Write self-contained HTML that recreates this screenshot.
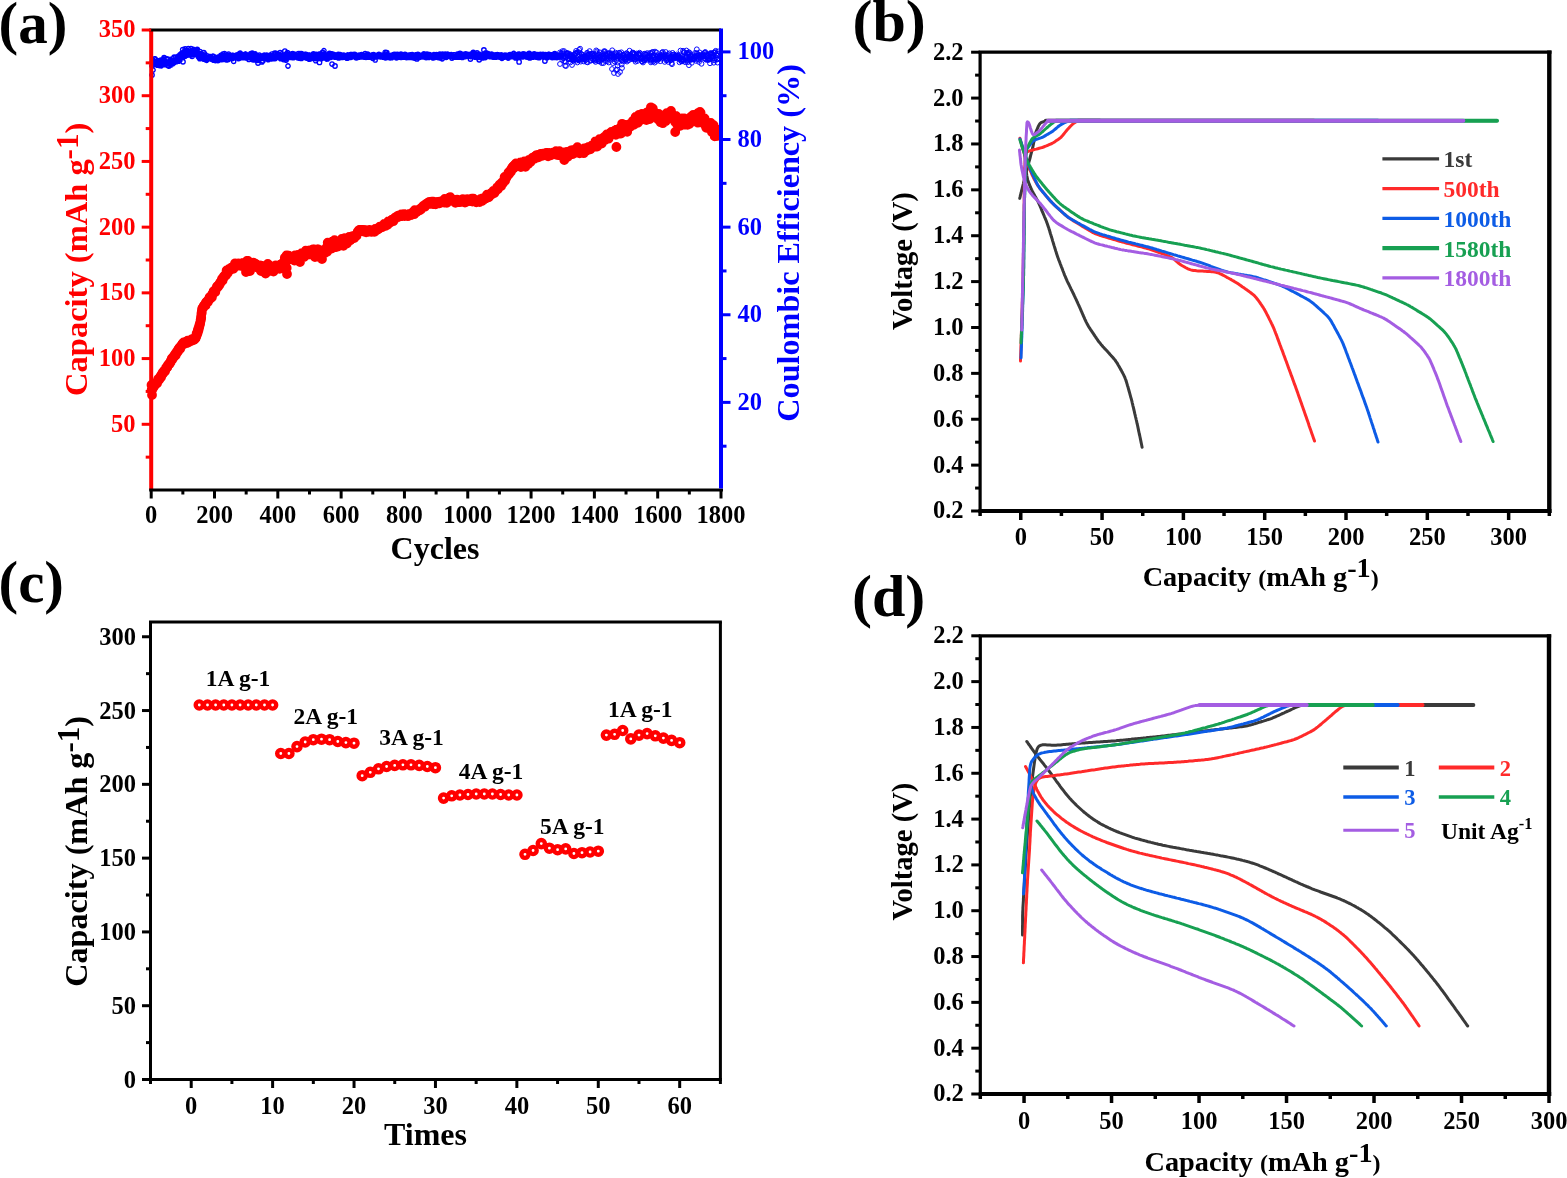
<!DOCTYPE html>
<html><head><meta charset="utf-8"><title>Figure</title>
<style>
html,body{margin:0;padding:0;background:#fff;}
svg{display:block;}
text{font-family:'Liberation Serif','Times New Roman',serif;font-weight:bold;}
</style></head>
<body>
<svg width="1567" height="1178" viewBox="0 0 1567 1178">
<rect width="1567" height="1178" fill="#fff"/>
<path d="M150.3 61.7a2.2 2.2 0 1 0 4.4 0a2.2 2.2 0 1 0 -4.4 0M150.6 63.2a2.2 2.2 0 1 0 4.4 0a2.2 2.2 0 1 0 -4.4 0M150.9 60.4a2.2 2.2 0 1 0 4.4 0a2.2 2.2 0 1 0 -4.4 0M151.2 61.8a2.2 2.2 0 1 0 4.4 0a2.2 2.2 0 1 0 -4.4 0M151.6 64.4a2.2 2.2 0 1 0 4.4 0a2.2 2.2 0 1 0 -4.4 0M151.9 62.8a2.2 2.2 0 1 0 4.4 0a2.2 2.2 0 1 0 -4.4 0M152.2 59.0a2.2 2.2 0 1 0 4.4 0a2.2 2.2 0 1 0 -4.4 0M152.5 64.1a2.2 2.2 0 1 0 4.4 0a2.2 2.2 0 1 0 -4.4 0M152.8 59.1a2.2 2.2 0 1 0 4.4 0a2.2 2.2 0 1 0 -4.4 0M153.1 59.0a2.2 2.2 0 1 0 4.4 0a2.2 2.2 0 1 0 -4.4 0M153.4 63.1a2.2 2.2 0 1 0 4.4 0a2.2 2.2 0 1 0 -4.4 0M153.8 62.5a2.2 2.2 0 1 0 4.4 0a2.2 2.2 0 1 0 -4.4 0M154.1 63.2a2.2 2.2 0 1 0 4.4 0a2.2 2.2 0 1 0 -4.4 0M154.4 63.4a2.2 2.2 0 1 0 4.4 0a2.2 2.2 0 1 0 -4.4 0M154.7 63.8a2.2 2.2 0 1 0 4.4 0a2.2 2.2 0 1 0 -4.4 0M155.0 65.1a2.2 2.2 0 1 0 4.4 0a2.2 2.2 0 1 0 -4.4 0M155.3 62.0a2.2 2.2 0 1 0 4.4 0a2.2 2.2 0 1 0 -4.4 0M155.6 62.5a2.2 2.2 0 1 0 4.4 0a2.2 2.2 0 1 0 -4.4 0M156.0 61.9a2.2 2.2 0 1 0 4.4 0a2.2 2.2 0 1 0 -4.4 0M156.3 60.9a2.2 2.2 0 1 0 4.4 0a2.2 2.2 0 1 0 -4.4 0M156.6 61.2a2.2 2.2 0 1 0 4.4 0a2.2 2.2 0 1 0 -4.4 0M156.9 63.4a2.2 2.2 0 1 0 4.4 0a2.2 2.2 0 1 0 -4.4 0M157.2 63.0a2.2 2.2 0 1 0 4.4 0a2.2 2.2 0 1 0 -4.4 0M157.5 65.6a2.2 2.2 0 1 0 4.4 0a2.2 2.2 0 1 0 -4.4 0M157.8 62.8a2.2 2.2 0 1 0 4.4 0a2.2 2.2 0 1 0 -4.4 0M158.2 61.3a2.2 2.2 0 1 0 4.4 0a2.2 2.2 0 1 0 -4.4 0M158.5 60.0a2.2 2.2 0 1 0 4.4 0a2.2 2.2 0 1 0 -4.4 0M158.8 64.6a2.2 2.2 0 1 0 4.4 0a2.2 2.2 0 1 0 -4.4 0M159.1 65.8a2.2 2.2 0 1 0 4.4 0a2.2 2.2 0 1 0 -4.4 0M159.4 63.6a2.2 2.2 0 1 0 4.4 0a2.2 2.2 0 1 0 -4.4 0M159.7 64.1a2.2 2.2 0 1 0 4.4 0a2.2 2.2 0 1 0 -4.4 0M160.0 61.6a2.2 2.2 0 1 0 4.4 0a2.2 2.2 0 1 0 -4.4 0M160.4 60.9a2.2 2.2 0 1 0 4.4 0a2.2 2.2 0 1 0 -4.4 0M160.7 61.7a2.2 2.2 0 1 0 4.4 0a2.2 2.2 0 1 0 -4.4 0M161.0 59.8a2.2 2.2 0 1 0 4.4 0a2.2 2.2 0 1 0 -4.4 0M161.3 63.2a2.2 2.2 0 1 0 4.4 0a2.2 2.2 0 1 0 -4.4 0M161.6 58.9a2.2 2.2 0 1 0 4.4 0a2.2 2.2 0 1 0 -4.4 0M161.9 57.6a2.2 2.2 0 1 0 4.4 0a2.2 2.2 0 1 0 -4.4 0M162.2 60.4a2.2 2.2 0 1 0 4.4 0a2.2 2.2 0 1 0 -4.4 0M162.6 64.6a2.2 2.2 0 1 0 4.4 0a2.2 2.2 0 1 0 -4.4 0M162.9 63.1a2.2 2.2 0 1 0 4.4 0a2.2 2.2 0 1 0 -4.4 0M163.2 63.4a2.2 2.2 0 1 0 4.4 0a2.2 2.2 0 1 0 -4.4 0M163.5 63.6a2.2 2.2 0 1 0 4.4 0a2.2 2.2 0 1 0 -4.4 0M163.8 63.6a2.2 2.2 0 1 0 4.4 0a2.2 2.2 0 1 0 -4.4 0M164.1 64.4a2.2 2.2 0 1 0 4.4 0a2.2 2.2 0 1 0 -4.4 0M164.5 63.5a2.2 2.2 0 1 0 4.4 0a2.2 2.2 0 1 0 -4.4 0M164.8 64.1a2.2 2.2 0 1 0 4.4 0a2.2 2.2 0 1 0 -4.4 0M165.1 58.8a2.2 2.2 0 1 0 4.4 0a2.2 2.2 0 1 0 -4.4 0M165.4 59.7a2.2 2.2 0 1 0 4.4 0a2.2 2.2 0 1 0 -4.4 0M165.7 65.6a2.2 2.2 0 1 0 4.4 0a2.2 2.2 0 1 0 -4.4 0M166.0 63.0a2.2 2.2 0 1 0 4.4 0a2.2 2.2 0 1 0 -4.4 0M166.3 63.6a2.2 2.2 0 1 0 4.4 0a2.2 2.2 0 1 0 -4.4 0M166.7 66.1a2.2 2.2 0 1 0 4.4 0a2.2 2.2 0 1 0 -4.4 0M167.0 61.4a2.2 2.2 0 1 0 4.4 0a2.2 2.2 0 1 0 -4.4 0M167.3 61.8a2.2 2.2 0 1 0 4.4 0a2.2 2.2 0 1 0 -4.4 0M167.6 63.1a2.2 2.2 0 1 0 4.4 0a2.2 2.2 0 1 0 -4.4 0M167.9 60.3a2.2 2.2 0 1 0 4.4 0a2.2 2.2 0 1 0 -4.4 0M168.2 59.4a2.2 2.2 0 1 0 4.4 0a2.2 2.2 0 1 0 -4.4 0M168.5 65.0a2.2 2.2 0 1 0 4.4 0a2.2 2.2 0 1 0 -4.4 0M168.9 61.2a2.2 2.2 0 1 0 4.4 0a2.2 2.2 0 1 0 -4.4 0M169.2 60.2a2.2 2.2 0 1 0 4.4 0a2.2 2.2 0 1 0 -4.4 0M169.5 63.4a2.2 2.2 0 1 0 4.4 0a2.2 2.2 0 1 0 -4.4 0M169.8 64.1a2.2 2.2 0 1 0 4.4 0a2.2 2.2 0 1 0 -4.4 0M170.1 61.6a2.2 2.2 0 1 0 4.4 0a2.2 2.2 0 1 0 -4.4 0M170.4 63.8a2.2 2.2 0 1 0 4.4 0a2.2 2.2 0 1 0 -4.4 0M170.7 63.1a2.2 2.2 0 1 0 4.4 0a2.2 2.2 0 1 0 -4.4 0M171.1 60.8a2.2 2.2 0 1 0 4.4 0a2.2 2.2 0 1 0 -4.4 0M171.4 60.7a2.2 2.2 0 1 0 4.4 0a2.2 2.2 0 1 0 -4.4 0M171.7 57.7a2.2 2.2 0 1 0 4.4 0a2.2 2.2 0 1 0 -4.4 0M172.0 57.2a2.2 2.2 0 1 0 4.4 0a2.2 2.2 0 1 0 -4.4 0M172.3 62.5a2.2 2.2 0 1 0 4.4 0a2.2 2.2 0 1 0 -4.4 0M172.6 62.1a2.2 2.2 0 1 0 4.4 0a2.2 2.2 0 1 0 -4.4 0M172.9 60.0a2.2 2.2 0 1 0 4.4 0a2.2 2.2 0 1 0 -4.4 0M173.3 61.3a2.2 2.2 0 1 0 4.4 0a2.2 2.2 0 1 0 -4.4 0M173.6 57.1a2.2 2.2 0 1 0 4.4 0a2.2 2.2 0 1 0 -4.4 0M173.9 60.4a2.2 2.2 0 1 0 4.4 0a2.2 2.2 0 1 0 -4.4 0M174.2 61.6a2.2 2.2 0 1 0 4.4 0a2.2 2.2 0 1 0 -4.4 0M174.5 59.1a2.2 2.2 0 1 0 4.4 0a2.2 2.2 0 1 0 -4.4 0M174.8 59.6a2.2 2.2 0 1 0 4.4 0a2.2 2.2 0 1 0 -4.4 0M175.1 57.6a2.2 2.2 0 1 0 4.4 0a2.2 2.2 0 1 0 -4.4 0M175.5 60.5a2.2 2.2 0 1 0 4.4 0a2.2 2.2 0 1 0 -4.4 0M175.8 57.0a2.2 2.2 0 1 0 4.4 0a2.2 2.2 0 1 0 -4.4 0M176.1 59.3a2.2 2.2 0 1 0 4.4 0a2.2 2.2 0 1 0 -4.4 0M176.4 61.2a2.2 2.2 0 1 0 4.4 0a2.2 2.2 0 1 0 -4.4 0M176.7 55.9a2.2 2.2 0 1 0 4.4 0a2.2 2.2 0 1 0 -4.4 0M177.0 56.1a2.2 2.2 0 1 0 4.4 0a2.2 2.2 0 1 0 -4.4 0M177.3 58.4a2.2 2.2 0 1 0 4.4 0a2.2 2.2 0 1 0 -4.4 0M177.7 60.1a2.2 2.2 0 1 0 4.4 0a2.2 2.2 0 1 0 -4.4 0M178.0 54.6a2.2 2.2 0 1 0 4.4 0a2.2 2.2 0 1 0 -4.4 0M178.3 57.7a2.2 2.2 0 1 0 4.4 0a2.2 2.2 0 1 0 -4.4 0M178.6 55.9a2.2 2.2 0 1 0 4.4 0a2.2 2.2 0 1 0 -4.4 0M178.9 57.1a2.2 2.2 0 1 0 4.4 0a2.2 2.2 0 1 0 -4.4 0M179.2 57.7a2.2 2.2 0 1 0 4.4 0a2.2 2.2 0 1 0 -4.4 0M179.5 53.3a2.2 2.2 0 1 0 4.4 0a2.2 2.2 0 1 0 -4.4 0M179.9 56.8a2.2 2.2 0 1 0 4.4 0a2.2 2.2 0 1 0 -4.4 0M180.2 56.1a2.2 2.2 0 1 0 4.4 0a2.2 2.2 0 1 0 -4.4 0M180.5 49.5a2.2 2.2 0 1 0 4.4 0a2.2 2.2 0 1 0 -4.4 0M180.8 61.8a2.2 2.2 0 1 0 4.4 0a2.2 2.2 0 1 0 -4.4 0M181.1 57.2a2.2 2.2 0 1 0 4.4 0a2.2 2.2 0 1 0 -4.4 0M181.4 55.9a2.2 2.2 0 1 0 4.4 0a2.2 2.2 0 1 0 -4.4 0M181.7 54.1a2.2 2.2 0 1 0 4.4 0a2.2 2.2 0 1 0 -4.4 0M182.1 51.5a2.2 2.2 0 1 0 4.4 0a2.2 2.2 0 1 0 -4.4 0M182.4 51.6a2.2 2.2 0 1 0 4.4 0a2.2 2.2 0 1 0 -4.4 0M182.7 56.2a2.2 2.2 0 1 0 4.4 0a2.2 2.2 0 1 0 -4.4 0M183.0 48.9a2.2 2.2 0 1 0 4.4 0a2.2 2.2 0 1 0 -4.4 0M183.3 55.3a2.2 2.2 0 1 0 4.4 0a2.2 2.2 0 1 0 -4.4 0M183.6 53.0a2.2 2.2 0 1 0 4.4 0a2.2 2.2 0 1 0 -4.4 0M183.9 52.8a2.2 2.2 0 1 0 4.4 0a2.2 2.2 0 1 0 -4.4 0M184.3 54.3a2.2 2.2 0 1 0 4.4 0a2.2 2.2 0 1 0 -4.4 0M184.6 55.1a2.2 2.2 0 1 0 4.4 0a2.2 2.2 0 1 0 -4.4 0M184.9 50.6a2.2 2.2 0 1 0 4.4 0a2.2 2.2 0 1 0 -4.4 0M185.2 54.2a2.2 2.2 0 1 0 4.4 0a2.2 2.2 0 1 0 -4.4 0M185.5 55.0a2.2 2.2 0 1 0 4.4 0a2.2 2.2 0 1 0 -4.4 0M185.8 51.7a2.2 2.2 0 1 0 4.4 0a2.2 2.2 0 1 0 -4.4 0M186.1 48.6a2.2 2.2 0 1 0 4.4 0a2.2 2.2 0 1 0 -4.4 0M186.5 53.9a2.2 2.2 0 1 0 4.4 0a2.2 2.2 0 1 0 -4.4 0M186.8 52.3a2.2 2.2 0 1 0 4.4 0a2.2 2.2 0 1 0 -4.4 0M187.1 54.0a2.2 2.2 0 1 0 4.4 0a2.2 2.2 0 1 0 -4.4 0M187.4 52.3a2.2 2.2 0 1 0 4.4 0a2.2 2.2 0 1 0 -4.4 0M187.7 54.5a2.2 2.2 0 1 0 4.4 0a2.2 2.2 0 1 0 -4.4 0M188.0 51.1a2.2 2.2 0 1 0 4.4 0a2.2 2.2 0 1 0 -4.4 0M188.3 54.3a2.2 2.2 0 1 0 4.4 0a2.2 2.2 0 1 0 -4.4 0M188.7 48.6a2.2 2.2 0 1 0 4.4 0a2.2 2.2 0 1 0 -4.4 0M189.0 54.7a2.2 2.2 0 1 0 4.4 0a2.2 2.2 0 1 0 -4.4 0M189.3 52.2a2.2 2.2 0 1 0 4.4 0a2.2 2.2 0 1 0 -4.4 0M189.6 52.6a2.2 2.2 0 1 0 4.4 0a2.2 2.2 0 1 0 -4.4 0M189.9 56.3a2.2 2.2 0 1 0 4.4 0a2.2 2.2 0 1 0 -4.4 0M190.2 52.8a2.2 2.2 0 1 0 4.4 0a2.2 2.2 0 1 0 -4.4 0M190.5 52.4a2.2 2.2 0 1 0 4.4 0a2.2 2.2 0 1 0 -4.4 0M190.9 50.3a2.2 2.2 0 1 0 4.4 0a2.2 2.2 0 1 0 -4.4 0M191.2 49.5a2.2 2.2 0 1 0 4.4 0a2.2 2.2 0 1 0 -4.4 0M191.5 51.7a2.2 2.2 0 1 0 4.4 0a2.2 2.2 0 1 0 -4.4 0M191.8 52.9a2.2 2.2 0 1 0 4.4 0a2.2 2.2 0 1 0 -4.4 0M192.1 54.5a2.2 2.2 0 1 0 4.4 0a2.2 2.2 0 1 0 -4.4 0M192.4 49.8a2.2 2.2 0 1 0 4.4 0a2.2 2.2 0 1 0 -4.4 0M192.8 51.7a2.2 2.2 0 1 0 4.4 0a2.2 2.2 0 1 0 -4.4 0M193.1 51.3a2.2 2.2 0 1 0 4.4 0a2.2 2.2 0 1 0 -4.4 0M193.4 51.7a2.2 2.2 0 1 0 4.4 0a2.2 2.2 0 1 0 -4.4 0M193.7 51.0a2.2 2.2 0 1 0 4.4 0a2.2 2.2 0 1 0 -4.4 0M194.0 54.2a2.2 2.2 0 1 0 4.4 0a2.2 2.2 0 1 0 -4.4 0M194.3 52.3a2.2 2.2 0 1 0 4.4 0a2.2 2.2 0 1 0 -4.4 0M194.6 49.9a2.2 2.2 0 1 0 4.4 0a2.2 2.2 0 1 0 -4.4 0M195.0 49.4a2.2 2.2 0 1 0 4.4 0a2.2 2.2 0 1 0 -4.4 0M195.3 52.2a2.2 2.2 0 1 0 4.4 0a2.2 2.2 0 1 0 -4.4 0M195.6 55.7a2.2 2.2 0 1 0 4.4 0a2.2 2.2 0 1 0 -4.4 0M195.9 55.7a2.2 2.2 0 1 0 4.4 0a2.2 2.2 0 1 0 -4.4 0M196.2 57.0a2.2 2.2 0 1 0 4.4 0a2.2 2.2 0 1 0 -4.4 0M196.5 55.8a2.2 2.2 0 1 0 4.4 0a2.2 2.2 0 1 0 -4.4 0M196.8 56.4a2.2 2.2 0 1 0 4.4 0a2.2 2.2 0 1 0 -4.4 0M197.2 57.4a2.2 2.2 0 1 0 4.4 0a2.2 2.2 0 1 0 -4.4 0M197.5 58.7a2.2 2.2 0 1 0 4.4 0a2.2 2.2 0 1 0 -4.4 0M197.8 51.5a2.2 2.2 0 1 0 4.4 0a2.2 2.2 0 1 0 -4.4 0M198.1 53.7a2.2 2.2 0 1 0 4.4 0a2.2 2.2 0 1 0 -4.4 0M198.4 56.3a2.2 2.2 0 1 0 4.4 0a2.2 2.2 0 1 0 -4.4 0M198.7 56.2a2.2 2.2 0 1 0 4.4 0a2.2 2.2 0 1 0 -4.4 0M199.0 56.8a2.2 2.2 0 1 0 4.4 0a2.2 2.2 0 1 0 -4.4 0M199.4 56.1a2.2 2.2 0 1 0 4.4 0a2.2 2.2 0 1 0 -4.4 0M199.7 57.0a2.2 2.2 0 1 0 4.4 0a2.2 2.2 0 1 0 -4.4 0M200.0 54.3a2.2 2.2 0 1 0 4.4 0a2.2 2.2 0 1 0 -4.4 0M200.3 55.5a2.2 2.2 0 1 0 4.4 0a2.2 2.2 0 1 0 -4.4 0M200.6 54.8a2.2 2.2 0 1 0 4.4 0a2.2 2.2 0 1 0 -4.4 0M200.9 55.0a2.2 2.2 0 1 0 4.4 0a2.2 2.2 0 1 0 -4.4 0M201.2 57.3a2.2 2.2 0 1 0 4.4 0a2.2 2.2 0 1 0 -4.4 0M201.6 52.6a2.2 2.2 0 1 0 4.4 0a2.2 2.2 0 1 0 -4.4 0M201.9 59.2a2.2 2.2 0 1 0 4.4 0a2.2 2.2 0 1 0 -4.4 0M202.2 57.4a2.2 2.2 0 1 0 4.4 0a2.2 2.2 0 1 0 -4.4 0M202.5 54.0a2.2 2.2 0 1 0 4.4 0a2.2 2.2 0 1 0 -4.4 0M202.8 58.6a2.2 2.2 0 1 0 4.4 0a2.2 2.2 0 1 0 -4.4 0M203.1 59.0a2.2 2.2 0 1 0 4.4 0a2.2 2.2 0 1 0 -4.4 0M203.4 59.8a2.2 2.2 0 1 0 4.4 0a2.2 2.2 0 1 0 -4.4 0M203.8 57.5a2.2 2.2 0 1 0 4.4 0a2.2 2.2 0 1 0 -4.4 0M204.1 57.4a2.2 2.2 0 1 0 4.4 0a2.2 2.2 0 1 0 -4.4 0M204.4 60.3a2.2 2.2 0 1 0 4.4 0a2.2 2.2 0 1 0 -4.4 0M204.7 58.7a2.2 2.2 0 1 0 4.4 0a2.2 2.2 0 1 0 -4.4 0M205.0 59.8a2.2 2.2 0 1 0 4.4 0a2.2 2.2 0 1 0 -4.4 0M205.3 58.7a2.2 2.2 0 1 0 4.4 0a2.2 2.2 0 1 0 -4.4 0M205.6 56.0a2.2 2.2 0 1 0 4.4 0a2.2 2.2 0 1 0 -4.4 0M206.0 57.7a2.2 2.2 0 1 0 4.4 0a2.2 2.2 0 1 0 -4.4 0M206.3 57.3a2.2 2.2 0 1 0 4.4 0a2.2 2.2 0 1 0 -4.4 0M206.6 58.2a2.2 2.2 0 1 0 4.4 0a2.2 2.2 0 1 0 -4.4 0M206.9 58.1a2.2 2.2 0 1 0 4.4 0a2.2 2.2 0 1 0 -4.4 0M207.2 58.0a2.2 2.2 0 1 0 4.4 0a2.2 2.2 0 1 0 -4.4 0M207.5 57.0a2.2 2.2 0 1 0 4.4 0a2.2 2.2 0 1 0 -4.4 0M207.8 58.7a2.2 2.2 0 1 0 4.4 0a2.2 2.2 0 1 0 -4.4 0M208.2 56.6a2.2 2.2 0 1 0 4.4 0a2.2 2.2 0 1 0 -4.4 0M208.5 57.6a2.2 2.2 0 1 0 4.4 0a2.2 2.2 0 1 0 -4.4 0M208.8 57.6a2.2 2.2 0 1 0 4.4 0a2.2 2.2 0 1 0 -4.4 0M209.1 57.9a2.2 2.2 0 1 0 4.4 0a2.2 2.2 0 1 0 -4.4 0M209.4 58.3a2.2 2.2 0 1 0 4.4 0a2.2 2.2 0 1 0 -4.4 0M209.7 59.3a2.2 2.2 0 1 0 4.4 0a2.2 2.2 0 1 0 -4.4 0M210.0 58.4a2.2 2.2 0 1 0 4.4 0a2.2 2.2 0 1 0 -4.4 0M210.4 56.3a2.2 2.2 0 1 0 4.4 0a2.2 2.2 0 1 0 -4.4 0M210.7 56.4a2.2 2.2 0 1 0 4.4 0a2.2 2.2 0 1 0 -4.4 0M211.0 58.9a2.2 2.2 0 1 0 4.4 0a2.2 2.2 0 1 0 -4.4 0M211.3 56.3a2.2 2.2 0 1 0 4.4 0a2.2 2.2 0 1 0 -4.4 0M211.6 60.2a2.2 2.2 0 1 0 4.4 0a2.2 2.2 0 1 0 -4.4 0M211.9 56.8a2.2 2.2 0 1 0 4.4 0a2.2 2.2 0 1 0 -4.4 0M212.2 58.7a2.2 2.2 0 1 0 4.4 0a2.2 2.2 0 1 0 -4.4 0M212.6 60.2a2.2 2.2 0 1 0 4.4 0a2.2 2.2 0 1 0 -4.4 0M212.9 59.1a2.2 2.2 0 1 0 4.4 0a2.2 2.2 0 1 0 -4.4 0M213.2 60.5a2.2 2.2 0 1 0 4.4 0a2.2 2.2 0 1 0 -4.4 0M213.5 59.4a2.2 2.2 0 1 0 4.4 0a2.2 2.2 0 1 0 -4.4 0M213.8 57.7a2.2 2.2 0 1 0 4.4 0a2.2 2.2 0 1 0 -4.4 0M214.1 59.0a2.2 2.2 0 1 0 4.4 0a2.2 2.2 0 1 0 -4.4 0M214.4 58.8a2.2 2.2 0 1 0 4.4 0a2.2 2.2 0 1 0 -4.4 0M214.8 59.2a2.2 2.2 0 1 0 4.4 0a2.2 2.2 0 1 0 -4.4 0M215.1 59.7a2.2 2.2 0 1 0 4.4 0a2.2 2.2 0 1 0 -4.4 0M215.4 57.5a2.2 2.2 0 1 0 4.4 0a2.2 2.2 0 1 0 -4.4 0M215.7 60.6a2.2 2.2 0 1 0 4.4 0a2.2 2.2 0 1 0 -4.4 0M216.0 59.1a2.2 2.2 0 1 0 4.4 0a2.2 2.2 0 1 0 -4.4 0M216.3 57.1a2.2 2.2 0 1 0 4.4 0a2.2 2.2 0 1 0 -4.4 0M216.6 56.8a2.2 2.2 0 1 0 4.4 0a2.2 2.2 0 1 0 -4.4 0M217.0 58.0a2.2 2.2 0 1 0 4.4 0a2.2 2.2 0 1 0 -4.4 0M217.3 56.9a2.2 2.2 0 1 0 4.4 0a2.2 2.2 0 1 0 -4.4 0M217.6 57.0a2.2 2.2 0 1 0 4.4 0a2.2 2.2 0 1 0 -4.4 0M217.9 59.6a2.2 2.2 0 1 0 4.4 0a2.2 2.2 0 1 0 -4.4 0M218.2 58.1a2.2 2.2 0 1 0 4.4 0a2.2 2.2 0 1 0 -4.4 0M218.5 56.8a2.2 2.2 0 1 0 4.4 0a2.2 2.2 0 1 0 -4.4 0M218.8 55.4a2.2 2.2 0 1 0 4.4 0a2.2 2.2 0 1 0 -4.4 0M219.2 56.0a2.2 2.2 0 1 0 4.4 0a2.2 2.2 0 1 0 -4.4 0M219.5 57.0a2.2 2.2 0 1 0 4.4 0a2.2 2.2 0 1 0 -4.4 0M219.8 59.5a2.2 2.2 0 1 0 4.4 0a2.2 2.2 0 1 0 -4.4 0M220.1 57.0a2.2 2.2 0 1 0 4.4 0a2.2 2.2 0 1 0 -4.4 0M220.4 55.6a2.2 2.2 0 1 0 4.4 0a2.2 2.2 0 1 0 -4.4 0M220.7 54.1a2.2 2.2 0 1 0 4.4 0a2.2 2.2 0 1 0 -4.4 0M221.1 57.2a2.2 2.2 0 1 0 4.4 0a2.2 2.2 0 1 0 -4.4 0M221.4 57.4a2.2 2.2 0 1 0 4.4 0a2.2 2.2 0 1 0 -4.4 0M221.7 57.0a2.2 2.2 0 1 0 4.4 0a2.2 2.2 0 1 0 -4.4 0M222.0 56.4a2.2 2.2 0 1 0 4.4 0a2.2 2.2 0 1 0 -4.4 0M222.3 53.6a2.2 2.2 0 1 0 4.4 0a2.2 2.2 0 1 0 -4.4 0M222.6 59.3a2.2 2.2 0 1 0 4.4 0a2.2 2.2 0 1 0 -4.4 0M222.9 57.7a2.2 2.2 0 1 0 4.4 0a2.2 2.2 0 1 0 -4.4 0M223.3 56.7a2.2 2.2 0 1 0 4.4 0a2.2 2.2 0 1 0 -4.4 0M223.6 57.3a2.2 2.2 0 1 0 4.4 0a2.2 2.2 0 1 0 -4.4 0M223.9 57.2a2.2 2.2 0 1 0 4.4 0a2.2 2.2 0 1 0 -4.4 0M224.2 58.3a2.2 2.2 0 1 0 4.4 0a2.2 2.2 0 1 0 -4.4 0M224.5 60.0a2.2 2.2 0 1 0 4.4 0a2.2 2.2 0 1 0 -4.4 0M224.8 55.7a2.2 2.2 0 1 0 4.4 0a2.2 2.2 0 1 0 -4.4 0M225.1 57.0a2.2 2.2 0 1 0 4.4 0a2.2 2.2 0 1 0 -4.4 0M225.5 55.3a2.2 2.2 0 1 0 4.4 0a2.2 2.2 0 1 0 -4.4 0M225.8 57.2a2.2 2.2 0 1 0 4.4 0a2.2 2.2 0 1 0 -4.4 0M226.1 59.4a2.2 2.2 0 1 0 4.4 0a2.2 2.2 0 1 0 -4.4 0M226.4 54.1a2.2 2.2 0 1 0 4.4 0a2.2 2.2 0 1 0 -4.4 0M226.7 57.6a2.2 2.2 0 1 0 4.4 0a2.2 2.2 0 1 0 -4.4 0M227.0 56.8a2.2 2.2 0 1 0 4.4 0a2.2 2.2 0 1 0 -4.4 0M227.3 57.3a2.2 2.2 0 1 0 4.4 0a2.2 2.2 0 1 0 -4.4 0M227.7 55.7a2.2 2.2 0 1 0 4.4 0a2.2 2.2 0 1 0 -4.4 0M228.0 56.0a2.2 2.2 0 1 0 4.4 0a2.2 2.2 0 1 0 -4.4 0M228.3 56.2a2.2 2.2 0 1 0 4.4 0a2.2 2.2 0 1 0 -4.4 0M228.6 56.2a2.2 2.2 0 1 0 4.4 0a2.2 2.2 0 1 0 -4.4 0M228.9 57.4a2.2 2.2 0 1 0 4.4 0a2.2 2.2 0 1 0 -4.4 0M229.2 56.6a2.2 2.2 0 1 0 4.4 0a2.2 2.2 0 1 0 -4.4 0M229.5 56.3a2.2 2.2 0 1 0 4.4 0a2.2 2.2 0 1 0 -4.4 0M229.9 55.4a2.2 2.2 0 1 0 4.4 0a2.2 2.2 0 1 0 -4.4 0M230.2 58.5a2.2 2.2 0 1 0 4.4 0a2.2 2.2 0 1 0 -4.4 0M230.5 56.5a2.2 2.2 0 1 0 4.4 0a2.2 2.2 0 1 0 -4.4 0M230.8 55.3a2.2 2.2 0 1 0 4.4 0a2.2 2.2 0 1 0 -4.4 0M231.1 56.7a2.2 2.2 0 1 0 4.4 0a2.2 2.2 0 1 0 -4.4 0M231.4 61.3a2.2 2.2 0 1 0 4.4 0a2.2 2.2 0 1 0 -4.4 0M231.7 56.3a2.2 2.2 0 1 0 4.4 0a2.2 2.2 0 1 0 -4.4 0M232.1 57.0a2.2 2.2 0 1 0 4.4 0a2.2 2.2 0 1 0 -4.4 0M232.4 56.2a2.2 2.2 0 1 0 4.4 0a2.2 2.2 0 1 0 -4.4 0M232.7 56.3a2.2 2.2 0 1 0 4.4 0a2.2 2.2 0 1 0 -4.4 0M233.0 57.8a2.2 2.2 0 1 0 4.4 0a2.2 2.2 0 1 0 -4.4 0M233.3 56.2a2.2 2.2 0 1 0 4.4 0a2.2 2.2 0 1 0 -4.4 0M233.6 57.1a2.2 2.2 0 1 0 4.4 0a2.2 2.2 0 1 0 -4.4 0M233.9 57.4a2.2 2.2 0 1 0 4.4 0a2.2 2.2 0 1 0 -4.4 0M234.3 55.2a2.2 2.2 0 1 0 4.4 0a2.2 2.2 0 1 0 -4.4 0M234.6 55.6a2.2 2.2 0 1 0 4.4 0a2.2 2.2 0 1 0 -4.4 0M234.9 54.8a2.2 2.2 0 1 0 4.4 0a2.2 2.2 0 1 0 -4.4 0M235.2 55.7a2.2 2.2 0 1 0 4.4 0a2.2 2.2 0 1 0 -4.4 0M235.5 56.7a2.2 2.2 0 1 0 4.4 0a2.2 2.2 0 1 0 -4.4 0M235.8 55.4a2.2 2.2 0 1 0 4.4 0a2.2 2.2 0 1 0 -4.4 0M236.1 57.4a2.2 2.2 0 1 0 4.4 0a2.2 2.2 0 1 0 -4.4 0M236.5 58.6a2.2 2.2 0 1 0 4.4 0a2.2 2.2 0 1 0 -4.4 0M236.8 56.3a2.2 2.2 0 1 0 4.4 0a2.2 2.2 0 1 0 -4.4 0M237.1 53.7a2.2 2.2 0 1 0 4.4 0a2.2 2.2 0 1 0 -4.4 0M237.4 58.0a2.2 2.2 0 1 0 4.4 0a2.2 2.2 0 1 0 -4.4 0M237.7 56.1a2.2 2.2 0 1 0 4.4 0a2.2 2.2 0 1 0 -4.4 0M238.0 53.1a2.2 2.2 0 1 0 4.4 0a2.2 2.2 0 1 0 -4.4 0M238.3 54.9a2.2 2.2 0 1 0 4.4 0a2.2 2.2 0 1 0 -4.4 0M238.7 54.2a2.2 2.2 0 1 0 4.4 0a2.2 2.2 0 1 0 -4.4 0M239.0 54.9a2.2 2.2 0 1 0 4.4 0a2.2 2.2 0 1 0 -4.4 0M239.3 56.6a2.2 2.2 0 1 0 4.4 0a2.2 2.2 0 1 0 -4.4 0M239.6 55.8a2.2 2.2 0 1 0 4.4 0a2.2 2.2 0 1 0 -4.4 0M239.9 56.3a2.2 2.2 0 1 0 4.4 0a2.2 2.2 0 1 0 -4.4 0M240.2 57.5a2.2 2.2 0 1 0 4.4 0a2.2 2.2 0 1 0 -4.4 0M240.5 54.8a2.2 2.2 0 1 0 4.4 0a2.2 2.2 0 1 0 -4.4 0M240.9 57.6a2.2 2.2 0 1 0 4.4 0a2.2 2.2 0 1 0 -4.4 0M241.2 55.5a2.2 2.2 0 1 0 4.4 0a2.2 2.2 0 1 0 -4.4 0M241.5 57.4a2.2 2.2 0 1 0 4.4 0a2.2 2.2 0 1 0 -4.4 0M241.8 54.9a2.2 2.2 0 1 0 4.4 0a2.2 2.2 0 1 0 -4.4 0M242.1 57.0a2.2 2.2 0 1 0 4.4 0a2.2 2.2 0 1 0 -4.4 0M242.4 57.6a2.2 2.2 0 1 0 4.4 0a2.2 2.2 0 1 0 -4.4 0M242.7 56.1a2.2 2.2 0 1 0 4.4 0a2.2 2.2 0 1 0 -4.4 0M243.1 54.1a2.2 2.2 0 1 0 4.4 0a2.2 2.2 0 1 0 -4.4 0M243.4 54.1a2.2 2.2 0 1 0 4.4 0a2.2 2.2 0 1 0 -4.4 0M243.7 56.5a2.2 2.2 0 1 0 4.4 0a2.2 2.2 0 1 0 -4.4 0M244.0 57.9a2.2 2.2 0 1 0 4.4 0a2.2 2.2 0 1 0 -4.4 0M244.3 57.1a2.2 2.2 0 1 0 4.4 0a2.2 2.2 0 1 0 -4.4 0M244.6 55.1a2.2 2.2 0 1 0 4.4 0a2.2 2.2 0 1 0 -4.4 0M244.9 56.8a2.2 2.2 0 1 0 4.4 0a2.2 2.2 0 1 0 -4.4 0M245.3 55.3a2.2 2.2 0 1 0 4.4 0a2.2 2.2 0 1 0 -4.4 0M245.6 56.1a2.2 2.2 0 1 0 4.4 0a2.2 2.2 0 1 0 -4.4 0M245.9 55.8a2.2 2.2 0 1 0 4.4 0a2.2 2.2 0 1 0 -4.4 0M246.2 57.7a2.2 2.2 0 1 0 4.4 0a2.2 2.2 0 1 0 -4.4 0M246.5 59.4a2.2 2.2 0 1 0 4.4 0a2.2 2.2 0 1 0 -4.4 0M246.8 56.8a2.2 2.2 0 1 0 4.4 0a2.2 2.2 0 1 0 -4.4 0M247.1 56.8a2.2 2.2 0 1 0 4.4 0a2.2 2.2 0 1 0 -4.4 0M247.5 57.6a2.2 2.2 0 1 0 4.4 0a2.2 2.2 0 1 0 -4.4 0M247.8 55.2a2.2 2.2 0 1 0 4.4 0a2.2 2.2 0 1 0 -4.4 0M248.1 55.9a2.2 2.2 0 1 0 4.4 0a2.2 2.2 0 1 0 -4.4 0M248.4 57.3a2.2 2.2 0 1 0 4.4 0a2.2 2.2 0 1 0 -4.4 0M248.7 53.7a2.2 2.2 0 1 0 4.4 0a2.2 2.2 0 1 0 -4.4 0M249.0 54.9a2.2 2.2 0 1 0 4.4 0a2.2 2.2 0 1 0 -4.4 0M249.4 58.0a2.2 2.2 0 1 0 4.4 0a2.2 2.2 0 1 0 -4.4 0M249.7 58.1a2.2 2.2 0 1 0 4.4 0a2.2 2.2 0 1 0 -4.4 0M250.0 53.0a2.2 2.2 0 1 0 4.4 0a2.2 2.2 0 1 0 -4.4 0M250.3 56.9a2.2 2.2 0 1 0 4.4 0a2.2 2.2 0 1 0 -4.4 0M250.6 53.9a2.2 2.2 0 1 0 4.4 0a2.2 2.2 0 1 0 -4.4 0M250.9 59.8a2.2 2.2 0 1 0 4.4 0a2.2 2.2 0 1 0 -4.4 0M251.2 58.2a2.2 2.2 0 1 0 4.4 0a2.2 2.2 0 1 0 -4.4 0M251.6 55.1a2.2 2.2 0 1 0 4.4 0a2.2 2.2 0 1 0 -4.4 0M251.9 57.0a2.2 2.2 0 1 0 4.4 0a2.2 2.2 0 1 0 -4.4 0M252.2 59.0a2.2 2.2 0 1 0 4.4 0a2.2 2.2 0 1 0 -4.4 0M252.5 60.0a2.2 2.2 0 1 0 4.4 0a2.2 2.2 0 1 0 -4.4 0M252.8 55.9a2.2 2.2 0 1 0 4.4 0a2.2 2.2 0 1 0 -4.4 0M253.1 54.0a2.2 2.2 0 1 0 4.4 0a2.2 2.2 0 1 0 -4.4 0M253.4 56.8a2.2 2.2 0 1 0 4.4 0a2.2 2.2 0 1 0 -4.4 0M253.8 56.7a2.2 2.2 0 1 0 4.4 0a2.2 2.2 0 1 0 -4.4 0M254.1 59.1a2.2 2.2 0 1 0 4.4 0a2.2 2.2 0 1 0 -4.4 0M254.4 57.4a2.2 2.2 0 1 0 4.4 0a2.2 2.2 0 1 0 -4.4 0M254.7 55.3a2.2 2.2 0 1 0 4.4 0a2.2 2.2 0 1 0 -4.4 0M255.0 56.6a2.2 2.2 0 1 0 4.4 0a2.2 2.2 0 1 0 -4.4 0M255.3 55.8a2.2 2.2 0 1 0 4.4 0a2.2 2.2 0 1 0 -4.4 0M255.6 60.3a2.2 2.2 0 1 0 4.4 0a2.2 2.2 0 1 0 -4.4 0M256.0 56.9a2.2 2.2 0 1 0 4.4 0a2.2 2.2 0 1 0 -4.4 0M256.3 56.9a2.2 2.2 0 1 0 4.4 0a2.2 2.2 0 1 0 -4.4 0M256.6 56.7a2.2 2.2 0 1 0 4.4 0a2.2 2.2 0 1 0 -4.4 0M256.9 58.2a2.2 2.2 0 1 0 4.4 0a2.2 2.2 0 1 0 -4.4 0M257.2 55.1a2.2 2.2 0 1 0 4.4 0a2.2 2.2 0 1 0 -4.4 0M257.5 56.7a2.2 2.2 0 1 0 4.4 0a2.2 2.2 0 1 0 -4.4 0M257.8 56.7a2.2 2.2 0 1 0 4.4 0a2.2 2.2 0 1 0 -4.4 0M258.2 56.6a2.2 2.2 0 1 0 4.4 0a2.2 2.2 0 1 0 -4.4 0M258.5 56.6a2.2 2.2 0 1 0 4.4 0a2.2 2.2 0 1 0 -4.4 0M258.8 56.5a2.2 2.2 0 1 0 4.4 0a2.2 2.2 0 1 0 -4.4 0M259.1 55.8a2.2 2.2 0 1 0 4.4 0a2.2 2.2 0 1 0 -4.4 0M259.4 58.2a2.2 2.2 0 1 0 4.4 0a2.2 2.2 0 1 0 -4.4 0M259.7 61.9a2.2 2.2 0 1 0 4.4 0a2.2 2.2 0 1 0 -4.4 0M260.0 58.1a2.2 2.2 0 1 0 4.4 0a2.2 2.2 0 1 0 -4.4 0M260.4 58.0a2.2 2.2 0 1 0 4.4 0a2.2 2.2 0 1 0 -4.4 0M260.7 60.7a2.2 2.2 0 1 0 4.4 0a2.2 2.2 0 1 0 -4.4 0M261.0 57.0a2.2 2.2 0 1 0 4.4 0a2.2 2.2 0 1 0 -4.4 0M261.3 58.0a2.2 2.2 0 1 0 4.4 0a2.2 2.2 0 1 0 -4.4 0M261.6 58.6a2.2 2.2 0 1 0 4.4 0a2.2 2.2 0 1 0 -4.4 0M261.9 56.4a2.2 2.2 0 1 0 4.4 0a2.2 2.2 0 1 0 -4.4 0M262.2 55.0a2.2 2.2 0 1 0 4.4 0a2.2 2.2 0 1 0 -4.4 0M262.6 58.0a2.2 2.2 0 1 0 4.4 0a2.2 2.2 0 1 0 -4.4 0M262.9 56.1a2.2 2.2 0 1 0 4.4 0a2.2 2.2 0 1 0 -4.4 0M263.2 57.5a2.2 2.2 0 1 0 4.4 0a2.2 2.2 0 1 0 -4.4 0M263.5 57.4a2.2 2.2 0 1 0 4.4 0a2.2 2.2 0 1 0 -4.4 0M263.8 57.0a2.2 2.2 0 1 0 4.4 0a2.2 2.2 0 1 0 -4.4 0M264.1 58.7a2.2 2.2 0 1 0 4.4 0a2.2 2.2 0 1 0 -4.4 0M264.4 55.2a2.2 2.2 0 1 0 4.4 0a2.2 2.2 0 1 0 -4.4 0M264.8 56.4a2.2 2.2 0 1 0 4.4 0a2.2 2.2 0 1 0 -4.4 0M265.1 57.7a2.2 2.2 0 1 0 4.4 0a2.2 2.2 0 1 0 -4.4 0M265.4 59.0a2.2 2.2 0 1 0 4.4 0a2.2 2.2 0 1 0 -4.4 0M265.7 57.2a2.2 2.2 0 1 0 4.4 0a2.2 2.2 0 1 0 -4.4 0M266.0 59.7a2.2 2.2 0 1 0 4.4 0a2.2 2.2 0 1 0 -4.4 0M266.3 57.6a2.2 2.2 0 1 0 4.4 0a2.2 2.2 0 1 0 -4.4 0M266.6 58.2a2.2 2.2 0 1 0 4.4 0a2.2 2.2 0 1 0 -4.4 0M267.0 55.5a2.2 2.2 0 1 0 4.4 0a2.2 2.2 0 1 0 -4.4 0M267.3 56.9a2.2 2.2 0 1 0 4.4 0a2.2 2.2 0 1 0 -4.4 0M267.6 55.5a2.2 2.2 0 1 0 4.4 0a2.2 2.2 0 1 0 -4.4 0M267.9 56.5a2.2 2.2 0 1 0 4.4 0a2.2 2.2 0 1 0 -4.4 0M268.2 55.8a2.2 2.2 0 1 0 4.4 0a2.2 2.2 0 1 0 -4.4 0M268.5 55.6a2.2 2.2 0 1 0 4.4 0a2.2 2.2 0 1 0 -4.4 0M268.8 58.9a2.2 2.2 0 1 0 4.4 0a2.2 2.2 0 1 0 -4.4 0M269.2 56.7a2.2 2.2 0 1 0 4.4 0a2.2 2.2 0 1 0 -4.4 0M269.5 58.8a2.2 2.2 0 1 0 4.4 0a2.2 2.2 0 1 0 -4.4 0M269.8 54.1a2.2 2.2 0 1 0 4.4 0a2.2 2.2 0 1 0 -4.4 0M270.1 57.3a2.2 2.2 0 1 0 4.4 0a2.2 2.2 0 1 0 -4.4 0M270.4 58.6a2.2 2.2 0 1 0 4.4 0a2.2 2.2 0 1 0 -4.4 0M270.7 57.5a2.2 2.2 0 1 0 4.4 0a2.2 2.2 0 1 0 -4.4 0M271.0 57.1a2.2 2.2 0 1 0 4.4 0a2.2 2.2 0 1 0 -4.4 0M271.4 56.5a2.2 2.2 0 1 0 4.4 0a2.2 2.2 0 1 0 -4.4 0M271.7 57.8a2.2 2.2 0 1 0 4.4 0a2.2 2.2 0 1 0 -4.4 0M272.0 56.1a2.2 2.2 0 1 0 4.4 0a2.2 2.2 0 1 0 -4.4 0M272.3 57.9a2.2 2.2 0 1 0 4.4 0a2.2 2.2 0 1 0 -4.4 0M272.6 53.2a2.2 2.2 0 1 0 4.4 0a2.2 2.2 0 1 0 -4.4 0M272.9 58.5a2.2 2.2 0 1 0 4.4 0a2.2 2.2 0 1 0 -4.4 0M273.2 58.1a2.2 2.2 0 1 0 4.4 0a2.2 2.2 0 1 0 -4.4 0M273.6 57.4a2.2 2.2 0 1 0 4.4 0a2.2 2.2 0 1 0 -4.4 0M273.9 53.4a2.2 2.2 0 1 0 4.4 0a2.2 2.2 0 1 0 -4.4 0M274.2 56.4a2.2 2.2 0 1 0 4.4 0a2.2 2.2 0 1 0 -4.4 0M274.5 56.6a2.2 2.2 0 1 0 4.4 0a2.2 2.2 0 1 0 -4.4 0M274.8 56.3a2.2 2.2 0 1 0 4.4 0a2.2 2.2 0 1 0 -4.4 0M275.1 55.8a2.2 2.2 0 1 0 4.4 0a2.2 2.2 0 1 0 -4.4 0M275.4 54.0a2.2 2.2 0 1 0 4.4 0a2.2 2.2 0 1 0 -4.4 0M275.8 57.2a2.2 2.2 0 1 0 4.4 0a2.2 2.2 0 1 0 -4.4 0M276.1 55.9a2.2 2.2 0 1 0 4.4 0a2.2 2.2 0 1 0 -4.4 0M276.4 57.1a2.2 2.2 0 1 0 4.4 0a2.2 2.2 0 1 0 -4.4 0M276.7 54.7a2.2 2.2 0 1 0 4.4 0a2.2 2.2 0 1 0 -4.4 0M277.0 56.7a2.2 2.2 0 1 0 4.4 0a2.2 2.2 0 1 0 -4.4 0M277.3 57.0a2.2 2.2 0 1 0 4.4 0a2.2 2.2 0 1 0 -4.4 0M277.7 56.9a2.2 2.2 0 1 0 4.4 0a2.2 2.2 0 1 0 -4.4 0M278.0 52.6a2.2 2.2 0 1 0 4.4 0a2.2 2.2 0 1 0 -4.4 0M278.3 58.6a2.2 2.2 0 1 0 4.4 0a2.2 2.2 0 1 0 -4.4 0M278.6 57.6a2.2 2.2 0 1 0 4.4 0a2.2 2.2 0 1 0 -4.4 0M278.9 57.7a2.2 2.2 0 1 0 4.4 0a2.2 2.2 0 1 0 -4.4 0M279.2 54.0a2.2 2.2 0 1 0 4.4 0a2.2 2.2 0 1 0 -4.4 0M279.5 55.8a2.2 2.2 0 1 0 4.4 0a2.2 2.2 0 1 0 -4.4 0M279.9 56.1a2.2 2.2 0 1 0 4.4 0a2.2 2.2 0 1 0 -4.4 0M280.2 57.6a2.2 2.2 0 1 0 4.4 0a2.2 2.2 0 1 0 -4.4 0M280.5 56.3a2.2 2.2 0 1 0 4.4 0a2.2 2.2 0 1 0 -4.4 0M280.8 58.0a2.2 2.2 0 1 0 4.4 0a2.2 2.2 0 1 0 -4.4 0M281.1 55.8a2.2 2.2 0 1 0 4.4 0a2.2 2.2 0 1 0 -4.4 0M281.4 59.6a2.2 2.2 0 1 0 4.4 0a2.2 2.2 0 1 0 -4.4 0M281.7 56.4a2.2 2.2 0 1 0 4.4 0a2.2 2.2 0 1 0 -4.4 0M282.1 57.5a2.2 2.2 0 1 0 4.4 0a2.2 2.2 0 1 0 -4.4 0M282.4 57.7a2.2 2.2 0 1 0 4.4 0a2.2 2.2 0 1 0 -4.4 0M282.7 51.0a2.2 2.2 0 1 0 4.4 0a2.2 2.2 0 1 0 -4.4 0M283.0 56.7a2.2 2.2 0 1 0 4.4 0a2.2 2.2 0 1 0 -4.4 0M283.3 56.1a2.2 2.2 0 1 0 4.4 0a2.2 2.2 0 1 0 -4.4 0M283.6 57.8a2.2 2.2 0 1 0 4.4 0a2.2 2.2 0 1 0 -4.4 0M283.9 60.1a2.2 2.2 0 1 0 4.4 0a2.2 2.2 0 1 0 -4.4 0M284.3 54.2a2.2 2.2 0 1 0 4.4 0a2.2 2.2 0 1 0 -4.4 0M284.6 58.5a2.2 2.2 0 1 0 4.4 0a2.2 2.2 0 1 0 -4.4 0M284.9 57.0a2.2 2.2 0 1 0 4.4 0a2.2 2.2 0 1 0 -4.4 0M285.2 52.7a2.2 2.2 0 1 0 4.4 0a2.2 2.2 0 1 0 -4.4 0M285.5 55.5a2.2 2.2 0 1 0 4.4 0a2.2 2.2 0 1 0 -4.4 0M285.8 55.6a2.2 2.2 0 1 0 4.4 0a2.2 2.2 0 1 0 -4.4 0M286.1 56.6a2.2 2.2 0 1 0 4.4 0a2.2 2.2 0 1 0 -4.4 0M286.5 57.4a2.2 2.2 0 1 0 4.4 0a2.2 2.2 0 1 0 -4.4 0M286.8 56.3a2.2 2.2 0 1 0 4.4 0a2.2 2.2 0 1 0 -4.4 0M287.1 56.5a2.2 2.2 0 1 0 4.4 0a2.2 2.2 0 1 0 -4.4 0M287.4 56.8a2.2 2.2 0 1 0 4.4 0a2.2 2.2 0 1 0 -4.4 0M287.7 57.4a2.2 2.2 0 1 0 4.4 0a2.2 2.2 0 1 0 -4.4 0M288.0 55.7a2.2 2.2 0 1 0 4.4 0a2.2 2.2 0 1 0 -4.4 0M288.3 56.1a2.2 2.2 0 1 0 4.4 0a2.2 2.2 0 1 0 -4.4 0M288.7 54.2a2.2 2.2 0 1 0 4.4 0a2.2 2.2 0 1 0 -4.4 0M289.0 55.6a2.2 2.2 0 1 0 4.4 0a2.2 2.2 0 1 0 -4.4 0M289.3 55.7a2.2 2.2 0 1 0 4.4 0a2.2 2.2 0 1 0 -4.4 0M289.6 54.8a2.2 2.2 0 1 0 4.4 0a2.2 2.2 0 1 0 -4.4 0M289.9 57.4a2.2 2.2 0 1 0 4.4 0a2.2 2.2 0 1 0 -4.4 0M290.2 55.8a2.2 2.2 0 1 0 4.4 0a2.2 2.2 0 1 0 -4.4 0M290.5 53.6a2.2 2.2 0 1 0 4.4 0a2.2 2.2 0 1 0 -4.4 0M290.9 57.7a2.2 2.2 0 1 0 4.4 0a2.2 2.2 0 1 0 -4.4 0M291.2 57.0a2.2 2.2 0 1 0 4.4 0a2.2 2.2 0 1 0 -4.4 0M291.5 53.8a2.2 2.2 0 1 0 4.4 0a2.2 2.2 0 1 0 -4.4 0M291.8 56.8a2.2 2.2 0 1 0 4.4 0a2.2 2.2 0 1 0 -4.4 0M292.1 54.8a2.2 2.2 0 1 0 4.4 0a2.2 2.2 0 1 0 -4.4 0M292.4 56.3a2.2 2.2 0 1 0 4.4 0a2.2 2.2 0 1 0 -4.4 0M292.7 56.3a2.2 2.2 0 1 0 4.4 0a2.2 2.2 0 1 0 -4.4 0M293.1 56.7a2.2 2.2 0 1 0 4.4 0a2.2 2.2 0 1 0 -4.4 0M293.4 55.8a2.2 2.2 0 1 0 4.4 0a2.2 2.2 0 1 0 -4.4 0M293.7 55.3a2.2 2.2 0 1 0 4.4 0a2.2 2.2 0 1 0 -4.4 0M294.0 56.1a2.2 2.2 0 1 0 4.4 0a2.2 2.2 0 1 0 -4.4 0M294.3 56.7a2.2 2.2 0 1 0 4.4 0a2.2 2.2 0 1 0 -4.4 0M294.6 55.8a2.2 2.2 0 1 0 4.4 0a2.2 2.2 0 1 0 -4.4 0M294.9 57.0a2.2 2.2 0 1 0 4.4 0a2.2 2.2 0 1 0 -4.4 0M295.3 55.9a2.2 2.2 0 1 0 4.4 0a2.2 2.2 0 1 0 -4.4 0M295.6 57.8a2.2 2.2 0 1 0 4.4 0a2.2 2.2 0 1 0 -4.4 0M295.9 55.8a2.2 2.2 0 1 0 4.4 0a2.2 2.2 0 1 0 -4.4 0M296.2 53.6a2.2 2.2 0 1 0 4.4 0a2.2 2.2 0 1 0 -4.4 0M296.5 58.1a2.2 2.2 0 1 0 4.4 0a2.2 2.2 0 1 0 -4.4 0M296.8 57.4a2.2 2.2 0 1 0 4.4 0a2.2 2.2 0 1 0 -4.4 0M297.1 58.2a2.2 2.2 0 1 0 4.4 0a2.2 2.2 0 1 0 -4.4 0M297.5 57.6a2.2 2.2 0 1 0 4.4 0a2.2 2.2 0 1 0 -4.4 0M297.8 53.7a2.2 2.2 0 1 0 4.4 0a2.2 2.2 0 1 0 -4.4 0M298.1 54.5a2.2 2.2 0 1 0 4.4 0a2.2 2.2 0 1 0 -4.4 0M298.4 57.1a2.2 2.2 0 1 0 4.4 0a2.2 2.2 0 1 0 -4.4 0M298.7 56.0a2.2 2.2 0 1 0 4.4 0a2.2 2.2 0 1 0 -4.4 0M299.0 58.4a2.2 2.2 0 1 0 4.4 0a2.2 2.2 0 1 0 -4.4 0M299.3 53.7a2.2 2.2 0 1 0 4.4 0a2.2 2.2 0 1 0 -4.4 0M299.7 55.0a2.2 2.2 0 1 0 4.4 0a2.2 2.2 0 1 0 -4.4 0M300.0 57.5a2.2 2.2 0 1 0 4.4 0a2.2 2.2 0 1 0 -4.4 0M300.3 57.4a2.2 2.2 0 1 0 4.4 0a2.2 2.2 0 1 0 -4.4 0M300.6 55.5a2.2 2.2 0 1 0 4.4 0a2.2 2.2 0 1 0 -4.4 0M300.9 57.5a2.2 2.2 0 1 0 4.4 0a2.2 2.2 0 1 0 -4.4 0M301.2 55.1a2.2 2.2 0 1 0 4.4 0a2.2 2.2 0 1 0 -4.4 0M301.5 54.6a2.2 2.2 0 1 0 4.4 0a2.2 2.2 0 1 0 -4.4 0M301.9 54.7a2.2 2.2 0 1 0 4.4 0a2.2 2.2 0 1 0 -4.4 0M302.2 54.8a2.2 2.2 0 1 0 4.4 0a2.2 2.2 0 1 0 -4.4 0M302.5 56.3a2.2 2.2 0 1 0 4.4 0a2.2 2.2 0 1 0 -4.4 0M302.8 54.4a2.2 2.2 0 1 0 4.4 0a2.2 2.2 0 1 0 -4.4 0M303.1 56.6a2.2 2.2 0 1 0 4.4 0a2.2 2.2 0 1 0 -4.4 0M303.4 56.5a2.2 2.2 0 1 0 4.4 0a2.2 2.2 0 1 0 -4.4 0M303.7 54.3a2.2 2.2 0 1 0 4.4 0a2.2 2.2 0 1 0 -4.4 0M304.1 56.6a2.2 2.2 0 1 0 4.4 0a2.2 2.2 0 1 0 -4.4 0M304.4 58.1a2.2 2.2 0 1 0 4.4 0a2.2 2.2 0 1 0 -4.4 0M304.7 57.2a2.2 2.2 0 1 0 4.4 0a2.2 2.2 0 1 0 -4.4 0M305.0 57.7a2.2 2.2 0 1 0 4.4 0a2.2 2.2 0 1 0 -4.4 0M305.3 56.6a2.2 2.2 0 1 0 4.4 0a2.2 2.2 0 1 0 -4.4 0M305.6 57.9a2.2 2.2 0 1 0 4.4 0a2.2 2.2 0 1 0 -4.4 0M305.9 58.2a2.2 2.2 0 1 0 4.4 0a2.2 2.2 0 1 0 -4.4 0M306.3 56.4a2.2 2.2 0 1 0 4.4 0a2.2 2.2 0 1 0 -4.4 0M306.6 55.1a2.2 2.2 0 1 0 4.4 0a2.2 2.2 0 1 0 -4.4 0M306.9 59.2a2.2 2.2 0 1 0 4.4 0a2.2 2.2 0 1 0 -4.4 0M307.2 55.1a2.2 2.2 0 1 0 4.4 0a2.2 2.2 0 1 0 -4.4 0M307.5 56.5a2.2 2.2 0 1 0 4.4 0a2.2 2.2 0 1 0 -4.4 0M307.8 55.8a2.2 2.2 0 1 0 4.4 0a2.2 2.2 0 1 0 -4.4 0M308.2 57.7a2.2 2.2 0 1 0 4.4 0a2.2 2.2 0 1 0 -4.4 0M308.5 58.7a2.2 2.2 0 1 0 4.4 0a2.2 2.2 0 1 0 -4.4 0M308.8 57.1a2.2 2.2 0 1 0 4.4 0a2.2 2.2 0 1 0 -4.4 0M309.1 57.4a2.2 2.2 0 1 0 4.4 0a2.2 2.2 0 1 0 -4.4 0M309.4 55.9a2.2 2.2 0 1 0 4.4 0a2.2 2.2 0 1 0 -4.4 0M309.7 57.8a2.2 2.2 0 1 0 4.4 0a2.2 2.2 0 1 0 -4.4 0M310.0 56.4a2.2 2.2 0 1 0 4.4 0a2.2 2.2 0 1 0 -4.4 0M310.4 56.8a2.2 2.2 0 1 0 4.4 0a2.2 2.2 0 1 0 -4.4 0M310.7 56.7a2.2 2.2 0 1 0 4.4 0a2.2 2.2 0 1 0 -4.4 0M311.0 55.4a2.2 2.2 0 1 0 4.4 0a2.2 2.2 0 1 0 -4.4 0M311.3 53.9a2.2 2.2 0 1 0 4.4 0a2.2 2.2 0 1 0 -4.4 0M311.6 55.6a2.2 2.2 0 1 0 4.4 0a2.2 2.2 0 1 0 -4.4 0M311.9 54.1a2.2 2.2 0 1 0 4.4 0a2.2 2.2 0 1 0 -4.4 0M312.2 55.3a2.2 2.2 0 1 0 4.4 0a2.2 2.2 0 1 0 -4.4 0M312.6 58.1a2.2 2.2 0 1 0 4.4 0a2.2 2.2 0 1 0 -4.4 0M312.9 55.9a2.2 2.2 0 1 0 4.4 0a2.2 2.2 0 1 0 -4.4 0M313.2 55.6a2.2 2.2 0 1 0 4.4 0a2.2 2.2 0 1 0 -4.4 0M313.5 60.6a2.2 2.2 0 1 0 4.4 0a2.2 2.2 0 1 0 -4.4 0M313.8 56.1a2.2 2.2 0 1 0 4.4 0a2.2 2.2 0 1 0 -4.4 0M314.1 54.4a2.2 2.2 0 1 0 4.4 0a2.2 2.2 0 1 0 -4.4 0M314.4 58.7a2.2 2.2 0 1 0 4.4 0a2.2 2.2 0 1 0 -4.4 0M314.8 56.8a2.2 2.2 0 1 0 4.4 0a2.2 2.2 0 1 0 -4.4 0M315.1 58.0a2.2 2.2 0 1 0 4.4 0a2.2 2.2 0 1 0 -4.4 0M315.4 55.8a2.2 2.2 0 1 0 4.4 0a2.2 2.2 0 1 0 -4.4 0M315.7 56.4a2.2 2.2 0 1 0 4.4 0a2.2 2.2 0 1 0 -4.4 0M316.0 56.0a2.2 2.2 0 1 0 4.4 0a2.2 2.2 0 1 0 -4.4 0M316.3 54.4a2.2 2.2 0 1 0 4.4 0a2.2 2.2 0 1 0 -4.4 0M316.6 56.7a2.2 2.2 0 1 0 4.4 0a2.2 2.2 0 1 0 -4.4 0M317.0 56.3a2.2 2.2 0 1 0 4.4 0a2.2 2.2 0 1 0 -4.4 0M317.3 62.4a2.2 2.2 0 1 0 4.4 0a2.2 2.2 0 1 0 -4.4 0M317.6 54.2a2.2 2.2 0 1 0 4.4 0a2.2 2.2 0 1 0 -4.4 0M317.9 55.7a2.2 2.2 0 1 0 4.4 0a2.2 2.2 0 1 0 -4.4 0M318.2 57.0a2.2 2.2 0 1 0 4.4 0a2.2 2.2 0 1 0 -4.4 0M318.5 57.1a2.2 2.2 0 1 0 4.4 0a2.2 2.2 0 1 0 -4.4 0M318.8 58.7a2.2 2.2 0 1 0 4.4 0a2.2 2.2 0 1 0 -4.4 0M319.2 56.2a2.2 2.2 0 1 0 4.4 0a2.2 2.2 0 1 0 -4.4 0M319.5 56.8a2.2 2.2 0 1 0 4.4 0a2.2 2.2 0 1 0 -4.4 0M319.8 56.3a2.2 2.2 0 1 0 4.4 0a2.2 2.2 0 1 0 -4.4 0M320.1 57.5a2.2 2.2 0 1 0 4.4 0a2.2 2.2 0 1 0 -4.4 0M320.4 52.4a2.2 2.2 0 1 0 4.4 0a2.2 2.2 0 1 0 -4.4 0M320.7 57.6a2.2 2.2 0 1 0 4.4 0a2.2 2.2 0 1 0 -4.4 0M321.0 54.7a2.2 2.2 0 1 0 4.4 0a2.2 2.2 0 1 0 -4.4 0M321.4 54.3a2.2 2.2 0 1 0 4.4 0a2.2 2.2 0 1 0 -4.4 0M321.7 50.7a2.2 2.2 0 1 0 4.4 0a2.2 2.2 0 1 0 -4.4 0M322.0 55.1a2.2 2.2 0 1 0 4.4 0a2.2 2.2 0 1 0 -4.4 0M322.3 56.6a2.2 2.2 0 1 0 4.4 0a2.2 2.2 0 1 0 -4.4 0M322.6 57.9a2.2 2.2 0 1 0 4.4 0a2.2 2.2 0 1 0 -4.4 0M322.9 56.1a2.2 2.2 0 1 0 4.4 0a2.2 2.2 0 1 0 -4.4 0M323.2 56.6a2.2 2.2 0 1 0 4.4 0a2.2 2.2 0 1 0 -4.4 0M323.6 58.0a2.2 2.2 0 1 0 4.4 0a2.2 2.2 0 1 0 -4.4 0M323.9 56.4a2.2 2.2 0 1 0 4.4 0a2.2 2.2 0 1 0 -4.4 0M324.2 55.1a2.2 2.2 0 1 0 4.4 0a2.2 2.2 0 1 0 -4.4 0M324.5 59.0a2.2 2.2 0 1 0 4.4 0a2.2 2.2 0 1 0 -4.4 0M324.8 56.9a2.2 2.2 0 1 0 4.4 0a2.2 2.2 0 1 0 -4.4 0M325.1 58.9a2.2 2.2 0 1 0 4.4 0a2.2 2.2 0 1 0 -4.4 0M325.4 56.1a2.2 2.2 0 1 0 4.4 0a2.2 2.2 0 1 0 -4.4 0M325.8 55.9a2.2 2.2 0 1 0 4.4 0a2.2 2.2 0 1 0 -4.4 0M326.1 54.4a2.2 2.2 0 1 0 4.4 0a2.2 2.2 0 1 0 -4.4 0M326.4 56.0a2.2 2.2 0 1 0 4.4 0a2.2 2.2 0 1 0 -4.4 0M326.7 56.4a2.2 2.2 0 1 0 4.4 0a2.2 2.2 0 1 0 -4.4 0M327.0 55.0a2.2 2.2 0 1 0 4.4 0a2.2 2.2 0 1 0 -4.4 0M327.3 53.3a2.2 2.2 0 1 0 4.4 0a2.2 2.2 0 1 0 -4.4 0M327.6 54.5a2.2 2.2 0 1 0 4.4 0a2.2 2.2 0 1 0 -4.4 0M328.0 55.7a2.2 2.2 0 1 0 4.4 0a2.2 2.2 0 1 0 -4.4 0M328.3 55.9a2.2 2.2 0 1 0 4.4 0a2.2 2.2 0 1 0 -4.4 0M328.6 57.3a2.2 2.2 0 1 0 4.4 0a2.2 2.2 0 1 0 -4.4 0M328.9 56.1a2.2 2.2 0 1 0 4.4 0a2.2 2.2 0 1 0 -4.4 0M329.2 55.9a2.2 2.2 0 1 0 4.4 0a2.2 2.2 0 1 0 -4.4 0M329.5 55.9a2.2 2.2 0 1 0 4.4 0a2.2 2.2 0 1 0 -4.4 0M329.8 53.8a2.2 2.2 0 1 0 4.4 0a2.2 2.2 0 1 0 -4.4 0M330.2 56.6a2.2 2.2 0 1 0 4.4 0a2.2 2.2 0 1 0 -4.4 0M330.5 55.5a2.2 2.2 0 1 0 4.4 0a2.2 2.2 0 1 0 -4.4 0M330.8 55.1a2.2 2.2 0 1 0 4.4 0a2.2 2.2 0 1 0 -4.4 0M331.1 55.0a2.2 2.2 0 1 0 4.4 0a2.2 2.2 0 1 0 -4.4 0M331.4 54.3a2.2 2.2 0 1 0 4.4 0a2.2 2.2 0 1 0 -4.4 0M331.7 56.3a2.2 2.2 0 1 0 4.4 0a2.2 2.2 0 1 0 -4.4 0M332.0 54.7a2.2 2.2 0 1 0 4.4 0a2.2 2.2 0 1 0 -4.4 0M332.4 56.6a2.2 2.2 0 1 0 4.4 0a2.2 2.2 0 1 0 -4.4 0M332.7 56.3a2.2 2.2 0 1 0 4.4 0a2.2 2.2 0 1 0 -4.4 0M333.0 57.2a2.2 2.2 0 1 0 4.4 0a2.2 2.2 0 1 0 -4.4 0M333.3 56.1a2.2 2.2 0 1 0 4.4 0a2.2 2.2 0 1 0 -4.4 0M333.6 56.2a2.2 2.2 0 1 0 4.4 0a2.2 2.2 0 1 0 -4.4 0M333.9 55.7a2.2 2.2 0 1 0 4.4 0a2.2 2.2 0 1 0 -4.4 0M334.2 56.4a2.2 2.2 0 1 0 4.4 0a2.2 2.2 0 1 0 -4.4 0M334.6 55.5a2.2 2.2 0 1 0 4.4 0a2.2 2.2 0 1 0 -4.4 0M334.9 54.8a2.2 2.2 0 1 0 4.4 0a2.2 2.2 0 1 0 -4.4 0M335.2 57.1a2.2 2.2 0 1 0 4.4 0a2.2 2.2 0 1 0 -4.4 0M335.5 56.5a2.2 2.2 0 1 0 4.4 0a2.2 2.2 0 1 0 -4.4 0M335.8 56.8a2.2 2.2 0 1 0 4.4 0a2.2 2.2 0 1 0 -4.4 0M336.1 54.3a2.2 2.2 0 1 0 4.4 0a2.2 2.2 0 1 0 -4.4 0M336.5 57.9a2.2 2.2 0 1 0 4.4 0a2.2 2.2 0 1 0 -4.4 0M336.8 54.9a2.2 2.2 0 1 0 4.4 0a2.2 2.2 0 1 0 -4.4 0M337.1 56.2a2.2 2.2 0 1 0 4.4 0a2.2 2.2 0 1 0 -4.4 0M337.4 56.2a2.2 2.2 0 1 0 4.4 0a2.2 2.2 0 1 0 -4.4 0M337.7 54.9a2.2 2.2 0 1 0 4.4 0a2.2 2.2 0 1 0 -4.4 0M338.0 54.7a2.2 2.2 0 1 0 4.4 0a2.2 2.2 0 1 0 -4.4 0M338.3 56.3a2.2 2.2 0 1 0 4.4 0a2.2 2.2 0 1 0 -4.4 0M338.7 56.2a2.2 2.2 0 1 0 4.4 0a2.2 2.2 0 1 0 -4.4 0M339.0 55.6a2.2 2.2 0 1 0 4.4 0a2.2 2.2 0 1 0 -4.4 0M339.3 56.9a2.2 2.2 0 1 0 4.4 0a2.2 2.2 0 1 0 -4.4 0M339.6 55.7a2.2 2.2 0 1 0 4.4 0a2.2 2.2 0 1 0 -4.4 0M339.9 57.4a2.2 2.2 0 1 0 4.4 0a2.2 2.2 0 1 0 -4.4 0M340.2 57.0a2.2 2.2 0 1 0 4.4 0a2.2 2.2 0 1 0 -4.4 0M340.5 55.8a2.2 2.2 0 1 0 4.4 0a2.2 2.2 0 1 0 -4.4 0M340.9 56.9a2.2 2.2 0 1 0 4.4 0a2.2 2.2 0 1 0 -4.4 0M341.2 56.2a2.2 2.2 0 1 0 4.4 0a2.2 2.2 0 1 0 -4.4 0M341.5 55.2a2.2 2.2 0 1 0 4.4 0a2.2 2.2 0 1 0 -4.4 0M341.8 57.2a2.2 2.2 0 1 0 4.4 0a2.2 2.2 0 1 0 -4.4 0M342.1 56.3a2.2 2.2 0 1 0 4.4 0a2.2 2.2 0 1 0 -4.4 0M342.4 55.7a2.2 2.2 0 1 0 4.4 0a2.2 2.2 0 1 0 -4.4 0M342.7 56.6a2.2 2.2 0 1 0 4.4 0a2.2 2.2 0 1 0 -4.4 0M343.1 56.0a2.2 2.2 0 1 0 4.4 0a2.2 2.2 0 1 0 -4.4 0M343.4 57.0a2.2 2.2 0 1 0 4.4 0a2.2 2.2 0 1 0 -4.4 0M343.7 56.0a2.2 2.2 0 1 0 4.4 0a2.2 2.2 0 1 0 -4.4 0M344.0 56.4a2.2 2.2 0 1 0 4.4 0a2.2 2.2 0 1 0 -4.4 0M344.3 57.0a2.2 2.2 0 1 0 4.4 0a2.2 2.2 0 1 0 -4.4 0M344.6 55.9a2.2 2.2 0 1 0 4.4 0a2.2 2.2 0 1 0 -4.4 0M344.9 58.2a2.2 2.2 0 1 0 4.4 0a2.2 2.2 0 1 0 -4.4 0M345.3 55.7a2.2 2.2 0 1 0 4.4 0a2.2 2.2 0 1 0 -4.4 0M345.6 55.0a2.2 2.2 0 1 0 4.4 0a2.2 2.2 0 1 0 -4.4 0M345.9 57.4a2.2 2.2 0 1 0 4.4 0a2.2 2.2 0 1 0 -4.4 0M346.2 56.8a2.2 2.2 0 1 0 4.4 0a2.2 2.2 0 1 0 -4.4 0M346.5 55.4a2.2 2.2 0 1 0 4.4 0a2.2 2.2 0 1 0 -4.4 0M346.8 55.4a2.2 2.2 0 1 0 4.4 0a2.2 2.2 0 1 0 -4.4 0M347.1 56.3a2.2 2.2 0 1 0 4.4 0a2.2 2.2 0 1 0 -4.4 0M347.5 55.8a2.2 2.2 0 1 0 4.4 0a2.2 2.2 0 1 0 -4.4 0M347.8 56.2a2.2 2.2 0 1 0 4.4 0a2.2 2.2 0 1 0 -4.4 0M348.1 56.7a2.2 2.2 0 1 0 4.4 0a2.2 2.2 0 1 0 -4.4 0M348.4 54.6a2.2 2.2 0 1 0 4.4 0a2.2 2.2 0 1 0 -4.4 0M348.7 57.3a2.2 2.2 0 1 0 4.4 0a2.2 2.2 0 1 0 -4.4 0M349.0 54.5a2.2 2.2 0 1 0 4.4 0a2.2 2.2 0 1 0 -4.4 0M349.3 55.7a2.2 2.2 0 1 0 4.4 0a2.2 2.2 0 1 0 -4.4 0M349.7 55.5a2.2 2.2 0 1 0 4.4 0a2.2 2.2 0 1 0 -4.4 0M350.0 56.7a2.2 2.2 0 1 0 4.4 0a2.2 2.2 0 1 0 -4.4 0M350.3 55.2a2.2 2.2 0 1 0 4.4 0a2.2 2.2 0 1 0 -4.4 0M350.6 54.7a2.2 2.2 0 1 0 4.4 0a2.2 2.2 0 1 0 -4.4 0M350.9 56.2a2.2 2.2 0 1 0 4.4 0a2.2 2.2 0 1 0 -4.4 0M351.2 54.8a2.2 2.2 0 1 0 4.4 0a2.2 2.2 0 1 0 -4.4 0M351.5 56.5a2.2 2.2 0 1 0 4.4 0a2.2 2.2 0 1 0 -4.4 0M351.9 55.6a2.2 2.2 0 1 0 4.4 0a2.2 2.2 0 1 0 -4.4 0M352.2 55.5a2.2 2.2 0 1 0 4.4 0a2.2 2.2 0 1 0 -4.4 0M352.5 54.3a2.2 2.2 0 1 0 4.4 0a2.2 2.2 0 1 0 -4.4 0M352.8 56.0a2.2 2.2 0 1 0 4.4 0a2.2 2.2 0 1 0 -4.4 0M353.1 56.8a2.2 2.2 0 1 0 4.4 0a2.2 2.2 0 1 0 -4.4 0M353.4 55.7a2.2 2.2 0 1 0 4.4 0a2.2 2.2 0 1 0 -4.4 0M353.7 56.5a2.2 2.2 0 1 0 4.4 0a2.2 2.2 0 1 0 -4.4 0M354.1 57.8a2.2 2.2 0 1 0 4.4 0a2.2 2.2 0 1 0 -4.4 0M354.4 57.4a2.2 2.2 0 1 0 4.4 0a2.2 2.2 0 1 0 -4.4 0M354.7 57.6a2.2 2.2 0 1 0 4.4 0a2.2 2.2 0 1 0 -4.4 0M355.0 55.8a2.2 2.2 0 1 0 4.4 0a2.2 2.2 0 1 0 -4.4 0M355.3 56.4a2.2 2.2 0 1 0 4.4 0a2.2 2.2 0 1 0 -4.4 0M355.6 57.2a2.2 2.2 0 1 0 4.4 0a2.2 2.2 0 1 0 -4.4 0M355.9 55.8a2.2 2.2 0 1 0 4.4 0a2.2 2.2 0 1 0 -4.4 0M356.3 56.2a2.2 2.2 0 1 0 4.4 0a2.2 2.2 0 1 0 -4.4 0M356.6 55.6a2.2 2.2 0 1 0 4.4 0a2.2 2.2 0 1 0 -4.4 0M356.9 55.0a2.2 2.2 0 1 0 4.4 0a2.2 2.2 0 1 0 -4.4 0M357.2 56.8a2.2 2.2 0 1 0 4.4 0a2.2 2.2 0 1 0 -4.4 0M357.5 57.0a2.2 2.2 0 1 0 4.4 0a2.2 2.2 0 1 0 -4.4 0M357.8 56.8a2.2 2.2 0 1 0 4.4 0a2.2 2.2 0 1 0 -4.4 0M358.1 55.5a2.2 2.2 0 1 0 4.4 0a2.2 2.2 0 1 0 -4.4 0M358.5 55.4a2.2 2.2 0 1 0 4.4 0a2.2 2.2 0 1 0 -4.4 0M358.8 56.3a2.2 2.2 0 1 0 4.4 0a2.2 2.2 0 1 0 -4.4 0M359.1 56.2a2.2 2.2 0 1 0 4.4 0a2.2 2.2 0 1 0 -4.4 0M359.4 54.6a2.2 2.2 0 1 0 4.4 0a2.2 2.2 0 1 0 -4.4 0M359.7 55.4a2.2 2.2 0 1 0 4.4 0a2.2 2.2 0 1 0 -4.4 0M360.0 55.2a2.2 2.2 0 1 0 4.4 0a2.2 2.2 0 1 0 -4.4 0M360.3 56.8a2.2 2.2 0 1 0 4.4 0a2.2 2.2 0 1 0 -4.4 0M360.7 56.5a2.2 2.2 0 1 0 4.4 0a2.2 2.2 0 1 0 -4.4 0M361.0 55.5a2.2 2.2 0 1 0 4.4 0a2.2 2.2 0 1 0 -4.4 0M361.3 55.5a2.2 2.2 0 1 0 4.4 0a2.2 2.2 0 1 0 -4.4 0M361.6 55.3a2.2 2.2 0 1 0 4.4 0a2.2 2.2 0 1 0 -4.4 0M361.9 55.4a2.2 2.2 0 1 0 4.4 0a2.2 2.2 0 1 0 -4.4 0M362.2 56.5a2.2 2.2 0 1 0 4.4 0a2.2 2.2 0 1 0 -4.4 0M362.6 57.2a2.2 2.2 0 1 0 4.4 0a2.2 2.2 0 1 0 -4.4 0M362.9 53.6a2.2 2.2 0 1 0 4.4 0a2.2 2.2 0 1 0 -4.4 0M363.2 56.2a2.2 2.2 0 1 0 4.4 0a2.2 2.2 0 1 0 -4.4 0M363.5 56.8a2.2 2.2 0 1 0 4.4 0a2.2 2.2 0 1 0 -4.4 0M363.8 57.3a2.2 2.2 0 1 0 4.4 0a2.2 2.2 0 1 0 -4.4 0M364.1 56.9a2.2 2.2 0 1 0 4.4 0a2.2 2.2 0 1 0 -4.4 0M364.4 56.7a2.2 2.2 0 1 0 4.4 0a2.2 2.2 0 1 0 -4.4 0M364.8 54.7a2.2 2.2 0 1 0 4.4 0a2.2 2.2 0 1 0 -4.4 0M365.1 55.9a2.2 2.2 0 1 0 4.4 0a2.2 2.2 0 1 0 -4.4 0M365.4 54.1a2.2 2.2 0 1 0 4.4 0a2.2 2.2 0 1 0 -4.4 0M365.7 57.2a2.2 2.2 0 1 0 4.4 0a2.2 2.2 0 1 0 -4.4 0M366.0 54.8a2.2 2.2 0 1 0 4.4 0a2.2 2.2 0 1 0 -4.4 0M366.3 57.0a2.2 2.2 0 1 0 4.4 0a2.2 2.2 0 1 0 -4.4 0M366.6 55.8a2.2 2.2 0 1 0 4.4 0a2.2 2.2 0 1 0 -4.4 0M367.0 56.2a2.2 2.2 0 1 0 4.4 0a2.2 2.2 0 1 0 -4.4 0M367.3 56.9a2.2 2.2 0 1 0 4.4 0a2.2 2.2 0 1 0 -4.4 0M367.6 56.1a2.2 2.2 0 1 0 4.4 0a2.2 2.2 0 1 0 -4.4 0M367.9 55.6a2.2 2.2 0 1 0 4.4 0a2.2 2.2 0 1 0 -4.4 0M368.2 56.6a2.2 2.2 0 1 0 4.4 0a2.2 2.2 0 1 0 -4.4 0M368.5 57.0a2.2 2.2 0 1 0 4.4 0a2.2 2.2 0 1 0 -4.4 0M368.8 55.6a2.2 2.2 0 1 0 4.4 0a2.2 2.2 0 1 0 -4.4 0M369.2 55.5a2.2 2.2 0 1 0 4.4 0a2.2 2.2 0 1 0 -4.4 0M369.5 56.4a2.2 2.2 0 1 0 4.4 0a2.2 2.2 0 1 0 -4.4 0M369.8 56.5a2.2 2.2 0 1 0 4.4 0a2.2 2.2 0 1 0 -4.4 0M370.1 54.8a2.2 2.2 0 1 0 4.4 0a2.2 2.2 0 1 0 -4.4 0M370.4 56.3a2.2 2.2 0 1 0 4.4 0a2.2 2.2 0 1 0 -4.4 0M370.7 58.3a2.2 2.2 0 1 0 4.4 0a2.2 2.2 0 1 0 -4.4 0M371.0 56.7a2.2 2.2 0 1 0 4.4 0a2.2 2.2 0 1 0 -4.4 0M371.4 54.5a2.2 2.2 0 1 0 4.4 0a2.2 2.2 0 1 0 -4.4 0M371.7 55.6a2.2 2.2 0 1 0 4.4 0a2.2 2.2 0 1 0 -4.4 0M372.0 55.9a2.2 2.2 0 1 0 4.4 0a2.2 2.2 0 1 0 -4.4 0M372.3 56.4a2.2 2.2 0 1 0 4.4 0a2.2 2.2 0 1 0 -4.4 0M372.6 55.4a2.2 2.2 0 1 0 4.4 0a2.2 2.2 0 1 0 -4.4 0M372.9 59.9a2.2 2.2 0 1 0 4.4 0a2.2 2.2 0 1 0 -4.4 0M373.2 56.3a2.2 2.2 0 1 0 4.4 0a2.2 2.2 0 1 0 -4.4 0M373.6 55.6a2.2 2.2 0 1 0 4.4 0a2.2 2.2 0 1 0 -4.4 0M373.9 56.9a2.2 2.2 0 1 0 4.4 0a2.2 2.2 0 1 0 -4.4 0M374.2 56.4a2.2 2.2 0 1 0 4.4 0a2.2 2.2 0 1 0 -4.4 0M374.5 55.7a2.2 2.2 0 1 0 4.4 0a2.2 2.2 0 1 0 -4.4 0M374.8 57.0a2.2 2.2 0 1 0 4.4 0a2.2 2.2 0 1 0 -4.4 0M375.1 56.6a2.2 2.2 0 1 0 4.4 0a2.2 2.2 0 1 0 -4.4 0M375.4 55.2a2.2 2.2 0 1 0 4.4 0a2.2 2.2 0 1 0 -4.4 0M375.8 55.8a2.2 2.2 0 1 0 4.4 0a2.2 2.2 0 1 0 -4.4 0M376.1 56.1a2.2 2.2 0 1 0 4.4 0a2.2 2.2 0 1 0 -4.4 0M376.4 56.3a2.2 2.2 0 1 0 4.4 0a2.2 2.2 0 1 0 -4.4 0M376.7 54.4a2.2 2.2 0 1 0 4.4 0a2.2 2.2 0 1 0 -4.4 0M377.0 55.2a2.2 2.2 0 1 0 4.4 0a2.2 2.2 0 1 0 -4.4 0M377.3 56.1a2.2 2.2 0 1 0 4.4 0a2.2 2.2 0 1 0 -4.4 0M377.6 55.4a2.2 2.2 0 1 0 4.4 0a2.2 2.2 0 1 0 -4.4 0M378.0 54.9a2.2 2.2 0 1 0 4.4 0a2.2 2.2 0 1 0 -4.4 0M378.3 55.1a2.2 2.2 0 1 0 4.4 0a2.2 2.2 0 1 0 -4.4 0M378.6 56.9a2.2 2.2 0 1 0 4.4 0a2.2 2.2 0 1 0 -4.4 0M378.9 55.3a2.2 2.2 0 1 0 4.4 0a2.2 2.2 0 1 0 -4.4 0M379.2 55.4a2.2 2.2 0 1 0 4.4 0a2.2 2.2 0 1 0 -4.4 0M379.5 56.0a2.2 2.2 0 1 0 4.4 0a2.2 2.2 0 1 0 -4.4 0M379.8 55.8a2.2 2.2 0 1 0 4.4 0a2.2 2.2 0 1 0 -4.4 0M380.2 55.6a2.2 2.2 0 1 0 4.4 0a2.2 2.2 0 1 0 -4.4 0M380.5 56.5a2.2 2.2 0 1 0 4.4 0a2.2 2.2 0 1 0 -4.4 0M380.8 55.1a2.2 2.2 0 1 0 4.4 0a2.2 2.2 0 1 0 -4.4 0M381.1 57.2a2.2 2.2 0 1 0 4.4 0a2.2 2.2 0 1 0 -4.4 0M381.4 55.2a2.2 2.2 0 1 0 4.4 0a2.2 2.2 0 1 0 -4.4 0M381.7 54.8a2.2 2.2 0 1 0 4.4 0a2.2 2.2 0 1 0 -4.4 0M382.0 55.1a2.2 2.2 0 1 0 4.4 0a2.2 2.2 0 1 0 -4.4 0M382.4 55.6a2.2 2.2 0 1 0 4.4 0a2.2 2.2 0 1 0 -4.4 0M382.7 55.0a2.2 2.2 0 1 0 4.4 0a2.2 2.2 0 1 0 -4.4 0M383.0 52.4a2.2 2.2 0 1 0 4.4 0a2.2 2.2 0 1 0 -4.4 0M383.3 57.8a2.2 2.2 0 1 0 4.4 0a2.2 2.2 0 1 0 -4.4 0M383.6 55.2a2.2 2.2 0 1 0 4.4 0a2.2 2.2 0 1 0 -4.4 0M383.9 57.0a2.2 2.2 0 1 0 4.4 0a2.2 2.2 0 1 0 -4.4 0M384.2 55.7a2.2 2.2 0 1 0 4.4 0a2.2 2.2 0 1 0 -4.4 0M384.6 52.7a2.2 2.2 0 1 0 4.4 0a2.2 2.2 0 1 0 -4.4 0M384.9 54.5a2.2 2.2 0 1 0 4.4 0a2.2 2.2 0 1 0 -4.4 0M385.2 56.2a2.2 2.2 0 1 0 4.4 0a2.2 2.2 0 1 0 -4.4 0M385.5 55.6a2.2 2.2 0 1 0 4.4 0a2.2 2.2 0 1 0 -4.4 0M385.8 56.2a2.2 2.2 0 1 0 4.4 0a2.2 2.2 0 1 0 -4.4 0M386.1 55.2a2.2 2.2 0 1 0 4.4 0a2.2 2.2 0 1 0 -4.4 0M386.4 57.3a2.2 2.2 0 1 0 4.4 0a2.2 2.2 0 1 0 -4.4 0M386.8 55.8a2.2 2.2 0 1 0 4.4 0a2.2 2.2 0 1 0 -4.4 0M387.1 56.8a2.2 2.2 0 1 0 4.4 0a2.2 2.2 0 1 0 -4.4 0M387.4 55.8a2.2 2.2 0 1 0 4.4 0a2.2 2.2 0 1 0 -4.4 0M387.7 56.8a2.2 2.2 0 1 0 4.4 0a2.2 2.2 0 1 0 -4.4 0M388.0 57.8a2.2 2.2 0 1 0 4.4 0a2.2 2.2 0 1 0 -4.4 0M388.3 55.8a2.2 2.2 0 1 0 4.4 0a2.2 2.2 0 1 0 -4.4 0M388.6 55.5a2.2 2.2 0 1 0 4.4 0a2.2 2.2 0 1 0 -4.4 0M389.0 56.0a2.2 2.2 0 1 0 4.4 0a2.2 2.2 0 1 0 -4.4 0M389.3 57.7a2.2 2.2 0 1 0 4.4 0a2.2 2.2 0 1 0 -4.4 0M389.6 57.7a2.2 2.2 0 1 0 4.4 0a2.2 2.2 0 1 0 -4.4 0M389.9 55.1a2.2 2.2 0 1 0 4.4 0a2.2 2.2 0 1 0 -4.4 0M390.2 56.7a2.2 2.2 0 1 0 4.4 0a2.2 2.2 0 1 0 -4.4 0M390.5 55.7a2.2 2.2 0 1 0 4.4 0a2.2 2.2 0 1 0 -4.4 0M390.9 56.3a2.2 2.2 0 1 0 4.4 0a2.2 2.2 0 1 0 -4.4 0M391.2 54.5a2.2 2.2 0 1 0 4.4 0a2.2 2.2 0 1 0 -4.4 0M391.5 56.2a2.2 2.2 0 1 0 4.4 0a2.2 2.2 0 1 0 -4.4 0M391.8 55.2a2.2 2.2 0 1 0 4.4 0a2.2 2.2 0 1 0 -4.4 0M392.1 55.8a2.2 2.2 0 1 0 4.4 0a2.2 2.2 0 1 0 -4.4 0M392.4 55.3a2.2 2.2 0 1 0 4.4 0a2.2 2.2 0 1 0 -4.4 0M392.7 54.3a2.2 2.2 0 1 0 4.4 0a2.2 2.2 0 1 0 -4.4 0M393.1 55.2a2.2 2.2 0 1 0 4.4 0a2.2 2.2 0 1 0 -4.4 0M393.4 55.1a2.2 2.2 0 1 0 4.4 0a2.2 2.2 0 1 0 -4.4 0M393.7 56.6a2.2 2.2 0 1 0 4.4 0a2.2 2.2 0 1 0 -4.4 0M394.0 55.3a2.2 2.2 0 1 0 4.4 0a2.2 2.2 0 1 0 -4.4 0M394.3 57.8a2.2 2.2 0 1 0 4.4 0a2.2 2.2 0 1 0 -4.4 0M394.6 56.2a2.2 2.2 0 1 0 4.4 0a2.2 2.2 0 1 0 -4.4 0M394.9 55.6a2.2 2.2 0 1 0 4.4 0a2.2 2.2 0 1 0 -4.4 0M395.3 54.3a2.2 2.2 0 1 0 4.4 0a2.2 2.2 0 1 0 -4.4 0M395.6 57.2a2.2 2.2 0 1 0 4.4 0a2.2 2.2 0 1 0 -4.4 0M395.9 56.1a2.2 2.2 0 1 0 4.4 0a2.2 2.2 0 1 0 -4.4 0M396.2 54.9a2.2 2.2 0 1 0 4.4 0a2.2 2.2 0 1 0 -4.4 0M396.5 56.0a2.2 2.2 0 1 0 4.4 0a2.2 2.2 0 1 0 -4.4 0M396.8 54.8a2.2 2.2 0 1 0 4.4 0a2.2 2.2 0 1 0 -4.4 0M397.1 56.7a2.2 2.2 0 1 0 4.4 0a2.2 2.2 0 1 0 -4.4 0M397.5 55.5a2.2 2.2 0 1 0 4.4 0a2.2 2.2 0 1 0 -4.4 0M397.8 54.9a2.2 2.2 0 1 0 4.4 0a2.2 2.2 0 1 0 -4.4 0M398.1 56.9a2.2 2.2 0 1 0 4.4 0a2.2 2.2 0 1 0 -4.4 0M398.4 57.3a2.2 2.2 0 1 0 4.4 0a2.2 2.2 0 1 0 -4.4 0M398.7 54.1a2.2 2.2 0 1 0 4.4 0a2.2 2.2 0 1 0 -4.4 0M399.0 56.3a2.2 2.2 0 1 0 4.4 0a2.2 2.2 0 1 0 -4.4 0M399.3 57.3a2.2 2.2 0 1 0 4.4 0a2.2 2.2 0 1 0 -4.4 0M399.7 56.1a2.2 2.2 0 1 0 4.4 0a2.2 2.2 0 1 0 -4.4 0M400.0 56.1a2.2 2.2 0 1 0 4.4 0a2.2 2.2 0 1 0 -4.4 0M400.3 56.4a2.2 2.2 0 1 0 4.4 0a2.2 2.2 0 1 0 -4.4 0M400.6 55.1a2.2 2.2 0 1 0 4.4 0a2.2 2.2 0 1 0 -4.4 0M400.9 55.6a2.2 2.2 0 1 0 4.4 0a2.2 2.2 0 1 0 -4.4 0M401.2 55.0a2.2 2.2 0 1 0 4.4 0a2.2 2.2 0 1 0 -4.4 0M401.5 57.1a2.2 2.2 0 1 0 4.4 0a2.2 2.2 0 1 0 -4.4 0M401.9 56.0a2.2 2.2 0 1 0 4.4 0a2.2 2.2 0 1 0 -4.4 0M402.2 55.3a2.2 2.2 0 1 0 4.4 0a2.2 2.2 0 1 0 -4.4 0M402.5 55.1a2.2 2.2 0 1 0 4.4 0a2.2 2.2 0 1 0 -4.4 0M402.8 54.3a2.2 2.2 0 1 0 4.4 0a2.2 2.2 0 1 0 -4.4 0M403.1 56.3a2.2 2.2 0 1 0 4.4 0a2.2 2.2 0 1 0 -4.4 0M403.4 56.1a2.2 2.2 0 1 0 4.4 0a2.2 2.2 0 1 0 -4.4 0M403.7 55.3a2.2 2.2 0 1 0 4.4 0a2.2 2.2 0 1 0 -4.4 0M404.1 55.4a2.2 2.2 0 1 0 4.4 0a2.2 2.2 0 1 0 -4.4 0M404.4 57.6a2.2 2.2 0 1 0 4.4 0a2.2 2.2 0 1 0 -4.4 0M404.7 55.6a2.2 2.2 0 1 0 4.4 0a2.2 2.2 0 1 0 -4.4 0M405.0 57.4a2.2 2.2 0 1 0 4.4 0a2.2 2.2 0 1 0 -4.4 0M405.3 55.5a2.2 2.2 0 1 0 4.4 0a2.2 2.2 0 1 0 -4.4 0M405.6 56.4a2.2 2.2 0 1 0 4.4 0a2.2 2.2 0 1 0 -4.4 0M405.9 55.9a2.2 2.2 0 1 0 4.4 0a2.2 2.2 0 1 0 -4.4 0M406.3 56.3a2.2 2.2 0 1 0 4.4 0a2.2 2.2 0 1 0 -4.4 0M406.6 55.0a2.2 2.2 0 1 0 4.4 0a2.2 2.2 0 1 0 -4.4 0M406.9 55.8a2.2 2.2 0 1 0 4.4 0a2.2 2.2 0 1 0 -4.4 0M407.2 57.5a2.2 2.2 0 1 0 4.4 0a2.2 2.2 0 1 0 -4.4 0M407.5 55.1a2.2 2.2 0 1 0 4.4 0a2.2 2.2 0 1 0 -4.4 0M407.8 55.1a2.2 2.2 0 1 0 4.4 0a2.2 2.2 0 1 0 -4.4 0M408.1 57.0a2.2 2.2 0 1 0 4.4 0a2.2 2.2 0 1 0 -4.4 0M408.5 54.9a2.2 2.2 0 1 0 4.4 0a2.2 2.2 0 1 0 -4.4 0M408.8 56.6a2.2 2.2 0 1 0 4.4 0a2.2 2.2 0 1 0 -4.4 0M409.1 55.0a2.2 2.2 0 1 0 4.4 0a2.2 2.2 0 1 0 -4.4 0M409.4 55.3a2.2 2.2 0 1 0 4.4 0a2.2 2.2 0 1 0 -4.4 0M409.7 56.6a2.2 2.2 0 1 0 4.4 0a2.2 2.2 0 1 0 -4.4 0M410.0 54.7a2.2 2.2 0 1 0 4.4 0a2.2 2.2 0 1 0 -4.4 0M410.3 56.4a2.2 2.2 0 1 0 4.4 0a2.2 2.2 0 1 0 -4.4 0M410.7 57.1a2.2 2.2 0 1 0 4.4 0a2.2 2.2 0 1 0 -4.4 0M411.0 57.7a2.2 2.2 0 1 0 4.4 0a2.2 2.2 0 1 0 -4.4 0M411.3 55.9a2.2 2.2 0 1 0 4.4 0a2.2 2.2 0 1 0 -4.4 0M411.6 56.5a2.2 2.2 0 1 0 4.4 0a2.2 2.2 0 1 0 -4.4 0M411.9 57.5a2.2 2.2 0 1 0 4.4 0a2.2 2.2 0 1 0 -4.4 0M412.2 58.0a2.2 2.2 0 1 0 4.4 0a2.2 2.2 0 1 0 -4.4 0M412.5 56.2a2.2 2.2 0 1 0 4.4 0a2.2 2.2 0 1 0 -4.4 0M412.9 55.0a2.2 2.2 0 1 0 4.4 0a2.2 2.2 0 1 0 -4.4 0M413.2 55.1a2.2 2.2 0 1 0 4.4 0a2.2 2.2 0 1 0 -4.4 0M413.5 56.1a2.2 2.2 0 1 0 4.4 0a2.2 2.2 0 1 0 -4.4 0M413.8 56.8a2.2 2.2 0 1 0 4.4 0a2.2 2.2 0 1 0 -4.4 0M414.1 55.9a2.2 2.2 0 1 0 4.4 0a2.2 2.2 0 1 0 -4.4 0M414.4 55.5a2.2 2.2 0 1 0 4.4 0a2.2 2.2 0 1 0 -4.4 0M414.7 58.9a2.2 2.2 0 1 0 4.4 0a2.2 2.2 0 1 0 -4.4 0M415.1 57.4a2.2 2.2 0 1 0 4.4 0a2.2 2.2 0 1 0 -4.4 0M415.4 56.9a2.2 2.2 0 1 0 4.4 0a2.2 2.2 0 1 0 -4.4 0M415.7 54.3a2.2 2.2 0 1 0 4.4 0a2.2 2.2 0 1 0 -4.4 0M416.0 55.1a2.2 2.2 0 1 0 4.4 0a2.2 2.2 0 1 0 -4.4 0M416.3 54.8a2.2 2.2 0 1 0 4.4 0a2.2 2.2 0 1 0 -4.4 0M416.6 56.2a2.2 2.2 0 1 0 4.4 0a2.2 2.2 0 1 0 -4.4 0M416.9 56.6a2.2 2.2 0 1 0 4.4 0a2.2 2.2 0 1 0 -4.4 0M417.3 57.3a2.2 2.2 0 1 0 4.4 0a2.2 2.2 0 1 0 -4.4 0M417.6 55.1a2.2 2.2 0 1 0 4.4 0a2.2 2.2 0 1 0 -4.4 0M417.9 56.6a2.2 2.2 0 1 0 4.4 0a2.2 2.2 0 1 0 -4.4 0M418.2 56.9a2.2 2.2 0 1 0 4.4 0a2.2 2.2 0 1 0 -4.4 0M418.5 56.0a2.2 2.2 0 1 0 4.4 0a2.2 2.2 0 1 0 -4.4 0M418.8 56.1a2.2 2.2 0 1 0 4.4 0a2.2 2.2 0 1 0 -4.4 0M419.2 55.5a2.2 2.2 0 1 0 4.4 0a2.2 2.2 0 1 0 -4.4 0M419.5 55.8a2.2 2.2 0 1 0 4.4 0a2.2 2.2 0 1 0 -4.4 0M419.8 56.0a2.2 2.2 0 1 0 4.4 0a2.2 2.2 0 1 0 -4.4 0M420.1 56.7a2.2 2.2 0 1 0 4.4 0a2.2 2.2 0 1 0 -4.4 0M420.4 55.2a2.2 2.2 0 1 0 4.4 0a2.2 2.2 0 1 0 -4.4 0M420.7 56.1a2.2 2.2 0 1 0 4.4 0a2.2 2.2 0 1 0 -4.4 0M421.0 55.0a2.2 2.2 0 1 0 4.4 0a2.2 2.2 0 1 0 -4.4 0M421.4 56.9a2.2 2.2 0 1 0 4.4 0a2.2 2.2 0 1 0 -4.4 0M421.7 53.9a2.2 2.2 0 1 0 4.4 0a2.2 2.2 0 1 0 -4.4 0M422.0 56.1a2.2 2.2 0 1 0 4.4 0a2.2 2.2 0 1 0 -4.4 0M422.3 56.5a2.2 2.2 0 1 0 4.4 0a2.2 2.2 0 1 0 -4.4 0M422.6 54.3a2.2 2.2 0 1 0 4.4 0a2.2 2.2 0 1 0 -4.4 0M422.9 55.3a2.2 2.2 0 1 0 4.4 0a2.2 2.2 0 1 0 -4.4 0M423.2 56.2a2.2 2.2 0 1 0 4.4 0a2.2 2.2 0 1 0 -4.4 0M423.6 55.8a2.2 2.2 0 1 0 4.4 0a2.2 2.2 0 1 0 -4.4 0M423.9 57.6a2.2 2.2 0 1 0 4.4 0a2.2 2.2 0 1 0 -4.4 0M424.2 57.5a2.2 2.2 0 1 0 4.4 0a2.2 2.2 0 1 0 -4.4 0M424.5 54.5a2.2 2.2 0 1 0 4.4 0a2.2 2.2 0 1 0 -4.4 0M424.8 54.2a2.2 2.2 0 1 0 4.4 0a2.2 2.2 0 1 0 -4.4 0M425.1 55.4a2.2 2.2 0 1 0 4.4 0a2.2 2.2 0 1 0 -4.4 0M425.4 56.1a2.2 2.2 0 1 0 4.4 0a2.2 2.2 0 1 0 -4.4 0M425.8 56.0a2.2 2.2 0 1 0 4.4 0a2.2 2.2 0 1 0 -4.4 0M426.1 56.2a2.2 2.2 0 1 0 4.4 0a2.2 2.2 0 1 0 -4.4 0M426.4 57.5a2.2 2.2 0 1 0 4.4 0a2.2 2.2 0 1 0 -4.4 0M426.7 54.8a2.2 2.2 0 1 0 4.4 0a2.2 2.2 0 1 0 -4.4 0M427.0 56.2a2.2 2.2 0 1 0 4.4 0a2.2 2.2 0 1 0 -4.4 0M427.3 54.5a2.2 2.2 0 1 0 4.4 0a2.2 2.2 0 1 0 -4.4 0M427.6 56.4a2.2 2.2 0 1 0 4.4 0a2.2 2.2 0 1 0 -4.4 0M428.0 56.1a2.2 2.2 0 1 0 4.4 0a2.2 2.2 0 1 0 -4.4 0M428.3 55.6a2.2 2.2 0 1 0 4.4 0a2.2 2.2 0 1 0 -4.4 0M428.6 55.2a2.2 2.2 0 1 0 4.4 0a2.2 2.2 0 1 0 -4.4 0M428.9 56.5a2.2 2.2 0 1 0 4.4 0a2.2 2.2 0 1 0 -4.4 0M429.2 56.4a2.2 2.2 0 1 0 4.4 0a2.2 2.2 0 1 0 -4.4 0M429.5 55.4a2.2 2.2 0 1 0 4.4 0a2.2 2.2 0 1 0 -4.4 0M429.8 56.0a2.2 2.2 0 1 0 4.4 0a2.2 2.2 0 1 0 -4.4 0M430.2 55.8a2.2 2.2 0 1 0 4.4 0a2.2 2.2 0 1 0 -4.4 0M430.5 55.8a2.2 2.2 0 1 0 4.4 0a2.2 2.2 0 1 0 -4.4 0M430.8 57.9a2.2 2.2 0 1 0 4.4 0a2.2 2.2 0 1 0 -4.4 0M431.1 56.4a2.2 2.2 0 1 0 4.4 0a2.2 2.2 0 1 0 -4.4 0M431.4 57.1a2.2 2.2 0 1 0 4.4 0a2.2 2.2 0 1 0 -4.4 0M431.7 54.5a2.2 2.2 0 1 0 4.4 0a2.2 2.2 0 1 0 -4.4 0M432.0 57.6a2.2 2.2 0 1 0 4.4 0a2.2 2.2 0 1 0 -4.4 0M432.4 57.1a2.2 2.2 0 1 0 4.4 0a2.2 2.2 0 1 0 -4.4 0M432.7 55.1a2.2 2.2 0 1 0 4.4 0a2.2 2.2 0 1 0 -4.4 0M433.0 56.1a2.2 2.2 0 1 0 4.4 0a2.2 2.2 0 1 0 -4.4 0M433.3 55.5a2.2 2.2 0 1 0 4.4 0a2.2 2.2 0 1 0 -4.4 0M433.6 55.5a2.2 2.2 0 1 0 4.4 0a2.2 2.2 0 1 0 -4.4 0M433.9 55.6a2.2 2.2 0 1 0 4.4 0a2.2 2.2 0 1 0 -4.4 0M434.2 54.7a2.2 2.2 0 1 0 4.4 0a2.2 2.2 0 1 0 -4.4 0M434.6 55.8a2.2 2.2 0 1 0 4.4 0a2.2 2.2 0 1 0 -4.4 0M434.9 56.8a2.2 2.2 0 1 0 4.4 0a2.2 2.2 0 1 0 -4.4 0M435.2 56.3a2.2 2.2 0 1 0 4.4 0a2.2 2.2 0 1 0 -4.4 0M435.5 55.2a2.2 2.2 0 1 0 4.4 0a2.2 2.2 0 1 0 -4.4 0M435.8 55.0a2.2 2.2 0 1 0 4.4 0a2.2 2.2 0 1 0 -4.4 0M436.1 57.6a2.2 2.2 0 1 0 4.4 0a2.2 2.2 0 1 0 -4.4 0M436.4 57.6a2.2 2.2 0 1 0 4.4 0a2.2 2.2 0 1 0 -4.4 0M436.8 56.5a2.2 2.2 0 1 0 4.4 0a2.2 2.2 0 1 0 -4.4 0M437.1 55.1a2.2 2.2 0 1 0 4.4 0a2.2 2.2 0 1 0 -4.4 0M437.4 55.9a2.2 2.2 0 1 0 4.4 0a2.2 2.2 0 1 0 -4.4 0M437.7 54.0a2.2 2.2 0 1 0 4.4 0a2.2 2.2 0 1 0 -4.4 0M438.0 57.9a2.2 2.2 0 1 0 4.4 0a2.2 2.2 0 1 0 -4.4 0M438.3 56.4a2.2 2.2 0 1 0 4.4 0a2.2 2.2 0 1 0 -4.4 0M438.6 56.3a2.2 2.2 0 1 0 4.4 0a2.2 2.2 0 1 0 -4.4 0M439.0 55.7a2.2 2.2 0 1 0 4.4 0a2.2 2.2 0 1 0 -4.4 0M439.3 55.1a2.2 2.2 0 1 0 4.4 0a2.2 2.2 0 1 0 -4.4 0M439.6 56.1a2.2 2.2 0 1 0 4.4 0a2.2 2.2 0 1 0 -4.4 0M439.9 58.8a2.2 2.2 0 1 0 4.4 0a2.2 2.2 0 1 0 -4.4 0M440.2 54.0a2.2 2.2 0 1 0 4.4 0a2.2 2.2 0 1 0 -4.4 0M440.5 56.6a2.2 2.2 0 1 0 4.4 0a2.2 2.2 0 1 0 -4.4 0M440.8 56.2a2.2 2.2 0 1 0 4.4 0a2.2 2.2 0 1 0 -4.4 0M441.2 56.2a2.2 2.2 0 1 0 4.4 0a2.2 2.2 0 1 0 -4.4 0M441.5 55.9a2.2 2.2 0 1 0 4.4 0a2.2 2.2 0 1 0 -4.4 0M441.8 56.1a2.2 2.2 0 1 0 4.4 0a2.2 2.2 0 1 0 -4.4 0M442.1 55.1a2.2 2.2 0 1 0 4.4 0a2.2 2.2 0 1 0 -4.4 0M442.4 55.8a2.2 2.2 0 1 0 4.4 0a2.2 2.2 0 1 0 -4.4 0M442.7 55.4a2.2 2.2 0 1 0 4.4 0a2.2 2.2 0 1 0 -4.4 0M443.0 54.2a2.2 2.2 0 1 0 4.4 0a2.2 2.2 0 1 0 -4.4 0M443.4 57.1a2.2 2.2 0 1 0 4.4 0a2.2 2.2 0 1 0 -4.4 0M443.7 56.4a2.2 2.2 0 1 0 4.4 0a2.2 2.2 0 1 0 -4.4 0M444.0 57.3a2.2 2.2 0 1 0 4.4 0a2.2 2.2 0 1 0 -4.4 0M444.3 56.3a2.2 2.2 0 1 0 4.4 0a2.2 2.2 0 1 0 -4.4 0M444.6 56.5a2.2 2.2 0 1 0 4.4 0a2.2 2.2 0 1 0 -4.4 0M444.9 55.0a2.2 2.2 0 1 0 4.4 0a2.2 2.2 0 1 0 -4.4 0M445.2 54.0a2.2 2.2 0 1 0 4.4 0a2.2 2.2 0 1 0 -4.4 0M445.6 56.0a2.2 2.2 0 1 0 4.4 0a2.2 2.2 0 1 0 -4.4 0M445.9 56.2a2.2 2.2 0 1 0 4.4 0a2.2 2.2 0 1 0 -4.4 0M446.2 55.0a2.2 2.2 0 1 0 4.4 0a2.2 2.2 0 1 0 -4.4 0M446.5 55.7a2.2 2.2 0 1 0 4.4 0a2.2 2.2 0 1 0 -4.4 0M446.8 55.7a2.2 2.2 0 1 0 4.4 0a2.2 2.2 0 1 0 -4.4 0M447.1 55.3a2.2 2.2 0 1 0 4.4 0a2.2 2.2 0 1 0 -4.4 0M447.4 55.7a2.2 2.2 0 1 0 4.4 0a2.2 2.2 0 1 0 -4.4 0M447.8 56.3a2.2 2.2 0 1 0 4.4 0a2.2 2.2 0 1 0 -4.4 0M448.1 55.2a2.2 2.2 0 1 0 4.4 0a2.2 2.2 0 1 0 -4.4 0M448.4 55.7a2.2 2.2 0 1 0 4.4 0a2.2 2.2 0 1 0 -4.4 0M448.7 55.4a2.2 2.2 0 1 0 4.4 0a2.2 2.2 0 1 0 -4.4 0M449.0 54.7a2.2 2.2 0 1 0 4.4 0a2.2 2.2 0 1 0 -4.4 0M449.3 55.8a2.2 2.2 0 1 0 4.4 0a2.2 2.2 0 1 0 -4.4 0M449.7 58.1a2.2 2.2 0 1 0 4.4 0a2.2 2.2 0 1 0 -4.4 0M450.0 56.0a2.2 2.2 0 1 0 4.4 0a2.2 2.2 0 1 0 -4.4 0M450.3 56.3a2.2 2.2 0 1 0 4.4 0a2.2 2.2 0 1 0 -4.4 0M450.6 56.1a2.2 2.2 0 1 0 4.4 0a2.2 2.2 0 1 0 -4.4 0M450.9 56.9a2.2 2.2 0 1 0 4.4 0a2.2 2.2 0 1 0 -4.4 0M451.2 56.5a2.2 2.2 0 1 0 4.4 0a2.2 2.2 0 1 0 -4.4 0M451.5 54.8a2.2 2.2 0 1 0 4.4 0a2.2 2.2 0 1 0 -4.4 0M451.9 55.0a2.2 2.2 0 1 0 4.4 0a2.2 2.2 0 1 0 -4.4 0M452.2 57.2a2.2 2.2 0 1 0 4.4 0a2.2 2.2 0 1 0 -4.4 0M452.5 56.8a2.2 2.2 0 1 0 4.4 0a2.2 2.2 0 1 0 -4.4 0M452.8 56.5a2.2 2.2 0 1 0 4.4 0a2.2 2.2 0 1 0 -4.4 0M453.1 56.4a2.2 2.2 0 1 0 4.4 0a2.2 2.2 0 1 0 -4.4 0M453.4 56.4a2.2 2.2 0 1 0 4.4 0a2.2 2.2 0 1 0 -4.4 0M453.7 56.3a2.2 2.2 0 1 0 4.4 0a2.2 2.2 0 1 0 -4.4 0M454.1 56.0a2.2 2.2 0 1 0 4.4 0a2.2 2.2 0 1 0 -4.4 0M454.4 55.3a2.2 2.2 0 1 0 4.4 0a2.2 2.2 0 1 0 -4.4 0M454.7 56.6a2.2 2.2 0 1 0 4.4 0a2.2 2.2 0 1 0 -4.4 0M455.0 57.1a2.2 2.2 0 1 0 4.4 0a2.2 2.2 0 1 0 -4.4 0M455.3 54.2a2.2 2.2 0 1 0 4.4 0a2.2 2.2 0 1 0 -4.4 0M455.6 56.5a2.2 2.2 0 1 0 4.4 0a2.2 2.2 0 1 0 -4.4 0M455.9 57.1a2.2 2.2 0 1 0 4.4 0a2.2 2.2 0 1 0 -4.4 0M456.3 55.1a2.2 2.2 0 1 0 4.4 0a2.2 2.2 0 1 0 -4.4 0M456.6 55.2a2.2 2.2 0 1 0 4.4 0a2.2 2.2 0 1 0 -4.4 0M456.9 56.5a2.2 2.2 0 1 0 4.4 0a2.2 2.2 0 1 0 -4.4 0M457.2 57.1a2.2 2.2 0 1 0 4.4 0a2.2 2.2 0 1 0 -4.4 0M457.5 54.8a2.2 2.2 0 1 0 4.4 0a2.2 2.2 0 1 0 -4.4 0M457.8 53.4a2.2 2.2 0 1 0 4.4 0a2.2 2.2 0 1 0 -4.4 0M458.1 55.4a2.2 2.2 0 1 0 4.4 0a2.2 2.2 0 1 0 -4.4 0M458.5 54.5a2.2 2.2 0 1 0 4.4 0a2.2 2.2 0 1 0 -4.4 0M458.8 56.3a2.2 2.2 0 1 0 4.4 0a2.2 2.2 0 1 0 -4.4 0M459.1 56.5a2.2 2.2 0 1 0 4.4 0a2.2 2.2 0 1 0 -4.4 0M459.4 56.1a2.2 2.2 0 1 0 4.4 0a2.2 2.2 0 1 0 -4.4 0M459.7 57.2a2.2 2.2 0 1 0 4.4 0a2.2 2.2 0 1 0 -4.4 0M460.0 57.5a2.2 2.2 0 1 0 4.4 0a2.2 2.2 0 1 0 -4.4 0M460.3 54.5a2.2 2.2 0 1 0 4.4 0a2.2 2.2 0 1 0 -4.4 0M460.7 54.4a2.2 2.2 0 1 0 4.4 0a2.2 2.2 0 1 0 -4.4 0M461.0 56.9a2.2 2.2 0 1 0 4.4 0a2.2 2.2 0 1 0 -4.4 0M461.3 55.9a2.2 2.2 0 1 0 4.4 0a2.2 2.2 0 1 0 -4.4 0M461.6 55.5a2.2 2.2 0 1 0 4.4 0a2.2 2.2 0 1 0 -4.4 0M461.9 56.7a2.2 2.2 0 1 0 4.4 0a2.2 2.2 0 1 0 -4.4 0M462.2 55.6a2.2 2.2 0 1 0 4.4 0a2.2 2.2 0 1 0 -4.4 0M462.5 56.7a2.2 2.2 0 1 0 4.4 0a2.2 2.2 0 1 0 -4.4 0M462.9 55.4a2.2 2.2 0 1 0 4.4 0a2.2 2.2 0 1 0 -4.4 0M463.2 56.4a2.2 2.2 0 1 0 4.4 0a2.2 2.2 0 1 0 -4.4 0M463.5 53.8a2.2 2.2 0 1 0 4.4 0a2.2 2.2 0 1 0 -4.4 0M463.8 54.4a2.2 2.2 0 1 0 4.4 0a2.2 2.2 0 1 0 -4.4 0M464.1 54.5a2.2 2.2 0 1 0 4.4 0a2.2 2.2 0 1 0 -4.4 0M464.4 55.8a2.2 2.2 0 1 0 4.4 0a2.2 2.2 0 1 0 -4.4 0M464.7 56.1a2.2 2.2 0 1 0 4.4 0a2.2 2.2 0 1 0 -4.4 0M465.1 56.2a2.2 2.2 0 1 0 4.4 0a2.2 2.2 0 1 0 -4.4 0M465.4 55.6a2.2 2.2 0 1 0 4.4 0a2.2 2.2 0 1 0 -4.4 0M465.7 56.0a2.2 2.2 0 1 0 4.4 0a2.2 2.2 0 1 0 -4.4 0M466.0 54.7a2.2 2.2 0 1 0 4.4 0a2.2 2.2 0 1 0 -4.4 0M466.3 54.9a2.2 2.2 0 1 0 4.4 0a2.2 2.2 0 1 0 -4.4 0M466.6 55.3a2.2 2.2 0 1 0 4.4 0a2.2 2.2 0 1 0 -4.4 0M466.9 54.6a2.2 2.2 0 1 0 4.4 0a2.2 2.2 0 1 0 -4.4 0M467.3 54.8a2.2 2.2 0 1 0 4.4 0a2.2 2.2 0 1 0 -4.4 0M467.6 55.7a2.2 2.2 0 1 0 4.4 0a2.2 2.2 0 1 0 -4.4 0M467.9 54.5a2.2 2.2 0 1 0 4.4 0a2.2 2.2 0 1 0 -4.4 0M468.2 59.1a2.2 2.2 0 1 0 4.4 0a2.2 2.2 0 1 0 -4.4 0M468.5 56.5a2.2 2.2 0 1 0 4.4 0a2.2 2.2 0 1 0 -4.4 0M468.8 55.3a2.2 2.2 0 1 0 4.4 0a2.2 2.2 0 1 0 -4.4 0M469.1 56.1a2.2 2.2 0 1 0 4.4 0a2.2 2.2 0 1 0 -4.4 0M469.5 55.0a2.2 2.2 0 1 0 4.4 0a2.2 2.2 0 1 0 -4.4 0M469.8 54.1a2.2 2.2 0 1 0 4.4 0a2.2 2.2 0 1 0 -4.4 0M470.1 55.1a2.2 2.2 0 1 0 4.4 0a2.2 2.2 0 1 0 -4.4 0M470.4 53.5a2.2 2.2 0 1 0 4.4 0a2.2 2.2 0 1 0 -4.4 0M470.7 55.3a2.2 2.2 0 1 0 4.4 0a2.2 2.2 0 1 0 -4.4 0M471.0 52.3a2.2 2.2 0 1 0 4.4 0a2.2 2.2 0 1 0 -4.4 0M471.3 55.1a2.2 2.2 0 1 0 4.4 0a2.2 2.2 0 1 0 -4.4 0M471.7 54.1a2.2 2.2 0 1 0 4.4 0a2.2 2.2 0 1 0 -4.4 0M472.0 56.4a2.2 2.2 0 1 0 4.4 0a2.2 2.2 0 1 0 -4.4 0M472.3 54.9a2.2 2.2 0 1 0 4.4 0a2.2 2.2 0 1 0 -4.4 0M472.6 55.0a2.2 2.2 0 1 0 4.4 0a2.2 2.2 0 1 0 -4.4 0M472.9 57.1a2.2 2.2 0 1 0 4.4 0a2.2 2.2 0 1 0 -4.4 0M473.2 53.6a2.2 2.2 0 1 0 4.4 0a2.2 2.2 0 1 0 -4.4 0M473.5 54.5a2.2 2.2 0 1 0 4.4 0a2.2 2.2 0 1 0 -4.4 0M473.9 54.4a2.2 2.2 0 1 0 4.4 0a2.2 2.2 0 1 0 -4.4 0M474.2 56.4a2.2 2.2 0 1 0 4.4 0a2.2 2.2 0 1 0 -4.4 0M474.5 56.2a2.2 2.2 0 1 0 4.4 0a2.2 2.2 0 1 0 -4.4 0M474.8 52.8a2.2 2.2 0 1 0 4.4 0a2.2 2.2 0 1 0 -4.4 0M475.1 57.6a2.2 2.2 0 1 0 4.4 0a2.2 2.2 0 1 0 -4.4 0M475.4 55.2a2.2 2.2 0 1 0 4.4 0a2.2 2.2 0 1 0 -4.4 0M475.8 57.0a2.2 2.2 0 1 0 4.4 0a2.2 2.2 0 1 0 -4.4 0M476.1 55.2a2.2 2.2 0 1 0 4.4 0a2.2 2.2 0 1 0 -4.4 0M476.4 54.7a2.2 2.2 0 1 0 4.4 0a2.2 2.2 0 1 0 -4.4 0M476.7 54.0a2.2 2.2 0 1 0 4.4 0a2.2 2.2 0 1 0 -4.4 0M477.0 59.8a2.2 2.2 0 1 0 4.4 0a2.2 2.2 0 1 0 -4.4 0M477.3 55.1a2.2 2.2 0 1 0 4.4 0a2.2 2.2 0 1 0 -4.4 0M477.6 56.8a2.2 2.2 0 1 0 4.4 0a2.2 2.2 0 1 0 -4.4 0M478.0 54.9a2.2 2.2 0 1 0 4.4 0a2.2 2.2 0 1 0 -4.4 0M478.3 56.1a2.2 2.2 0 1 0 4.4 0a2.2 2.2 0 1 0 -4.4 0M478.6 57.0a2.2 2.2 0 1 0 4.4 0a2.2 2.2 0 1 0 -4.4 0M478.9 55.2a2.2 2.2 0 1 0 4.4 0a2.2 2.2 0 1 0 -4.4 0M479.2 57.8a2.2 2.2 0 1 0 4.4 0a2.2 2.2 0 1 0 -4.4 0M479.5 55.1a2.2 2.2 0 1 0 4.4 0a2.2 2.2 0 1 0 -4.4 0M479.8 55.4a2.2 2.2 0 1 0 4.4 0a2.2 2.2 0 1 0 -4.4 0M480.2 57.9a2.2 2.2 0 1 0 4.4 0a2.2 2.2 0 1 0 -4.4 0M480.5 54.9a2.2 2.2 0 1 0 4.4 0a2.2 2.2 0 1 0 -4.4 0M480.8 56.9a2.2 2.2 0 1 0 4.4 0a2.2 2.2 0 1 0 -4.4 0M481.1 55.4a2.2 2.2 0 1 0 4.4 0a2.2 2.2 0 1 0 -4.4 0M481.4 54.4a2.2 2.2 0 1 0 4.4 0a2.2 2.2 0 1 0 -4.4 0M481.7 49.9a2.2 2.2 0 1 0 4.4 0a2.2 2.2 0 1 0 -4.4 0M482.0 54.4a2.2 2.2 0 1 0 4.4 0a2.2 2.2 0 1 0 -4.4 0M482.4 54.7a2.2 2.2 0 1 0 4.4 0a2.2 2.2 0 1 0 -4.4 0M482.7 56.3a2.2 2.2 0 1 0 4.4 0a2.2 2.2 0 1 0 -4.4 0M483.0 57.6a2.2 2.2 0 1 0 4.4 0a2.2 2.2 0 1 0 -4.4 0M483.3 53.6a2.2 2.2 0 1 0 4.4 0a2.2 2.2 0 1 0 -4.4 0M483.6 52.9a2.2 2.2 0 1 0 4.4 0a2.2 2.2 0 1 0 -4.4 0M483.9 53.0a2.2 2.2 0 1 0 4.4 0a2.2 2.2 0 1 0 -4.4 0M484.2 55.8a2.2 2.2 0 1 0 4.4 0a2.2 2.2 0 1 0 -4.4 0M484.6 54.9a2.2 2.2 0 1 0 4.4 0a2.2 2.2 0 1 0 -4.4 0M484.9 56.2a2.2 2.2 0 1 0 4.4 0a2.2 2.2 0 1 0 -4.4 0M485.2 54.4a2.2 2.2 0 1 0 4.4 0a2.2 2.2 0 1 0 -4.4 0M485.5 54.8a2.2 2.2 0 1 0 4.4 0a2.2 2.2 0 1 0 -4.4 0M485.8 53.7a2.2 2.2 0 1 0 4.4 0a2.2 2.2 0 1 0 -4.4 0M486.1 55.0a2.2 2.2 0 1 0 4.4 0a2.2 2.2 0 1 0 -4.4 0M486.4 55.9a2.2 2.2 0 1 0 4.4 0a2.2 2.2 0 1 0 -4.4 0M486.8 54.8a2.2 2.2 0 1 0 4.4 0a2.2 2.2 0 1 0 -4.4 0M487.1 55.5a2.2 2.2 0 1 0 4.4 0a2.2 2.2 0 1 0 -4.4 0M487.4 54.7a2.2 2.2 0 1 0 4.4 0a2.2 2.2 0 1 0 -4.4 0M487.7 54.9a2.2 2.2 0 1 0 4.4 0a2.2 2.2 0 1 0 -4.4 0M488.0 56.7a2.2 2.2 0 1 0 4.4 0a2.2 2.2 0 1 0 -4.4 0M488.3 55.9a2.2 2.2 0 1 0 4.4 0a2.2 2.2 0 1 0 -4.4 0M488.6 55.5a2.2 2.2 0 1 0 4.4 0a2.2 2.2 0 1 0 -4.4 0M489.0 55.5a2.2 2.2 0 1 0 4.4 0a2.2 2.2 0 1 0 -4.4 0M489.3 54.2a2.2 2.2 0 1 0 4.4 0a2.2 2.2 0 1 0 -4.4 0M489.6 54.7a2.2 2.2 0 1 0 4.4 0a2.2 2.2 0 1 0 -4.4 0M489.9 54.8a2.2 2.2 0 1 0 4.4 0a2.2 2.2 0 1 0 -4.4 0M490.2 55.3a2.2 2.2 0 1 0 4.4 0a2.2 2.2 0 1 0 -4.4 0M490.5 57.0a2.2 2.2 0 1 0 4.4 0a2.2 2.2 0 1 0 -4.4 0M490.8 55.6a2.2 2.2 0 1 0 4.4 0a2.2 2.2 0 1 0 -4.4 0M491.2 56.6a2.2 2.2 0 1 0 4.4 0a2.2 2.2 0 1 0 -4.4 0M491.5 57.1a2.2 2.2 0 1 0 4.4 0a2.2 2.2 0 1 0 -4.4 0M491.8 56.2a2.2 2.2 0 1 0 4.4 0a2.2 2.2 0 1 0 -4.4 0M492.1 56.8a2.2 2.2 0 1 0 4.4 0a2.2 2.2 0 1 0 -4.4 0M492.4 55.7a2.2 2.2 0 1 0 4.4 0a2.2 2.2 0 1 0 -4.4 0M492.7 55.2a2.2 2.2 0 1 0 4.4 0a2.2 2.2 0 1 0 -4.4 0M493.0 54.8a2.2 2.2 0 1 0 4.4 0a2.2 2.2 0 1 0 -4.4 0M493.4 57.2a2.2 2.2 0 1 0 4.4 0a2.2 2.2 0 1 0 -4.4 0M493.7 55.5a2.2 2.2 0 1 0 4.4 0a2.2 2.2 0 1 0 -4.4 0M494.0 56.1a2.2 2.2 0 1 0 4.4 0a2.2 2.2 0 1 0 -4.4 0M494.3 54.9a2.2 2.2 0 1 0 4.4 0a2.2 2.2 0 1 0 -4.4 0M494.6 56.6a2.2 2.2 0 1 0 4.4 0a2.2 2.2 0 1 0 -4.4 0M494.9 56.7a2.2 2.2 0 1 0 4.4 0a2.2 2.2 0 1 0 -4.4 0M495.2 54.7a2.2 2.2 0 1 0 4.4 0a2.2 2.2 0 1 0 -4.4 0M495.6 55.0a2.2 2.2 0 1 0 4.4 0a2.2 2.2 0 1 0 -4.4 0M495.9 55.0a2.2 2.2 0 1 0 4.4 0a2.2 2.2 0 1 0 -4.4 0M496.2 56.2a2.2 2.2 0 1 0 4.4 0a2.2 2.2 0 1 0 -4.4 0M496.5 54.9a2.2 2.2 0 1 0 4.4 0a2.2 2.2 0 1 0 -4.4 0M496.8 55.1a2.2 2.2 0 1 0 4.4 0a2.2 2.2 0 1 0 -4.4 0M497.1 57.0a2.2 2.2 0 1 0 4.4 0a2.2 2.2 0 1 0 -4.4 0M497.4 56.4a2.2 2.2 0 1 0 4.4 0a2.2 2.2 0 1 0 -4.4 0M497.8 55.4a2.2 2.2 0 1 0 4.4 0a2.2 2.2 0 1 0 -4.4 0M498.1 55.8a2.2 2.2 0 1 0 4.4 0a2.2 2.2 0 1 0 -4.4 0M498.4 56.6a2.2 2.2 0 1 0 4.4 0a2.2 2.2 0 1 0 -4.4 0M498.7 55.8a2.2 2.2 0 1 0 4.4 0a2.2 2.2 0 1 0 -4.4 0M499.0 54.8a2.2 2.2 0 1 0 4.4 0a2.2 2.2 0 1 0 -4.4 0M499.3 56.8a2.2 2.2 0 1 0 4.4 0a2.2 2.2 0 1 0 -4.4 0M499.6 58.3a2.2 2.2 0 1 0 4.4 0a2.2 2.2 0 1 0 -4.4 0M500.0 56.7a2.2 2.2 0 1 0 4.4 0a2.2 2.2 0 1 0 -4.4 0M500.3 56.5a2.2 2.2 0 1 0 4.4 0a2.2 2.2 0 1 0 -4.4 0M500.6 56.2a2.2 2.2 0 1 0 4.4 0a2.2 2.2 0 1 0 -4.4 0M500.9 55.9a2.2 2.2 0 1 0 4.4 0a2.2 2.2 0 1 0 -4.4 0M501.2 55.7a2.2 2.2 0 1 0 4.4 0a2.2 2.2 0 1 0 -4.4 0M501.5 56.4a2.2 2.2 0 1 0 4.4 0a2.2 2.2 0 1 0 -4.4 0M501.8 57.2a2.2 2.2 0 1 0 4.4 0a2.2 2.2 0 1 0 -4.4 0M502.2 56.0a2.2 2.2 0 1 0 4.4 0a2.2 2.2 0 1 0 -4.4 0M502.5 55.5a2.2 2.2 0 1 0 4.4 0a2.2 2.2 0 1 0 -4.4 0M502.8 55.2a2.2 2.2 0 1 0 4.4 0a2.2 2.2 0 1 0 -4.4 0M503.1 56.5a2.2 2.2 0 1 0 4.4 0a2.2 2.2 0 1 0 -4.4 0M503.4 56.5a2.2 2.2 0 1 0 4.4 0a2.2 2.2 0 1 0 -4.4 0M503.7 56.2a2.2 2.2 0 1 0 4.4 0a2.2 2.2 0 1 0 -4.4 0M504.1 56.5a2.2 2.2 0 1 0 4.4 0a2.2 2.2 0 1 0 -4.4 0M504.4 56.4a2.2 2.2 0 1 0 4.4 0a2.2 2.2 0 1 0 -4.4 0M504.7 55.5a2.2 2.2 0 1 0 4.4 0a2.2 2.2 0 1 0 -4.4 0M505.0 55.8a2.2 2.2 0 1 0 4.4 0a2.2 2.2 0 1 0 -4.4 0M505.3 56.9a2.2 2.2 0 1 0 4.4 0a2.2 2.2 0 1 0 -4.4 0M505.6 55.5a2.2 2.2 0 1 0 4.4 0a2.2 2.2 0 1 0 -4.4 0M505.9 58.0a2.2 2.2 0 1 0 4.4 0a2.2 2.2 0 1 0 -4.4 0M506.3 55.7a2.2 2.2 0 1 0 4.4 0a2.2 2.2 0 1 0 -4.4 0M506.6 57.2a2.2 2.2 0 1 0 4.4 0a2.2 2.2 0 1 0 -4.4 0M506.9 56.6a2.2 2.2 0 1 0 4.4 0a2.2 2.2 0 1 0 -4.4 0M507.2 56.6a2.2 2.2 0 1 0 4.4 0a2.2 2.2 0 1 0 -4.4 0M507.5 55.8a2.2 2.2 0 1 0 4.4 0a2.2 2.2 0 1 0 -4.4 0M507.8 54.6a2.2 2.2 0 1 0 4.4 0a2.2 2.2 0 1 0 -4.4 0M508.1 55.3a2.2 2.2 0 1 0 4.4 0a2.2 2.2 0 1 0 -4.4 0M508.5 56.7a2.2 2.2 0 1 0 4.4 0a2.2 2.2 0 1 0 -4.4 0M508.8 56.3a2.2 2.2 0 1 0 4.4 0a2.2 2.2 0 1 0 -4.4 0M509.1 54.9a2.2 2.2 0 1 0 4.4 0a2.2 2.2 0 1 0 -4.4 0M509.4 54.7a2.2 2.2 0 1 0 4.4 0a2.2 2.2 0 1 0 -4.4 0M509.7 55.3a2.2 2.2 0 1 0 4.4 0a2.2 2.2 0 1 0 -4.4 0M510.0 56.6a2.2 2.2 0 1 0 4.4 0a2.2 2.2 0 1 0 -4.4 0M510.3 56.1a2.2 2.2 0 1 0 4.4 0a2.2 2.2 0 1 0 -4.4 0M510.7 55.5a2.2 2.2 0 1 0 4.4 0a2.2 2.2 0 1 0 -4.4 0M511.0 54.8a2.2 2.2 0 1 0 4.4 0a2.2 2.2 0 1 0 -4.4 0M511.3 56.1a2.2 2.2 0 1 0 4.4 0a2.2 2.2 0 1 0 -4.4 0M511.6 53.5a2.2 2.2 0 1 0 4.4 0a2.2 2.2 0 1 0 -4.4 0M511.9 55.7a2.2 2.2 0 1 0 4.4 0a2.2 2.2 0 1 0 -4.4 0M512.2 56.0a2.2 2.2 0 1 0 4.4 0a2.2 2.2 0 1 0 -4.4 0M512.5 55.0a2.2 2.2 0 1 0 4.4 0a2.2 2.2 0 1 0 -4.4 0M512.9 56.6a2.2 2.2 0 1 0 4.4 0a2.2 2.2 0 1 0 -4.4 0M513.2 55.7a2.2 2.2 0 1 0 4.4 0a2.2 2.2 0 1 0 -4.4 0M513.5 57.9a2.2 2.2 0 1 0 4.4 0a2.2 2.2 0 1 0 -4.4 0M513.8 56.0a2.2 2.2 0 1 0 4.4 0a2.2 2.2 0 1 0 -4.4 0M514.1 56.2a2.2 2.2 0 1 0 4.4 0a2.2 2.2 0 1 0 -4.4 0M514.4 55.7a2.2 2.2 0 1 0 4.4 0a2.2 2.2 0 1 0 -4.4 0M514.7 55.4a2.2 2.2 0 1 0 4.4 0a2.2 2.2 0 1 0 -4.4 0M515.1 56.0a2.2 2.2 0 1 0 4.4 0a2.2 2.2 0 1 0 -4.4 0M515.4 56.6a2.2 2.2 0 1 0 4.4 0a2.2 2.2 0 1 0 -4.4 0M515.7 55.2a2.2 2.2 0 1 0 4.4 0a2.2 2.2 0 1 0 -4.4 0M516.0 57.2a2.2 2.2 0 1 0 4.4 0a2.2 2.2 0 1 0 -4.4 0M516.3 54.2a2.2 2.2 0 1 0 4.4 0a2.2 2.2 0 1 0 -4.4 0M516.6 55.0a2.2 2.2 0 1 0 4.4 0a2.2 2.2 0 1 0 -4.4 0M516.9 61.9a2.2 2.2 0 1 0 4.4 0a2.2 2.2 0 1 0 -4.4 0M517.3 54.8a2.2 2.2 0 1 0 4.4 0a2.2 2.2 0 1 0 -4.4 0M517.6 54.3a2.2 2.2 0 1 0 4.4 0a2.2 2.2 0 1 0 -4.4 0M517.9 54.9a2.2 2.2 0 1 0 4.4 0a2.2 2.2 0 1 0 -4.4 0M518.2 56.7a2.2 2.2 0 1 0 4.4 0a2.2 2.2 0 1 0 -4.4 0M518.5 56.0a2.2 2.2 0 1 0 4.4 0a2.2 2.2 0 1 0 -4.4 0M518.8 56.7a2.2 2.2 0 1 0 4.4 0a2.2 2.2 0 1 0 -4.4 0M519.1 55.2a2.2 2.2 0 1 0 4.4 0a2.2 2.2 0 1 0 -4.4 0M519.5 55.2a2.2 2.2 0 1 0 4.4 0a2.2 2.2 0 1 0 -4.4 0M519.8 55.2a2.2 2.2 0 1 0 4.4 0a2.2 2.2 0 1 0 -4.4 0M520.1 56.9a2.2 2.2 0 1 0 4.4 0a2.2 2.2 0 1 0 -4.4 0M520.4 55.4a2.2 2.2 0 1 0 4.4 0a2.2 2.2 0 1 0 -4.4 0M520.7 55.0a2.2 2.2 0 1 0 4.4 0a2.2 2.2 0 1 0 -4.4 0M521.0 53.8a2.2 2.2 0 1 0 4.4 0a2.2 2.2 0 1 0 -4.4 0M521.3 55.4a2.2 2.2 0 1 0 4.4 0a2.2 2.2 0 1 0 -4.4 0M521.7 55.1a2.2 2.2 0 1 0 4.4 0a2.2 2.2 0 1 0 -4.4 0M522.0 56.0a2.2 2.2 0 1 0 4.4 0a2.2 2.2 0 1 0 -4.4 0M522.3 54.5a2.2 2.2 0 1 0 4.4 0a2.2 2.2 0 1 0 -4.4 0M522.6 56.4a2.2 2.2 0 1 0 4.4 0a2.2 2.2 0 1 0 -4.4 0M522.9 54.5a2.2 2.2 0 1 0 4.4 0a2.2 2.2 0 1 0 -4.4 0M523.2 55.9a2.2 2.2 0 1 0 4.4 0a2.2 2.2 0 1 0 -4.4 0M523.5 55.0a2.2 2.2 0 1 0 4.4 0a2.2 2.2 0 1 0 -4.4 0M523.9 56.3a2.2 2.2 0 1 0 4.4 0a2.2 2.2 0 1 0 -4.4 0M524.2 56.7a2.2 2.2 0 1 0 4.4 0a2.2 2.2 0 1 0 -4.4 0M524.5 56.9a2.2 2.2 0 1 0 4.4 0a2.2 2.2 0 1 0 -4.4 0M524.8 57.1a2.2 2.2 0 1 0 4.4 0a2.2 2.2 0 1 0 -4.4 0M525.1 55.8a2.2 2.2 0 1 0 4.4 0a2.2 2.2 0 1 0 -4.4 0M525.4 55.7a2.2 2.2 0 1 0 4.4 0a2.2 2.2 0 1 0 -4.4 0M525.7 54.7a2.2 2.2 0 1 0 4.4 0a2.2 2.2 0 1 0 -4.4 0M526.1 54.5a2.2 2.2 0 1 0 4.4 0a2.2 2.2 0 1 0 -4.4 0M526.4 55.1a2.2 2.2 0 1 0 4.4 0a2.2 2.2 0 1 0 -4.4 0M526.7 55.4a2.2 2.2 0 1 0 4.4 0a2.2 2.2 0 1 0 -4.4 0M527.0 53.5a2.2 2.2 0 1 0 4.4 0a2.2 2.2 0 1 0 -4.4 0M527.3 57.0a2.2 2.2 0 1 0 4.4 0a2.2 2.2 0 1 0 -4.4 0M527.6 57.9a2.2 2.2 0 1 0 4.4 0a2.2 2.2 0 1 0 -4.4 0M527.9 55.5a2.2 2.2 0 1 0 4.4 0a2.2 2.2 0 1 0 -4.4 0M528.3 55.8a2.2 2.2 0 1 0 4.4 0a2.2 2.2 0 1 0 -4.4 0M528.6 55.7a2.2 2.2 0 1 0 4.4 0a2.2 2.2 0 1 0 -4.4 0M528.9 56.6a2.2 2.2 0 1 0 4.4 0a2.2 2.2 0 1 0 -4.4 0M529.2 55.3a2.2 2.2 0 1 0 4.4 0a2.2 2.2 0 1 0 -4.4 0M529.5 56.5a2.2 2.2 0 1 0 4.4 0a2.2 2.2 0 1 0 -4.4 0M529.8 55.7a2.2 2.2 0 1 0 4.4 0a2.2 2.2 0 1 0 -4.4 0M530.1 55.5a2.2 2.2 0 1 0 4.4 0a2.2 2.2 0 1 0 -4.4 0M530.5 57.2a2.2 2.2 0 1 0 4.4 0a2.2 2.2 0 1 0 -4.4 0M530.8 57.1a2.2 2.2 0 1 0 4.4 0a2.2 2.2 0 1 0 -4.4 0M531.1 55.7a2.2 2.2 0 1 0 4.4 0a2.2 2.2 0 1 0 -4.4 0M531.4 55.8a2.2 2.2 0 1 0 4.4 0a2.2 2.2 0 1 0 -4.4 0M531.7 55.0a2.2 2.2 0 1 0 4.4 0a2.2 2.2 0 1 0 -4.4 0M532.0 53.9a2.2 2.2 0 1 0 4.4 0a2.2 2.2 0 1 0 -4.4 0M532.3 56.0a2.2 2.2 0 1 0 4.4 0a2.2 2.2 0 1 0 -4.4 0M532.7 56.6a2.2 2.2 0 1 0 4.4 0a2.2 2.2 0 1 0 -4.4 0M533.0 56.3a2.2 2.2 0 1 0 4.4 0a2.2 2.2 0 1 0 -4.4 0M533.3 55.3a2.2 2.2 0 1 0 4.4 0a2.2 2.2 0 1 0 -4.4 0M533.6 54.3a2.2 2.2 0 1 0 4.4 0a2.2 2.2 0 1 0 -4.4 0M533.9 56.9a2.2 2.2 0 1 0 4.4 0a2.2 2.2 0 1 0 -4.4 0M534.2 56.0a2.2 2.2 0 1 0 4.4 0a2.2 2.2 0 1 0 -4.4 0M534.6 57.2a2.2 2.2 0 1 0 4.4 0a2.2 2.2 0 1 0 -4.4 0M534.9 55.5a2.2 2.2 0 1 0 4.4 0a2.2 2.2 0 1 0 -4.4 0M535.2 57.3a2.2 2.2 0 1 0 4.4 0a2.2 2.2 0 1 0 -4.4 0M535.5 56.9a2.2 2.2 0 1 0 4.4 0a2.2 2.2 0 1 0 -4.4 0M535.8 54.7a2.2 2.2 0 1 0 4.4 0a2.2 2.2 0 1 0 -4.4 0M536.1 57.0a2.2 2.2 0 1 0 4.4 0a2.2 2.2 0 1 0 -4.4 0M536.4 57.5a2.2 2.2 0 1 0 4.4 0a2.2 2.2 0 1 0 -4.4 0M536.8 57.7a2.2 2.2 0 1 0 4.4 0a2.2 2.2 0 1 0 -4.4 0M537.1 56.4a2.2 2.2 0 1 0 4.4 0a2.2 2.2 0 1 0 -4.4 0M537.4 56.1a2.2 2.2 0 1 0 4.4 0a2.2 2.2 0 1 0 -4.4 0M537.7 57.0a2.2 2.2 0 1 0 4.4 0a2.2 2.2 0 1 0 -4.4 0M538.0 55.9a2.2 2.2 0 1 0 4.4 0a2.2 2.2 0 1 0 -4.4 0M538.3 54.3a2.2 2.2 0 1 0 4.4 0a2.2 2.2 0 1 0 -4.4 0M538.6 56.7a2.2 2.2 0 1 0 4.4 0a2.2 2.2 0 1 0 -4.4 0M539.0 55.5a2.2 2.2 0 1 0 4.4 0a2.2 2.2 0 1 0 -4.4 0M539.3 55.4a2.2 2.2 0 1 0 4.4 0a2.2 2.2 0 1 0 -4.4 0M539.6 55.2a2.2 2.2 0 1 0 4.4 0a2.2 2.2 0 1 0 -4.4 0M539.9 55.0a2.2 2.2 0 1 0 4.4 0a2.2 2.2 0 1 0 -4.4 0M540.2 55.1a2.2 2.2 0 1 0 4.4 0a2.2 2.2 0 1 0 -4.4 0M540.5 56.0a2.2 2.2 0 1 0 4.4 0a2.2 2.2 0 1 0 -4.4 0M540.8 54.3a2.2 2.2 0 1 0 4.4 0a2.2 2.2 0 1 0 -4.4 0M541.2 54.6a2.2 2.2 0 1 0 4.4 0a2.2 2.2 0 1 0 -4.4 0M541.5 56.2a2.2 2.2 0 1 0 4.4 0a2.2 2.2 0 1 0 -4.4 0M541.8 56.1a2.2 2.2 0 1 0 4.4 0a2.2 2.2 0 1 0 -4.4 0M542.1 56.0a2.2 2.2 0 1 0 4.4 0a2.2 2.2 0 1 0 -4.4 0M542.4 56.0a2.2 2.2 0 1 0 4.4 0a2.2 2.2 0 1 0 -4.4 0M542.7 61.0a2.2 2.2 0 1 0 4.4 0a2.2 2.2 0 1 0 -4.4 0M543.0 54.8a2.2 2.2 0 1 0 4.4 0a2.2 2.2 0 1 0 -4.4 0M543.4 54.6a2.2 2.2 0 1 0 4.4 0a2.2 2.2 0 1 0 -4.4 0M543.7 55.6a2.2 2.2 0 1 0 4.4 0a2.2 2.2 0 1 0 -4.4 0M544.0 55.5a2.2 2.2 0 1 0 4.4 0a2.2 2.2 0 1 0 -4.4 0M544.3 55.5a2.2 2.2 0 1 0 4.4 0a2.2 2.2 0 1 0 -4.4 0M544.6 57.7a2.2 2.2 0 1 0 4.4 0a2.2 2.2 0 1 0 -4.4 0M544.9 56.9a2.2 2.2 0 1 0 4.4 0a2.2 2.2 0 1 0 -4.4 0M545.2 55.1a2.2 2.2 0 1 0 4.4 0a2.2 2.2 0 1 0 -4.4 0M545.6 54.7a2.2 2.2 0 1 0 4.4 0a2.2 2.2 0 1 0 -4.4 0M545.9 55.6a2.2 2.2 0 1 0 4.4 0a2.2 2.2 0 1 0 -4.4 0M546.2 55.4a2.2 2.2 0 1 0 4.4 0a2.2 2.2 0 1 0 -4.4 0M546.5 54.5a2.2 2.2 0 1 0 4.4 0a2.2 2.2 0 1 0 -4.4 0M546.8 54.3a2.2 2.2 0 1 0 4.4 0a2.2 2.2 0 1 0 -4.4 0M547.1 55.7a2.2 2.2 0 1 0 4.4 0a2.2 2.2 0 1 0 -4.4 0M547.4 55.4a2.2 2.2 0 1 0 4.4 0a2.2 2.2 0 1 0 -4.4 0M547.8 56.9a2.2 2.2 0 1 0 4.4 0a2.2 2.2 0 1 0 -4.4 0M548.1 55.6a2.2 2.2 0 1 0 4.4 0a2.2 2.2 0 1 0 -4.4 0M548.4 55.9a2.2 2.2 0 1 0 4.4 0a2.2 2.2 0 1 0 -4.4 0M548.7 56.7a2.2 2.2 0 1 0 4.4 0a2.2 2.2 0 1 0 -4.4 0M549.0 55.9a2.2 2.2 0 1 0 4.4 0a2.2 2.2 0 1 0 -4.4 0M549.3 55.2a2.2 2.2 0 1 0 4.4 0a2.2 2.2 0 1 0 -4.4 0M549.6 56.6a2.2 2.2 0 1 0 4.4 0a2.2 2.2 0 1 0 -4.4 0M550.0 57.5a2.2 2.2 0 1 0 4.4 0a2.2 2.2 0 1 0 -4.4 0M550.3 54.6a2.2 2.2 0 1 0 4.4 0a2.2 2.2 0 1 0 -4.4 0M550.6 56.3a2.2 2.2 0 1 0 4.4 0a2.2 2.2 0 1 0 -4.4 0M550.9 57.2a2.2 2.2 0 1 0 4.4 0a2.2 2.2 0 1 0 -4.4 0M551.2 55.2a2.2 2.2 0 1 0 4.4 0a2.2 2.2 0 1 0 -4.4 0M551.5 56.1a2.2 2.2 0 1 0 4.4 0a2.2 2.2 0 1 0 -4.4 0M551.8 55.4a2.2 2.2 0 1 0 4.4 0a2.2 2.2 0 1 0 -4.4 0M552.2 57.4a2.2 2.2 0 1 0 4.4 0a2.2 2.2 0 1 0 -4.4 0M552.5 53.7a2.2 2.2 0 1 0 4.4 0a2.2 2.2 0 1 0 -4.4 0M552.8 54.8a2.2 2.2 0 1 0 4.4 0a2.2 2.2 0 1 0 -4.4 0M553.1 55.9a2.2 2.2 0 1 0 4.4 0a2.2 2.2 0 1 0 -4.4 0M553.4 56.7a2.2 2.2 0 1 0 4.4 0a2.2 2.2 0 1 0 -4.4 0M553.7 55.8a2.2 2.2 0 1 0 4.4 0a2.2 2.2 0 1 0 -4.4 0M554.0 54.9a2.2 2.2 0 1 0 4.4 0a2.2 2.2 0 1 0 -4.4 0M554.4 57.1a2.2 2.2 0 1 0 4.4 0a2.2 2.2 0 1 0 -4.4 0M554.7 57.6a2.2 2.2 0 1 0 4.4 0a2.2 2.2 0 1 0 -4.4 0M555.0 56.4a2.2 2.2 0 1 0 4.4 0a2.2 2.2 0 1 0 -4.4 0M555.3 56.4a2.2 2.2 0 1 0 4.4 0a2.2 2.2 0 1 0 -4.4 0M555.6 56.4a2.2 2.2 0 1 0 4.4 0a2.2 2.2 0 1 0 -4.4 0M555.9 56.7a2.2 2.2 0 1 0 4.4 0a2.2 2.2 0 1 0 -4.4 0M556.2 55.9a2.2 2.2 0 1 0 4.4 0a2.2 2.2 0 1 0 -4.4 0M556.6 55.3a2.2 2.2 0 1 0 4.4 0a2.2 2.2 0 1 0 -4.4 0M556.9 56.8a2.2 2.2 0 1 0 4.4 0a2.2 2.2 0 1 0 -4.4 0M557.2 56.0a2.2 2.2 0 1 0 4.4 0a2.2 2.2 0 1 0 -4.4 0M557.5 55.8a2.2 2.2 0 1 0 4.4 0a2.2 2.2 0 1 0 -4.4 0M332.8 66.0a2.2 2.2 0 1 0 4.4 0a2.2 2.2 0 1 0 -4.4 0M329.8 64.0a2.2 2.2 0 1 0 4.4 0a2.2 2.2 0 1 0 -4.4 0M255.8 63.0a2.2 2.2 0 1 0 4.4 0a2.2 2.2 0 1 0 -4.4 0M285.8 66.0a2.2 2.2 0 1 0 4.4 0a2.2 2.2 0 1 0 -4.4 0M149.8 75.0a2.2 2.2 0 1 0 4.4 0a2.2 2.2 0 1 0 -4.4 0M150.8 70.0a2.2 2.2 0 1 0 4.4 0a2.2 2.2 0 1 0 -4.4 0M149.8 66.0a2.2 2.2 0 1 0 4.4 0a2.2 2.2 0 1 0 -4.4 0" fill="none" stroke="#0000ff" stroke-width="1.35"/>
<path d="M557.6 52.4a2.4 2.4 0 1 0 4.8 0a2.4 2.4 0 1 0 -4.8 0M557.9 55.7a2.4 2.4 0 1 0 4.8 0a2.4 2.4 0 1 0 -4.8 0M558.2 57.2a2.4 2.4 0 1 0 4.8 0a2.4 2.4 0 1 0 -4.8 0M558.6 53.5a2.4 2.4 0 1 0 4.8 0a2.4 2.4 0 1 0 -4.8 0M558.9 55.4a2.4 2.4 0 1 0 4.8 0a2.4 2.4 0 1 0 -4.8 0M559.2 55.6a2.4 2.4 0 1 0 4.8 0a2.4 2.4 0 1 0 -4.8 0M559.5 53.2a2.4 2.4 0 1 0 4.8 0a2.4 2.4 0 1 0 -4.8 0M559.8 59.7a2.4 2.4 0 1 0 4.8 0a2.4 2.4 0 1 0 -4.8 0M560.1 51.1a2.4 2.4 0 1 0 4.8 0a2.4 2.4 0 1 0 -4.8 0M560.5 58.0a2.4 2.4 0 1 0 4.8 0a2.4 2.4 0 1 0 -4.8 0M560.8 56.0a2.4 2.4 0 1 0 4.8 0a2.4 2.4 0 1 0 -4.8 0M561.1 57.8a2.4 2.4 0 1 0 4.8 0a2.4 2.4 0 1 0 -4.8 0M561.4 53.3a2.4 2.4 0 1 0 4.8 0a2.4 2.4 0 1 0 -4.8 0M561.7 51.1a2.4 2.4 0 1 0 4.8 0a2.4 2.4 0 1 0 -4.8 0M562.0 61.2a2.4 2.4 0 1 0 4.8 0a2.4 2.4 0 1 0 -4.8 0M562.3 56.0a2.4 2.4 0 1 0 4.8 0a2.4 2.4 0 1 0 -4.8 0M562.7 65.7a2.4 2.4 0 1 0 4.8 0a2.4 2.4 0 1 0 -4.8 0M563.0 57.6a2.4 2.4 0 1 0 4.8 0a2.4 2.4 0 1 0 -4.8 0M563.3 61.7a2.4 2.4 0 1 0 4.8 0a2.4 2.4 0 1 0 -4.8 0M563.6 57.3a2.4 2.4 0 1 0 4.8 0a2.4 2.4 0 1 0 -4.8 0M563.9 53.7a2.4 2.4 0 1 0 4.8 0a2.4 2.4 0 1 0 -4.8 0M564.2 53.0a2.4 2.4 0 1 0 4.8 0a2.4 2.4 0 1 0 -4.8 0M564.5 55.0a2.4 2.4 0 1 0 4.8 0a2.4 2.4 0 1 0 -4.8 0M564.9 53.1a2.4 2.4 0 1 0 4.8 0a2.4 2.4 0 1 0 -4.8 0M565.2 53.4a2.4 2.4 0 1 0 4.8 0a2.4 2.4 0 1 0 -4.8 0M565.5 55.9a2.4 2.4 0 1 0 4.8 0a2.4 2.4 0 1 0 -4.8 0M565.8 59.1a2.4 2.4 0 1 0 4.8 0a2.4 2.4 0 1 0 -4.8 0M566.1 59.3a2.4 2.4 0 1 0 4.8 0a2.4 2.4 0 1 0 -4.8 0M566.4 55.8a2.4 2.4 0 1 0 4.8 0a2.4 2.4 0 1 0 -4.8 0M566.7 53.6a2.4 2.4 0 1 0 4.8 0a2.4 2.4 0 1 0 -4.8 0M567.1 55.2a2.4 2.4 0 1 0 4.8 0a2.4 2.4 0 1 0 -4.8 0M567.4 58.7a2.4 2.4 0 1 0 4.8 0a2.4 2.4 0 1 0 -4.8 0M567.7 56.3a2.4 2.4 0 1 0 4.8 0a2.4 2.4 0 1 0 -4.8 0M568.0 62.4a2.4 2.4 0 1 0 4.8 0a2.4 2.4 0 1 0 -4.8 0M568.3 56.0a2.4 2.4 0 1 0 4.8 0a2.4 2.4 0 1 0 -4.8 0M568.6 54.6a2.4 2.4 0 1 0 4.8 0a2.4 2.4 0 1 0 -4.8 0M568.9 59.1a2.4 2.4 0 1 0 4.8 0a2.4 2.4 0 1 0 -4.8 0M569.3 56.1a2.4 2.4 0 1 0 4.8 0a2.4 2.4 0 1 0 -4.8 0M569.6 59.3a2.4 2.4 0 1 0 4.8 0a2.4 2.4 0 1 0 -4.8 0M569.9 59.9a2.4 2.4 0 1 0 4.8 0a2.4 2.4 0 1 0 -4.8 0M570.2 58.0a2.4 2.4 0 1 0 4.8 0a2.4 2.4 0 1 0 -4.8 0M570.5 57.4a2.4 2.4 0 1 0 4.8 0a2.4 2.4 0 1 0 -4.8 0M570.8 60.7a2.4 2.4 0 1 0 4.8 0a2.4 2.4 0 1 0 -4.8 0M571.1 59.4a2.4 2.4 0 1 0 4.8 0a2.4 2.4 0 1 0 -4.8 0M571.5 56.8a2.4 2.4 0 1 0 4.8 0a2.4 2.4 0 1 0 -4.8 0M571.8 54.8a2.4 2.4 0 1 0 4.8 0a2.4 2.4 0 1 0 -4.8 0M572.1 54.8a2.4 2.4 0 1 0 4.8 0a2.4 2.4 0 1 0 -4.8 0M572.4 58.8a2.4 2.4 0 1 0 4.8 0a2.4 2.4 0 1 0 -4.8 0M572.7 59.7a2.4 2.4 0 1 0 4.8 0a2.4 2.4 0 1 0 -4.8 0M573.0 53.0a2.4 2.4 0 1 0 4.8 0a2.4 2.4 0 1 0 -4.8 0M573.3 53.5a2.4 2.4 0 1 0 4.8 0a2.4 2.4 0 1 0 -4.8 0M573.7 50.9a2.4 2.4 0 1 0 4.8 0a2.4 2.4 0 1 0 -4.8 0M574.0 60.7a2.4 2.4 0 1 0 4.8 0a2.4 2.4 0 1 0 -4.8 0M574.3 53.0a2.4 2.4 0 1 0 4.8 0a2.4 2.4 0 1 0 -4.8 0M574.6 58.2a2.4 2.4 0 1 0 4.8 0a2.4 2.4 0 1 0 -4.8 0M574.9 62.5a2.4 2.4 0 1 0 4.8 0a2.4 2.4 0 1 0 -4.8 0M575.2 52.3a2.4 2.4 0 1 0 4.8 0a2.4 2.4 0 1 0 -4.8 0M575.5 59.6a2.4 2.4 0 1 0 4.8 0a2.4 2.4 0 1 0 -4.8 0M575.9 59.4a2.4 2.4 0 1 0 4.8 0a2.4 2.4 0 1 0 -4.8 0M576.2 60.2a2.4 2.4 0 1 0 4.8 0a2.4 2.4 0 1 0 -4.8 0M576.5 52.2a2.4 2.4 0 1 0 4.8 0a2.4 2.4 0 1 0 -4.8 0M576.8 49.9a2.4 2.4 0 1 0 4.8 0a2.4 2.4 0 1 0 -4.8 0M577.1 60.0a2.4 2.4 0 1 0 4.8 0a2.4 2.4 0 1 0 -4.8 0M577.4 54.7a2.4 2.4 0 1 0 4.8 0a2.4 2.4 0 1 0 -4.8 0M577.7 48.7a2.4 2.4 0 1 0 4.8 0a2.4 2.4 0 1 0 -4.8 0M578.1 58.1a2.4 2.4 0 1 0 4.8 0a2.4 2.4 0 1 0 -4.8 0M578.4 61.6a2.4 2.4 0 1 0 4.8 0a2.4 2.4 0 1 0 -4.8 0M578.7 53.8a2.4 2.4 0 1 0 4.8 0a2.4 2.4 0 1 0 -4.8 0M579.0 59.6a2.4 2.4 0 1 0 4.8 0a2.4 2.4 0 1 0 -4.8 0M579.3 54.3a2.4 2.4 0 1 0 4.8 0a2.4 2.4 0 1 0 -4.8 0M579.6 56.6a2.4 2.4 0 1 0 4.8 0a2.4 2.4 0 1 0 -4.8 0M579.9 57.2a2.4 2.4 0 1 0 4.8 0a2.4 2.4 0 1 0 -4.8 0M580.3 58.5a2.4 2.4 0 1 0 4.8 0a2.4 2.4 0 1 0 -4.8 0M580.6 55.0a2.4 2.4 0 1 0 4.8 0a2.4 2.4 0 1 0 -4.8 0M580.9 56.6a2.4 2.4 0 1 0 4.8 0a2.4 2.4 0 1 0 -4.8 0M581.2 57.6a2.4 2.4 0 1 0 4.8 0a2.4 2.4 0 1 0 -4.8 0M581.5 61.5a2.4 2.4 0 1 0 4.8 0a2.4 2.4 0 1 0 -4.8 0M581.8 59.1a2.4 2.4 0 1 0 4.8 0a2.4 2.4 0 1 0 -4.8 0M582.1 59.0a2.4 2.4 0 1 0 4.8 0a2.4 2.4 0 1 0 -4.8 0M582.5 56.7a2.4 2.4 0 1 0 4.8 0a2.4 2.4 0 1 0 -4.8 0M582.8 56.3a2.4 2.4 0 1 0 4.8 0a2.4 2.4 0 1 0 -4.8 0M583.1 57.3a2.4 2.4 0 1 0 4.8 0a2.4 2.4 0 1 0 -4.8 0M583.4 60.1a2.4 2.4 0 1 0 4.8 0a2.4 2.4 0 1 0 -4.8 0M583.7 57.2a2.4 2.4 0 1 0 4.8 0a2.4 2.4 0 1 0 -4.8 0M584.0 59.4a2.4 2.4 0 1 0 4.8 0a2.4 2.4 0 1 0 -4.8 0M584.3 62.0a2.4 2.4 0 1 0 4.8 0a2.4 2.4 0 1 0 -4.8 0M584.7 52.7a2.4 2.4 0 1 0 4.8 0a2.4 2.4 0 1 0 -4.8 0M585.0 53.3a2.4 2.4 0 1 0 4.8 0a2.4 2.4 0 1 0 -4.8 0M585.3 62.4a2.4 2.4 0 1 0 4.8 0a2.4 2.4 0 1 0 -4.8 0M585.6 54.5a2.4 2.4 0 1 0 4.8 0a2.4 2.4 0 1 0 -4.8 0M585.9 55.2a2.4 2.4 0 1 0 4.8 0a2.4 2.4 0 1 0 -4.8 0M586.2 54.6a2.4 2.4 0 1 0 4.8 0a2.4 2.4 0 1 0 -4.8 0M586.5 57.6a2.4 2.4 0 1 0 4.8 0a2.4 2.4 0 1 0 -4.8 0M586.9 55.2a2.4 2.4 0 1 0 4.8 0a2.4 2.4 0 1 0 -4.8 0M587.2 51.1a2.4 2.4 0 1 0 4.8 0a2.4 2.4 0 1 0 -4.8 0M587.5 55.7a2.4 2.4 0 1 0 4.8 0a2.4 2.4 0 1 0 -4.8 0M587.8 54.2a2.4 2.4 0 1 0 4.8 0a2.4 2.4 0 1 0 -4.8 0M588.1 60.5a2.4 2.4 0 1 0 4.8 0a2.4 2.4 0 1 0 -4.8 0M588.4 60.7a2.4 2.4 0 1 0 4.8 0a2.4 2.4 0 1 0 -4.8 0M588.8 56.3a2.4 2.4 0 1 0 4.8 0a2.4 2.4 0 1 0 -4.8 0M589.1 58.1a2.4 2.4 0 1 0 4.8 0a2.4 2.4 0 1 0 -4.8 0M589.4 53.6a2.4 2.4 0 1 0 4.8 0a2.4 2.4 0 1 0 -4.8 0M589.7 54.6a2.4 2.4 0 1 0 4.8 0a2.4 2.4 0 1 0 -4.8 0M590.0 53.7a2.4 2.4 0 1 0 4.8 0a2.4 2.4 0 1 0 -4.8 0M590.3 54.4a2.4 2.4 0 1 0 4.8 0a2.4 2.4 0 1 0 -4.8 0M590.6 59.6a2.4 2.4 0 1 0 4.8 0a2.4 2.4 0 1 0 -4.8 0M591.0 55.5a2.4 2.4 0 1 0 4.8 0a2.4 2.4 0 1 0 -4.8 0M591.3 56.4a2.4 2.4 0 1 0 4.8 0a2.4 2.4 0 1 0 -4.8 0M591.6 59.3a2.4 2.4 0 1 0 4.8 0a2.4 2.4 0 1 0 -4.8 0M591.9 60.3a2.4 2.4 0 1 0 4.8 0a2.4 2.4 0 1 0 -4.8 0M592.2 60.7a2.4 2.4 0 1 0 4.8 0a2.4 2.4 0 1 0 -4.8 0M592.5 55.3a2.4 2.4 0 1 0 4.8 0a2.4 2.4 0 1 0 -4.8 0M592.8 58.3a2.4 2.4 0 1 0 4.8 0a2.4 2.4 0 1 0 -4.8 0M593.2 61.9a2.4 2.4 0 1 0 4.8 0a2.4 2.4 0 1 0 -4.8 0M593.5 56.4a2.4 2.4 0 1 0 4.8 0a2.4 2.4 0 1 0 -4.8 0M593.8 50.4a2.4 2.4 0 1 0 4.8 0a2.4 2.4 0 1 0 -4.8 0M594.1 57.6a2.4 2.4 0 1 0 4.8 0a2.4 2.4 0 1 0 -4.8 0M594.4 53.3a2.4 2.4 0 1 0 4.8 0a2.4 2.4 0 1 0 -4.8 0M594.7 51.4a2.4 2.4 0 1 0 4.8 0a2.4 2.4 0 1 0 -4.8 0M595.0 59.1a2.4 2.4 0 1 0 4.8 0a2.4 2.4 0 1 0 -4.8 0M595.4 59.4a2.4 2.4 0 1 0 4.8 0a2.4 2.4 0 1 0 -4.8 0M595.7 55.2a2.4 2.4 0 1 0 4.8 0a2.4 2.4 0 1 0 -4.8 0M596.0 61.3a2.4 2.4 0 1 0 4.8 0a2.4 2.4 0 1 0 -4.8 0M596.3 57.7a2.4 2.4 0 1 0 4.8 0a2.4 2.4 0 1 0 -4.8 0M596.6 60.8a2.4 2.4 0 1 0 4.8 0a2.4 2.4 0 1 0 -4.8 0M596.9 54.7a2.4 2.4 0 1 0 4.8 0a2.4 2.4 0 1 0 -4.8 0M597.2 52.3a2.4 2.4 0 1 0 4.8 0a2.4 2.4 0 1 0 -4.8 0M597.6 61.6a2.4 2.4 0 1 0 4.8 0a2.4 2.4 0 1 0 -4.8 0M597.9 57.5a2.4 2.4 0 1 0 4.8 0a2.4 2.4 0 1 0 -4.8 0M598.2 56.4a2.4 2.4 0 1 0 4.8 0a2.4 2.4 0 1 0 -4.8 0M598.5 57.1a2.4 2.4 0 1 0 4.8 0a2.4 2.4 0 1 0 -4.8 0M598.8 59.8a2.4 2.4 0 1 0 4.8 0a2.4 2.4 0 1 0 -4.8 0M599.1 55.9a2.4 2.4 0 1 0 4.8 0a2.4 2.4 0 1 0 -4.8 0M599.4 63.1a2.4 2.4 0 1 0 4.8 0a2.4 2.4 0 1 0 -4.8 0M599.8 57.9a2.4 2.4 0 1 0 4.8 0a2.4 2.4 0 1 0 -4.8 0M600.1 53.7a2.4 2.4 0 1 0 4.8 0a2.4 2.4 0 1 0 -4.8 0M600.4 58.6a2.4 2.4 0 1 0 4.8 0a2.4 2.4 0 1 0 -4.8 0M600.7 56.5a2.4 2.4 0 1 0 4.8 0a2.4 2.4 0 1 0 -4.8 0M601.0 63.1a2.4 2.4 0 1 0 4.8 0a2.4 2.4 0 1 0 -4.8 0M601.3 57.2a2.4 2.4 0 1 0 4.8 0a2.4 2.4 0 1 0 -4.8 0M601.6 51.2a2.4 2.4 0 1 0 4.8 0a2.4 2.4 0 1 0 -4.8 0M602.0 52.2a2.4 2.4 0 1 0 4.8 0a2.4 2.4 0 1 0 -4.8 0M602.3 58.2a2.4 2.4 0 1 0 4.8 0a2.4 2.4 0 1 0 -4.8 0M602.6 51.3a2.4 2.4 0 1 0 4.8 0a2.4 2.4 0 1 0 -4.8 0M602.9 57.5a2.4 2.4 0 1 0 4.8 0a2.4 2.4 0 1 0 -4.8 0M603.2 53.8a2.4 2.4 0 1 0 4.8 0a2.4 2.4 0 1 0 -4.8 0M603.5 61.2a2.4 2.4 0 1 0 4.8 0a2.4 2.4 0 1 0 -4.8 0M603.8 55.2a2.4 2.4 0 1 0 4.8 0a2.4 2.4 0 1 0 -4.8 0M604.2 58.4a2.4 2.4 0 1 0 4.8 0a2.4 2.4 0 1 0 -4.8 0M604.5 56.2a2.4 2.4 0 1 0 4.8 0a2.4 2.4 0 1 0 -4.8 0M604.8 54.0a2.4 2.4 0 1 0 4.8 0a2.4 2.4 0 1 0 -4.8 0M605.1 61.0a2.4 2.4 0 1 0 4.8 0a2.4 2.4 0 1 0 -4.8 0M605.4 53.3a2.4 2.4 0 1 0 4.8 0a2.4 2.4 0 1 0 -4.8 0M605.7 59.2a2.4 2.4 0 1 0 4.8 0a2.4 2.4 0 1 0 -4.8 0M606.0 53.7a2.4 2.4 0 1 0 4.8 0a2.4 2.4 0 1 0 -4.8 0M606.4 62.5a2.4 2.4 0 1 0 4.8 0a2.4 2.4 0 1 0 -4.8 0M606.7 56.6a2.4 2.4 0 1 0 4.8 0a2.4 2.4 0 1 0 -4.8 0M607.0 56.6a2.4 2.4 0 1 0 4.8 0a2.4 2.4 0 1 0 -4.8 0M607.3 52.9a2.4 2.4 0 1 0 4.8 0a2.4 2.4 0 1 0 -4.8 0M607.6 54.9a2.4 2.4 0 1 0 4.8 0a2.4 2.4 0 1 0 -4.8 0M607.9 57.9a2.4 2.4 0 1 0 4.8 0a2.4 2.4 0 1 0 -4.8 0M608.2 56.3a2.4 2.4 0 1 0 4.8 0a2.4 2.4 0 1 0 -4.8 0M608.6 54.9a2.4 2.4 0 1 0 4.8 0a2.4 2.4 0 1 0 -4.8 0M608.9 56.3a2.4 2.4 0 1 0 4.8 0a2.4 2.4 0 1 0 -4.8 0M609.2 56.7a2.4 2.4 0 1 0 4.8 0a2.4 2.4 0 1 0 -4.8 0M609.5 53.5a2.4 2.4 0 1 0 4.8 0a2.4 2.4 0 1 0 -4.8 0M609.8 50.3a2.4 2.4 0 1 0 4.8 0a2.4 2.4 0 1 0 -4.8 0M610.1 57.2a2.4 2.4 0 1 0 4.8 0a2.4 2.4 0 1 0 -4.8 0M610.4 63.1a2.4 2.4 0 1 0 4.8 0a2.4 2.4 0 1 0 -4.8 0M610.8 55.7a2.4 2.4 0 1 0 4.8 0a2.4 2.4 0 1 0 -4.8 0M611.1 58.0a2.4 2.4 0 1 0 4.8 0a2.4 2.4 0 1 0 -4.8 0M611.4 59.1a2.4 2.4 0 1 0 4.8 0a2.4 2.4 0 1 0 -4.8 0M611.7 53.9a2.4 2.4 0 1 0 4.8 0a2.4 2.4 0 1 0 -4.8 0M612.0 56.8a2.4 2.4 0 1 0 4.8 0a2.4 2.4 0 1 0 -4.8 0M612.3 61.6a2.4 2.4 0 1 0 4.8 0a2.4 2.4 0 1 0 -4.8 0M612.6 57.3a2.4 2.4 0 1 0 4.8 0a2.4 2.4 0 1 0 -4.8 0M613.0 52.6a2.4 2.4 0 1 0 4.8 0a2.4 2.4 0 1 0 -4.8 0M613.3 55.6a2.4 2.4 0 1 0 4.8 0a2.4 2.4 0 1 0 -4.8 0M613.6 56.4a2.4 2.4 0 1 0 4.8 0a2.4 2.4 0 1 0 -4.8 0M613.9 54.0a2.4 2.4 0 1 0 4.8 0a2.4 2.4 0 1 0 -4.8 0M614.2 59.9a2.4 2.4 0 1 0 4.8 0a2.4 2.4 0 1 0 -4.8 0M614.5 56.5a2.4 2.4 0 1 0 4.8 0a2.4 2.4 0 1 0 -4.8 0M614.8 69.5a2.4 2.4 0 1 0 4.8 0a2.4 2.4 0 1 0 -4.8 0M615.2 65.4a2.4 2.4 0 1 0 4.8 0a2.4 2.4 0 1 0 -4.8 0M615.5 62.6a2.4 2.4 0 1 0 4.8 0a2.4 2.4 0 1 0 -4.8 0M615.8 56.7a2.4 2.4 0 1 0 4.8 0a2.4 2.4 0 1 0 -4.8 0M616.1 56.4a2.4 2.4 0 1 0 4.8 0a2.4 2.4 0 1 0 -4.8 0M616.4 56.5a2.4 2.4 0 1 0 4.8 0a2.4 2.4 0 1 0 -4.8 0M616.7 52.7a2.4 2.4 0 1 0 4.8 0a2.4 2.4 0 1 0 -4.8 0M617.1 55.4a2.4 2.4 0 1 0 4.8 0a2.4 2.4 0 1 0 -4.8 0M617.4 53.2a2.4 2.4 0 1 0 4.8 0a2.4 2.4 0 1 0 -4.8 0M617.7 58.1a2.4 2.4 0 1 0 4.8 0a2.4 2.4 0 1 0 -4.8 0M618.0 54.3a2.4 2.4 0 1 0 4.8 0a2.4 2.4 0 1 0 -4.8 0M618.3 57.5a2.4 2.4 0 1 0 4.8 0a2.4 2.4 0 1 0 -4.8 0M618.6 59.4a2.4 2.4 0 1 0 4.8 0a2.4 2.4 0 1 0 -4.8 0M618.9 52.3a2.4 2.4 0 1 0 4.8 0a2.4 2.4 0 1 0 -4.8 0M619.3 64.5a2.4 2.4 0 1 0 4.8 0a2.4 2.4 0 1 0 -4.8 0M619.6 60.2a2.4 2.4 0 1 0 4.8 0a2.4 2.4 0 1 0 -4.8 0M619.9 57.5a2.4 2.4 0 1 0 4.8 0a2.4 2.4 0 1 0 -4.8 0M620.2 56.0a2.4 2.4 0 1 0 4.8 0a2.4 2.4 0 1 0 -4.8 0M620.5 61.5a2.4 2.4 0 1 0 4.8 0a2.4 2.4 0 1 0 -4.8 0M620.8 54.7a2.4 2.4 0 1 0 4.8 0a2.4 2.4 0 1 0 -4.8 0M621.1 58.7a2.4 2.4 0 1 0 4.8 0a2.4 2.4 0 1 0 -4.8 0M621.5 54.8a2.4 2.4 0 1 0 4.8 0a2.4 2.4 0 1 0 -4.8 0M621.8 58.1a2.4 2.4 0 1 0 4.8 0a2.4 2.4 0 1 0 -4.8 0M622.1 57.0a2.4 2.4 0 1 0 4.8 0a2.4 2.4 0 1 0 -4.8 0M622.4 57.5a2.4 2.4 0 1 0 4.8 0a2.4 2.4 0 1 0 -4.8 0M622.7 58.8a2.4 2.4 0 1 0 4.8 0a2.4 2.4 0 1 0 -4.8 0M623.0 59.5a2.4 2.4 0 1 0 4.8 0a2.4 2.4 0 1 0 -4.8 0M623.3 60.6a2.4 2.4 0 1 0 4.8 0a2.4 2.4 0 1 0 -4.8 0M623.7 59.7a2.4 2.4 0 1 0 4.8 0a2.4 2.4 0 1 0 -4.8 0M624.0 53.6a2.4 2.4 0 1 0 4.8 0a2.4 2.4 0 1 0 -4.8 0M624.3 53.1a2.4 2.4 0 1 0 4.8 0a2.4 2.4 0 1 0 -4.8 0M624.6 61.6a2.4 2.4 0 1 0 4.8 0a2.4 2.4 0 1 0 -4.8 0M624.9 56.1a2.4 2.4 0 1 0 4.8 0a2.4 2.4 0 1 0 -4.8 0M625.2 54.2a2.4 2.4 0 1 0 4.8 0a2.4 2.4 0 1 0 -4.8 0M625.5 54.5a2.4 2.4 0 1 0 4.8 0a2.4 2.4 0 1 0 -4.8 0M625.9 56.6a2.4 2.4 0 1 0 4.8 0a2.4 2.4 0 1 0 -4.8 0M626.2 56.2a2.4 2.4 0 1 0 4.8 0a2.4 2.4 0 1 0 -4.8 0M626.5 60.2a2.4 2.4 0 1 0 4.8 0a2.4 2.4 0 1 0 -4.8 0M626.8 56.8a2.4 2.4 0 1 0 4.8 0a2.4 2.4 0 1 0 -4.8 0M627.1 50.7a2.4 2.4 0 1 0 4.8 0a2.4 2.4 0 1 0 -4.8 0M627.4 54.8a2.4 2.4 0 1 0 4.8 0a2.4 2.4 0 1 0 -4.8 0M627.7 56.7a2.4 2.4 0 1 0 4.8 0a2.4 2.4 0 1 0 -4.8 0M628.1 56.6a2.4 2.4 0 1 0 4.8 0a2.4 2.4 0 1 0 -4.8 0M628.4 57.4a2.4 2.4 0 1 0 4.8 0a2.4 2.4 0 1 0 -4.8 0M628.7 58.8a2.4 2.4 0 1 0 4.8 0a2.4 2.4 0 1 0 -4.8 0M629.0 57.7a2.4 2.4 0 1 0 4.8 0a2.4 2.4 0 1 0 -4.8 0M629.3 56.0a2.4 2.4 0 1 0 4.8 0a2.4 2.4 0 1 0 -4.8 0M629.6 59.0a2.4 2.4 0 1 0 4.8 0a2.4 2.4 0 1 0 -4.8 0M629.9 53.1a2.4 2.4 0 1 0 4.8 0a2.4 2.4 0 1 0 -4.8 0M630.3 52.5a2.4 2.4 0 1 0 4.8 0a2.4 2.4 0 1 0 -4.8 0M630.6 58.1a2.4 2.4 0 1 0 4.8 0a2.4 2.4 0 1 0 -4.8 0M630.9 53.0a2.4 2.4 0 1 0 4.8 0a2.4 2.4 0 1 0 -4.8 0M631.2 54.3a2.4 2.4 0 1 0 4.8 0a2.4 2.4 0 1 0 -4.8 0M631.5 58.0a2.4 2.4 0 1 0 4.8 0a2.4 2.4 0 1 0 -4.8 0M631.8 53.4a2.4 2.4 0 1 0 4.8 0a2.4 2.4 0 1 0 -4.8 0M632.1 59.4a2.4 2.4 0 1 0 4.8 0a2.4 2.4 0 1 0 -4.8 0M632.5 54.0a2.4 2.4 0 1 0 4.8 0a2.4 2.4 0 1 0 -4.8 0M632.8 59.6a2.4 2.4 0 1 0 4.8 0a2.4 2.4 0 1 0 -4.8 0M633.1 61.7a2.4 2.4 0 1 0 4.8 0a2.4 2.4 0 1 0 -4.8 0M633.4 56.2a2.4 2.4 0 1 0 4.8 0a2.4 2.4 0 1 0 -4.8 0M633.7 56.4a2.4 2.4 0 1 0 4.8 0a2.4 2.4 0 1 0 -4.8 0M634.0 58.0a2.4 2.4 0 1 0 4.8 0a2.4 2.4 0 1 0 -4.8 0M634.3 53.5a2.4 2.4 0 1 0 4.8 0a2.4 2.4 0 1 0 -4.8 0M634.7 56.4a2.4 2.4 0 1 0 4.8 0a2.4 2.4 0 1 0 -4.8 0M635.0 61.0a2.4 2.4 0 1 0 4.8 0a2.4 2.4 0 1 0 -4.8 0M635.3 57.6a2.4 2.4 0 1 0 4.8 0a2.4 2.4 0 1 0 -4.8 0M635.6 58.7a2.4 2.4 0 1 0 4.8 0a2.4 2.4 0 1 0 -4.8 0M635.9 54.4a2.4 2.4 0 1 0 4.8 0a2.4 2.4 0 1 0 -4.8 0M636.2 53.8a2.4 2.4 0 1 0 4.8 0a2.4 2.4 0 1 0 -4.8 0M636.5 58.3a2.4 2.4 0 1 0 4.8 0a2.4 2.4 0 1 0 -4.8 0M636.9 54.6a2.4 2.4 0 1 0 4.8 0a2.4 2.4 0 1 0 -4.8 0M637.2 52.7a2.4 2.4 0 1 0 4.8 0a2.4 2.4 0 1 0 -4.8 0M637.5 55.4a2.4 2.4 0 1 0 4.8 0a2.4 2.4 0 1 0 -4.8 0M637.8 53.6a2.4 2.4 0 1 0 4.8 0a2.4 2.4 0 1 0 -4.8 0M638.1 58.6a2.4 2.4 0 1 0 4.8 0a2.4 2.4 0 1 0 -4.8 0M638.4 58.4a2.4 2.4 0 1 0 4.8 0a2.4 2.4 0 1 0 -4.8 0M638.7 58.0a2.4 2.4 0 1 0 4.8 0a2.4 2.4 0 1 0 -4.8 0M639.1 57.8a2.4 2.4 0 1 0 4.8 0a2.4 2.4 0 1 0 -4.8 0M639.4 61.3a2.4 2.4 0 1 0 4.8 0a2.4 2.4 0 1 0 -4.8 0M639.7 58.5a2.4 2.4 0 1 0 4.8 0a2.4 2.4 0 1 0 -4.8 0M640.0 61.3a2.4 2.4 0 1 0 4.8 0a2.4 2.4 0 1 0 -4.8 0M640.3 58.6a2.4 2.4 0 1 0 4.8 0a2.4 2.4 0 1 0 -4.8 0M640.6 62.5a2.4 2.4 0 1 0 4.8 0a2.4 2.4 0 1 0 -4.8 0M640.9 56.9a2.4 2.4 0 1 0 4.8 0a2.4 2.4 0 1 0 -4.8 0M641.3 60.2a2.4 2.4 0 1 0 4.8 0a2.4 2.4 0 1 0 -4.8 0M641.6 60.1a2.4 2.4 0 1 0 4.8 0a2.4 2.4 0 1 0 -4.8 0M641.9 53.7a2.4 2.4 0 1 0 4.8 0a2.4 2.4 0 1 0 -4.8 0M642.2 60.0a2.4 2.4 0 1 0 4.8 0a2.4 2.4 0 1 0 -4.8 0M642.5 60.4a2.4 2.4 0 1 0 4.8 0a2.4 2.4 0 1 0 -4.8 0M642.8 54.0a2.4 2.4 0 1 0 4.8 0a2.4 2.4 0 1 0 -4.8 0M643.1 54.7a2.4 2.4 0 1 0 4.8 0a2.4 2.4 0 1 0 -4.8 0M643.5 59.2a2.4 2.4 0 1 0 4.8 0a2.4 2.4 0 1 0 -4.8 0M643.8 58.4a2.4 2.4 0 1 0 4.8 0a2.4 2.4 0 1 0 -4.8 0M644.1 58.5a2.4 2.4 0 1 0 4.8 0a2.4 2.4 0 1 0 -4.8 0M644.4 54.4a2.4 2.4 0 1 0 4.8 0a2.4 2.4 0 1 0 -4.8 0M644.7 53.1a2.4 2.4 0 1 0 4.8 0a2.4 2.4 0 1 0 -4.8 0M645.0 55.2a2.4 2.4 0 1 0 4.8 0a2.4 2.4 0 1 0 -4.8 0M645.4 59.8a2.4 2.4 0 1 0 4.8 0a2.4 2.4 0 1 0 -4.8 0M645.7 56.9a2.4 2.4 0 1 0 4.8 0a2.4 2.4 0 1 0 -4.8 0M646.0 56.6a2.4 2.4 0 1 0 4.8 0a2.4 2.4 0 1 0 -4.8 0M646.3 57.4a2.4 2.4 0 1 0 4.8 0a2.4 2.4 0 1 0 -4.8 0M646.6 56.3a2.4 2.4 0 1 0 4.8 0a2.4 2.4 0 1 0 -4.8 0M646.9 57.6a2.4 2.4 0 1 0 4.8 0a2.4 2.4 0 1 0 -4.8 0M647.2 59.0a2.4 2.4 0 1 0 4.8 0a2.4 2.4 0 1 0 -4.8 0M647.6 53.0a2.4 2.4 0 1 0 4.8 0a2.4 2.4 0 1 0 -4.8 0M647.9 59.7a2.4 2.4 0 1 0 4.8 0a2.4 2.4 0 1 0 -4.8 0M648.2 59.5a2.4 2.4 0 1 0 4.8 0a2.4 2.4 0 1 0 -4.8 0M648.5 62.4a2.4 2.4 0 1 0 4.8 0a2.4 2.4 0 1 0 -4.8 0M648.8 61.0a2.4 2.4 0 1 0 4.8 0a2.4 2.4 0 1 0 -4.8 0M649.1 53.2a2.4 2.4 0 1 0 4.8 0a2.4 2.4 0 1 0 -4.8 0M649.4 56.1a2.4 2.4 0 1 0 4.8 0a2.4 2.4 0 1 0 -4.8 0M649.8 52.2a2.4 2.4 0 1 0 4.8 0a2.4 2.4 0 1 0 -4.8 0M650.1 56.1a2.4 2.4 0 1 0 4.8 0a2.4 2.4 0 1 0 -4.8 0M650.4 52.1a2.4 2.4 0 1 0 4.8 0a2.4 2.4 0 1 0 -4.8 0M650.7 59.8a2.4 2.4 0 1 0 4.8 0a2.4 2.4 0 1 0 -4.8 0M651.0 61.4a2.4 2.4 0 1 0 4.8 0a2.4 2.4 0 1 0 -4.8 0M651.3 55.0a2.4 2.4 0 1 0 4.8 0a2.4 2.4 0 1 0 -4.8 0M651.6 57.4a2.4 2.4 0 1 0 4.8 0a2.4 2.4 0 1 0 -4.8 0M652.0 57.9a2.4 2.4 0 1 0 4.8 0a2.4 2.4 0 1 0 -4.8 0M652.3 62.6a2.4 2.4 0 1 0 4.8 0a2.4 2.4 0 1 0 -4.8 0M652.6 51.6a2.4 2.4 0 1 0 4.8 0a2.4 2.4 0 1 0 -4.8 0M652.9 59.8a2.4 2.4 0 1 0 4.8 0a2.4 2.4 0 1 0 -4.8 0M653.2 58.7a2.4 2.4 0 1 0 4.8 0a2.4 2.4 0 1 0 -4.8 0M653.5 59.8a2.4 2.4 0 1 0 4.8 0a2.4 2.4 0 1 0 -4.8 0M653.8 58.4a2.4 2.4 0 1 0 4.8 0a2.4 2.4 0 1 0 -4.8 0M654.2 52.5a2.4 2.4 0 1 0 4.8 0a2.4 2.4 0 1 0 -4.8 0M654.5 56.8a2.4 2.4 0 1 0 4.8 0a2.4 2.4 0 1 0 -4.8 0M654.8 60.8a2.4 2.4 0 1 0 4.8 0a2.4 2.4 0 1 0 -4.8 0M655.1 55.9a2.4 2.4 0 1 0 4.8 0a2.4 2.4 0 1 0 -4.8 0M655.4 55.1a2.4 2.4 0 1 0 4.8 0a2.4 2.4 0 1 0 -4.8 0M655.7 58.4a2.4 2.4 0 1 0 4.8 0a2.4 2.4 0 1 0 -4.8 0M656.0 59.1a2.4 2.4 0 1 0 4.8 0a2.4 2.4 0 1 0 -4.8 0M656.4 57.5a2.4 2.4 0 1 0 4.8 0a2.4 2.4 0 1 0 -4.8 0M656.7 58.6a2.4 2.4 0 1 0 4.8 0a2.4 2.4 0 1 0 -4.8 0M657.0 56.3a2.4 2.4 0 1 0 4.8 0a2.4 2.4 0 1 0 -4.8 0M657.3 57.5a2.4 2.4 0 1 0 4.8 0a2.4 2.4 0 1 0 -4.8 0M657.6 58.1a2.4 2.4 0 1 0 4.8 0a2.4 2.4 0 1 0 -4.8 0M657.9 61.2a2.4 2.4 0 1 0 4.8 0a2.4 2.4 0 1 0 -4.8 0M658.2 56.4a2.4 2.4 0 1 0 4.8 0a2.4 2.4 0 1 0 -4.8 0M658.6 57.0a2.4 2.4 0 1 0 4.8 0a2.4 2.4 0 1 0 -4.8 0M658.9 58.7a2.4 2.4 0 1 0 4.8 0a2.4 2.4 0 1 0 -4.8 0M659.2 56.0a2.4 2.4 0 1 0 4.8 0a2.4 2.4 0 1 0 -4.8 0M659.5 52.6a2.4 2.4 0 1 0 4.8 0a2.4 2.4 0 1 0 -4.8 0M659.8 54.5a2.4 2.4 0 1 0 4.8 0a2.4 2.4 0 1 0 -4.8 0M660.1 57.6a2.4 2.4 0 1 0 4.8 0a2.4 2.4 0 1 0 -4.8 0M660.4 51.9a2.4 2.4 0 1 0 4.8 0a2.4 2.4 0 1 0 -4.8 0M660.8 55.8a2.4 2.4 0 1 0 4.8 0a2.4 2.4 0 1 0 -4.8 0M661.1 54.0a2.4 2.4 0 1 0 4.8 0a2.4 2.4 0 1 0 -4.8 0M661.4 56.5a2.4 2.4 0 1 0 4.8 0a2.4 2.4 0 1 0 -4.8 0M661.7 56.2a2.4 2.4 0 1 0 4.8 0a2.4 2.4 0 1 0 -4.8 0M662.0 57.1a2.4 2.4 0 1 0 4.8 0a2.4 2.4 0 1 0 -4.8 0M662.3 61.9a2.4 2.4 0 1 0 4.8 0a2.4 2.4 0 1 0 -4.8 0M662.6 56.7a2.4 2.4 0 1 0 4.8 0a2.4 2.4 0 1 0 -4.8 0M663.0 58.1a2.4 2.4 0 1 0 4.8 0a2.4 2.4 0 1 0 -4.8 0M663.3 52.0a2.4 2.4 0 1 0 4.8 0a2.4 2.4 0 1 0 -4.8 0M663.6 55.3a2.4 2.4 0 1 0 4.8 0a2.4 2.4 0 1 0 -4.8 0M663.9 60.5a2.4 2.4 0 1 0 4.8 0a2.4 2.4 0 1 0 -4.8 0M664.2 57.8a2.4 2.4 0 1 0 4.8 0a2.4 2.4 0 1 0 -4.8 0M664.5 59.7a2.4 2.4 0 1 0 4.8 0a2.4 2.4 0 1 0 -4.8 0M664.8 59.9a2.4 2.4 0 1 0 4.8 0a2.4 2.4 0 1 0 -4.8 0M665.2 56.1a2.4 2.4 0 1 0 4.8 0a2.4 2.4 0 1 0 -4.8 0M665.5 55.5a2.4 2.4 0 1 0 4.8 0a2.4 2.4 0 1 0 -4.8 0M665.8 54.2a2.4 2.4 0 1 0 4.8 0a2.4 2.4 0 1 0 -4.8 0M666.1 62.0a2.4 2.4 0 1 0 4.8 0a2.4 2.4 0 1 0 -4.8 0M666.4 57.8a2.4 2.4 0 1 0 4.8 0a2.4 2.4 0 1 0 -4.8 0M666.7 58.1a2.4 2.4 0 1 0 4.8 0a2.4 2.4 0 1 0 -4.8 0M667.0 53.3a2.4 2.4 0 1 0 4.8 0a2.4 2.4 0 1 0 -4.8 0M667.4 57.1a2.4 2.4 0 1 0 4.8 0a2.4 2.4 0 1 0 -4.8 0M667.7 58.9a2.4 2.4 0 1 0 4.8 0a2.4 2.4 0 1 0 -4.8 0M668.0 60.2a2.4 2.4 0 1 0 4.8 0a2.4 2.4 0 1 0 -4.8 0M668.3 58.0a2.4 2.4 0 1 0 4.8 0a2.4 2.4 0 1 0 -4.8 0M668.6 59.9a2.4 2.4 0 1 0 4.8 0a2.4 2.4 0 1 0 -4.8 0M668.9 57.4a2.4 2.4 0 1 0 4.8 0a2.4 2.4 0 1 0 -4.8 0M669.2 63.1a2.4 2.4 0 1 0 4.8 0a2.4 2.4 0 1 0 -4.8 0M669.6 64.2a2.4 2.4 0 1 0 4.8 0a2.4 2.4 0 1 0 -4.8 0M669.9 57.7a2.4 2.4 0 1 0 4.8 0a2.4 2.4 0 1 0 -4.8 0M670.2 52.9a2.4 2.4 0 1 0 4.8 0a2.4 2.4 0 1 0 -4.8 0M670.5 55.0a2.4 2.4 0 1 0 4.8 0a2.4 2.4 0 1 0 -4.8 0M670.8 58.3a2.4 2.4 0 1 0 4.8 0a2.4 2.4 0 1 0 -4.8 0M671.1 58.9a2.4 2.4 0 1 0 4.8 0a2.4 2.4 0 1 0 -4.8 0M671.4 54.5a2.4 2.4 0 1 0 4.8 0a2.4 2.4 0 1 0 -4.8 0M671.8 56.7a2.4 2.4 0 1 0 4.8 0a2.4 2.4 0 1 0 -4.8 0M672.1 55.1a2.4 2.4 0 1 0 4.8 0a2.4 2.4 0 1 0 -4.8 0M672.4 56.0a2.4 2.4 0 1 0 4.8 0a2.4 2.4 0 1 0 -4.8 0M672.7 56.7a2.4 2.4 0 1 0 4.8 0a2.4 2.4 0 1 0 -4.8 0M673.0 56.0a2.4 2.4 0 1 0 4.8 0a2.4 2.4 0 1 0 -4.8 0M673.3 57.9a2.4 2.4 0 1 0 4.8 0a2.4 2.4 0 1 0 -4.8 0M673.6 56.9a2.4 2.4 0 1 0 4.8 0a2.4 2.4 0 1 0 -4.8 0M674.0 58.1a2.4 2.4 0 1 0 4.8 0a2.4 2.4 0 1 0 -4.8 0M674.3 54.5a2.4 2.4 0 1 0 4.8 0a2.4 2.4 0 1 0 -4.8 0M674.6 57.4a2.4 2.4 0 1 0 4.8 0a2.4 2.4 0 1 0 -4.8 0M674.9 56.8a2.4 2.4 0 1 0 4.8 0a2.4 2.4 0 1 0 -4.8 0M675.2 55.9a2.4 2.4 0 1 0 4.8 0a2.4 2.4 0 1 0 -4.8 0M675.5 57.7a2.4 2.4 0 1 0 4.8 0a2.4 2.4 0 1 0 -4.8 0M675.9 56.3a2.4 2.4 0 1 0 4.8 0a2.4 2.4 0 1 0 -4.8 0M676.2 55.5a2.4 2.4 0 1 0 4.8 0a2.4 2.4 0 1 0 -4.8 0M676.5 57.7a2.4 2.4 0 1 0 4.8 0a2.4 2.4 0 1 0 -4.8 0M676.8 59.0a2.4 2.4 0 1 0 4.8 0a2.4 2.4 0 1 0 -4.8 0M677.1 62.3a2.4 2.4 0 1 0 4.8 0a2.4 2.4 0 1 0 -4.8 0M677.4 56.9a2.4 2.4 0 1 0 4.8 0a2.4 2.4 0 1 0 -4.8 0M677.7 58.2a2.4 2.4 0 1 0 4.8 0a2.4 2.4 0 1 0 -4.8 0M678.1 50.6a2.4 2.4 0 1 0 4.8 0a2.4 2.4 0 1 0 -4.8 0M678.4 58.3a2.4 2.4 0 1 0 4.8 0a2.4 2.4 0 1 0 -4.8 0M678.7 61.0a2.4 2.4 0 1 0 4.8 0a2.4 2.4 0 1 0 -4.8 0M679.0 61.0a2.4 2.4 0 1 0 4.8 0a2.4 2.4 0 1 0 -4.8 0M679.3 59.6a2.4 2.4 0 1 0 4.8 0a2.4 2.4 0 1 0 -4.8 0M679.6 61.4a2.4 2.4 0 1 0 4.8 0a2.4 2.4 0 1 0 -4.8 0M679.9 56.0a2.4 2.4 0 1 0 4.8 0a2.4 2.4 0 1 0 -4.8 0M680.3 60.3a2.4 2.4 0 1 0 4.8 0a2.4 2.4 0 1 0 -4.8 0M680.6 50.8a2.4 2.4 0 1 0 4.8 0a2.4 2.4 0 1 0 -4.8 0M680.9 59.7a2.4 2.4 0 1 0 4.8 0a2.4 2.4 0 1 0 -4.8 0M681.2 52.3a2.4 2.4 0 1 0 4.8 0a2.4 2.4 0 1 0 -4.8 0M681.5 59.4a2.4 2.4 0 1 0 4.8 0a2.4 2.4 0 1 0 -4.8 0M681.8 52.3a2.4 2.4 0 1 0 4.8 0a2.4 2.4 0 1 0 -4.8 0M682.1 60.6a2.4 2.4 0 1 0 4.8 0a2.4 2.4 0 1 0 -4.8 0M682.5 56.1a2.4 2.4 0 1 0 4.8 0a2.4 2.4 0 1 0 -4.8 0M682.8 62.2a2.4 2.4 0 1 0 4.8 0a2.4 2.4 0 1 0 -4.8 0M683.1 56.0a2.4 2.4 0 1 0 4.8 0a2.4 2.4 0 1 0 -4.8 0M683.4 57.2a2.4 2.4 0 1 0 4.8 0a2.4 2.4 0 1 0 -4.8 0M683.7 59.0a2.4 2.4 0 1 0 4.8 0a2.4 2.4 0 1 0 -4.8 0M684.0 50.5a2.4 2.4 0 1 0 4.8 0a2.4 2.4 0 1 0 -4.8 0M684.3 57.3a2.4 2.4 0 1 0 4.8 0a2.4 2.4 0 1 0 -4.8 0M684.7 52.9a2.4 2.4 0 1 0 4.8 0a2.4 2.4 0 1 0 -4.8 0M685.0 60.3a2.4 2.4 0 1 0 4.8 0a2.4 2.4 0 1 0 -4.8 0M685.3 62.2a2.4 2.4 0 1 0 4.8 0a2.4 2.4 0 1 0 -4.8 0M685.6 55.0a2.4 2.4 0 1 0 4.8 0a2.4 2.4 0 1 0 -4.8 0M685.9 53.7a2.4 2.4 0 1 0 4.8 0a2.4 2.4 0 1 0 -4.8 0M686.2 52.3a2.4 2.4 0 1 0 4.8 0a2.4 2.4 0 1 0 -4.8 0M686.5 65.2a2.4 2.4 0 1 0 4.8 0a2.4 2.4 0 1 0 -4.8 0M686.9 52.4a2.4 2.4 0 1 0 4.8 0a2.4 2.4 0 1 0 -4.8 0M687.2 59.5a2.4 2.4 0 1 0 4.8 0a2.4 2.4 0 1 0 -4.8 0M687.5 54.6a2.4 2.4 0 1 0 4.8 0a2.4 2.4 0 1 0 -4.8 0M687.8 59.3a2.4 2.4 0 1 0 4.8 0a2.4 2.4 0 1 0 -4.8 0M688.1 60.0a2.4 2.4 0 1 0 4.8 0a2.4 2.4 0 1 0 -4.8 0M688.4 56.2a2.4 2.4 0 1 0 4.8 0a2.4 2.4 0 1 0 -4.8 0M688.7 57.2a2.4 2.4 0 1 0 4.8 0a2.4 2.4 0 1 0 -4.8 0M689.1 59.4a2.4 2.4 0 1 0 4.8 0a2.4 2.4 0 1 0 -4.8 0M689.4 62.8a2.4 2.4 0 1 0 4.8 0a2.4 2.4 0 1 0 -4.8 0M689.7 57.1a2.4 2.4 0 1 0 4.8 0a2.4 2.4 0 1 0 -4.8 0M690.0 59.1a2.4 2.4 0 1 0 4.8 0a2.4 2.4 0 1 0 -4.8 0M690.3 59.4a2.4 2.4 0 1 0 4.8 0a2.4 2.4 0 1 0 -4.8 0M690.6 55.2a2.4 2.4 0 1 0 4.8 0a2.4 2.4 0 1 0 -4.8 0M690.9 58.4a2.4 2.4 0 1 0 4.8 0a2.4 2.4 0 1 0 -4.8 0M691.3 59.4a2.4 2.4 0 1 0 4.8 0a2.4 2.4 0 1 0 -4.8 0M691.6 59.5a2.4 2.4 0 1 0 4.8 0a2.4 2.4 0 1 0 -4.8 0M691.9 56.4a2.4 2.4 0 1 0 4.8 0a2.4 2.4 0 1 0 -4.8 0M692.2 58.0a2.4 2.4 0 1 0 4.8 0a2.4 2.4 0 1 0 -4.8 0M692.5 53.0a2.4 2.4 0 1 0 4.8 0a2.4 2.4 0 1 0 -4.8 0M692.8 56.7a2.4 2.4 0 1 0 4.8 0a2.4 2.4 0 1 0 -4.8 0M693.1 57.3a2.4 2.4 0 1 0 4.8 0a2.4 2.4 0 1 0 -4.8 0M693.5 57.1a2.4 2.4 0 1 0 4.8 0a2.4 2.4 0 1 0 -4.8 0M693.8 60.9a2.4 2.4 0 1 0 4.8 0a2.4 2.4 0 1 0 -4.8 0M694.1 53.1a2.4 2.4 0 1 0 4.8 0a2.4 2.4 0 1 0 -4.8 0M694.4 49.3a2.4 2.4 0 1 0 4.8 0a2.4 2.4 0 1 0 -4.8 0M694.7 56.2a2.4 2.4 0 1 0 4.8 0a2.4 2.4 0 1 0 -4.8 0M695.0 55.6a2.4 2.4 0 1 0 4.8 0a2.4 2.4 0 1 0 -4.8 0M695.3 53.9a2.4 2.4 0 1 0 4.8 0a2.4 2.4 0 1 0 -4.8 0M695.7 58.8a2.4 2.4 0 1 0 4.8 0a2.4 2.4 0 1 0 -4.8 0M696.0 56.3a2.4 2.4 0 1 0 4.8 0a2.4 2.4 0 1 0 -4.8 0M696.3 59.5a2.4 2.4 0 1 0 4.8 0a2.4 2.4 0 1 0 -4.8 0M696.6 62.0a2.4 2.4 0 1 0 4.8 0a2.4 2.4 0 1 0 -4.8 0M696.9 54.9a2.4 2.4 0 1 0 4.8 0a2.4 2.4 0 1 0 -4.8 0M697.2 52.4a2.4 2.4 0 1 0 4.8 0a2.4 2.4 0 1 0 -4.8 0M697.5 57.2a2.4 2.4 0 1 0 4.8 0a2.4 2.4 0 1 0 -4.8 0M697.9 58.2a2.4 2.4 0 1 0 4.8 0a2.4 2.4 0 1 0 -4.8 0M698.2 56.0a2.4 2.4 0 1 0 4.8 0a2.4 2.4 0 1 0 -4.8 0M698.5 55.3a2.4 2.4 0 1 0 4.8 0a2.4 2.4 0 1 0 -4.8 0M698.8 56.9a2.4 2.4 0 1 0 4.8 0a2.4 2.4 0 1 0 -4.8 0M699.1 63.8a2.4 2.4 0 1 0 4.8 0a2.4 2.4 0 1 0 -4.8 0M699.4 55.9a2.4 2.4 0 1 0 4.8 0a2.4 2.4 0 1 0 -4.8 0M699.7 56.2a2.4 2.4 0 1 0 4.8 0a2.4 2.4 0 1 0 -4.8 0M700.1 56.6a2.4 2.4 0 1 0 4.8 0a2.4 2.4 0 1 0 -4.8 0M700.4 55.5a2.4 2.4 0 1 0 4.8 0a2.4 2.4 0 1 0 -4.8 0M700.7 55.1a2.4 2.4 0 1 0 4.8 0a2.4 2.4 0 1 0 -4.8 0M701.0 54.0a2.4 2.4 0 1 0 4.8 0a2.4 2.4 0 1 0 -4.8 0M701.3 56.1a2.4 2.4 0 1 0 4.8 0a2.4 2.4 0 1 0 -4.8 0M701.6 58.5a2.4 2.4 0 1 0 4.8 0a2.4 2.4 0 1 0 -4.8 0M702.0 52.8a2.4 2.4 0 1 0 4.8 0a2.4 2.4 0 1 0 -4.8 0M702.3 55.8a2.4 2.4 0 1 0 4.8 0a2.4 2.4 0 1 0 -4.8 0M702.6 52.5a2.4 2.4 0 1 0 4.8 0a2.4 2.4 0 1 0 -4.8 0M702.9 52.0a2.4 2.4 0 1 0 4.8 0a2.4 2.4 0 1 0 -4.8 0M703.2 54.4a2.4 2.4 0 1 0 4.8 0a2.4 2.4 0 1 0 -4.8 0M703.5 59.3a2.4 2.4 0 1 0 4.8 0a2.4 2.4 0 1 0 -4.8 0M703.8 59.8a2.4 2.4 0 1 0 4.8 0a2.4 2.4 0 1 0 -4.8 0M704.2 56.9a2.4 2.4 0 1 0 4.8 0a2.4 2.4 0 1 0 -4.8 0M704.5 55.2a2.4 2.4 0 1 0 4.8 0a2.4 2.4 0 1 0 -4.8 0M704.8 56.1a2.4 2.4 0 1 0 4.8 0a2.4 2.4 0 1 0 -4.8 0M705.1 59.8a2.4 2.4 0 1 0 4.8 0a2.4 2.4 0 1 0 -4.8 0M705.4 58.0a2.4 2.4 0 1 0 4.8 0a2.4 2.4 0 1 0 -4.8 0M705.7 59.4a2.4 2.4 0 1 0 4.8 0a2.4 2.4 0 1 0 -4.8 0M706.0 55.6a2.4 2.4 0 1 0 4.8 0a2.4 2.4 0 1 0 -4.8 0M706.4 59.9a2.4 2.4 0 1 0 4.8 0a2.4 2.4 0 1 0 -4.8 0M706.7 54.7a2.4 2.4 0 1 0 4.8 0a2.4 2.4 0 1 0 -4.8 0M707.0 58.8a2.4 2.4 0 1 0 4.8 0a2.4 2.4 0 1 0 -4.8 0M707.3 58.9a2.4 2.4 0 1 0 4.8 0a2.4 2.4 0 1 0 -4.8 0M707.6 63.3a2.4 2.4 0 1 0 4.8 0a2.4 2.4 0 1 0 -4.8 0M707.9 53.6a2.4 2.4 0 1 0 4.8 0a2.4 2.4 0 1 0 -4.8 0M708.2 53.0a2.4 2.4 0 1 0 4.8 0a2.4 2.4 0 1 0 -4.8 0M708.6 57.2a2.4 2.4 0 1 0 4.8 0a2.4 2.4 0 1 0 -4.8 0M708.9 53.6a2.4 2.4 0 1 0 4.8 0a2.4 2.4 0 1 0 -4.8 0M709.2 57.0a2.4 2.4 0 1 0 4.8 0a2.4 2.4 0 1 0 -4.8 0M709.5 54.6a2.4 2.4 0 1 0 4.8 0a2.4 2.4 0 1 0 -4.8 0M709.8 54.6a2.4 2.4 0 1 0 4.8 0a2.4 2.4 0 1 0 -4.8 0M710.1 56.5a2.4 2.4 0 1 0 4.8 0a2.4 2.4 0 1 0 -4.8 0M710.4 57.1a2.4 2.4 0 1 0 4.8 0a2.4 2.4 0 1 0 -4.8 0M710.8 56.1a2.4 2.4 0 1 0 4.8 0a2.4 2.4 0 1 0 -4.8 0M711.1 52.7a2.4 2.4 0 1 0 4.8 0a2.4 2.4 0 1 0 -4.8 0M711.4 62.7a2.4 2.4 0 1 0 4.8 0a2.4 2.4 0 1 0 -4.8 0M711.7 60.4a2.4 2.4 0 1 0 4.8 0a2.4 2.4 0 1 0 -4.8 0M712.0 58.6a2.4 2.4 0 1 0 4.8 0a2.4 2.4 0 1 0 -4.8 0M712.3 52.4a2.4 2.4 0 1 0 4.8 0a2.4 2.4 0 1 0 -4.8 0M712.6 59.8a2.4 2.4 0 1 0 4.8 0a2.4 2.4 0 1 0 -4.8 0M713.0 52.2a2.4 2.4 0 1 0 4.8 0a2.4 2.4 0 1 0 -4.8 0M713.3 50.8a2.4 2.4 0 1 0 4.8 0a2.4 2.4 0 1 0 -4.8 0M713.6 57.5a2.4 2.4 0 1 0 4.8 0a2.4 2.4 0 1 0 -4.8 0M713.9 54.0a2.4 2.4 0 1 0 4.8 0a2.4 2.4 0 1 0 -4.8 0M714.2 55.4a2.4 2.4 0 1 0 4.8 0a2.4 2.4 0 1 0 -4.8 0M714.5 59.5a2.4 2.4 0 1 0 4.8 0a2.4 2.4 0 1 0 -4.8 0M714.8 59.4a2.4 2.4 0 1 0 4.8 0a2.4 2.4 0 1 0 -4.8 0M715.2 62.6a2.4 2.4 0 1 0 4.8 0a2.4 2.4 0 1 0 -4.8 0M715.5 53.9a2.4 2.4 0 1 0 4.8 0a2.4 2.4 0 1 0 -4.8 0M715.8 51.4a2.4 2.4 0 1 0 4.8 0a2.4 2.4 0 1 0 -4.8 0M613.6 70.0a2.4 2.4 0 1 0 4.8 0a2.4 2.4 0 1 0 -4.8 0M615.6 74.0a2.4 2.4 0 1 0 4.8 0a2.4 2.4 0 1 0 -4.8 0M617.6 72.0a2.4 2.4 0 1 0 4.8 0a2.4 2.4 0 1 0 -4.8 0M609.6 69.0a2.4 2.4 0 1 0 4.8 0a2.4 2.4 0 1 0 -4.8 0M619.6 68.0a2.4 2.4 0 1 0 4.8 0a2.4 2.4 0 1 0 -4.8 0M611.6 73.0a2.4 2.4 0 1 0 4.8 0a2.4 2.4 0 1 0 -4.8 0M557.6 64.0a2.4 2.4 0 1 0 4.8 0a2.4 2.4 0 1 0 -4.8 0M563.6 66.0a2.4 2.4 0 1 0 4.8 0a2.4 2.4 0 1 0 -4.8 0M569.6 65.0a2.4 2.4 0 1 0 4.8 0a2.4 2.4 0 1 0 -4.8 0" fill="none" stroke="#0000ff" stroke-width="0.95"/>
<path d="M151.5 390.0C155.7 383.9 159.9 377.8 164.1 371.7C170.6 362.2 175.4 351.4 183.3 343.0C186.1 340.1 192.2 342.2 194.8 339.1C198.6 334.4 199.0 327.8 200.5 321.9C201.6 317.5 200.6 312.6 202.4 308.5C204.6 303.5 208.9 299.6 212.0 295.1C217.2 287.5 221.7 279.4 227.3 272.1C229.4 269.4 231.8 266.6 235.0 265.4C239.8 263.6 245.2 262.9 250.3 263.5C253.9 263.9 256.3 267.9 259.9 268.3C266.3 268.9 273.0 268.6 279.0 266.4C282.4 265.2 283.3 260.1 286.7 258.7C290.3 257.3 294.5 259.6 298.2 258.7C302.4 257.7 305.5 254.0 309.7 253.0C313.4 252.1 317.5 254.3 321.1 253.0C325.6 251.3 328.2 246.2 332.6 244.4C336.2 242.9 340.5 244.8 344.1 243.4C348.4 241.8 352.1 238.7 355.6 235.7C357.4 234.2 357.7 230.6 360.0 230.0C364.4 228.9 369.2 232.4 373.6 231.3C378.7 230.0 382.7 225.9 387.2 223.2C390.8 221.0 394.0 217.9 398.0 216.4C401.4 215.1 405.4 216.1 408.9 215.0C412.8 213.8 416.4 211.8 419.8 209.6C422.8 207.7 424.6 204.2 427.9 202.8C430.4 201.7 433.4 203.2 436.1 202.8C440.2 202.3 444.1 200.4 448.3 200.1C453.3 199.7 458.3 200.7 463.3 200.7C469.6 200.7 476.3 201.9 482.3 200.0C487.6 198.3 491.9 194.3 495.9 190.5C500.1 186.5 503.3 181.6 506.7 177.0C509.6 173.0 510.8 167.4 514.9 164.7C518.0 162.7 522.5 166.2 525.8 164.7C530.2 162.8 532.2 157.1 536.6 155.2C540.8 153.4 545.7 154.3 550.2 153.9C553.5 153.6 556.7 152.9 560.0 153.2C561.6 153.3 562.7 155.4 564.3 155.2C568.5 154.8 572.3 152.5 576.4 151.5C580.4 150.5 584.8 150.8 588.5 149.1C593.0 147.1 596.6 143.4 600.6 140.6C604.7 137.8 608.4 134.4 612.8 132.1C614.6 131.1 616.9 131.6 618.8 130.9C621.8 129.8 624.6 128.2 627.3 126.5C630.7 124.4 633.6 121.6 637.0 119.5C639.7 117.9 642.6 116.7 645.5 115.5C647.9 114.5 650.3 112.4 652.8 113.0C656.3 113.9 657.8 118.9 661.3 119.5C664.7 120.1 667.6 115.6 671.0 116.0C673.3 116.2 673.7 120.1 675.8 121.0C678.8 122.3 682.3 122.9 685.5 122.5C688.2 122.2 690.3 120.0 692.8 119.0C695.1 118.1 697.7 116.1 700.0 117.0C703.3 118.2 704.7 122.1 707.3 124.5C709.2 126.3 711.7 127.5 713.4 129.5C715.0 131.4 715.8 133.8 717.0 136.0" fill="none" stroke="#ff0000" stroke-width="9.5" stroke-linejoin="round" stroke-linecap="round" />
<path d="M147.1 389.9a4.9 4.9 0 1 0 9.8 0a4.9 4.9 0 1 0 -9.8 0M147.7 388.7a4.9 4.9 0 1 0 9.8 0a4.9 4.9 0 1 0 -9.8 0M148.2 386.3a4.9 4.9 0 1 0 9.8 0a4.9 4.9 0 1 0 -9.8 0M148.8 386.8a4.9 4.9 0 1 0 9.8 0a4.9 4.9 0 1 0 -9.8 0M149.4 385.5a4.9 4.9 0 1 0 9.8 0a4.9 4.9 0 1 0 -9.8 0M149.9 384.4a4.9 4.9 0 1 0 9.8 0a4.9 4.9 0 1 0 -9.8 0M150.5 383.6a4.9 4.9 0 1 0 9.8 0a4.9 4.9 0 1 0 -9.8 0M151.1 384.0a4.9 4.9 0 1 0 9.8 0a4.9 4.9 0 1 0 -9.8 0M151.6 382.5a4.9 4.9 0 1 0 9.8 0a4.9 4.9 0 1 0 -9.8 0M152.2 383.2a4.9 4.9 0 1 0 9.8 0a4.9 4.9 0 1 0 -9.8 0M152.8 381.4a4.9 4.9 0 1 0 9.8 0a4.9 4.9 0 1 0 -9.8 0M153.3 378.9a4.9 4.9 0 1 0 9.8 0a4.9 4.9 0 1 0 -9.8 0M153.9 380.0a4.9 4.9 0 1 0 9.8 0a4.9 4.9 0 1 0 -9.8 0M154.4 379.5a4.9 4.9 0 1 0 9.8 0a4.9 4.9 0 1 0 -9.8 0M155.0 377.8a4.9 4.9 0 1 0 9.8 0a4.9 4.9 0 1 0 -9.8 0M155.6 376.1a4.9 4.9 0 1 0 9.8 0a4.9 4.9 0 1 0 -9.8 0M156.1 377.3a4.9 4.9 0 1 0 9.8 0a4.9 4.9 0 1 0 -9.8 0M156.7 374.4a4.9 4.9 0 1 0 9.8 0a4.9 4.9 0 1 0 -9.8 0M157.3 374.4a4.9 4.9 0 1 0 9.8 0a4.9 4.9 0 1 0 -9.8 0M157.8 372.4a4.9 4.9 0 1 0 9.8 0a4.9 4.9 0 1 0 -9.8 0M158.4 372.0a4.9 4.9 0 1 0 9.8 0a4.9 4.9 0 1 0 -9.8 0M159.0 370.9a4.9 4.9 0 1 0 9.8 0a4.9 4.9 0 1 0 -9.8 0M159.5 371.9a4.9 4.9 0 1 0 9.8 0a4.9 4.9 0 1 0 -9.8 0M160.1 371.2a4.9 4.9 0 1 0 9.8 0a4.9 4.9 0 1 0 -9.8 0M160.7 369.2a4.9 4.9 0 1 0 9.8 0a4.9 4.9 0 1 0 -9.8 0M161.2 367.7a4.9 4.9 0 1 0 9.8 0a4.9 4.9 0 1 0 -9.8 0M161.8 367.8a4.9 4.9 0 1 0 9.8 0a4.9 4.9 0 1 0 -9.8 0M162.4 367.2a4.9 4.9 0 1 0 9.8 0a4.9 4.9 0 1 0 -9.8 0M162.9 365.1a4.9 4.9 0 1 0 9.8 0a4.9 4.9 0 1 0 -9.8 0M163.5 364.5a4.9 4.9 0 1 0 9.8 0a4.9 4.9 0 1 0 -9.8 0M164.0 364.4a4.9 4.9 0 1 0 9.8 0a4.9 4.9 0 1 0 -9.8 0M164.6 364.1a4.9 4.9 0 1 0 9.8 0a4.9 4.9 0 1 0 -9.8 0M165.2 362.8a4.9 4.9 0 1 0 9.8 0a4.9 4.9 0 1 0 -9.8 0M165.7 362.2a4.9 4.9 0 1 0 9.8 0a4.9 4.9 0 1 0 -9.8 0M166.3 360.2a4.9 4.9 0 1 0 9.8 0a4.9 4.9 0 1 0 -9.8 0M166.9 358.5a4.9 4.9 0 1 0 9.8 0a4.9 4.9 0 1 0 -9.8 0M167.4 359.6a4.9 4.9 0 1 0 9.8 0a4.9 4.9 0 1 0 -9.8 0M168.0 357.9a4.9 4.9 0 1 0 9.8 0a4.9 4.9 0 1 0 -9.8 0M168.6 357.6a4.9 4.9 0 1 0 9.8 0a4.9 4.9 0 1 0 -9.8 0M169.1 356.6a4.9 4.9 0 1 0 9.8 0a4.9 4.9 0 1 0 -9.8 0M169.7 356.3a4.9 4.9 0 1 0 9.8 0a4.9 4.9 0 1 0 -9.8 0M170.3 354.6a4.9 4.9 0 1 0 9.8 0a4.9 4.9 0 1 0 -9.8 0M170.8 355.3a4.9 4.9 0 1 0 9.8 0a4.9 4.9 0 1 0 -9.8 0M171.4 353.5a4.9 4.9 0 1 0 9.8 0a4.9 4.9 0 1 0 -9.8 0M172.0 353.0a4.9 4.9 0 1 0 9.8 0a4.9 4.9 0 1 0 -9.8 0M172.5 352.2a4.9 4.9 0 1 0 9.8 0a4.9 4.9 0 1 0 -9.8 0M173.1 351.6a4.9 4.9 0 1 0 9.8 0a4.9 4.9 0 1 0 -9.8 0M173.7 350.4a4.9 4.9 0 1 0 9.8 0a4.9 4.9 0 1 0 -9.8 0M174.2 348.1a4.9 4.9 0 1 0 9.8 0a4.9 4.9 0 1 0 -9.8 0M174.8 348.0a4.9 4.9 0 1 0 9.8 0a4.9 4.9 0 1 0 -9.8 0M175.3 348.8a4.9 4.9 0 1 0 9.8 0a4.9 4.9 0 1 0 -9.8 0M175.9 347.0a4.9 4.9 0 1 0 9.8 0a4.9 4.9 0 1 0 -9.8 0M176.5 346.3a4.9 4.9 0 1 0 9.8 0a4.9 4.9 0 1 0 -9.8 0M177.0 345.3a4.9 4.9 0 1 0 9.8 0a4.9 4.9 0 1 0 -9.8 0M177.6 343.7a4.9 4.9 0 1 0 9.8 0a4.9 4.9 0 1 0 -9.8 0M178.2 342.9a4.9 4.9 0 1 0 9.8 0a4.9 4.9 0 1 0 -9.8 0M178.7 342.4a4.9 4.9 0 1 0 9.8 0a4.9 4.9 0 1 0 -9.8 0M179.3 343.5a4.9 4.9 0 1 0 9.8 0a4.9 4.9 0 1 0 -9.8 0M179.9 342.8a4.9 4.9 0 1 0 9.8 0a4.9 4.9 0 1 0 -9.8 0M180.4 343.5a4.9 4.9 0 1 0 9.8 0a4.9 4.9 0 1 0 -9.8 0M181.0 342.5a4.9 4.9 0 1 0 9.8 0a4.9 4.9 0 1 0 -9.8 0M181.6 343.2a4.9 4.9 0 1 0 9.8 0a4.9 4.9 0 1 0 -9.8 0M182.1 342.0a4.9 4.9 0 1 0 9.8 0a4.9 4.9 0 1 0 -9.8 0M182.7 340.7a4.9 4.9 0 1 0 9.8 0a4.9 4.9 0 1 0 -9.8 0M183.3 342.5a4.9 4.9 0 1 0 9.8 0a4.9 4.9 0 1 0 -9.8 0M183.8 341.4a4.9 4.9 0 1 0 9.8 0a4.9 4.9 0 1 0 -9.8 0M184.4 341.8a4.9 4.9 0 1 0 9.8 0a4.9 4.9 0 1 0 -9.8 0M185.0 340.9a4.9 4.9 0 1 0 9.8 0a4.9 4.9 0 1 0 -9.8 0M185.5 340.4a4.9 4.9 0 1 0 9.8 0a4.9 4.9 0 1 0 -9.8 0M186.1 340.5a4.9 4.9 0 1 0 9.8 0a4.9 4.9 0 1 0 -9.8 0M186.7 339.4a4.9 4.9 0 1 0 9.8 0a4.9 4.9 0 1 0 -9.8 0M187.2 339.2a4.9 4.9 0 1 0 9.8 0a4.9 4.9 0 1 0 -9.8 0M187.8 339.2a4.9 4.9 0 1 0 9.8 0a4.9 4.9 0 1 0 -9.8 0M188.3 339.3a4.9 4.9 0 1 0 9.8 0a4.9 4.9 0 1 0 -9.8 0M188.9 338.5a4.9 4.9 0 1 0 9.8 0a4.9 4.9 0 1 0 -9.8 0M189.5 339.2a4.9 4.9 0 1 0 9.8 0a4.9 4.9 0 1 0 -9.8 0M190.0 338.9a4.9 4.9 0 1 0 9.8 0a4.9 4.9 0 1 0 -9.8 0M190.6 338.4a4.9 4.9 0 1 0 9.8 0a4.9 4.9 0 1 0 -9.8 0M191.2 336.5a4.9 4.9 0 1 0 9.8 0a4.9 4.9 0 1 0 -9.8 0M191.7 333.5a4.9 4.9 0 1 0 9.8 0a4.9 4.9 0 1 0 -9.8 0M192.3 332.5a4.9 4.9 0 1 0 9.8 0a4.9 4.9 0 1 0 -9.8 0M192.9 330.0a4.9 4.9 0 1 0 9.8 0a4.9 4.9 0 1 0 -9.8 0M193.4 328.7a4.9 4.9 0 1 0 9.8 0a4.9 4.9 0 1 0 -9.8 0M194.0 326.7a4.9 4.9 0 1 0 9.8 0a4.9 4.9 0 1 0 -9.8 0M194.6 324.7a4.9 4.9 0 1 0 9.8 0a4.9 4.9 0 1 0 -9.8 0M195.1 323.4a4.9 4.9 0 1 0 9.8 0a4.9 4.9 0 1 0 -9.8 0M195.7 320.0a4.9 4.9 0 1 0 9.8 0a4.9 4.9 0 1 0 -9.8 0M196.3 317.7a4.9 4.9 0 1 0 9.8 0a4.9 4.9 0 1 0 -9.8 0M196.8 313.0a4.9 4.9 0 1 0 9.8 0a4.9 4.9 0 1 0 -9.8 0M197.4 308.4a4.9 4.9 0 1 0 9.8 0a4.9 4.9 0 1 0 -9.8 0M197.9 307.6a4.9 4.9 0 1 0 9.8 0a4.9 4.9 0 1 0 -9.8 0M198.5 307.6a4.9 4.9 0 1 0 9.8 0a4.9 4.9 0 1 0 -9.8 0M199.1 305.7a4.9 4.9 0 1 0 9.8 0a4.9 4.9 0 1 0 -9.8 0M199.6 305.9a4.9 4.9 0 1 0 9.8 0a4.9 4.9 0 1 0 -9.8 0M200.2 305.2a4.9 4.9 0 1 0 9.8 0a4.9 4.9 0 1 0 -9.8 0M200.8 305.3a4.9 4.9 0 1 0 9.8 0a4.9 4.9 0 1 0 -9.8 0M201.3 302.2a4.9 4.9 0 1 0 9.8 0a4.9 4.9 0 1 0 -9.8 0M201.9 302.3a4.9 4.9 0 1 0 9.8 0a4.9 4.9 0 1 0 -9.8 0M202.5 302.0a4.9 4.9 0 1 0 9.8 0a4.9 4.9 0 1 0 -9.8 0M203.0 302.1a4.9 4.9 0 1 0 9.8 0a4.9 4.9 0 1 0 -9.8 0M203.6 300.2a4.9 4.9 0 1 0 9.8 0a4.9 4.9 0 1 0 -9.8 0M204.2 299.9a4.9 4.9 0 1 0 9.8 0a4.9 4.9 0 1 0 -9.8 0M204.7 297.1a4.9 4.9 0 1 0 9.8 0a4.9 4.9 0 1 0 -9.8 0M205.3 297.1a4.9 4.9 0 1 0 9.8 0a4.9 4.9 0 1 0 -9.8 0M205.9 298.3a4.9 4.9 0 1 0 9.8 0a4.9 4.9 0 1 0 -9.8 0M206.4 295.8a4.9 4.9 0 1 0 9.8 0a4.9 4.9 0 1 0 -9.8 0M207.0 297.2a4.9 4.9 0 1 0 9.8 0a4.9 4.9 0 1 0 -9.8 0M207.6 293.8a4.9 4.9 0 1 0 9.8 0a4.9 4.9 0 1 0 -9.8 0M208.1 293.3a4.9 4.9 0 1 0 9.8 0a4.9 4.9 0 1 0 -9.8 0M208.7 291.3a4.9 4.9 0 1 0 9.8 0a4.9 4.9 0 1 0 -9.8 0M209.2 292.4a4.9 4.9 0 1 0 9.8 0a4.9 4.9 0 1 0 -9.8 0M209.8 291.3a4.9 4.9 0 1 0 9.8 0a4.9 4.9 0 1 0 -9.8 0M210.4 292.0a4.9 4.9 0 1 0 9.8 0a4.9 4.9 0 1 0 -9.8 0M210.9 289.5a4.9 4.9 0 1 0 9.8 0a4.9 4.9 0 1 0 -9.8 0M211.5 288.2a4.9 4.9 0 1 0 9.8 0a4.9 4.9 0 1 0 -9.8 0M212.1 286.4a4.9 4.9 0 1 0 9.8 0a4.9 4.9 0 1 0 -9.8 0M212.6 286.7a4.9 4.9 0 1 0 9.8 0a4.9 4.9 0 1 0 -9.8 0M213.2 286.8a4.9 4.9 0 1 0 9.8 0a4.9 4.9 0 1 0 -9.8 0M213.8 285.7a4.9 4.9 0 1 0 9.8 0a4.9 4.9 0 1 0 -9.8 0M214.3 285.3a4.9 4.9 0 1 0 9.8 0a4.9 4.9 0 1 0 -9.8 0M214.9 284.1a4.9 4.9 0 1 0 9.8 0a4.9 4.9 0 1 0 -9.8 0M215.5 282.5a4.9 4.9 0 1 0 9.8 0a4.9 4.9 0 1 0 -9.8 0M216.0 282.2a4.9 4.9 0 1 0 9.8 0a4.9 4.9 0 1 0 -9.8 0M216.6 281.0a4.9 4.9 0 1 0 9.8 0a4.9 4.9 0 1 0 -9.8 0M217.2 278.8a4.9 4.9 0 1 0 9.8 0a4.9 4.9 0 1 0 -9.8 0M217.7 280.6a4.9 4.9 0 1 0 9.8 0a4.9 4.9 0 1 0 -9.8 0M218.3 278.6a4.9 4.9 0 1 0 9.8 0a4.9 4.9 0 1 0 -9.8 0M218.9 276.5a4.9 4.9 0 1 0 9.8 0a4.9 4.9 0 1 0 -9.8 0M219.4 276.9a4.9 4.9 0 1 0 9.8 0a4.9 4.9 0 1 0 -9.8 0M220.0 276.0a4.9 4.9 0 1 0 9.8 0a4.9 4.9 0 1 0 -9.8 0M220.5 275.8a4.9 4.9 0 1 0 9.8 0a4.9 4.9 0 1 0 -9.8 0M221.1 275.3a4.9 4.9 0 1 0 9.8 0a4.9 4.9 0 1 0 -9.8 0M221.7 270.5a4.9 4.9 0 1 0 9.8 0a4.9 4.9 0 1 0 -9.8 0M222.2 272.8a4.9 4.9 0 1 0 9.8 0a4.9 4.9 0 1 0 -9.8 0M222.8 273.1a4.9 4.9 0 1 0 9.8 0a4.9 4.9 0 1 0 -9.8 0M223.4 270.4a4.9 4.9 0 1 0 9.8 0a4.9 4.9 0 1 0 -9.8 0M223.9 269.1a4.9 4.9 0 1 0 9.8 0a4.9 4.9 0 1 0 -9.8 0M224.5 270.5a4.9 4.9 0 1 0 9.8 0a4.9 4.9 0 1 0 -9.8 0M225.1 270.1a4.9 4.9 0 1 0 9.8 0a4.9 4.9 0 1 0 -9.8 0M225.6 269.6a4.9 4.9 0 1 0 9.8 0a4.9 4.9 0 1 0 -9.8 0M226.2 267.8a4.9 4.9 0 1 0 9.8 0a4.9 4.9 0 1 0 -9.8 0M226.8 267.9a4.9 4.9 0 1 0 9.8 0a4.9 4.9 0 1 0 -9.8 0M227.3 268.0a4.9 4.9 0 1 0 9.8 0a4.9 4.9 0 1 0 -9.8 0M227.9 268.0a4.9 4.9 0 1 0 9.8 0a4.9 4.9 0 1 0 -9.8 0M228.5 268.8a4.9 4.9 0 1 0 9.8 0a4.9 4.9 0 1 0 -9.8 0M229.0 266.6a4.9 4.9 0 1 0 9.8 0a4.9 4.9 0 1 0 -9.8 0M229.6 265.3a4.9 4.9 0 1 0 9.8 0a4.9 4.9 0 1 0 -9.8 0M230.2 263.3a4.9 4.9 0 1 0 9.8 0a4.9 4.9 0 1 0 -9.8 0M230.7 266.3a4.9 4.9 0 1 0 9.8 0a4.9 4.9 0 1 0 -9.8 0M231.3 265.1a4.9 4.9 0 1 0 9.8 0a4.9 4.9 0 1 0 -9.8 0M231.8 265.1a4.9 4.9 0 1 0 9.8 0a4.9 4.9 0 1 0 -9.8 0M232.4 264.2a4.9 4.9 0 1 0 9.8 0a4.9 4.9 0 1 0 -9.8 0M233.0 265.7a4.9 4.9 0 1 0 9.8 0a4.9 4.9 0 1 0 -9.8 0M233.5 263.4a4.9 4.9 0 1 0 9.8 0a4.9 4.9 0 1 0 -9.8 0M234.1 265.0a4.9 4.9 0 1 0 9.8 0a4.9 4.9 0 1 0 -9.8 0M234.7 264.9a4.9 4.9 0 1 0 9.8 0a4.9 4.9 0 1 0 -9.8 0M235.2 265.0a4.9 4.9 0 1 0 9.8 0a4.9 4.9 0 1 0 -9.8 0M235.8 265.9a4.9 4.9 0 1 0 9.8 0a4.9 4.9 0 1 0 -9.8 0M236.4 264.5a4.9 4.9 0 1 0 9.8 0a4.9 4.9 0 1 0 -9.8 0M236.9 264.6a4.9 4.9 0 1 0 9.8 0a4.9 4.9 0 1 0 -9.8 0M237.5 265.2a4.9 4.9 0 1 0 9.8 0a4.9 4.9 0 1 0 -9.8 0M238.1 263.0a4.9 4.9 0 1 0 9.8 0a4.9 4.9 0 1 0 -9.8 0M238.6 264.1a4.9 4.9 0 1 0 9.8 0a4.9 4.9 0 1 0 -9.8 0M239.2 264.3a4.9 4.9 0 1 0 9.8 0a4.9 4.9 0 1 0 -9.8 0M239.8 265.1a4.9 4.9 0 1 0 9.8 0a4.9 4.9 0 1 0 -9.8 0M240.3 262.5a4.9 4.9 0 1 0 9.8 0a4.9 4.9 0 1 0 -9.8 0M240.9 265.7a4.9 4.9 0 1 0 9.8 0a4.9 4.9 0 1 0 -9.8 0M241.5 264.8a4.9 4.9 0 1 0 9.8 0a4.9 4.9 0 1 0 -9.8 0M242.0 261.0a4.9 4.9 0 1 0 9.8 0a4.9 4.9 0 1 0 -9.8 0M242.6 260.9a4.9 4.9 0 1 0 9.8 0a4.9 4.9 0 1 0 -9.8 0M243.2 260.9a4.9 4.9 0 1 0 9.8 0a4.9 4.9 0 1 0 -9.8 0M243.7 264.0a4.9 4.9 0 1 0 9.8 0a4.9 4.9 0 1 0 -9.8 0M244.3 264.0a4.9 4.9 0 1 0 9.8 0a4.9 4.9 0 1 0 -9.8 0M244.8 265.0a4.9 4.9 0 1 0 9.8 0a4.9 4.9 0 1 0 -9.8 0M245.4 265.1a4.9 4.9 0 1 0 9.8 0a4.9 4.9 0 1 0 -9.8 0M246.0 262.7a4.9 4.9 0 1 0 9.8 0a4.9 4.9 0 1 0 -9.8 0M246.5 266.2a4.9 4.9 0 1 0 9.8 0a4.9 4.9 0 1 0 -9.8 0M247.1 266.0a4.9 4.9 0 1 0 9.8 0a4.9 4.9 0 1 0 -9.8 0M247.7 265.6a4.9 4.9 0 1 0 9.8 0a4.9 4.9 0 1 0 -9.8 0M248.2 265.9a4.9 4.9 0 1 0 9.8 0a4.9 4.9 0 1 0 -9.8 0M248.8 262.6a4.9 4.9 0 1 0 9.8 0a4.9 4.9 0 1 0 -9.8 0M249.4 266.2a4.9 4.9 0 1 0 9.8 0a4.9 4.9 0 1 0 -9.8 0M249.9 263.7a4.9 4.9 0 1 0 9.8 0a4.9 4.9 0 1 0 -9.8 0M250.5 263.7a4.9 4.9 0 1 0 9.8 0a4.9 4.9 0 1 0 -9.8 0M251.1 265.6a4.9 4.9 0 1 0 9.8 0a4.9 4.9 0 1 0 -9.8 0M251.6 266.9a4.9 4.9 0 1 0 9.8 0a4.9 4.9 0 1 0 -9.8 0M252.2 266.8a4.9 4.9 0 1 0 9.8 0a4.9 4.9 0 1 0 -9.8 0M252.8 266.5a4.9 4.9 0 1 0 9.8 0a4.9 4.9 0 1 0 -9.8 0M253.3 265.5a4.9 4.9 0 1 0 9.8 0a4.9 4.9 0 1 0 -9.8 0M253.9 268.1a4.9 4.9 0 1 0 9.8 0a4.9 4.9 0 1 0 -9.8 0M254.5 266.6a4.9 4.9 0 1 0 9.8 0a4.9 4.9 0 1 0 -9.8 0M255.0 265.5a4.9 4.9 0 1 0 9.8 0a4.9 4.9 0 1 0 -9.8 0M255.6 268.4a4.9 4.9 0 1 0 9.8 0a4.9 4.9 0 1 0 -9.8 0M256.1 271.1a4.9 4.9 0 1 0 9.8 0a4.9 4.9 0 1 0 -9.8 0M256.7 267.3a4.9 4.9 0 1 0 9.8 0a4.9 4.9 0 1 0 -9.8 0M257.3 266.0a4.9 4.9 0 1 0 9.8 0a4.9 4.9 0 1 0 -9.8 0M257.8 270.8a4.9 4.9 0 1 0 9.8 0a4.9 4.9 0 1 0 -9.8 0M258.4 271.4a4.9 4.9 0 1 0 9.8 0a4.9 4.9 0 1 0 -9.8 0M259.0 267.3a4.9 4.9 0 1 0 9.8 0a4.9 4.9 0 1 0 -9.8 0M259.5 267.4a4.9 4.9 0 1 0 9.8 0a4.9 4.9 0 1 0 -9.8 0M260.1 268.2a4.9 4.9 0 1 0 9.8 0a4.9 4.9 0 1 0 -9.8 0M260.7 273.6a4.9 4.9 0 1 0 9.8 0a4.9 4.9 0 1 0 -9.8 0M261.2 267.9a4.9 4.9 0 1 0 9.8 0a4.9 4.9 0 1 0 -9.8 0M261.8 269.6a4.9 4.9 0 1 0 9.8 0a4.9 4.9 0 1 0 -9.8 0M262.4 268.5a4.9 4.9 0 1 0 9.8 0a4.9 4.9 0 1 0 -9.8 0M262.9 263.9a4.9 4.9 0 1 0 9.8 0a4.9 4.9 0 1 0 -9.8 0M263.5 265.3a4.9 4.9 0 1 0 9.8 0a4.9 4.9 0 1 0 -9.8 0M264.1 264.9a4.9 4.9 0 1 0 9.8 0a4.9 4.9 0 1 0 -9.8 0M264.6 268.2a4.9 4.9 0 1 0 9.8 0a4.9 4.9 0 1 0 -9.8 0M265.2 267.5a4.9 4.9 0 1 0 9.8 0a4.9 4.9 0 1 0 -9.8 0M265.8 270.8a4.9 4.9 0 1 0 9.8 0a4.9 4.9 0 1 0 -9.8 0M266.3 266.6a4.9 4.9 0 1 0 9.8 0a4.9 4.9 0 1 0 -9.8 0M266.9 267.7a4.9 4.9 0 1 0 9.8 0a4.9 4.9 0 1 0 -9.8 0M267.4 267.2a4.9 4.9 0 1 0 9.8 0a4.9 4.9 0 1 0 -9.8 0M268.0 267.3a4.9 4.9 0 1 0 9.8 0a4.9 4.9 0 1 0 -9.8 0M268.6 271.6a4.9 4.9 0 1 0 9.8 0a4.9 4.9 0 1 0 -9.8 0M269.1 267.5a4.9 4.9 0 1 0 9.8 0a4.9 4.9 0 1 0 -9.8 0M269.7 269.8a4.9 4.9 0 1 0 9.8 0a4.9 4.9 0 1 0 -9.8 0M270.3 269.4a4.9 4.9 0 1 0 9.8 0a4.9 4.9 0 1 0 -9.8 0M270.8 265.5a4.9 4.9 0 1 0 9.8 0a4.9 4.9 0 1 0 -9.8 0M271.4 268.0a4.9 4.9 0 1 0 9.8 0a4.9 4.9 0 1 0 -9.8 0M272.0 265.9a4.9 4.9 0 1 0 9.8 0a4.9 4.9 0 1 0 -9.8 0M272.5 266.8a4.9 4.9 0 1 0 9.8 0a4.9 4.9 0 1 0 -9.8 0M273.1 266.8a4.9 4.9 0 1 0 9.8 0a4.9 4.9 0 1 0 -9.8 0M273.7 266.5a4.9 4.9 0 1 0 9.8 0a4.9 4.9 0 1 0 -9.8 0M274.2 265.3a4.9 4.9 0 1 0 9.8 0a4.9 4.9 0 1 0 -9.8 0M274.8 268.8a4.9 4.9 0 1 0 9.8 0a4.9 4.9 0 1 0 -9.8 0M275.4 264.6a4.9 4.9 0 1 0 9.8 0a4.9 4.9 0 1 0 -9.8 0M275.9 266.0a4.9 4.9 0 1 0 9.8 0a4.9 4.9 0 1 0 -9.8 0M276.5 267.4a4.9 4.9 0 1 0 9.8 0a4.9 4.9 0 1 0 -9.8 0M277.1 264.7a4.9 4.9 0 1 0 9.8 0a4.9 4.9 0 1 0 -9.8 0M277.6 264.9a4.9 4.9 0 1 0 9.8 0a4.9 4.9 0 1 0 -9.8 0M278.2 265.1a4.9 4.9 0 1 0 9.8 0a4.9 4.9 0 1 0 -9.8 0M278.7 263.9a4.9 4.9 0 1 0 9.8 0a4.9 4.9 0 1 0 -9.8 0M279.3 264.6a4.9 4.9 0 1 0 9.8 0a4.9 4.9 0 1 0 -9.8 0M279.9 257.8a4.9 4.9 0 1 0 9.8 0a4.9 4.9 0 1 0 -9.8 0M280.4 264.0a4.9 4.9 0 1 0 9.8 0a4.9 4.9 0 1 0 -9.8 0M281.0 259.6a4.9 4.9 0 1 0 9.8 0a4.9 4.9 0 1 0 -9.8 0M281.6 255.4a4.9 4.9 0 1 0 9.8 0a4.9 4.9 0 1 0 -9.8 0M282.1 257.4a4.9 4.9 0 1 0 9.8 0a4.9 4.9 0 1 0 -9.8 0M282.7 255.9a4.9 4.9 0 1 0 9.8 0a4.9 4.9 0 1 0 -9.8 0M283.3 258.7a4.9 4.9 0 1 0 9.8 0a4.9 4.9 0 1 0 -9.8 0M283.8 255.7a4.9 4.9 0 1 0 9.8 0a4.9 4.9 0 1 0 -9.8 0M284.4 256.7a4.9 4.9 0 1 0 9.8 0a4.9 4.9 0 1 0 -9.8 0M285.0 259.3a4.9 4.9 0 1 0 9.8 0a4.9 4.9 0 1 0 -9.8 0M285.5 259.0a4.9 4.9 0 1 0 9.8 0a4.9 4.9 0 1 0 -9.8 0M286.1 257.1a4.9 4.9 0 1 0 9.8 0a4.9 4.9 0 1 0 -9.8 0M286.7 258.2a4.9 4.9 0 1 0 9.8 0a4.9 4.9 0 1 0 -9.8 0M287.2 258.5a4.9 4.9 0 1 0 9.8 0a4.9 4.9 0 1 0 -9.8 0M287.8 258.8a4.9 4.9 0 1 0 9.8 0a4.9 4.9 0 1 0 -9.8 0M288.4 258.7a4.9 4.9 0 1 0 9.8 0a4.9 4.9 0 1 0 -9.8 0M288.9 258.3a4.9 4.9 0 1 0 9.8 0a4.9 4.9 0 1 0 -9.8 0M289.5 260.5a4.9 4.9 0 1 0 9.8 0a4.9 4.9 0 1 0 -9.8 0M290.0 255.5a4.9 4.9 0 1 0 9.8 0a4.9 4.9 0 1 0 -9.8 0M290.6 257.7a4.9 4.9 0 1 0 9.8 0a4.9 4.9 0 1 0 -9.8 0M291.2 259.0a4.9 4.9 0 1 0 9.8 0a4.9 4.9 0 1 0 -9.8 0M291.7 257.9a4.9 4.9 0 1 0 9.8 0a4.9 4.9 0 1 0 -9.8 0M292.3 257.6a4.9 4.9 0 1 0 9.8 0a4.9 4.9 0 1 0 -9.8 0M292.9 257.8a4.9 4.9 0 1 0 9.8 0a4.9 4.9 0 1 0 -9.8 0M293.4 259.1a4.9 4.9 0 1 0 9.8 0a4.9 4.9 0 1 0 -9.8 0M294.0 260.8a4.9 4.9 0 1 0 9.8 0a4.9 4.9 0 1 0 -9.8 0M294.6 257.7a4.9 4.9 0 1 0 9.8 0a4.9 4.9 0 1 0 -9.8 0M295.1 257.3a4.9 4.9 0 1 0 9.8 0a4.9 4.9 0 1 0 -9.8 0M295.7 258.2a4.9 4.9 0 1 0 9.8 0a4.9 4.9 0 1 0 -9.8 0M296.3 256.7a4.9 4.9 0 1 0 9.8 0a4.9 4.9 0 1 0 -9.8 0M296.8 253.1a4.9 4.9 0 1 0 9.8 0a4.9 4.9 0 1 0 -9.8 0M297.4 257.2a4.9 4.9 0 1 0 9.8 0a4.9 4.9 0 1 0 -9.8 0M298.0 255.6a4.9 4.9 0 1 0 9.8 0a4.9 4.9 0 1 0 -9.8 0M298.5 255.0a4.9 4.9 0 1 0 9.8 0a4.9 4.9 0 1 0 -9.8 0M299.1 257.1a4.9 4.9 0 1 0 9.8 0a4.9 4.9 0 1 0 -9.8 0M299.7 255.6a4.9 4.9 0 1 0 9.8 0a4.9 4.9 0 1 0 -9.8 0M300.2 254.1a4.9 4.9 0 1 0 9.8 0a4.9 4.9 0 1 0 -9.8 0M300.8 250.6a4.9 4.9 0 1 0 9.8 0a4.9 4.9 0 1 0 -9.8 0M301.3 251.3a4.9 4.9 0 1 0 9.8 0a4.9 4.9 0 1 0 -9.8 0M301.9 254.5a4.9 4.9 0 1 0 9.8 0a4.9 4.9 0 1 0 -9.8 0M302.5 253.9a4.9 4.9 0 1 0 9.8 0a4.9 4.9 0 1 0 -9.8 0M303.0 254.7a4.9 4.9 0 1 0 9.8 0a4.9 4.9 0 1 0 -9.8 0M303.6 254.0a4.9 4.9 0 1 0 9.8 0a4.9 4.9 0 1 0 -9.8 0M304.2 252.4a4.9 4.9 0 1 0 9.8 0a4.9 4.9 0 1 0 -9.8 0M304.7 250.5a4.9 4.9 0 1 0 9.8 0a4.9 4.9 0 1 0 -9.8 0M305.3 250.8a4.9 4.9 0 1 0 9.8 0a4.9 4.9 0 1 0 -9.8 0M305.9 252.7a4.9 4.9 0 1 0 9.8 0a4.9 4.9 0 1 0 -9.8 0M306.4 250.7a4.9 4.9 0 1 0 9.8 0a4.9 4.9 0 1 0 -9.8 0M307.0 254.5a4.9 4.9 0 1 0 9.8 0a4.9 4.9 0 1 0 -9.8 0M307.6 250.3a4.9 4.9 0 1 0 9.8 0a4.9 4.9 0 1 0 -9.8 0M308.1 249.4a4.9 4.9 0 1 0 9.8 0a4.9 4.9 0 1 0 -9.8 0M308.7 252.6a4.9 4.9 0 1 0 9.8 0a4.9 4.9 0 1 0 -9.8 0M309.3 249.5a4.9 4.9 0 1 0 9.8 0a4.9 4.9 0 1 0 -9.8 0M309.8 256.3a4.9 4.9 0 1 0 9.8 0a4.9 4.9 0 1 0 -9.8 0M310.4 251.0a4.9 4.9 0 1 0 9.8 0a4.9 4.9 0 1 0 -9.8 0M311.0 252.9a4.9 4.9 0 1 0 9.8 0a4.9 4.9 0 1 0 -9.8 0M311.5 252.5a4.9 4.9 0 1 0 9.8 0a4.9 4.9 0 1 0 -9.8 0M312.1 251.4a4.9 4.9 0 1 0 9.8 0a4.9 4.9 0 1 0 -9.8 0M312.6 249.5a4.9 4.9 0 1 0 9.8 0a4.9 4.9 0 1 0 -9.8 0M313.2 249.3a4.9 4.9 0 1 0 9.8 0a4.9 4.9 0 1 0 -9.8 0M313.8 254.7a4.9 4.9 0 1 0 9.8 0a4.9 4.9 0 1 0 -9.8 0M314.3 255.0a4.9 4.9 0 1 0 9.8 0a4.9 4.9 0 1 0 -9.8 0M314.9 257.3a4.9 4.9 0 1 0 9.8 0a4.9 4.9 0 1 0 -9.8 0M315.5 250.1a4.9 4.9 0 1 0 9.8 0a4.9 4.9 0 1 0 -9.8 0M316.0 254.1a4.9 4.9 0 1 0 9.8 0a4.9 4.9 0 1 0 -9.8 0M316.6 252.7a4.9 4.9 0 1 0 9.8 0a4.9 4.9 0 1 0 -9.8 0M317.2 254.0a4.9 4.9 0 1 0 9.8 0a4.9 4.9 0 1 0 -9.8 0M317.7 250.8a4.9 4.9 0 1 0 9.8 0a4.9 4.9 0 1 0 -9.8 0M318.3 252.9a4.9 4.9 0 1 0 9.8 0a4.9 4.9 0 1 0 -9.8 0M318.9 252.8a4.9 4.9 0 1 0 9.8 0a4.9 4.9 0 1 0 -9.8 0M319.4 251.8a4.9 4.9 0 1 0 9.8 0a4.9 4.9 0 1 0 -9.8 0M320.0 253.1a4.9 4.9 0 1 0 9.8 0a4.9 4.9 0 1 0 -9.8 0M320.6 249.4a4.9 4.9 0 1 0 9.8 0a4.9 4.9 0 1 0 -9.8 0M321.1 252.4a4.9 4.9 0 1 0 9.8 0a4.9 4.9 0 1 0 -9.8 0M321.7 247.5a4.9 4.9 0 1 0 9.8 0a4.9 4.9 0 1 0 -9.8 0M322.2 251.8a4.9 4.9 0 1 0 9.8 0a4.9 4.9 0 1 0 -9.8 0M322.8 242.6a4.9 4.9 0 1 0 9.8 0a4.9 4.9 0 1 0 -9.8 0M323.4 247.7a4.9 4.9 0 1 0 9.8 0a4.9 4.9 0 1 0 -9.8 0M323.9 245.6a4.9 4.9 0 1 0 9.8 0a4.9 4.9 0 1 0 -9.8 0M324.5 246.8a4.9 4.9 0 1 0 9.8 0a4.9 4.9 0 1 0 -9.8 0M325.1 248.4a4.9 4.9 0 1 0 9.8 0a4.9 4.9 0 1 0 -9.8 0M325.6 247.4a4.9 4.9 0 1 0 9.8 0a4.9 4.9 0 1 0 -9.8 0M326.2 245.7a4.9 4.9 0 1 0 9.8 0a4.9 4.9 0 1 0 -9.8 0M326.8 248.5a4.9 4.9 0 1 0 9.8 0a4.9 4.9 0 1 0 -9.8 0M327.3 241.7a4.9 4.9 0 1 0 9.8 0a4.9 4.9 0 1 0 -9.8 0M327.9 242.8a4.9 4.9 0 1 0 9.8 0a4.9 4.9 0 1 0 -9.8 0M328.5 247.4a4.9 4.9 0 1 0 9.8 0a4.9 4.9 0 1 0 -9.8 0M329.0 244.9a4.9 4.9 0 1 0 9.8 0a4.9 4.9 0 1 0 -9.8 0M329.6 240.1a4.9 4.9 0 1 0 9.8 0a4.9 4.9 0 1 0 -9.8 0M330.2 244.9a4.9 4.9 0 1 0 9.8 0a4.9 4.9 0 1 0 -9.8 0M330.7 241.8a4.9 4.9 0 1 0 9.8 0a4.9 4.9 0 1 0 -9.8 0M331.3 247.0a4.9 4.9 0 1 0 9.8 0a4.9 4.9 0 1 0 -9.8 0M331.9 246.3a4.9 4.9 0 1 0 9.8 0a4.9 4.9 0 1 0 -9.8 0M332.4 242.9a4.9 4.9 0 1 0 9.8 0a4.9 4.9 0 1 0 -9.8 0M333.0 246.5a4.9 4.9 0 1 0 9.8 0a4.9 4.9 0 1 0 -9.8 0M333.6 242.2a4.9 4.9 0 1 0 9.8 0a4.9 4.9 0 1 0 -9.8 0M334.1 245.7a4.9 4.9 0 1 0 9.8 0a4.9 4.9 0 1 0 -9.8 0M334.7 245.0a4.9 4.9 0 1 0 9.8 0a4.9 4.9 0 1 0 -9.8 0M335.2 243.5a4.9 4.9 0 1 0 9.8 0a4.9 4.9 0 1 0 -9.8 0M335.8 240.9a4.9 4.9 0 1 0 9.8 0a4.9 4.9 0 1 0 -9.8 0M336.4 243.1a4.9 4.9 0 1 0 9.8 0a4.9 4.9 0 1 0 -9.8 0M336.9 239.0a4.9 4.9 0 1 0 9.8 0a4.9 4.9 0 1 0 -9.8 0M337.5 242.4a4.9 4.9 0 1 0 9.8 0a4.9 4.9 0 1 0 -9.8 0M338.1 239.8a4.9 4.9 0 1 0 9.8 0a4.9 4.9 0 1 0 -9.8 0M338.6 245.9a4.9 4.9 0 1 0 9.8 0a4.9 4.9 0 1 0 -9.8 0M339.2 241.5a4.9 4.9 0 1 0 9.8 0a4.9 4.9 0 1 0 -9.8 0M339.8 238.2a4.9 4.9 0 1 0 9.8 0a4.9 4.9 0 1 0 -9.8 0M340.3 243.2a4.9 4.9 0 1 0 9.8 0a4.9 4.9 0 1 0 -9.8 0M340.9 242.6a4.9 4.9 0 1 0 9.8 0a4.9 4.9 0 1 0 -9.8 0M341.5 241.4a4.9 4.9 0 1 0 9.8 0a4.9 4.9 0 1 0 -9.8 0M342.0 243.6a4.9 4.9 0 1 0 9.8 0a4.9 4.9 0 1 0 -9.8 0M342.6 241.9a4.9 4.9 0 1 0 9.8 0a4.9 4.9 0 1 0 -9.8 0M343.2 240.8a4.9 4.9 0 1 0 9.8 0a4.9 4.9 0 1 0 -9.8 0M343.7 239.7a4.9 4.9 0 1 0 9.8 0a4.9 4.9 0 1 0 -9.8 0M344.3 237.0a4.9 4.9 0 1 0 9.8 0a4.9 4.9 0 1 0 -9.8 0M344.9 240.1a4.9 4.9 0 1 0 9.8 0a4.9 4.9 0 1 0 -9.8 0M345.4 240.2a4.9 4.9 0 1 0 9.8 0a4.9 4.9 0 1 0 -9.8 0M346.0 238.3a4.9 4.9 0 1 0 9.8 0a4.9 4.9 0 1 0 -9.8 0M346.5 237.1a4.9 4.9 0 1 0 9.8 0a4.9 4.9 0 1 0 -9.8 0M347.1 238.1a4.9 4.9 0 1 0 9.8 0a4.9 4.9 0 1 0 -9.8 0M347.7 236.1a4.9 4.9 0 1 0 9.8 0a4.9 4.9 0 1 0 -9.8 0M348.2 237.4a4.9 4.9 0 1 0 9.8 0a4.9 4.9 0 1 0 -9.8 0M348.8 237.7a4.9 4.9 0 1 0 9.8 0a4.9 4.9 0 1 0 -9.8 0M349.4 238.1a4.9 4.9 0 1 0 9.8 0a4.9 4.9 0 1 0 -9.8 0M349.9 236.5a4.9 4.9 0 1 0 9.8 0a4.9 4.9 0 1 0 -9.8 0M350.5 236.0a4.9 4.9 0 1 0 9.8 0a4.9 4.9 0 1 0 -9.8 0M351.1 236.0a4.9 4.9 0 1 0 9.8 0a4.9 4.9 0 1 0 -9.8 0M351.6 235.9a4.9 4.9 0 1 0 9.8 0a4.9 4.9 0 1 0 -9.8 0M352.2 233.4a4.9 4.9 0 1 0 9.8 0a4.9 4.9 0 1 0 -9.8 0M352.8 231.8a4.9 4.9 0 1 0 9.8 0a4.9 4.9 0 1 0 -9.8 0M353.3 231.5a4.9 4.9 0 1 0 9.8 0a4.9 4.9 0 1 0 -9.8 0M353.9 230.3a4.9 4.9 0 1 0 9.8 0a4.9 4.9 0 1 0 -9.8 0M354.5 229.9a4.9 4.9 0 1 0 9.8 0a4.9 4.9 0 1 0 -9.8 0M355.0 230.0a4.9 4.9 0 1 0 9.8 0a4.9 4.9 0 1 0 -9.8 0M355.6 230.4a4.9 4.9 0 1 0 9.8 0a4.9 4.9 0 1 0 -9.8 0M356.2 230.3a4.9 4.9 0 1 0 9.8 0a4.9 4.9 0 1 0 -9.8 0M356.7 230.2a4.9 4.9 0 1 0 9.8 0a4.9 4.9 0 1 0 -9.8 0M357.3 229.9a4.9 4.9 0 1 0 9.8 0a4.9 4.9 0 1 0 -9.8 0M357.8 230.7a4.9 4.9 0 1 0 9.8 0a4.9 4.9 0 1 0 -9.8 0M358.4 231.2a4.9 4.9 0 1 0 9.8 0a4.9 4.9 0 1 0 -9.8 0M359.0 231.1a4.9 4.9 0 1 0 9.8 0a4.9 4.9 0 1 0 -9.8 0M359.5 231.9a4.9 4.9 0 1 0 9.8 0a4.9 4.9 0 1 0 -9.8 0M360.1 230.2a4.9 4.9 0 1 0 9.8 0a4.9 4.9 0 1 0 -9.8 0M360.7 230.3a4.9 4.9 0 1 0 9.8 0a4.9 4.9 0 1 0 -9.8 0M361.2 232.3a4.9 4.9 0 1 0 9.8 0a4.9 4.9 0 1 0 -9.8 0M361.8 230.8a4.9 4.9 0 1 0 9.8 0a4.9 4.9 0 1 0 -9.8 0M362.4 231.1a4.9 4.9 0 1 0 9.8 0a4.9 4.9 0 1 0 -9.8 0M362.9 230.4a4.9 4.9 0 1 0 9.8 0a4.9 4.9 0 1 0 -9.8 0M363.5 231.8a4.9 4.9 0 1 0 9.8 0a4.9 4.9 0 1 0 -9.8 0M364.1 230.5a4.9 4.9 0 1 0 9.8 0a4.9 4.9 0 1 0 -9.8 0M364.6 229.9a4.9 4.9 0 1 0 9.8 0a4.9 4.9 0 1 0 -9.8 0M365.2 230.9a4.9 4.9 0 1 0 9.8 0a4.9 4.9 0 1 0 -9.8 0M365.8 230.6a4.9 4.9 0 1 0 9.8 0a4.9 4.9 0 1 0 -9.8 0M366.3 231.9a4.9 4.9 0 1 0 9.8 0a4.9 4.9 0 1 0 -9.8 0M366.9 230.7a4.9 4.9 0 1 0 9.8 0a4.9 4.9 0 1 0 -9.8 0M367.5 231.3a4.9 4.9 0 1 0 9.8 0a4.9 4.9 0 1 0 -9.8 0M368.0 231.0a4.9 4.9 0 1 0 9.8 0a4.9 4.9 0 1 0 -9.8 0M368.6 231.6a4.9 4.9 0 1 0 9.8 0a4.9 4.9 0 1 0 -9.8 0M369.1 230.4a4.9 4.9 0 1 0 9.8 0a4.9 4.9 0 1 0 -9.8 0M369.7 231.8a4.9 4.9 0 1 0 9.8 0a4.9 4.9 0 1 0 -9.8 0M370.3 228.9a4.9 4.9 0 1 0 9.8 0a4.9 4.9 0 1 0 -9.8 0M370.8 229.6a4.9 4.9 0 1 0 9.8 0a4.9 4.9 0 1 0 -9.8 0M371.4 229.0a4.9 4.9 0 1 0 9.8 0a4.9 4.9 0 1 0 -9.8 0M372.0 230.0a4.9 4.9 0 1 0 9.8 0a4.9 4.9 0 1 0 -9.8 0M372.5 229.1a4.9 4.9 0 1 0 9.8 0a4.9 4.9 0 1 0 -9.8 0M373.1 229.2a4.9 4.9 0 1 0 9.8 0a4.9 4.9 0 1 0 -9.8 0M373.7 228.0a4.9 4.9 0 1 0 9.8 0a4.9 4.9 0 1 0 -9.8 0M374.2 227.3a4.9 4.9 0 1 0 9.8 0a4.9 4.9 0 1 0 -9.8 0M374.8 226.6a4.9 4.9 0 1 0 9.8 0a4.9 4.9 0 1 0 -9.8 0M375.4 227.0a4.9 4.9 0 1 0 9.8 0a4.9 4.9 0 1 0 -9.8 0M375.9 226.5a4.9 4.9 0 1 0 9.8 0a4.9 4.9 0 1 0 -9.8 0M376.5 226.9a4.9 4.9 0 1 0 9.8 0a4.9 4.9 0 1 0 -9.8 0M377.1 226.7a4.9 4.9 0 1 0 9.8 0a4.9 4.9 0 1 0 -9.8 0M377.6 227.0a4.9 4.9 0 1 0 9.8 0a4.9 4.9 0 1 0 -9.8 0M378.2 225.5a4.9 4.9 0 1 0 9.8 0a4.9 4.9 0 1 0 -9.8 0M378.8 224.6a4.9 4.9 0 1 0 9.8 0a4.9 4.9 0 1 0 -9.8 0M379.3 223.9a4.9 4.9 0 1 0 9.8 0a4.9 4.9 0 1 0 -9.8 0M379.9 224.7a4.9 4.9 0 1 0 9.8 0a4.9 4.9 0 1 0 -9.8 0M380.4 224.7a4.9 4.9 0 1 0 9.8 0a4.9 4.9 0 1 0 -9.8 0M381.0 225.9a4.9 4.9 0 1 0 9.8 0a4.9 4.9 0 1 0 -9.8 0M381.6 223.8a4.9 4.9 0 1 0 9.8 0a4.9 4.9 0 1 0 -9.8 0M382.1 225.1a4.9 4.9 0 1 0 9.8 0a4.9 4.9 0 1 0 -9.8 0M382.7 224.8a4.9 4.9 0 1 0 9.8 0a4.9 4.9 0 1 0 -9.8 0M383.3 221.5a4.9 4.9 0 1 0 9.8 0a4.9 4.9 0 1 0 -9.8 0M383.8 223.4a4.9 4.9 0 1 0 9.8 0a4.9 4.9 0 1 0 -9.8 0M384.4 223.0a4.9 4.9 0 1 0 9.8 0a4.9 4.9 0 1 0 -9.8 0M385.0 222.9a4.9 4.9 0 1 0 9.8 0a4.9 4.9 0 1 0 -9.8 0M385.5 221.2a4.9 4.9 0 1 0 9.8 0a4.9 4.9 0 1 0 -9.8 0M386.1 221.8a4.9 4.9 0 1 0 9.8 0a4.9 4.9 0 1 0 -9.8 0M386.7 220.0a4.9 4.9 0 1 0 9.8 0a4.9 4.9 0 1 0 -9.8 0M387.2 220.0a4.9 4.9 0 1 0 9.8 0a4.9 4.9 0 1 0 -9.8 0M387.8 219.8a4.9 4.9 0 1 0 9.8 0a4.9 4.9 0 1 0 -9.8 0M388.4 221.2a4.9 4.9 0 1 0 9.8 0a4.9 4.9 0 1 0 -9.8 0M388.9 218.8a4.9 4.9 0 1 0 9.8 0a4.9 4.9 0 1 0 -9.8 0M389.5 219.6a4.9 4.9 0 1 0 9.8 0a4.9 4.9 0 1 0 -9.8 0M390.1 218.4a4.9 4.9 0 1 0 9.8 0a4.9 4.9 0 1 0 -9.8 0M390.6 217.3a4.9 4.9 0 1 0 9.8 0a4.9 4.9 0 1 0 -9.8 0M391.2 217.9a4.9 4.9 0 1 0 9.8 0a4.9 4.9 0 1 0 -9.8 0M391.7 217.9a4.9 4.9 0 1 0 9.8 0a4.9 4.9 0 1 0 -9.8 0M392.3 216.2a4.9 4.9 0 1 0 9.8 0a4.9 4.9 0 1 0 -9.8 0M392.9 217.2a4.9 4.9 0 1 0 9.8 0a4.9 4.9 0 1 0 -9.8 0M393.4 215.6a4.9 4.9 0 1 0 9.8 0a4.9 4.9 0 1 0 -9.8 0M394.0 215.4a4.9 4.9 0 1 0 9.8 0a4.9 4.9 0 1 0 -9.8 0M394.6 216.4a4.9 4.9 0 1 0 9.8 0a4.9 4.9 0 1 0 -9.8 0M395.1 215.9a4.9 4.9 0 1 0 9.8 0a4.9 4.9 0 1 0 -9.8 0M395.7 215.1a4.9 4.9 0 1 0 9.8 0a4.9 4.9 0 1 0 -9.8 0M396.3 214.4a4.9 4.9 0 1 0 9.8 0a4.9 4.9 0 1 0 -9.8 0M396.8 215.9a4.9 4.9 0 1 0 9.8 0a4.9 4.9 0 1 0 -9.8 0M397.4 216.1a4.9 4.9 0 1 0 9.8 0a4.9 4.9 0 1 0 -9.8 0M398.0 215.3a4.9 4.9 0 1 0 9.8 0a4.9 4.9 0 1 0 -9.8 0M398.5 215.9a4.9 4.9 0 1 0 9.8 0a4.9 4.9 0 1 0 -9.8 0M399.1 214.1a4.9 4.9 0 1 0 9.8 0a4.9 4.9 0 1 0 -9.8 0M399.7 216.0a4.9 4.9 0 1 0 9.8 0a4.9 4.9 0 1 0 -9.8 0M400.2 215.9a4.9 4.9 0 1 0 9.8 0a4.9 4.9 0 1 0 -9.8 0M400.8 215.7a4.9 4.9 0 1 0 9.8 0a4.9 4.9 0 1 0 -9.8 0M401.4 214.7a4.9 4.9 0 1 0 9.8 0a4.9 4.9 0 1 0 -9.8 0M401.9 215.3a4.9 4.9 0 1 0 9.8 0a4.9 4.9 0 1 0 -9.8 0M402.5 215.3a4.9 4.9 0 1 0 9.8 0a4.9 4.9 0 1 0 -9.8 0M403.0 216.2a4.9 4.9 0 1 0 9.8 0a4.9 4.9 0 1 0 -9.8 0M403.6 215.3a4.9 4.9 0 1 0 9.8 0a4.9 4.9 0 1 0 -9.8 0M404.2 215.2a4.9 4.9 0 1 0 9.8 0a4.9 4.9 0 1 0 -9.8 0M404.7 213.9a4.9 4.9 0 1 0 9.8 0a4.9 4.9 0 1 0 -9.8 0M405.3 215.2a4.9 4.9 0 1 0 9.8 0a4.9 4.9 0 1 0 -9.8 0M405.9 215.2a4.9 4.9 0 1 0 9.8 0a4.9 4.9 0 1 0 -9.8 0M406.4 213.3a4.9 4.9 0 1 0 9.8 0a4.9 4.9 0 1 0 -9.8 0M407.0 214.2a4.9 4.9 0 1 0 9.8 0a4.9 4.9 0 1 0 -9.8 0M407.6 213.5a4.9 4.9 0 1 0 9.8 0a4.9 4.9 0 1 0 -9.8 0M408.1 212.9a4.9 4.9 0 1 0 9.8 0a4.9 4.9 0 1 0 -9.8 0M408.7 211.4a4.9 4.9 0 1 0 9.8 0a4.9 4.9 0 1 0 -9.8 0M409.3 214.2a4.9 4.9 0 1 0 9.8 0a4.9 4.9 0 1 0 -9.8 0M409.8 210.2a4.9 4.9 0 1 0 9.8 0a4.9 4.9 0 1 0 -9.8 0M410.4 212.1a4.9 4.9 0 1 0 9.8 0a4.9 4.9 0 1 0 -9.8 0M411.0 211.2a4.9 4.9 0 1 0 9.8 0a4.9 4.9 0 1 0 -9.8 0M411.5 212.4a4.9 4.9 0 1 0 9.8 0a4.9 4.9 0 1 0 -9.8 0M412.1 210.6a4.9 4.9 0 1 0 9.8 0a4.9 4.9 0 1 0 -9.8 0M412.7 210.8a4.9 4.9 0 1 0 9.8 0a4.9 4.9 0 1 0 -9.8 0M413.2 211.0a4.9 4.9 0 1 0 9.8 0a4.9 4.9 0 1 0 -9.8 0M413.8 210.6a4.9 4.9 0 1 0 9.8 0a4.9 4.9 0 1 0 -9.8 0M414.3 209.4a4.9 4.9 0 1 0 9.8 0a4.9 4.9 0 1 0 -9.8 0M414.9 210.3a4.9 4.9 0 1 0 9.8 0a4.9 4.9 0 1 0 -9.8 0M415.5 209.5a4.9 4.9 0 1 0 9.8 0a4.9 4.9 0 1 0 -9.8 0M416.0 209.6a4.9 4.9 0 1 0 9.8 0a4.9 4.9 0 1 0 -9.8 0M416.6 207.7a4.9 4.9 0 1 0 9.8 0a4.9 4.9 0 1 0 -9.8 0M417.2 207.6a4.9 4.9 0 1 0 9.8 0a4.9 4.9 0 1 0 -9.8 0M417.7 206.8a4.9 4.9 0 1 0 9.8 0a4.9 4.9 0 1 0 -9.8 0M418.3 205.9a4.9 4.9 0 1 0 9.8 0a4.9 4.9 0 1 0 -9.8 0M418.9 206.5a4.9 4.9 0 1 0 9.8 0a4.9 4.9 0 1 0 -9.8 0M419.4 206.2a4.9 4.9 0 1 0 9.8 0a4.9 4.9 0 1 0 -9.8 0M420.0 206.7a4.9 4.9 0 1 0 9.8 0a4.9 4.9 0 1 0 -9.8 0M420.6 204.5a4.9 4.9 0 1 0 9.8 0a4.9 4.9 0 1 0 -9.8 0M421.1 204.8a4.9 4.9 0 1 0 9.8 0a4.9 4.9 0 1 0 -9.8 0M421.7 205.0a4.9 4.9 0 1 0 9.8 0a4.9 4.9 0 1 0 -9.8 0M422.3 203.3a4.9 4.9 0 1 0 9.8 0a4.9 4.9 0 1 0 -9.8 0M422.8 203.0a4.9 4.9 0 1 0 9.8 0a4.9 4.9 0 1 0 -9.8 0M423.4 202.9a4.9 4.9 0 1 0 9.8 0a4.9 4.9 0 1 0 -9.8 0M424.0 202.1a4.9 4.9 0 1 0 9.8 0a4.9 4.9 0 1 0 -9.8 0M424.5 201.8a4.9 4.9 0 1 0 9.8 0a4.9 4.9 0 1 0 -9.8 0M425.1 203.9a4.9 4.9 0 1 0 9.8 0a4.9 4.9 0 1 0 -9.8 0M425.6 203.0a4.9 4.9 0 1 0 9.8 0a4.9 4.9 0 1 0 -9.8 0M426.2 202.7a4.9 4.9 0 1 0 9.8 0a4.9 4.9 0 1 0 -9.8 0M426.8 201.6a4.9 4.9 0 1 0 9.8 0a4.9 4.9 0 1 0 -9.8 0M427.3 202.9a4.9 4.9 0 1 0 9.8 0a4.9 4.9 0 1 0 -9.8 0M427.9 204.0a4.9 4.9 0 1 0 9.8 0a4.9 4.9 0 1 0 -9.8 0M428.5 201.7a4.9 4.9 0 1 0 9.8 0a4.9 4.9 0 1 0 -9.8 0M429.0 201.9a4.9 4.9 0 1 0 9.8 0a4.9 4.9 0 1 0 -9.8 0M429.6 203.9a4.9 4.9 0 1 0 9.8 0a4.9 4.9 0 1 0 -9.8 0M430.2 204.2a4.9 4.9 0 1 0 9.8 0a4.9 4.9 0 1 0 -9.8 0M430.7 204.3a4.9 4.9 0 1 0 9.8 0a4.9 4.9 0 1 0 -9.8 0M431.3 202.2a4.9 4.9 0 1 0 9.8 0a4.9 4.9 0 1 0 -9.8 0M431.9 203.3a4.9 4.9 0 1 0 9.8 0a4.9 4.9 0 1 0 -9.8 0M432.4 201.8a4.9 4.9 0 1 0 9.8 0a4.9 4.9 0 1 0 -9.8 0M433.0 202.9a4.9 4.9 0 1 0 9.8 0a4.9 4.9 0 1 0 -9.8 0M433.6 201.9a4.9 4.9 0 1 0 9.8 0a4.9 4.9 0 1 0 -9.8 0M434.1 202.3a4.9 4.9 0 1 0 9.8 0a4.9 4.9 0 1 0 -9.8 0M434.7 203.4a4.9 4.9 0 1 0 9.8 0a4.9 4.9 0 1 0 -9.8 0M435.2 202.2a4.9 4.9 0 1 0 9.8 0a4.9 4.9 0 1 0 -9.8 0M435.8 201.5a4.9 4.9 0 1 0 9.8 0a4.9 4.9 0 1 0 -9.8 0M436.4 201.7a4.9 4.9 0 1 0 9.8 0a4.9 4.9 0 1 0 -9.8 0M436.9 201.8a4.9 4.9 0 1 0 9.8 0a4.9 4.9 0 1 0 -9.8 0M437.5 200.9a4.9 4.9 0 1 0 9.8 0a4.9 4.9 0 1 0 -9.8 0M438.1 201.5a4.9 4.9 0 1 0 9.8 0a4.9 4.9 0 1 0 -9.8 0M438.6 201.8a4.9 4.9 0 1 0 9.8 0a4.9 4.9 0 1 0 -9.8 0M439.2 202.6a4.9 4.9 0 1 0 9.8 0a4.9 4.9 0 1 0 -9.8 0M439.8 198.9a4.9 4.9 0 1 0 9.8 0a4.9 4.9 0 1 0 -9.8 0M440.3 199.6a4.9 4.9 0 1 0 9.8 0a4.9 4.9 0 1 0 -9.8 0M440.9 199.4a4.9 4.9 0 1 0 9.8 0a4.9 4.9 0 1 0 -9.8 0M441.5 201.4a4.9 4.9 0 1 0 9.8 0a4.9 4.9 0 1 0 -9.8 0M442.0 202.8a4.9 4.9 0 1 0 9.8 0a4.9 4.9 0 1 0 -9.8 0M442.6 200.5a4.9 4.9 0 1 0 9.8 0a4.9 4.9 0 1 0 -9.8 0M443.2 200.3a4.9 4.9 0 1 0 9.8 0a4.9 4.9 0 1 0 -9.8 0M443.7 201.2a4.9 4.9 0 1 0 9.8 0a4.9 4.9 0 1 0 -9.8 0M444.3 197.7a4.9 4.9 0 1 0 9.8 0a4.9 4.9 0 1 0 -9.8 0M444.9 200.0a4.9 4.9 0 1 0 9.8 0a4.9 4.9 0 1 0 -9.8 0M445.4 197.1a4.9 4.9 0 1 0 9.8 0a4.9 4.9 0 1 0 -9.8 0M446.0 200.4a4.9 4.9 0 1 0 9.8 0a4.9 4.9 0 1 0 -9.8 0M446.6 199.7a4.9 4.9 0 1 0 9.8 0a4.9 4.9 0 1 0 -9.8 0M447.1 199.8a4.9 4.9 0 1 0 9.8 0a4.9 4.9 0 1 0 -9.8 0M447.7 200.6a4.9 4.9 0 1 0 9.8 0a4.9 4.9 0 1 0 -9.8 0M448.2 199.7a4.9 4.9 0 1 0 9.8 0a4.9 4.9 0 1 0 -9.8 0M448.8 201.4a4.9 4.9 0 1 0 9.8 0a4.9 4.9 0 1 0 -9.8 0M449.4 200.3a4.9 4.9 0 1 0 9.8 0a4.9 4.9 0 1 0 -9.8 0M449.9 200.7a4.9 4.9 0 1 0 9.8 0a4.9 4.9 0 1 0 -9.8 0M450.5 202.9a4.9 4.9 0 1 0 9.8 0a4.9 4.9 0 1 0 -9.8 0M451.1 200.0a4.9 4.9 0 1 0 9.8 0a4.9 4.9 0 1 0 -9.8 0M451.6 201.3a4.9 4.9 0 1 0 9.8 0a4.9 4.9 0 1 0 -9.8 0M452.2 199.6a4.9 4.9 0 1 0 9.8 0a4.9 4.9 0 1 0 -9.8 0M452.8 201.7a4.9 4.9 0 1 0 9.8 0a4.9 4.9 0 1 0 -9.8 0M453.3 201.5a4.9 4.9 0 1 0 9.8 0a4.9 4.9 0 1 0 -9.8 0M453.9 200.7a4.9 4.9 0 1 0 9.8 0a4.9 4.9 0 1 0 -9.8 0M454.5 201.5a4.9 4.9 0 1 0 9.8 0a4.9 4.9 0 1 0 -9.8 0M455.0 202.2a4.9 4.9 0 1 0 9.8 0a4.9 4.9 0 1 0 -9.8 0M455.6 202.0a4.9 4.9 0 1 0 9.8 0a4.9 4.9 0 1 0 -9.8 0M456.2 200.6a4.9 4.9 0 1 0 9.8 0a4.9 4.9 0 1 0 -9.8 0M456.7 200.6a4.9 4.9 0 1 0 9.8 0a4.9 4.9 0 1 0 -9.8 0M457.3 201.8a4.9 4.9 0 1 0 9.8 0a4.9 4.9 0 1 0 -9.8 0M457.9 199.2a4.9 4.9 0 1 0 9.8 0a4.9 4.9 0 1 0 -9.8 0M458.4 200.1a4.9 4.9 0 1 0 9.8 0a4.9 4.9 0 1 0 -9.8 0M459.0 201.2a4.9 4.9 0 1 0 9.8 0a4.9 4.9 0 1 0 -9.8 0M459.5 201.2a4.9 4.9 0 1 0 9.8 0a4.9 4.9 0 1 0 -9.8 0M460.1 202.5a4.9 4.9 0 1 0 9.8 0a4.9 4.9 0 1 0 -9.8 0M460.7 202.4a4.9 4.9 0 1 0 9.8 0a4.9 4.9 0 1 0 -9.8 0M461.2 200.9a4.9 4.9 0 1 0 9.8 0a4.9 4.9 0 1 0 -9.8 0M461.8 201.0a4.9 4.9 0 1 0 9.8 0a4.9 4.9 0 1 0 -9.8 0M462.4 199.2a4.9 4.9 0 1 0 9.8 0a4.9 4.9 0 1 0 -9.8 0M462.9 200.3a4.9 4.9 0 1 0 9.8 0a4.9 4.9 0 1 0 -9.8 0M463.5 200.8a4.9 4.9 0 1 0 9.8 0a4.9 4.9 0 1 0 -9.8 0M464.1 200.3a4.9 4.9 0 1 0 9.8 0a4.9 4.9 0 1 0 -9.8 0M464.6 200.5a4.9 4.9 0 1 0 9.8 0a4.9 4.9 0 1 0 -9.8 0M465.2 201.1a4.9 4.9 0 1 0 9.8 0a4.9 4.9 0 1 0 -9.8 0M465.8 199.5a4.9 4.9 0 1 0 9.8 0a4.9 4.9 0 1 0 -9.8 0M466.3 199.8a4.9 4.9 0 1 0 9.8 0a4.9 4.9 0 1 0 -9.8 0M466.9 198.6a4.9 4.9 0 1 0 9.8 0a4.9 4.9 0 1 0 -9.8 0M467.5 201.5a4.9 4.9 0 1 0 9.8 0a4.9 4.9 0 1 0 -9.8 0M468.0 199.3a4.9 4.9 0 1 0 9.8 0a4.9 4.9 0 1 0 -9.8 0M468.6 198.6a4.9 4.9 0 1 0 9.8 0a4.9 4.9 0 1 0 -9.8 0M469.2 201.1a4.9 4.9 0 1 0 9.8 0a4.9 4.9 0 1 0 -9.8 0M469.7 200.1a4.9 4.9 0 1 0 9.8 0a4.9 4.9 0 1 0 -9.8 0M470.3 201.2a4.9 4.9 0 1 0 9.8 0a4.9 4.9 0 1 0 -9.8 0M470.8 199.9a4.9 4.9 0 1 0 9.8 0a4.9 4.9 0 1 0 -9.8 0M471.4 202.3a4.9 4.9 0 1 0 9.8 0a4.9 4.9 0 1 0 -9.8 0M472.0 200.9a4.9 4.9 0 1 0 9.8 0a4.9 4.9 0 1 0 -9.8 0M472.5 200.3a4.9 4.9 0 1 0 9.8 0a4.9 4.9 0 1 0 -9.8 0M473.1 200.3a4.9 4.9 0 1 0 9.8 0a4.9 4.9 0 1 0 -9.8 0M473.7 199.9a4.9 4.9 0 1 0 9.8 0a4.9 4.9 0 1 0 -9.8 0M474.2 200.9a4.9 4.9 0 1 0 9.8 0a4.9 4.9 0 1 0 -9.8 0M474.8 202.1a4.9 4.9 0 1 0 9.8 0a4.9 4.9 0 1 0 -9.8 0M475.4 199.7a4.9 4.9 0 1 0 9.8 0a4.9 4.9 0 1 0 -9.8 0M475.9 199.0a4.9 4.9 0 1 0 9.8 0a4.9 4.9 0 1 0 -9.8 0M476.5 200.6a4.9 4.9 0 1 0 9.8 0a4.9 4.9 0 1 0 -9.8 0M477.1 201.1a4.9 4.9 0 1 0 9.8 0a4.9 4.9 0 1 0 -9.8 0M477.6 198.4a4.9 4.9 0 1 0 9.8 0a4.9 4.9 0 1 0 -9.8 0M478.2 198.8a4.9 4.9 0 1 0 9.8 0a4.9 4.9 0 1 0 -9.8 0M478.8 198.1a4.9 4.9 0 1 0 9.8 0a4.9 4.9 0 1 0 -9.8 0M479.3 199.2a4.9 4.9 0 1 0 9.8 0a4.9 4.9 0 1 0 -9.8 0M479.9 198.8a4.9 4.9 0 1 0 9.8 0a4.9 4.9 0 1 0 -9.8 0M480.5 197.1a4.9 4.9 0 1 0 9.8 0a4.9 4.9 0 1 0 -9.8 0M481.0 196.4a4.9 4.9 0 1 0 9.8 0a4.9 4.9 0 1 0 -9.8 0M481.6 197.8a4.9 4.9 0 1 0 9.8 0a4.9 4.9 0 1 0 -9.8 0M482.1 194.7a4.9 4.9 0 1 0 9.8 0a4.9 4.9 0 1 0 -9.8 0M482.7 196.9a4.9 4.9 0 1 0 9.8 0a4.9 4.9 0 1 0 -9.8 0M483.3 195.7a4.9 4.9 0 1 0 9.8 0a4.9 4.9 0 1 0 -9.8 0M483.8 197.4a4.9 4.9 0 1 0 9.8 0a4.9 4.9 0 1 0 -9.8 0M484.4 196.1a4.9 4.9 0 1 0 9.8 0a4.9 4.9 0 1 0 -9.8 0M485.0 194.1a4.9 4.9 0 1 0 9.8 0a4.9 4.9 0 1 0 -9.8 0M485.5 194.0a4.9 4.9 0 1 0 9.8 0a4.9 4.9 0 1 0 -9.8 0M486.1 193.6a4.9 4.9 0 1 0 9.8 0a4.9 4.9 0 1 0 -9.8 0M486.7 192.8a4.9 4.9 0 1 0 9.8 0a4.9 4.9 0 1 0 -9.8 0M487.2 193.2a4.9 4.9 0 1 0 9.8 0a4.9 4.9 0 1 0 -9.8 0M487.8 193.7a4.9 4.9 0 1 0 9.8 0a4.9 4.9 0 1 0 -9.8 0M488.4 190.9a4.9 4.9 0 1 0 9.8 0a4.9 4.9 0 1 0 -9.8 0M488.9 191.7a4.9 4.9 0 1 0 9.8 0a4.9 4.9 0 1 0 -9.8 0M489.5 193.0a4.9 4.9 0 1 0 9.8 0a4.9 4.9 0 1 0 -9.8 0M490.1 191.9a4.9 4.9 0 1 0 9.8 0a4.9 4.9 0 1 0 -9.8 0M490.6 190.0a4.9 4.9 0 1 0 9.8 0a4.9 4.9 0 1 0 -9.8 0M491.2 189.5a4.9 4.9 0 1 0 9.8 0a4.9 4.9 0 1 0 -9.8 0M491.8 188.7a4.9 4.9 0 1 0 9.8 0a4.9 4.9 0 1 0 -9.8 0M492.3 187.3a4.9 4.9 0 1 0 9.8 0a4.9 4.9 0 1 0 -9.8 0M492.9 189.3a4.9 4.9 0 1 0 9.8 0a4.9 4.9 0 1 0 -9.8 0M493.4 187.5a4.9 4.9 0 1 0 9.8 0a4.9 4.9 0 1 0 -9.8 0M494.0 186.1a4.9 4.9 0 1 0 9.8 0a4.9 4.9 0 1 0 -9.8 0M494.6 184.6a4.9 4.9 0 1 0 9.8 0a4.9 4.9 0 1 0 -9.8 0M495.1 184.8a4.9 4.9 0 1 0 9.8 0a4.9 4.9 0 1 0 -9.8 0M495.7 184.0a4.9 4.9 0 1 0 9.8 0a4.9 4.9 0 1 0 -9.8 0M496.3 186.1a4.9 4.9 0 1 0 9.8 0a4.9 4.9 0 1 0 -9.8 0M496.8 182.6a4.9 4.9 0 1 0 9.8 0a4.9 4.9 0 1 0 -9.8 0M497.4 182.6a4.9 4.9 0 1 0 9.8 0a4.9 4.9 0 1 0 -9.8 0M498.0 183.2a4.9 4.9 0 1 0 9.8 0a4.9 4.9 0 1 0 -9.8 0M498.5 181.9a4.9 4.9 0 1 0 9.8 0a4.9 4.9 0 1 0 -9.8 0M499.1 180.1a4.9 4.9 0 1 0 9.8 0a4.9 4.9 0 1 0 -9.8 0M499.7 176.9a4.9 4.9 0 1 0 9.8 0a4.9 4.9 0 1 0 -9.8 0M500.2 180.8a4.9 4.9 0 1 0 9.8 0a4.9 4.9 0 1 0 -9.8 0M500.8 179.0a4.9 4.9 0 1 0 9.8 0a4.9 4.9 0 1 0 -9.8 0M501.4 177.0a4.9 4.9 0 1 0 9.8 0a4.9 4.9 0 1 0 -9.8 0M501.9 176.7a4.9 4.9 0 1 0 9.8 0a4.9 4.9 0 1 0 -9.8 0M502.5 174.8a4.9 4.9 0 1 0 9.8 0a4.9 4.9 0 1 0 -9.8 0M503.1 174.0a4.9 4.9 0 1 0 9.8 0a4.9 4.9 0 1 0 -9.8 0M503.6 172.4a4.9 4.9 0 1 0 9.8 0a4.9 4.9 0 1 0 -9.8 0M504.2 174.1a4.9 4.9 0 1 0 9.8 0a4.9 4.9 0 1 0 -9.8 0M504.7 173.2a4.9 4.9 0 1 0 9.8 0a4.9 4.9 0 1 0 -9.8 0M505.3 172.0a4.9 4.9 0 1 0 9.8 0a4.9 4.9 0 1 0 -9.8 0M505.9 171.9a4.9 4.9 0 1 0 9.8 0a4.9 4.9 0 1 0 -9.8 0M506.4 170.7a4.9 4.9 0 1 0 9.8 0a4.9 4.9 0 1 0 -9.8 0M507.0 169.3a4.9 4.9 0 1 0 9.8 0a4.9 4.9 0 1 0 -9.8 0M507.6 167.2a4.9 4.9 0 1 0 9.8 0a4.9 4.9 0 1 0 -9.8 0M508.1 168.3a4.9 4.9 0 1 0 9.8 0a4.9 4.9 0 1 0 -9.8 0M508.7 168.2a4.9 4.9 0 1 0 9.8 0a4.9 4.9 0 1 0 -9.8 0M509.3 166.6a4.9 4.9 0 1 0 9.8 0a4.9 4.9 0 1 0 -9.8 0M509.8 166.5a4.9 4.9 0 1 0 9.8 0a4.9 4.9 0 1 0 -9.8 0M510.4 164.1a4.9 4.9 0 1 0 9.8 0a4.9 4.9 0 1 0 -9.8 0M511.0 163.4a4.9 4.9 0 1 0 9.8 0a4.9 4.9 0 1 0 -9.8 0M511.5 166.3a4.9 4.9 0 1 0 9.8 0a4.9 4.9 0 1 0 -9.8 0M512.1 164.0a4.9 4.9 0 1 0 9.8 0a4.9 4.9 0 1 0 -9.8 0M512.7 165.0a4.9 4.9 0 1 0 9.8 0a4.9 4.9 0 1 0 -9.8 0M513.2 164.5a4.9 4.9 0 1 0 9.8 0a4.9 4.9 0 1 0 -9.8 0M513.8 164.7a4.9 4.9 0 1 0 9.8 0a4.9 4.9 0 1 0 -9.8 0M514.4 164.4a4.9 4.9 0 1 0 9.8 0a4.9 4.9 0 1 0 -9.8 0M514.9 164.0a4.9 4.9 0 1 0 9.8 0a4.9 4.9 0 1 0 -9.8 0M515.5 162.4a4.9 4.9 0 1 0 9.8 0a4.9 4.9 0 1 0 -9.8 0M516.0 167.1a4.9 4.9 0 1 0 9.8 0a4.9 4.9 0 1 0 -9.8 0M516.6 165.0a4.9 4.9 0 1 0 9.8 0a4.9 4.9 0 1 0 -9.8 0M517.2 162.2a4.9 4.9 0 1 0 9.8 0a4.9 4.9 0 1 0 -9.8 0M517.7 163.5a4.9 4.9 0 1 0 9.8 0a4.9 4.9 0 1 0 -9.8 0M518.3 163.3a4.9 4.9 0 1 0 9.8 0a4.9 4.9 0 1 0 -9.8 0M518.9 163.8a4.9 4.9 0 1 0 9.8 0a4.9 4.9 0 1 0 -9.8 0M519.4 161.4a4.9 4.9 0 1 0 9.8 0a4.9 4.9 0 1 0 -9.8 0M520.0 165.4a4.9 4.9 0 1 0 9.8 0a4.9 4.9 0 1 0 -9.8 0M520.6 166.8a4.9 4.9 0 1 0 9.8 0a4.9 4.9 0 1 0 -9.8 0M521.1 164.2a4.9 4.9 0 1 0 9.8 0a4.9 4.9 0 1 0 -9.8 0M521.7 164.9a4.9 4.9 0 1 0 9.8 0a4.9 4.9 0 1 0 -9.8 0M522.3 164.3a4.9 4.9 0 1 0 9.8 0a4.9 4.9 0 1 0 -9.8 0M522.8 161.4a4.9 4.9 0 1 0 9.8 0a4.9 4.9 0 1 0 -9.8 0M523.4 164.1a4.9 4.9 0 1 0 9.8 0a4.9 4.9 0 1 0 -9.8 0M524.0 159.9a4.9 4.9 0 1 0 9.8 0a4.9 4.9 0 1 0 -9.8 0M524.5 160.8a4.9 4.9 0 1 0 9.8 0a4.9 4.9 0 1 0 -9.8 0M525.1 160.6a4.9 4.9 0 1 0 9.8 0a4.9 4.9 0 1 0 -9.8 0M525.6 162.1a4.9 4.9 0 1 0 9.8 0a4.9 4.9 0 1 0 -9.8 0M526.2 160.2a4.9 4.9 0 1 0 9.8 0a4.9 4.9 0 1 0 -9.8 0M526.8 159.4a4.9 4.9 0 1 0 9.8 0a4.9 4.9 0 1 0 -9.8 0M527.3 158.0a4.9 4.9 0 1 0 9.8 0a4.9 4.9 0 1 0 -9.8 0M527.9 158.6a4.9 4.9 0 1 0 9.8 0a4.9 4.9 0 1 0 -9.8 0M528.5 158.1a4.9 4.9 0 1 0 9.8 0a4.9 4.9 0 1 0 -9.8 0M529.0 158.5a4.9 4.9 0 1 0 9.8 0a4.9 4.9 0 1 0 -9.8 0M529.6 158.8a4.9 4.9 0 1 0 9.8 0a4.9 4.9 0 1 0 -9.8 0M530.2 157.5a4.9 4.9 0 1 0 9.8 0a4.9 4.9 0 1 0 -9.8 0M530.7 156.1a4.9 4.9 0 1 0 9.8 0a4.9 4.9 0 1 0 -9.8 0M531.3 155.4a4.9 4.9 0 1 0 9.8 0a4.9 4.9 0 1 0 -9.8 0M531.9 157.2a4.9 4.9 0 1 0 9.8 0a4.9 4.9 0 1 0 -9.8 0M532.4 155.4a4.9 4.9 0 1 0 9.8 0a4.9 4.9 0 1 0 -9.8 0M533.0 155.1a4.9 4.9 0 1 0 9.8 0a4.9 4.9 0 1 0 -9.8 0M533.6 157.3a4.9 4.9 0 1 0 9.8 0a4.9 4.9 0 1 0 -9.8 0M534.1 157.0a4.9 4.9 0 1 0 9.8 0a4.9 4.9 0 1 0 -9.8 0M534.7 155.6a4.9 4.9 0 1 0 9.8 0a4.9 4.9 0 1 0 -9.8 0M535.3 154.7a4.9 4.9 0 1 0 9.8 0a4.9 4.9 0 1 0 -9.8 0M535.8 154.0a4.9 4.9 0 1 0 9.8 0a4.9 4.9 0 1 0 -9.8 0M536.4 156.1a4.9 4.9 0 1 0 9.8 0a4.9 4.9 0 1 0 -9.8 0M537.0 154.1a4.9 4.9 0 1 0 9.8 0a4.9 4.9 0 1 0 -9.8 0M537.5 155.9a4.9 4.9 0 1 0 9.8 0a4.9 4.9 0 1 0 -9.8 0M538.1 153.6a4.9 4.9 0 1 0 9.8 0a4.9 4.9 0 1 0 -9.8 0M538.6 154.7a4.9 4.9 0 1 0 9.8 0a4.9 4.9 0 1 0 -9.8 0M539.2 155.0a4.9 4.9 0 1 0 9.8 0a4.9 4.9 0 1 0 -9.8 0M539.8 154.6a4.9 4.9 0 1 0 9.8 0a4.9 4.9 0 1 0 -9.8 0M540.3 154.7a4.9 4.9 0 1 0 9.8 0a4.9 4.9 0 1 0 -9.8 0M540.9 154.8a4.9 4.9 0 1 0 9.8 0a4.9 4.9 0 1 0 -9.8 0M541.5 152.8a4.9 4.9 0 1 0 9.8 0a4.9 4.9 0 1 0 -9.8 0M542.0 152.8a4.9 4.9 0 1 0 9.8 0a4.9 4.9 0 1 0 -9.8 0M542.6 154.0a4.9 4.9 0 1 0 9.8 0a4.9 4.9 0 1 0 -9.8 0M543.2 156.4a4.9 4.9 0 1 0 9.8 0a4.9 4.9 0 1 0 -9.8 0M543.7 153.9a4.9 4.9 0 1 0 9.8 0a4.9 4.9 0 1 0 -9.8 0M544.3 152.8a4.9 4.9 0 1 0 9.8 0a4.9 4.9 0 1 0 -9.8 0M544.9 153.1a4.9 4.9 0 1 0 9.8 0a4.9 4.9 0 1 0 -9.8 0M545.4 153.9a4.9 4.9 0 1 0 9.8 0a4.9 4.9 0 1 0 -9.8 0M546.0 155.4a4.9 4.9 0 1 0 9.8 0a4.9 4.9 0 1 0 -9.8 0M546.6 153.1a4.9 4.9 0 1 0 9.8 0a4.9 4.9 0 1 0 -9.8 0M547.1 154.5a4.9 4.9 0 1 0 9.8 0a4.9 4.9 0 1 0 -9.8 0M547.7 154.0a4.9 4.9 0 1 0 9.8 0a4.9 4.9 0 1 0 -9.8 0M548.2 153.2a4.9 4.9 0 1 0 9.8 0a4.9 4.9 0 1 0 -9.8 0M548.8 152.4a4.9 4.9 0 1 0 9.8 0a4.9 4.9 0 1 0 -9.8 0M549.4 153.4a4.9 4.9 0 1 0 9.8 0a4.9 4.9 0 1 0 -9.8 0M549.9 152.6a4.9 4.9 0 1 0 9.8 0a4.9 4.9 0 1 0 -9.8 0M550.5 154.2a4.9 4.9 0 1 0 9.8 0a4.9 4.9 0 1 0 -9.8 0M551.1 151.2a4.9 4.9 0 1 0 9.8 0a4.9 4.9 0 1 0 -9.8 0M551.6 154.9a4.9 4.9 0 1 0 9.8 0a4.9 4.9 0 1 0 -9.8 0M552.2 154.4a4.9 4.9 0 1 0 9.8 0a4.9 4.9 0 1 0 -9.8 0M552.8 154.1a4.9 4.9 0 1 0 9.8 0a4.9 4.9 0 1 0 -9.8 0M553.3 155.2a4.9 4.9 0 1 0 9.8 0a4.9 4.9 0 1 0 -9.8 0M553.9 154.1a4.9 4.9 0 1 0 9.8 0a4.9 4.9 0 1 0 -9.8 0M554.5 151.1a4.9 4.9 0 1 0 9.8 0a4.9 4.9 0 1 0 -9.8 0M555.0 153.3a4.9 4.9 0 1 0 9.8 0a4.9 4.9 0 1 0 -9.8 0M555.6 154.2a4.9 4.9 0 1 0 9.8 0a4.9 4.9 0 1 0 -9.8 0M556.2 152.6a4.9 4.9 0 1 0 9.8 0a4.9 4.9 0 1 0 -9.8 0M556.7 152.1a4.9 4.9 0 1 0 9.8 0a4.9 4.9 0 1 0 -9.8 0M557.3 154.9a4.9 4.9 0 1 0 9.8 0a4.9 4.9 0 1 0 -9.8 0M557.9 155.3a4.9 4.9 0 1 0 9.8 0a4.9 4.9 0 1 0 -9.8 0M558.4 154.0a4.9 4.9 0 1 0 9.8 0a4.9 4.9 0 1 0 -9.8 0M559.0 154.6a4.9 4.9 0 1 0 9.8 0a4.9 4.9 0 1 0 -9.8 0M559.6 154.3a4.9 4.9 0 1 0 9.8 0a4.9 4.9 0 1 0 -9.8 0M560.1 154.0a4.9 4.9 0 1 0 9.8 0a4.9 4.9 0 1 0 -9.8 0M560.7 154.7a4.9 4.9 0 1 0 9.8 0a4.9 4.9 0 1 0 -9.8 0M561.2 156.4a4.9 4.9 0 1 0 9.8 0a4.9 4.9 0 1 0 -9.8 0M561.8 151.8a4.9 4.9 0 1 0 9.8 0a4.9 4.9 0 1 0 -9.8 0M562.4 153.7a4.9 4.9 0 1 0 9.8 0a4.9 4.9 0 1 0 -9.8 0M562.9 156.8a4.9 4.9 0 1 0 9.8 0a4.9 4.9 0 1 0 -9.8 0M563.5 154.5a4.9 4.9 0 1 0 9.8 0a4.9 4.9 0 1 0 -9.8 0M564.1 154.0a4.9 4.9 0 1 0 9.8 0a4.9 4.9 0 1 0 -9.8 0M564.6 155.0a4.9 4.9 0 1 0 9.8 0a4.9 4.9 0 1 0 -9.8 0M565.2 151.8a4.9 4.9 0 1 0 9.8 0a4.9 4.9 0 1 0 -9.8 0M565.8 151.2a4.9 4.9 0 1 0 9.8 0a4.9 4.9 0 1 0 -9.8 0M566.3 150.3a4.9 4.9 0 1 0 9.8 0a4.9 4.9 0 1 0 -9.8 0M566.9 150.5a4.9 4.9 0 1 0 9.8 0a4.9 4.9 0 1 0 -9.8 0M567.5 153.1a4.9 4.9 0 1 0 9.8 0a4.9 4.9 0 1 0 -9.8 0M568.0 154.0a4.9 4.9 0 1 0 9.8 0a4.9 4.9 0 1 0 -9.8 0M568.6 151.7a4.9 4.9 0 1 0 9.8 0a4.9 4.9 0 1 0 -9.8 0M569.2 151.1a4.9 4.9 0 1 0 9.8 0a4.9 4.9 0 1 0 -9.8 0M569.7 152.7a4.9 4.9 0 1 0 9.8 0a4.9 4.9 0 1 0 -9.8 0M570.3 152.9a4.9 4.9 0 1 0 9.8 0a4.9 4.9 0 1 0 -9.8 0M570.9 152.1a4.9 4.9 0 1 0 9.8 0a4.9 4.9 0 1 0 -9.8 0M571.4 148.4a4.9 4.9 0 1 0 9.8 0a4.9 4.9 0 1 0 -9.8 0M572.0 150.5a4.9 4.9 0 1 0 9.8 0a4.9 4.9 0 1 0 -9.8 0M572.5 147.1a4.9 4.9 0 1 0 9.8 0a4.9 4.9 0 1 0 -9.8 0M573.1 151.6a4.9 4.9 0 1 0 9.8 0a4.9 4.9 0 1 0 -9.8 0M573.7 149.7a4.9 4.9 0 1 0 9.8 0a4.9 4.9 0 1 0 -9.8 0M574.2 149.9a4.9 4.9 0 1 0 9.8 0a4.9 4.9 0 1 0 -9.8 0M574.8 153.3a4.9 4.9 0 1 0 9.8 0a4.9 4.9 0 1 0 -9.8 0M575.4 152.9a4.9 4.9 0 1 0 9.8 0a4.9 4.9 0 1 0 -9.8 0M575.9 151.4a4.9 4.9 0 1 0 9.8 0a4.9 4.9 0 1 0 -9.8 0M576.5 151.0a4.9 4.9 0 1 0 9.8 0a4.9 4.9 0 1 0 -9.8 0M577.1 150.7a4.9 4.9 0 1 0 9.8 0a4.9 4.9 0 1 0 -9.8 0M577.6 149.3a4.9 4.9 0 1 0 9.8 0a4.9 4.9 0 1 0 -9.8 0M578.2 150.1a4.9 4.9 0 1 0 9.8 0a4.9 4.9 0 1 0 -9.8 0M578.8 153.2a4.9 4.9 0 1 0 9.8 0a4.9 4.9 0 1 0 -9.8 0M579.3 148.5a4.9 4.9 0 1 0 9.8 0a4.9 4.9 0 1 0 -9.8 0M579.9 148.7a4.9 4.9 0 1 0 9.8 0a4.9 4.9 0 1 0 -9.8 0M580.5 150.0a4.9 4.9 0 1 0 9.8 0a4.9 4.9 0 1 0 -9.8 0M581.0 151.1a4.9 4.9 0 1 0 9.8 0a4.9 4.9 0 1 0 -9.8 0M581.6 150.9a4.9 4.9 0 1 0 9.8 0a4.9 4.9 0 1 0 -9.8 0M582.1 147.8a4.9 4.9 0 1 0 9.8 0a4.9 4.9 0 1 0 -9.8 0M582.7 149.1a4.9 4.9 0 1 0 9.8 0a4.9 4.9 0 1 0 -9.8 0M583.3 148.7a4.9 4.9 0 1 0 9.8 0a4.9 4.9 0 1 0 -9.8 0M583.8 146.9a4.9 4.9 0 1 0 9.8 0a4.9 4.9 0 1 0 -9.8 0M584.4 148.7a4.9 4.9 0 1 0 9.8 0a4.9 4.9 0 1 0 -9.8 0M585.0 147.3a4.9 4.9 0 1 0 9.8 0a4.9 4.9 0 1 0 -9.8 0M585.5 149.3a4.9 4.9 0 1 0 9.8 0a4.9 4.9 0 1 0 -9.8 0M586.1 148.1a4.9 4.9 0 1 0 9.8 0a4.9 4.9 0 1 0 -9.8 0M586.7 145.7a4.9 4.9 0 1 0 9.8 0a4.9 4.9 0 1 0 -9.8 0M587.2 146.7a4.9 4.9 0 1 0 9.8 0a4.9 4.9 0 1 0 -9.8 0M587.8 145.6a4.9 4.9 0 1 0 9.8 0a4.9 4.9 0 1 0 -9.8 0M588.4 144.7a4.9 4.9 0 1 0 9.8 0a4.9 4.9 0 1 0 -9.8 0M588.9 144.6a4.9 4.9 0 1 0 9.8 0a4.9 4.9 0 1 0 -9.8 0M589.5 146.7a4.9 4.9 0 1 0 9.8 0a4.9 4.9 0 1 0 -9.8 0M590.1 143.9a4.9 4.9 0 1 0 9.8 0a4.9 4.9 0 1 0 -9.8 0M590.6 141.3a4.9 4.9 0 1 0 9.8 0a4.9 4.9 0 1 0 -9.8 0M591.2 142.5a4.9 4.9 0 1 0 9.8 0a4.9 4.9 0 1 0 -9.8 0M591.8 144.7a4.9 4.9 0 1 0 9.8 0a4.9 4.9 0 1 0 -9.8 0M592.3 146.5a4.9 4.9 0 1 0 9.8 0a4.9 4.9 0 1 0 -9.8 0M592.9 140.8a4.9 4.9 0 1 0 9.8 0a4.9 4.9 0 1 0 -9.8 0M593.5 141.6a4.9 4.9 0 1 0 9.8 0a4.9 4.9 0 1 0 -9.8 0M594.0 141.2a4.9 4.9 0 1 0 9.8 0a4.9 4.9 0 1 0 -9.8 0M594.6 139.1a4.9 4.9 0 1 0 9.8 0a4.9 4.9 0 1 0 -9.8 0M595.1 141.7a4.9 4.9 0 1 0 9.8 0a4.9 4.9 0 1 0 -9.8 0M595.7 140.5a4.9 4.9 0 1 0 9.8 0a4.9 4.9 0 1 0 -9.8 0M596.3 140.7a4.9 4.9 0 1 0 9.8 0a4.9 4.9 0 1 0 -9.8 0M596.8 143.5a4.9 4.9 0 1 0 9.8 0a4.9 4.9 0 1 0 -9.8 0M597.4 139.0a4.9 4.9 0 1 0 9.8 0a4.9 4.9 0 1 0 -9.8 0M598.0 140.3a4.9 4.9 0 1 0 9.8 0a4.9 4.9 0 1 0 -9.8 0M598.5 140.0a4.9 4.9 0 1 0 9.8 0a4.9 4.9 0 1 0 -9.8 0M599.1 137.2a4.9 4.9 0 1 0 9.8 0a4.9 4.9 0 1 0 -9.8 0M599.7 136.9a4.9 4.9 0 1 0 9.8 0a4.9 4.9 0 1 0 -9.8 0M600.2 140.0a4.9 4.9 0 1 0 9.8 0a4.9 4.9 0 1 0 -9.8 0M600.8 138.2a4.9 4.9 0 1 0 9.8 0a4.9 4.9 0 1 0 -9.8 0M601.4 136.9a4.9 4.9 0 1 0 9.8 0a4.9 4.9 0 1 0 -9.8 0M601.9 134.5a4.9 4.9 0 1 0 9.8 0a4.9 4.9 0 1 0 -9.8 0M602.5 137.3a4.9 4.9 0 1 0 9.8 0a4.9 4.9 0 1 0 -9.8 0M603.1 136.3a4.9 4.9 0 1 0 9.8 0a4.9 4.9 0 1 0 -9.8 0M603.6 138.7a4.9 4.9 0 1 0 9.8 0a4.9 4.9 0 1 0 -9.8 0M604.2 137.1a4.9 4.9 0 1 0 9.8 0a4.9 4.9 0 1 0 -9.8 0M604.8 135.6a4.9 4.9 0 1 0 9.8 0a4.9 4.9 0 1 0 -9.8 0M605.3 134.5a4.9 4.9 0 1 0 9.8 0a4.9 4.9 0 1 0 -9.8 0M605.9 133.6a4.9 4.9 0 1 0 9.8 0a4.9 4.9 0 1 0 -9.8 0M606.4 131.9a4.9 4.9 0 1 0 9.8 0a4.9 4.9 0 1 0 -9.8 0M607.0 133.4a4.9 4.9 0 1 0 9.8 0a4.9 4.9 0 1 0 -9.8 0M607.6 132.8a4.9 4.9 0 1 0 9.8 0a4.9 4.9 0 1 0 -9.8 0M608.1 133.4a4.9 4.9 0 1 0 9.8 0a4.9 4.9 0 1 0 -9.8 0M608.7 134.3a4.9 4.9 0 1 0 9.8 0a4.9 4.9 0 1 0 -9.8 0M609.3 132.5a4.9 4.9 0 1 0 9.8 0a4.9 4.9 0 1 0 -9.8 0M609.8 130.6a4.9 4.9 0 1 0 9.8 0a4.9 4.9 0 1 0 -9.8 0M610.4 133.3a4.9 4.9 0 1 0 9.8 0a4.9 4.9 0 1 0 -9.8 0M611.0 134.8a4.9 4.9 0 1 0 9.8 0a4.9 4.9 0 1 0 -9.8 0M611.5 129.6a4.9 4.9 0 1 0 9.8 0a4.9 4.9 0 1 0 -9.8 0M612.1 132.2a4.9 4.9 0 1 0 9.8 0a4.9 4.9 0 1 0 -9.8 0M612.7 132.3a4.9 4.9 0 1 0 9.8 0a4.9 4.9 0 1 0 -9.8 0M613.2 132.2a4.9 4.9 0 1 0 9.8 0a4.9 4.9 0 1 0 -9.8 0M613.8 132.0a4.9 4.9 0 1 0 9.8 0a4.9 4.9 0 1 0 -9.8 0M614.4 130.5a4.9 4.9 0 1 0 9.8 0a4.9 4.9 0 1 0 -9.8 0M614.9 130.2a4.9 4.9 0 1 0 9.8 0a4.9 4.9 0 1 0 -9.8 0M615.5 133.7a4.9 4.9 0 1 0 9.8 0a4.9 4.9 0 1 0 -9.8 0M616.1 133.5a4.9 4.9 0 1 0 9.8 0a4.9 4.9 0 1 0 -9.8 0M616.6 126.5a4.9 4.9 0 1 0 9.8 0a4.9 4.9 0 1 0 -9.8 0M617.2 123.8a4.9 4.9 0 1 0 9.8 0a4.9 4.9 0 1 0 -9.8 0M617.7 129.8a4.9 4.9 0 1 0 9.8 0a4.9 4.9 0 1 0 -9.8 0M618.3 127.2a4.9 4.9 0 1 0 9.8 0a4.9 4.9 0 1 0 -9.8 0M618.9 127.2a4.9 4.9 0 1 0 9.8 0a4.9 4.9 0 1 0 -9.8 0M619.4 124.6a4.9 4.9 0 1 0 9.8 0a4.9 4.9 0 1 0 -9.8 0M620.0 128.5a4.9 4.9 0 1 0 9.8 0a4.9 4.9 0 1 0 -9.8 0M620.6 127.3a4.9 4.9 0 1 0 9.8 0a4.9 4.9 0 1 0 -9.8 0M621.1 126.0a4.9 4.9 0 1 0 9.8 0a4.9 4.9 0 1 0 -9.8 0M621.7 128.8a4.9 4.9 0 1 0 9.8 0a4.9 4.9 0 1 0 -9.8 0M622.3 131.8a4.9 4.9 0 1 0 9.8 0a4.9 4.9 0 1 0 -9.8 0M622.8 129.3a4.9 4.9 0 1 0 9.8 0a4.9 4.9 0 1 0 -9.8 0M623.4 128.3a4.9 4.9 0 1 0 9.8 0a4.9 4.9 0 1 0 -9.8 0M624.0 124.5a4.9 4.9 0 1 0 9.8 0a4.9 4.9 0 1 0 -9.8 0M624.5 126.4a4.9 4.9 0 1 0 9.8 0a4.9 4.9 0 1 0 -9.8 0M625.1 124.5a4.9 4.9 0 1 0 9.8 0a4.9 4.9 0 1 0 -9.8 0M625.7 126.6a4.9 4.9 0 1 0 9.8 0a4.9 4.9 0 1 0 -9.8 0M626.2 125.0a4.9 4.9 0 1 0 9.8 0a4.9 4.9 0 1 0 -9.8 0M626.8 123.3a4.9 4.9 0 1 0 9.8 0a4.9 4.9 0 1 0 -9.8 0M627.4 124.1a4.9 4.9 0 1 0 9.8 0a4.9 4.9 0 1 0 -9.8 0M627.9 121.0a4.9 4.9 0 1 0 9.8 0a4.9 4.9 0 1 0 -9.8 0M628.5 123.8a4.9 4.9 0 1 0 9.8 0a4.9 4.9 0 1 0 -9.8 0M629.0 124.9a4.9 4.9 0 1 0 9.8 0a4.9 4.9 0 1 0 -9.8 0M629.6 120.5a4.9 4.9 0 1 0 9.8 0a4.9 4.9 0 1 0 -9.8 0M630.2 122.1a4.9 4.9 0 1 0 9.8 0a4.9 4.9 0 1 0 -9.8 0M630.7 116.9a4.9 4.9 0 1 0 9.8 0a4.9 4.9 0 1 0 -9.8 0M631.3 122.1a4.9 4.9 0 1 0 9.8 0a4.9 4.9 0 1 0 -9.8 0M631.9 121.5a4.9 4.9 0 1 0 9.8 0a4.9 4.9 0 1 0 -9.8 0M632.4 117.2a4.9 4.9 0 1 0 9.8 0a4.9 4.9 0 1 0 -9.8 0M633.0 122.8a4.9 4.9 0 1 0 9.8 0a4.9 4.9 0 1 0 -9.8 0M633.6 119.1a4.9 4.9 0 1 0 9.8 0a4.9 4.9 0 1 0 -9.8 0M634.1 114.8a4.9 4.9 0 1 0 9.8 0a4.9 4.9 0 1 0 -9.8 0M634.7 115.4a4.9 4.9 0 1 0 9.8 0a4.9 4.9 0 1 0 -9.8 0M635.3 119.9a4.9 4.9 0 1 0 9.8 0a4.9 4.9 0 1 0 -9.8 0M635.8 117.2a4.9 4.9 0 1 0 9.8 0a4.9 4.9 0 1 0 -9.8 0M636.4 119.8a4.9 4.9 0 1 0 9.8 0a4.9 4.9 0 1 0 -9.8 0M637.0 113.9a4.9 4.9 0 1 0 9.8 0a4.9 4.9 0 1 0 -9.8 0M637.5 116.7a4.9 4.9 0 1 0 9.8 0a4.9 4.9 0 1 0 -9.8 0M638.1 118.8a4.9 4.9 0 1 0 9.8 0a4.9 4.9 0 1 0 -9.8 0M638.6 115.0a4.9 4.9 0 1 0 9.8 0a4.9 4.9 0 1 0 -9.8 0M639.2 117.6a4.9 4.9 0 1 0 9.8 0a4.9 4.9 0 1 0 -9.8 0M639.8 115.1a4.9 4.9 0 1 0 9.8 0a4.9 4.9 0 1 0 -9.8 0M640.3 116.4a4.9 4.9 0 1 0 9.8 0a4.9 4.9 0 1 0 -9.8 0M640.9 116.1a4.9 4.9 0 1 0 9.8 0a4.9 4.9 0 1 0 -9.8 0M641.5 120.0a4.9 4.9 0 1 0 9.8 0a4.9 4.9 0 1 0 -9.8 0M642.0 112.4a4.9 4.9 0 1 0 9.8 0a4.9 4.9 0 1 0 -9.8 0M642.6 116.5a4.9 4.9 0 1 0 9.8 0a4.9 4.9 0 1 0 -9.8 0M643.2 117.4a4.9 4.9 0 1 0 9.8 0a4.9 4.9 0 1 0 -9.8 0M643.7 112.0a4.9 4.9 0 1 0 9.8 0a4.9 4.9 0 1 0 -9.8 0M644.3 114.4a4.9 4.9 0 1 0 9.8 0a4.9 4.9 0 1 0 -9.8 0M644.9 119.0a4.9 4.9 0 1 0 9.8 0a4.9 4.9 0 1 0 -9.8 0M645.4 116.1a4.9 4.9 0 1 0 9.8 0a4.9 4.9 0 1 0 -9.8 0M646.0 107.3a4.9 4.9 0 1 0 9.8 0a4.9 4.9 0 1 0 -9.8 0M646.6 113.0a4.9 4.9 0 1 0 9.8 0a4.9 4.9 0 1 0 -9.8 0M647.1 109.6a4.9 4.9 0 1 0 9.8 0a4.9 4.9 0 1 0 -9.8 0M647.7 113.7a4.9 4.9 0 1 0 9.8 0a4.9 4.9 0 1 0 -9.8 0M648.3 111.7a4.9 4.9 0 1 0 9.8 0a4.9 4.9 0 1 0 -9.8 0M648.8 112.5a4.9 4.9 0 1 0 9.8 0a4.9 4.9 0 1 0 -9.8 0M649.4 112.3a4.9 4.9 0 1 0 9.8 0a4.9 4.9 0 1 0 -9.8 0M650.0 115.2a4.9 4.9 0 1 0 9.8 0a4.9 4.9 0 1 0 -9.8 0M650.5 114.0a4.9 4.9 0 1 0 9.8 0a4.9 4.9 0 1 0 -9.8 0M651.1 113.5a4.9 4.9 0 1 0 9.8 0a4.9 4.9 0 1 0 -9.8 0M651.6 115.4a4.9 4.9 0 1 0 9.8 0a4.9 4.9 0 1 0 -9.8 0M652.2 117.2a4.9 4.9 0 1 0 9.8 0a4.9 4.9 0 1 0 -9.8 0M652.8 114.9a4.9 4.9 0 1 0 9.8 0a4.9 4.9 0 1 0 -9.8 0M653.3 119.5a4.9 4.9 0 1 0 9.8 0a4.9 4.9 0 1 0 -9.8 0M653.9 114.0a4.9 4.9 0 1 0 9.8 0a4.9 4.9 0 1 0 -9.8 0M654.5 118.9a4.9 4.9 0 1 0 9.8 0a4.9 4.9 0 1 0 -9.8 0M655.0 117.6a4.9 4.9 0 1 0 9.8 0a4.9 4.9 0 1 0 -9.8 0M655.6 122.3a4.9 4.9 0 1 0 9.8 0a4.9 4.9 0 1 0 -9.8 0M656.2 117.9a4.9 4.9 0 1 0 9.8 0a4.9 4.9 0 1 0 -9.8 0M656.7 118.0a4.9 4.9 0 1 0 9.8 0a4.9 4.9 0 1 0 -9.8 0M657.3 116.3a4.9 4.9 0 1 0 9.8 0a4.9 4.9 0 1 0 -9.8 0M657.9 123.2a4.9 4.9 0 1 0 9.8 0a4.9 4.9 0 1 0 -9.8 0M658.4 120.1a4.9 4.9 0 1 0 9.8 0a4.9 4.9 0 1 0 -9.8 0M659.0 116.2a4.9 4.9 0 1 0 9.8 0a4.9 4.9 0 1 0 -9.8 0M659.6 117.6a4.9 4.9 0 1 0 9.8 0a4.9 4.9 0 1 0 -9.8 0M660.1 116.1a4.9 4.9 0 1 0 9.8 0a4.9 4.9 0 1 0 -9.8 0M660.7 121.2a4.9 4.9 0 1 0 9.8 0a4.9 4.9 0 1 0 -9.8 0M661.2 118.6a4.9 4.9 0 1 0 9.8 0a4.9 4.9 0 1 0 -9.8 0M661.8 113.2a4.9 4.9 0 1 0 9.8 0a4.9 4.9 0 1 0 -9.8 0M662.4 117.8a4.9 4.9 0 1 0 9.8 0a4.9 4.9 0 1 0 -9.8 0M662.9 119.1a4.9 4.9 0 1 0 9.8 0a4.9 4.9 0 1 0 -9.8 0M663.5 116.9a4.9 4.9 0 1 0 9.8 0a4.9 4.9 0 1 0 -9.8 0M664.1 117.7a4.9 4.9 0 1 0 9.8 0a4.9 4.9 0 1 0 -9.8 0M664.6 116.3a4.9 4.9 0 1 0 9.8 0a4.9 4.9 0 1 0 -9.8 0M665.2 116.8a4.9 4.9 0 1 0 9.8 0a4.9 4.9 0 1 0 -9.8 0M665.8 116.6a4.9 4.9 0 1 0 9.8 0a4.9 4.9 0 1 0 -9.8 0M666.3 114.7a4.9 4.9 0 1 0 9.8 0a4.9 4.9 0 1 0 -9.8 0M666.9 117.6a4.9 4.9 0 1 0 9.8 0a4.9 4.9 0 1 0 -9.8 0M667.5 117.8a4.9 4.9 0 1 0 9.8 0a4.9 4.9 0 1 0 -9.8 0M668.0 117.9a4.9 4.9 0 1 0 9.8 0a4.9 4.9 0 1 0 -9.8 0M668.6 117.1a4.9 4.9 0 1 0 9.8 0a4.9 4.9 0 1 0 -9.8 0M669.2 117.0a4.9 4.9 0 1 0 9.8 0a4.9 4.9 0 1 0 -9.8 0M669.7 120.3a4.9 4.9 0 1 0 9.8 0a4.9 4.9 0 1 0 -9.8 0M670.3 122.1a4.9 4.9 0 1 0 9.8 0a4.9 4.9 0 1 0 -9.8 0M670.9 115.8a4.9 4.9 0 1 0 9.8 0a4.9 4.9 0 1 0 -9.8 0M671.4 119.9a4.9 4.9 0 1 0 9.8 0a4.9 4.9 0 1 0 -9.8 0M672.0 124.1a4.9 4.9 0 1 0 9.8 0a4.9 4.9 0 1 0 -9.8 0M672.6 123.2a4.9 4.9 0 1 0 9.8 0a4.9 4.9 0 1 0 -9.8 0M673.1 119.8a4.9 4.9 0 1 0 9.8 0a4.9 4.9 0 1 0 -9.8 0M673.7 124.3a4.9 4.9 0 1 0 9.8 0a4.9 4.9 0 1 0 -9.8 0M674.2 119.4a4.9 4.9 0 1 0 9.8 0a4.9 4.9 0 1 0 -9.8 0M674.8 119.9a4.9 4.9 0 1 0 9.8 0a4.9 4.9 0 1 0 -9.8 0M675.4 125.8a4.9 4.9 0 1 0 9.8 0a4.9 4.9 0 1 0 -9.8 0M675.9 120.8a4.9 4.9 0 1 0 9.8 0a4.9 4.9 0 1 0 -9.8 0M676.5 121.4a4.9 4.9 0 1 0 9.8 0a4.9 4.9 0 1 0 -9.8 0M677.1 118.4a4.9 4.9 0 1 0 9.8 0a4.9 4.9 0 1 0 -9.8 0M677.6 119.9a4.9 4.9 0 1 0 9.8 0a4.9 4.9 0 1 0 -9.8 0M678.2 119.6a4.9 4.9 0 1 0 9.8 0a4.9 4.9 0 1 0 -9.8 0M678.8 121.9a4.9 4.9 0 1 0 9.8 0a4.9 4.9 0 1 0 -9.8 0M679.3 118.4a4.9 4.9 0 1 0 9.8 0a4.9 4.9 0 1 0 -9.8 0M679.9 124.7a4.9 4.9 0 1 0 9.8 0a4.9 4.9 0 1 0 -9.8 0M680.5 121.7a4.9 4.9 0 1 0 9.8 0a4.9 4.9 0 1 0 -9.8 0M681.0 121.0a4.9 4.9 0 1 0 9.8 0a4.9 4.9 0 1 0 -9.8 0M681.6 120.7a4.9 4.9 0 1 0 9.8 0a4.9 4.9 0 1 0 -9.8 0M682.2 123.3a4.9 4.9 0 1 0 9.8 0a4.9 4.9 0 1 0 -9.8 0M682.7 124.8a4.9 4.9 0 1 0 9.8 0a4.9 4.9 0 1 0 -9.8 0M683.3 120.3a4.9 4.9 0 1 0 9.8 0a4.9 4.9 0 1 0 -9.8 0M683.9 124.4a4.9 4.9 0 1 0 9.8 0a4.9 4.9 0 1 0 -9.8 0M684.4 124.1a4.9 4.9 0 1 0 9.8 0a4.9 4.9 0 1 0 -9.8 0M685.0 123.3a4.9 4.9 0 1 0 9.8 0a4.9 4.9 0 1 0 -9.8 0M685.5 120.8a4.9 4.9 0 1 0 9.8 0a4.9 4.9 0 1 0 -9.8 0M686.1 116.7a4.9 4.9 0 1 0 9.8 0a4.9 4.9 0 1 0 -9.8 0M686.7 121.0a4.9 4.9 0 1 0 9.8 0a4.9 4.9 0 1 0 -9.8 0M687.2 118.4a4.9 4.9 0 1 0 9.8 0a4.9 4.9 0 1 0 -9.8 0M687.8 119.5a4.9 4.9 0 1 0 9.8 0a4.9 4.9 0 1 0 -9.8 0M688.4 114.8a4.9 4.9 0 1 0 9.8 0a4.9 4.9 0 1 0 -9.8 0M688.9 118.1a4.9 4.9 0 1 0 9.8 0a4.9 4.9 0 1 0 -9.8 0M689.5 119.1a4.9 4.9 0 1 0 9.8 0a4.9 4.9 0 1 0 -9.8 0M690.1 116.4a4.9 4.9 0 1 0 9.8 0a4.9 4.9 0 1 0 -9.8 0M690.6 118.9a4.9 4.9 0 1 0 9.8 0a4.9 4.9 0 1 0 -9.8 0M691.2 121.7a4.9 4.9 0 1 0 9.8 0a4.9 4.9 0 1 0 -9.8 0M691.8 118.4a4.9 4.9 0 1 0 9.8 0a4.9 4.9 0 1 0 -9.8 0M692.3 116.3a4.9 4.9 0 1 0 9.8 0a4.9 4.9 0 1 0 -9.8 0M692.9 122.7a4.9 4.9 0 1 0 9.8 0a4.9 4.9 0 1 0 -9.8 0M693.5 112.8a4.9 4.9 0 1 0 9.8 0a4.9 4.9 0 1 0 -9.8 0M694.0 115.3a4.9 4.9 0 1 0 9.8 0a4.9 4.9 0 1 0 -9.8 0M694.6 118.0a4.9 4.9 0 1 0 9.8 0a4.9 4.9 0 1 0 -9.8 0M695.1 115.8a4.9 4.9 0 1 0 9.8 0a4.9 4.9 0 1 0 -9.8 0M695.7 112.7a4.9 4.9 0 1 0 9.8 0a4.9 4.9 0 1 0 -9.8 0M696.3 118.8a4.9 4.9 0 1 0 9.8 0a4.9 4.9 0 1 0 -9.8 0M696.8 120.6a4.9 4.9 0 1 0 9.8 0a4.9 4.9 0 1 0 -9.8 0M697.4 117.7a4.9 4.9 0 1 0 9.8 0a4.9 4.9 0 1 0 -9.8 0M698.0 123.1a4.9 4.9 0 1 0 9.8 0a4.9 4.9 0 1 0 -9.8 0M698.5 121.6a4.9 4.9 0 1 0 9.8 0a4.9 4.9 0 1 0 -9.8 0M699.1 123.7a4.9 4.9 0 1 0 9.8 0a4.9 4.9 0 1 0 -9.8 0M699.7 118.4a4.9 4.9 0 1 0 9.8 0a4.9 4.9 0 1 0 -9.8 0M700.2 122.3a4.9 4.9 0 1 0 9.8 0a4.9 4.9 0 1 0 -9.8 0M700.8 126.3a4.9 4.9 0 1 0 9.8 0a4.9 4.9 0 1 0 -9.8 0M701.4 127.8a4.9 4.9 0 1 0 9.8 0a4.9 4.9 0 1 0 -9.8 0M701.9 126.8a4.9 4.9 0 1 0 9.8 0a4.9 4.9 0 1 0 -9.8 0M702.5 124.6a4.9 4.9 0 1 0 9.8 0a4.9 4.9 0 1 0 -9.8 0M703.1 125.4a4.9 4.9 0 1 0 9.8 0a4.9 4.9 0 1 0 -9.8 0M703.6 124.2a4.9 4.9 0 1 0 9.8 0a4.9 4.9 0 1 0 -9.8 0M704.2 128.3a4.9 4.9 0 1 0 9.8 0a4.9 4.9 0 1 0 -9.8 0M704.8 124.9a4.9 4.9 0 1 0 9.8 0a4.9 4.9 0 1 0 -9.8 0M705.3 127.2a4.9 4.9 0 1 0 9.8 0a4.9 4.9 0 1 0 -9.8 0M705.9 122.9a4.9 4.9 0 1 0 9.8 0a4.9 4.9 0 1 0 -9.8 0M706.5 124.6a4.9 4.9 0 1 0 9.8 0a4.9 4.9 0 1 0 -9.8 0M707.0 132.1a4.9 4.9 0 1 0 9.8 0a4.9 4.9 0 1 0 -9.8 0M707.6 128.9a4.9 4.9 0 1 0 9.8 0a4.9 4.9 0 1 0 -9.8 0M708.1 129.7a4.9 4.9 0 1 0 9.8 0a4.9 4.9 0 1 0 -9.8 0M708.7 125.2a4.9 4.9 0 1 0 9.8 0a4.9 4.9 0 1 0 -9.8 0M709.3 130.8a4.9 4.9 0 1 0 9.8 0a4.9 4.9 0 1 0 -9.8 0M709.8 136.4a4.9 4.9 0 1 0 9.8 0a4.9 4.9 0 1 0 -9.8 0M710.4 129.7a4.9 4.9 0 1 0 9.8 0a4.9 4.9 0 1 0 -9.8 0M711.0 128.9a4.9 4.9 0 1 0 9.8 0a4.9 4.9 0 1 0 -9.8 0M711.5 134.6a4.9 4.9 0 1 0 9.8 0a4.9 4.9 0 1 0 -9.8 0M146.6 385.0a4.9 4.9 0 1 0 9.8 0a4.9 4.9 0 1 0 -9.8 0M147.1 395.0a4.9 4.9 0 1 0 9.8 0a4.9 4.9 0 1 0 -9.8 0M281.8 268.0a4.9 4.9 0 1 0 9.8 0a4.9 4.9 0 1 0 -9.8 0M282.1 274.0a4.9 4.9 0 1 0 9.8 0a4.9 4.9 0 1 0 -9.8 0M241.1 272.0a4.9 4.9 0 1 0 9.8 0a4.9 4.9 0 1 0 -9.8 0M245.1 271.0a4.9 4.9 0 1 0 9.8 0a4.9 4.9 0 1 0 -9.8 0M293.1 255.0a4.9 4.9 0 1 0 9.8 0a4.9 4.9 0 1 0 -9.8 0M559.4 160.0a4.9 4.9 0 1 0 9.8 0a4.9 4.9 0 1 0 -9.8 0M611.5 147.0a4.9 4.9 0 1 0 9.8 0a4.9 4.9 0 1 0 -9.8 0M670.3 132.0a4.9 4.9 0 1 0 9.8 0a4.9 4.9 0 1 0 -9.8 0M632.1 122.0a4.9 4.9 0 1 0 9.8 0a4.9 4.9 0 1 0 -9.8 0M647.9 108.5a4.9 4.9 0 1 0 9.8 0a4.9 4.9 0 1 0 -9.8 0M666.1 111.0a4.9 4.9 0 1 0 9.8 0a4.9 4.9 0 1 0 -9.8 0M695.1 112.0a4.9 4.9 0 1 0 9.8 0a4.9 4.9 0 1 0 -9.8 0M607.1 134.0a4.9 4.9 0 1 0 9.8 0a4.9 4.9 0 1 0 -9.8 0M615.1 128.0a4.9 4.9 0 1 0 9.8 0a4.9 4.9 0 1 0 -9.8 0M655.1 118.0a4.9 4.9 0 1 0 9.8 0a4.9 4.9 0 1 0 -9.8 0M685.1 120.0a4.9 4.9 0 1 0 9.8 0a4.9 4.9 0 1 0 -9.8 0M310.1 257.0a4.9 4.9 0 1 0 9.8 0a4.9 4.9 0 1 0 -9.8 0M317.1 259.0a4.9 4.9 0 1 0 9.8 0a4.9 4.9 0 1 0 -9.8 0M295.1 262.0a4.9 4.9 0 1 0 9.8 0a4.9 4.9 0 1 0 -9.8 0" fill="#ff0000"/>
<line x1="151.20" y1="30.00" x2="151.20" y2="490.00" stroke="#ff0000" stroke-width="4" stroke-linecap="butt"/>
<line x1="149.20" y1="30.00" x2="721.00" y2="30.00" stroke="#000" stroke-width="3" stroke-linecap="butt"/>
<line x1="149.20" y1="490.00" x2="723.00" y2="490.00" stroke="#000" stroke-width="3" stroke-linecap="butt"/>
<line x1="721.00" y1="28.50" x2="721.00" y2="488.50" stroke="#0000ff" stroke-width="4" stroke-linecap="butt"/>
<line x1="151.20" y1="490.00" x2="151.20" y2="498.50" stroke="#000" stroke-width="3" stroke-linecap="butt"/>
<text x="151.2" y="523.3" font-size="24.5" fill="#000" text-anchor="middle" >0</text>
<line x1="182.86" y1="490.00" x2="182.86" y2="494.50" stroke="#000" stroke-width="3" stroke-linecap="butt"/>
<line x1="214.51" y1="490.00" x2="214.51" y2="498.50" stroke="#000" stroke-width="3" stroke-linecap="butt"/>
<text x="214.5" y="523.3" font-size="24.5" fill="#000" text-anchor="middle" >200</text>
<line x1="246.17" y1="490.00" x2="246.17" y2="494.50" stroke="#000" stroke-width="3" stroke-linecap="butt"/>
<line x1="277.82" y1="490.00" x2="277.82" y2="498.50" stroke="#000" stroke-width="3" stroke-linecap="butt"/>
<text x="277.8" y="523.3" font-size="24.5" fill="#000" text-anchor="middle" >400</text>
<line x1="309.48" y1="490.00" x2="309.48" y2="494.50" stroke="#000" stroke-width="3" stroke-linecap="butt"/>
<line x1="341.13" y1="490.00" x2="341.13" y2="498.50" stroke="#000" stroke-width="3" stroke-linecap="butt"/>
<text x="341.1" y="523.3" font-size="24.5" fill="#000" text-anchor="middle" >600</text>
<line x1="372.79" y1="490.00" x2="372.79" y2="494.50" stroke="#000" stroke-width="3" stroke-linecap="butt"/>
<line x1="404.44" y1="490.00" x2="404.44" y2="498.50" stroke="#000" stroke-width="3" stroke-linecap="butt"/>
<text x="404.4" y="523.3" font-size="24.5" fill="#000" text-anchor="middle" >800</text>
<line x1="436.10" y1="490.00" x2="436.10" y2="494.50" stroke="#000" stroke-width="3" stroke-linecap="butt"/>
<line x1="467.76" y1="490.00" x2="467.76" y2="498.50" stroke="#000" stroke-width="3" stroke-linecap="butt"/>
<text x="467.8" y="523.3" font-size="24.5" fill="#000" text-anchor="middle" >1000</text>
<line x1="499.41" y1="490.00" x2="499.41" y2="494.50" stroke="#000" stroke-width="3" stroke-linecap="butt"/>
<line x1="531.07" y1="490.00" x2="531.07" y2="498.50" stroke="#000" stroke-width="3" stroke-linecap="butt"/>
<text x="531.1" y="523.3" font-size="24.5" fill="#000" text-anchor="middle" >1200</text>
<line x1="562.72" y1="490.00" x2="562.72" y2="494.50" stroke="#000" stroke-width="3" stroke-linecap="butt"/>
<line x1="594.38" y1="490.00" x2="594.38" y2="498.50" stroke="#000" stroke-width="3" stroke-linecap="butt"/>
<text x="594.4" y="523.3" font-size="24.5" fill="#000" text-anchor="middle" >1400</text>
<line x1="626.03" y1="490.00" x2="626.03" y2="494.50" stroke="#000" stroke-width="3" stroke-linecap="butt"/>
<line x1="657.69" y1="490.00" x2="657.69" y2="498.50" stroke="#000" stroke-width="3" stroke-linecap="butt"/>
<text x="657.7" y="523.3" font-size="24.5" fill="#000" text-anchor="middle" >1600</text>
<line x1="689.34" y1="490.00" x2="689.34" y2="494.50" stroke="#000" stroke-width="3" stroke-linecap="butt"/>
<line x1="721.00" y1="490.00" x2="721.00" y2="498.50" stroke="#000" stroke-width="3" stroke-linecap="butt"/>
<text x="721.0" y="523.3" font-size="24.5" fill="#000" text-anchor="middle" >1800</text>
<line x1="145.70" y1="457.14" x2="151.20" y2="457.14" stroke="#ff0000" stroke-width="3" stroke-linecap="butt"/>
<line x1="141.70" y1="424.29" x2="151.20" y2="424.29" stroke="#ff0000" stroke-width="3" stroke-linecap="butt"/>
<text x="135.5" y="431.7" font-size="24.5" fill="#ff0000" text-anchor="end" >50</text>
<line x1="145.70" y1="391.43" x2="151.20" y2="391.43" stroke="#ff0000" stroke-width="3" stroke-linecap="butt"/>
<line x1="141.70" y1="358.57" x2="151.20" y2="358.57" stroke="#ff0000" stroke-width="3" stroke-linecap="butt"/>
<text x="135.5" y="366.0" font-size="24.5" fill="#ff0000" text-anchor="end" >100</text>
<line x1="145.70" y1="325.71" x2="151.20" y2="325.71" stroke="#ff0000" stroke-width="3" stroke-linecap="butt"/>
<line x1="141.70" y1="292.86" x2="151.20" y2="292.86" stroke="#ff0000" stroke-width="3" stroke-linecap="butt"/>
<text x="135.5" y="300.3" font-size="24.5" fill="#ff0000" text-anchor="end" >150</text>
<line x1="145.70" y1="260.00" x2="151.20" y2="260.00" stroke="#ff0000" stroke-width="3" stroke-linecap="butt"/>
<line x1="141.70" y1="227.14" x2="151.20" y2="227.14" stroke="#ff0000" stroke-width="3" stroke-linecap="butt"/>
<text x="135.5" y="234.5" font-size="24.5" fill="#ff0000" text-anchor="end" >200</text>
<line x1="145.70" y1="194.29" x2="151.20" y2="194.29" stroke="#ff0000" stroke-width="3" stroke-linecap="butt"/>
<line x1="141.70" y1="161.43" x2="151.20" y2="161.43" stroke="#ff0000" stroke-width="3" stroke-linecap="butt"/>
<text x="135.5" y="168.8" font-size="24.5" fill="#ff0000" text-anchor="end" >250</text>
<line x1="145.70" y1="128.57" x2="151.20" y2="128.57" stroke="#ff0000" stroke-width="3" stroke-linecap="butt"/>
<line x1="141.70" y1="95.71" x2="151.20" y2="95.71" stroke="#ff0000" stroke-width="3" stroke-linecap="butt"/>
<text x="135.5" y="103.1" font-size="24.5" fill="#ff0000" text-anchor="end" >300</text>
<line x1="145.70" y1="62.86" x2="151.20" y2="62.86" stroke="#ff0000" stroke-width="3" stroke-linecap="butt"/>
<line x1="141.70" y1="30.00" x2="151.20" y2="30.00" stroke="#ff0000" stroke-width="3" stroke-linecap="butt"/>
<text x="135.5" y="37.4" font-size="24.5" fill="#ff0000" text-anchor="end" >350</text>
<line x1="721.00" y1="446.19" x2="726.50" y2="446.19" stroke="#0000ff" stroke-width="3" stroke-linecap="butt"/>
<line x1="721.00" y1="402.38" x2="730.50" y2="402.38" stroke="#0000ff" stroke-width="3" stroke-linecap="butt"/>
<text x="737.5" y="409.8" font-size="24.5" fill="#0000ff" text-anchor="start" >20</text>
<line x1="721.00" y1="358.57" x2="726.50" y2="358.57" stroke="#0000ff" stroke-width="3" stroke-linecap="butt"/>
<line x1="721.00" y1="314.76" x2="730.50" y2="314.76" stroke="#0000ff" stroke-width="3" stroke-linecap="butt"/>
<text x="737.5" y="322.2" font-size="24.5" fill="#0000ff" text-anchor="start" >40</text>
<line x1="721.00" y1="270.95" x2="726.50" y2="270.95" stroke="#0000ff" stroke-width="3" stroke-linecap="butt"/>
<line x1="721.00" y1="227.14" x2="730.50" y2="227.14" stroke="#0000ff" stroke-width="3" stroke-linecap="butt"/>
<text x="737.5" y="234.5" font-size="24.5" fill="#0000ff" text-anchor="start" >60</text>
<line x1="721.00" y1="183.33" x2="726.50" y2="183.33" stroke="#0000ff" stroke-width="3" stroke-linecap="butt"/>
<line x1="721.00" y1="139.52" x2="730.50" y2="139.52" stroke="#0000ff" stroke-width="3" stroke-linecap="butt"/>
<text x="737.5" y="146.9" font-size="24.5" fill="#0000ff" text-anchor="start" >80</text>
<line x1="721.00" y1="95.71" x2="726.50" y2="95.71" stroke="#0000ff" stroke-width="3" stroke-linecap="butt"/>
<line x1="721.00" y1="51.90" x2="730.50" y2="51.90" stroke="#0000ff" stroke-width="3" stroke-linecap="butt"/>
<text x="737.5" y="59.3" font-size="24.5" fill="#0000ff" text-anchor="start" >100</text>
<text x="-1.5" y="42.5" font-size="59" fill="#000" text-anchor="start" >(a)</text>
<text x="435.0" y="559.3" font-size="32" fill="#000" text-anchor="middle" >Cycles</text>
<text transform="translate(87.0,259.3) rotate(-90)" x="0" y="0" font-size="32.5" fill="#ff0000" text-anchor="middle" >Capacity (mAh g<tspan font-size="31" dy="-9">-1</tspan><tspan dy="9">)</tspan></text>
<text transform="translate(799.0,242.9) rotate(-90)" x="0" y="0" font-size="32.2" fill="#0000ff" text-anchor="middle" >Coulombic Efficiency (%)</text>
<path d="M1019.7 198.4 L1020.1 196.9 L1020.4 195.4 L1020.8 194.0 L1021.2 192.5 L1021.5 191.0 L1021.9 189.5 L1022.3 188.0 L1022.6 186.6 L1023.0 185.1 L1023.4 183.6 L1023.7 182.1 L1024.1 180.6 L1024.5 179.2 L1024.8 177.7 L1025.2 176.2 L1025.6 174.7 L1025.9 173.2 L1026.3 171.8 L1026.7 170.3 L1027.1 168.8 L1027.5 167.3 L1027.9 165.9 L1028.3 164.4 L1028.7 162.9 L1029.1 161.4 L1029.5 160.0 L1029.9 158.5 L1030.3 157.0 L1030.6 155.6 L1031.0 154.1 L1031.4 152.6 L1031.8 151.1 L1032.2 149.7 L1032.6 148.2 L1032.9 146.7 L1033.2 145.2 L1033.5 143.7 L1033.8 142.2 L1034.1 140.7 L1034.4 139.2 L1034.6 137.7 L1034.9 136.2 L1035.2 134.7 L1035.6 133.2 L1036.0 131.8 L1036.6 130.4 L1037.2 129.0 L1037.8 127.6 L1038.4 126.2 L1039.1 124.8 L1039.9 123.6 L1041.0 122.7 L1042.3 122.1 L1043.7 121.6 L1045.2 121.2 L1046.6 121.0 L1048.2 120.9 L1049.7 120.9 L1051.2 120.9 L1052.7 120.8 L1054.3 120.8 L1055.8 120.8 L1057.3 120.8 L1058.8 120.8 L1060.4 120.8 L1061.9 120.8 L1063.4 120.8 L1064.9 120.8 L1066.5 120.8 L1068.0 120.8 L1069.5 120.8 L1071.0 120.8 L1072.6 120.8 L1074.1 120.8 L1075.6 120.8 L1077.1 120.8 L1078.7 120.8 L1080.2 120.8 L1081.7 120.8 L1083.2 120.8 L1084.8 120.8 L1086.3 120.8 L1087.8 120.8 L1089.3 120.8 L1090.9 120.8 L1092.4 120.8 L1093.9 120.8 L1095.4 120.8 L1097.0 120.8 L1098.5 120.8 L1100.0 120.8" fill="none" stroke="#3a3a3a" stroke-width="3" stroke-linejoin="round" stroke-linecap="round"/>
<line x1="1045.80" y1="120.85" x2="1100.00" y2="120.85" stroke="#3a3a3a" stroke-width="4" stroke-linecap="round"/>
<path d="M1024.5 150.0 L1024.6 151.5 L1024.7 153.0 L1024.8 154.5 L1024.9 156.0 L1025.0 157.5 L1025.1 159.0 L1025.2 160.5 L1025.3 162.0 L1025.4 163.5 L1025.6 165.0 L1025.7 166.5 L1025.9 168.0 L1026.0 169.5 L1026.2 171.0 L1026.4 172.5 L1026.6 174.0 L1026.8 175.5 L1027.1 177.0 L1027.4 178.5 L1027.7 179.9 L1028.2 181.3 L1028.7 182.8 L1029.2 184.2 L1029.8 185.5 L1030.4 186.9 L1031.0 188.3 L1031.6 189.7 L1032.2 191.0 L1032.9 192.4 L1033.7 193.7 L1034.4 195.0 L1035.1 196.3 L1035.9 197.6 L1036.6 198.9 L1037.3 200.3 L1038.0 201.6 L1038.7 203.0 L1039.3 204.3 L1039.9 205.7 L1040.5 207.1 L1041.1 208.5 L1041.6 209.9 L1042.2 211.3 L1042.8 212.7 L1043.4 214.1 L1044.0 215.5 L1044.5 216.8 L1045.1 218.2 L1045.7 219.6 L1046.3 221.0 L1046.8 222.4 L1047.3 223.8 L1047.8 225.3 L1048.3 226.7 L1048.8 228.1 L1049.2 229.6 L1049.7 231.0 L1050.1 232.5 L1050.5 233.9 L1051.0 235.3 L1051.4 236.8 L1051.9 238.2 L1052.3 239.7 L1052.7 241.1 L1053.2 242.6 L1053.6 244.0 L1054.0 245.4 L1054.5 246.9 L1054.9 248.3 L1055.4 249.8 L1055.8 251.2 L1056.3 252.6 L1056.7 254.1 L1057.2 255.5 L1057.7 256.9 L1058.2 258.4 L1058.7 259.8 L1059.3 261.2 L1059.8 262.6 L1060.3 264.0 L1060.9 265.4 L1061.4 266.8 L1062.0 268.2 L1062.5 269.6 L1063.0 271.0 L1063.6 272.4 L1064.1 273.9 L1064.7 275.3 L1065.3 276.6 L1065.8 278.0 L1066.5 279.4 L1067.1 280.8 L1067.7 282.1 L1068.4 283.5 L1069.1 284.9 L1069.7 286.2 L1070.4 287.6 L1071.0 288.9 L1071.7 290.3 L1072.4 291.6 L1073.0 293.0 L1073.7 294.3 L1074.3 295.7 L1075.0 297.1 L1075.6 298.4 L1076.3 299.8 L1076.9 301.2 L1077.5 302.5 L1078.1 303.9 L1078.8 305.3 L1079.4 306.7 L1080.0 308.0 L1080.6 309.4 L1081.2 310.8 L1081.8 312.2 L1082.4 313.6 L1083.0 315.0 L1083.6 316.3 L1084.2 317.7 L1084.8 319.1 L1085.5 320.5 L1086.1 321.8 L1086.8 323.2 L1087.5 324.5 L1088.2 325.8 L1089.0 327.1 L1089.8 328.3 L1090.6 329.6 L1091.5 330.9 L1092.3 332.1 L1093.2 333.4 L1094.0 334.6 L1094.8 335.9 L1095.7 337.1 L1096.5 338.4 L1097.4 339.6 L1098.2 340.8 L1099.1 342.1 L1100.1 343.2 L1101.0 344.4 L1102.0 345.5 L1103.0 346.7 L1104.0 347.8 L1105.0 348.9 L1106.1 350.0 L1107.1 351.1 L1108.1 352.2 L1109.1 353.3 L1110.1 354.5 L1111.1 355.6 L1112.2 356.7 L1113.1 357.8 L1114.1 359.0 L1115.1 360.1 L1115.9 361.4 L1116.8 362.6 L1117.6 363.9 L1118.3 365.2 L1119.1 366.5 L1119.8 367.8 L1120.5 369.1 L1121.3 370.4 L1122.0 371.8 L1122.7 373.1 L1123.4 374.4 L1124.1 375.8 L1124.7 377.1 L1125.2 378.5 L1125.8 379.9 L1126.2 381.3 L1126.7 382.8 L1127.1 384.2 L1127.5 385.7 L1128.0 387.1 L1128.4 388.6 L1128.8 390.0 L1129.2 391.5 L1129.6 392.9 L1130.0 394.4 L1130.4 395.8 L1130.8 397.3 L1131.2 398.7 L1131.6 400.2 L1132.0 401.7 L1132.3 403.1 L1132.7 404.6 L1133.0 406.1 L1133.4 407.5 L1133.7 409.0 L1134.1 410.5 L1134.4 411.9 L1134.7 413.4 L1135.1 414.9 L1135.4 416.3 L1135.8 417.8 L1136.1 419.3 L1136.5 420.7 L1136.8 422.2 L1137.1 423.7 L1137.5 425.2 L1137.8 426.6 L1138.1 428.1 L1138.4 429.6 L1138.7 431.1 L1139.0 432.5 L1139.3 434.0 L1139.7 435.5 L1140.0 437.0 L1140.3 438.4 L1140.6 439.9 L1140.9 441.4 L1141.2 442.9 L1141.5 444.3 L1141.8 445.8 L1142.1 447.3" fill="none" stroke="#3a3a3a" stroke-width="3" stroke-linejoin="round" stroke-linecap="round"/>
<path d="M1020.5 361.0 L1020.5 359.5 L1020.6 358.0 L1020.6 356.5 L1020.7 355.0 L1020.7 353.5 L1020.8 352.0 L1020.8 350.5 L1020.9 349.0 L1020.9 347.5 L1021.0 345.9 L1021.0 344.4 L1021.1 342.9 L1021.1 341.4 L1021.2 339.9 L1021.2 338.4 L1021.3 336.9 L1021.3 335.4 L1021.4 333.9 L1021.4 332.4 L1021.5 330.9 L1021.5 329.4 L1021.6 327.9 L1021.6 326.4 L1021.7 324.9 L1021.7 323.4 L1021.7 321.9 L1021.8 320.4 L1021.8 318.9 L1021.9 317.4 L1021.9 315.8 L1022.0 314.3 L1022.0 312.8 L1022.1 311.3 L1022.1 309.8 L1022.2 308.3 L1022.2 306.8 L1022.2 305.3 L1022.3 303.8 L1022.3 302.3 L1022.4 300.8 L1022.4 299.3 L1022.5 297.8 L1022.5 296.3 L1022.6 294.8 L1022.6 293.3 L1022.6 291.8 L1022.7 290.3 L1022.7 288.8 L1022.8 287.3 L1022.8 285.7 L1022.9 284.2 L1022.9 282.7 L1023.0 281.2 L1023.0 279.7 L1023.0 278.2 L1023.1 276.7 L1023.1 275.2 L1023.1 273.7 L1023.1 272.2 L1023.2 270.7 L1023.2 269.2 L1023.2 267.7 L1023.2 266.2 L1023.3 264.7 L1023.3 263.2 L1023.3 261.7 L1023.3 260.2 L1023.4 258.6 L1023.4 257.1 L1023.4 255.6 L1023.4 254.1 L1023.5 252.6 L1023.5 251.1 L1023.5 249.6 L1023.5 248.1 L1023.6 246.6 L1023.6 245.1 L1023.6 243.6 L1023.6 242.1 L1023.7 240.6 L1023.7 239.1 L1023.7 237.6 L1023.7 236.1 L1023.8 234.6 L1023.8 233.1 L1023.8 231.5 L1023.8 230.0 L1023.9 228.5 L1023.9 227.0 L1023.9 225.5 L1023.9 224.0 L1024.0 222.5 L1024.0 221.0 L1024.0 219.5 L1024.0 218.0 L1024.0 216.5 L1024.1 215.0 L1024.1 213.5 L1024.1 212.0 L1024.1 210.5 L1024.1 209.0 L1024.1 207.5 L1024.1 206.0 L1024.2 204.4 L1024.2 202.9 L1024.2 201.4 L1024.2 199.9 L1024.2 198.4 L1024.2 196.9 L1024.2 195.4 L1024.3 193.9 L1024.3 192.4 L1024.3 190.9 L1024.3 189.4 L1024.3 187.9 L1024.3 186.4 L1024.4 184.9 L1024.4 183.4 L1024.4 181.9 L1024.4 180.4 L1024.4 178.8 L1024.4 177.3 L1024.4 175.8 L1024.5 174.3 L1024.5 172.8 L1024.5 171.3 L1024.6 169.8 L1024.6 168.3 L1024.8 166.8 L1024.9 165.3 L1025.0 163.8 L1025.1 162.3 L1025.3 160.8 L1025.4 159.3 L1025.5 157.8 L1025.6 156.3 L1025.8 154.8 L1026.0 153.4 L1026.6 152.3 L1027.7 151.6 L1029.1 151.1 L1030.5 150.6 L1032.0 150.2 L1033.4 149.8 L1034.9 149.4 L1036.3 149.1 L1037.8 148.7 L1039.2 148.3 L1040.7 147.9 L1042.1 147.5 L1043.6 147.0 L1045.0 146.4 L1046.3 145.9 L1047.7 145.3 L1049.1 144.7 L1050.5 144.1 L1051.9 143.5 L1053.2 142.8 L1054.5 142.0 L1055.7 141.1 L1056.9 140.3 L1058.2 139.4 L1059.4 138.6 L1060.6 137.6 L1061.6 136.6 L1062.6 135.5 L1063.6 134.3 L1064.5 133.1 L1065.5 131.9 L1066.4 130.8 L1067.4 129.6 L1068.4 128.5 L1069.4 127.4 L1070.5 126.3 L1071.5 125.3 L1072.6 124.2 L1073.7 123.3 L1075.0 122.4 L1076.3 121.7 L1077.7 121.2 L1079.1 120.9 L1080.6 120.9 L1082.1 120.9 L1083.6 120.9 L1085.1 120.8 L1086.6 120.8 L1088.1 120.8 L1089.6 120.8 L1091.1 120.8 L1092.6 120.8 L1094.2 120.8 L1095.7 120.8 L1097.2 120.8 L1098.7 120.8 L1100.2 120.8 L1101.7 120.8 L1103.2 120.8 L1104.7 120.8 L1106.2 120.8 L1107.7 120.8 L1109.2 120.8 L1110.7 120.8 L1112.2 120.8 L1113.7 120.8 L1115.2 120.8 L1116.7 120.8 L1118.2 120.8 L1119.8 120.8 L1121.3 120.8 L1122.8 120.8 L1124.3 120.8 L1125.8 120.8 L1127.3 120.8 L1128.8 120.8 L1130.3 120.8 L1131.8 120.8 L1133.3 120.8 L1134.8 120.8 L1136.3 120.8 L1137.8 120.8 L1139.3 120.8 L1140.8 120.8 L1142.3 120.8 L1143.8 120.8 L1145.4 120.8 L1146.9 120.8 L1148.4 120.8 L1149.9 120.8 L1151.4 120.8 L1152.9 120.8 L1154.4 120.8 L1155.9 120.8 L1157.4 120.8 L1158.9 120.8 L1160.4 120.8 L1161.9 120.8 L1163.4 120.8 L1164.9 120.8 L1166.4 120.8 L1167.9 120.8 L1169.4 120.8 L1170.9 120.8 L1172.5 120.8 L1174.0 120.8 L1175.5 120.8 L1177.0 120.8 L1178.5 120.8 L1180.0 120.8 L1181.5 120.8 L1183.0 120.8 L1184.5 120.8 L1186.0 120.8 L1187.5 120.8 L1189.0 120.8 L1190.5 120.8 L1192.0 120.8 L1193.5 120.8 L1195.0 120.8 L1196.5 120.8 L1198.1 120.8 L1199.6 120.8 L1201.1 120.8 L1202.6 120.8 L1204.1 120.8 L1205.6 120.8 L1207.1 120.8 L1208.6 120.8 L1210.1 120.8 L1211.6 120.8 L1213.1 120.8 L1214.6 120.8 L1216.1 120.8 L1217.6 120.8 L1219.1 120.8 L1220.6 120.8 L1222.1 120.8 L1223.7 120.8 L1225.2 120.8 L1226.7 120.8 L1228.2 120.8 L1229.7 120.8 L1231.2 120.8 L1232.7 120.8 L1234.2 120.8 L1235.7 120.8 L1237.2 120.8 L1238.7 120.8 L1240.2 120.8 L1241.7 120.8 L1243.2 120.8 L1244.7 120.8 L1246.2 120.8 L1247.7 120.8 L1249.3 120.8 L1250.8 120.8 L1252.3 120.8 L1253.8 120.8 L1255.3 120.8 L1256.8 120.8 L1258.3 120.8 L1259.8 120.8 L1261.3 120.8 L1262.8 120.8 L1264.3 120.8 L1265.8 120.8 L1267.3 120.8 L1268.8 120.8 L1270.3 120.8 L1271.8 120.8 L1273.3 120.8 L1274.8 120.8 L1276.4 120.8 L1277.9 120.8 L1279.4 120.8 L1280.9 120.8 L1282.4 120.8 L1283.9 120.8 L1285.4 120.8 L1286.9 120.8 L1288.4 120.8 L1289.9 120.8 L1291.4 120.8 L1292.9 120.8 L1294.4 120.8 L1295.9 120.8 L1297.4 120.8 L1298.9 120.8 L1300.4 120.8 L1302.0 120.8 L1303.5 120.8 L1305.0 120.8 L1306.5 120.8 L1308.0 120.8 L1309.5 120.8 L1311.0 120.8 L1312.5 120.8 L1314.0 120.8" fill="none" stroke="#ff2a2a" stroke-width="3" stroke-linejoin="round" stroke-linecap="round"/>
<line x1="1078.00" y1="120.85" x2="1314.00" y2="120.85" stroke="#ff2a2a" stroke-width="4" stroke-linecap="round"/>
<path d="M1019.9 138.2 L1020.3 139.7 L1020.7 141.1 L1021.1 142.6 L1021.5 144.0 L1021.9 145.5 L1022.3 146.9 L1022.7 148.4 L1023.1 149.8 L1023.6 151.2 L1024.0 152.7 L1024.4 154.1 L1024.9 155.6 L1025.3 157.0 L1025.8 158.4 L1026.2 159.9 L1026.7 161.3 L1027.2 162.7 L1027.7 164.1 L1028.3 165.6 L1028.8 167.0 L1029.4 168.4 L1029.9 169.8 L1030.5 171.1 L1031.1 172.5 L1031.7 173.9 L1032.3 175.3 L1033.0 176.6 L1033.6 178.0 L1034.3 179.3 L1035.0 180.6 L1035.8 182.0 L1036.5 183.3 L1037.3 184.6 L1038.1 185.8 L1038.9 187.0 L1039.8 188.3 L1040.8 189.4 L1041.7 190.6 L1042.7 191.8 L1043.6 192.9 L1044.6 194.1 L1045.5 195.2 L1046.5 196.4 L1047.5 197.5 L1048.5 198.7 L1049.4 199.8 L1050.4 201.0 L1051.5 202.1 L1052.5 203.1 L1053.6 204.2 L1054.6 205.2 L1055.7 206.3 L1056.9 207.3 L1058.0 208.3 L1059.1 209.3 L1060.2 210.3 L1061.3 211.4 L1062.4 212.4 L1063.5 213.4 L1064.7 214.4 L1065.8 215.4 L1066.9 216.3 L1068.1 217.2 L1069.3 218.1 L1070.6 219.0 L1071.9 219.8 L1073.1 220.6 L1074.4 221.4 L1075.7 222.2 L1077.0 222.9 L1078.3 223.7 L1079.6 224.5 L1080.8 225.3 L1082.1 226.1 L1083.4 226.9 L1084.7 227.6 L1086.0 228.4 L1087.3 229.2 L1088.6 230.0 L1089.8 230.8 L1091.1 231.5 L1092.4 232.3 L1093.8 233.0 L1095.1 233.6 L1096.5 234.2 L1097.9 234.7 L1099.3 235.2 L1100.8 235.6 L1102.2 236.1 L1103.6 236.5 L1105.1 236.9 L1106.5 237.4 L1108.0 237.8 L1109.4 238.2 L1110.9 238.6 L1112.3 239.1 L1113.7 239.5 L1115.2 239.9 L1116.6 240.3 L1118.1 240.8 L1119.5 241.2 L1121.0 241.6 L1122.4 242.0 L1123.9 242.4 L1125.3 242.8 L1126.8 243.2 L1128.3 243.5 L1129.7 243.9 L1131.2 244.3 L1132.6 244.7 L1134.1 245.0 L1135.5 245.4 L1137.0 245.8 L1138.5 246.2 L1139.9 246.5 L1141.4 246.9 L1142.8 247.3 L1144.3 247.7 L1145.8 248.1 L1147.2 248.5 L1148.6 248.9 L1150.1 249.3 L1151.5 249.8 L1152.9 250.3 L1154.4 250.8 L1155.8 251.3 L1157.2 251.8 L1158.6 252.3 L1160.0 252.9 L1161.4 253.4 L1162.8 253.9 L1164.3 254.4 L1165.7 254.9 L1167.1 255.5 L1168.5 256.0 L1169.8 256.6 L1171.2 257.2 L1172.4 257.9 L1173.6 258.8 L1174.7 259.7 L1175.7 260.7 L1176.8 261.7 L1177.9 262.6 L1179.0 263.5 L1180.3 264.4 L1181.5 265.2 L1182.8 266.0 L1184.1 266.7 L1185.4 267.5 L1186.7 268.2 L1188.0 268.8 L1189.4 269.4 L1190.8 269.9 L1192.2 270.2 L1193.6 270.5 L1195.1 270.6 L1196.6 270.8 L1198.1 270.9 L1199.6 271.0 L1201.1 271.1 L1202.6 271.1 L1204.1 271.2 L1205.6 271.3 L1207.1 271.4 L1208.6 271.5 L1210.1 271.6 L1211.6 271.7 L1213.1 271.8 L1214.6 272.0 L1216.0 272.3 L1217.5 272.7 L1218.9 273.2 L1220.2 273.8 L1221.6 274.4 L1222.9 275.1 L1224.2 275.8 L1225.5 276.5 L1226.8 277.3 L1228.2 278.0 L1229.5 278.7 L1230.8 279.4 L1232.1 280.2 L1233.4 280.9 L1234.7 281.7 L1236.0 282.5 L1237.3 283.3 L1238.5 284.1 L1239.8 285.0 L1241.0 285.8 L1242.2 286.7 L1243.5 287.5 L1244.7 288.4 L1245.9 289.3 L1247.2 290.1 L1248.4 291.0 L1249.6 291.9 L1250.8 292.8 L1252.0 293.7 L1253.2 294.6 L1254.3 295.6 L1255.3 296.7 L1256.3 297.8 L1257.2 299.0 L1258.1 300.2 L1259.0 301.4 L1259.9 302.6 L1260.7 303.9 L1261.6 305.1 L1262.4 306.3 L1263.3 307.6 L1264.0 308.9 L1264.8 310.2 L1265.5 311.5 L1266.2 312.8 L1266.9 314.2 L1267.6 315.5 L1268.3 316.9 L1268.9 318.2 L1269.6 319.6 L1270.3 320.9 L1271.0 322.3 L1271.6 323.6 L1272.3 325.0 L1272.9 326.3 L1273.5 327.7 L1274.1 329.1 L1274.6 330.5 L1275.2 331.9 L1275.7 333.3 L1276.3 334.7 L1276.8 336.1 L1277.3 337.5 L1277.8 338.9 L1278.4 340.4 L1278.9 341.8 L1279.4 343.2 L1279.9 344.6 L1280.5 346.0 L1281.0 347.4 L1281.5 348.8 L1282.1 350.2 L1282.6 351.6 L1283.1 353.0 L1283.6 354.5 L1284.2 355.9 L1284.7 357.3 L1285.2 358.7 L1285.7 360.1 L1286.3 361.5 L1286.8 362.9 L1287.3 364.4 L1287.8 365.8 L1288.3 367.2 L1288.8 368.6 L1289.4 370.0 L1289.9 371.4 L1290.4 372.8 L1290.9 374.3 L1291.4 375.7 L1292.0 377.1 L1292.5 378.5 L1293.0 379.9 L1293.5 381.3 L1294.0 382.7 L1294.5 384.2 L1295.1 385.6 L1295.6 387.0 L1296.1 388.4 L1296.6 389.8 L1297.1 391.2 L1297.6 392.6 L1298.1 394.1 L1298.6 395.5 L1299.1 396.9 L1299.6 398.3 L1300.1 399.8 L1300.6 401.2 L1301.1 402.6 L1301.6 404.0 L1302.1 405.4 L1302.6 406.9 L1303.1 408.3 L1303.6 409.7 L1304.1 411.1 L1304.6 412.6 L1305.1 414.0 L1305.6 415.4 L1306.1 416.8 L1306.6 418.2 L1307.1 419.7 L1307.6 421.1 L1308.1 422.5 L1308.6 423.9 L1309.0 425.4 L1309.5 426.8 L1310.0 428.2 L1310.5 429.6 L1311.0 431.0 L1311.5 432.5 L1312.0 433.9 L1312.5 435.3 L1313.0 436.7 L1313.5 438.2 L1314.0 439.6 L1314.5 441.0" fill="none" stroke="#ff2a2a" stroke-width="3" stroke-linejoin="round" stroke-linecap="round"/>
<path d="M1021.0 358.0 L1021.1 356.5 L1021.1 355.0 L1021.2 353.5 L1021.2 352.0 L1021.3 350.5 L1021.3 349.0 L1021.4 347.5 L1021.4 346.0 L1021.5 344.5 L1021.5 343.0 L1021.6 341.5 L1021.6 340.0 L1021.7 338.5 L1021.8 337.0 L1021.8 335.4 L1021.9 333.9 L1021.9 332.4 L1022.0 330.9 L1022.0 329.4 L1022.1 327.9 L1022.1 326.4 L1022.2 324.9 L1022.2 323.4 L1022.2 321.9 L1022.3 320.4 L1022.3 318.9 L1022.4 317.4 L1022.4 315.9 L1022.5 314.4 L1022.5 312.9 L1022.6 311.4 L1022.6 309.9 L1022.6 308.4 L1022.7 306.9 L1022.7 305.4 L1022.8 303.9 L1022.8 302.4 L1022.9 300.9 L1022.9 299.4 L1023.0 297.9 L1023.0 296.4 L1023.1 294.9 L1023.1 293.3 L1023.1 291.8 L1023.2 290.3 L1023.2 288.8 L1023.3 287.3 L1023.3 285.8 L1023.4 284.3 L1023.4 282.8 L1023.5 281.3 L1023.5 279.8 L1023.5 278.3 L1023.5 276.8 L1023.6 275.3 L1023.6 273.8 L1023.6 272.3 L1023.6 270.8 L1023.6 269.3 L1023.7 267.8 L1023.7 266.3 L1023.7 264.8 L1023.7 263.3 L1023.7 261.8 L1023.7 260.3 L1023.8 258.8 L1023.8 257.3 L1023.8 255.7 L1023.8 254.2 L1023.8 252.7 L1023.9 251.2 L1023.9 249.7 L1023.9 248.2 L1023.9 246.7 L1023.9 245.2 L1024.0 243.7 L1024.0 242.2 L1024.0 240.7 L1024.0 239.2 L1024.0 237.7 L1024.0 236.2 L1024.1 234.7 L1024.1 233.2 L1024.1 231.7 L1024.1 230.2 L1024.1 228.7 L1024.2 227.2 L1024.2 225.7 L1024.2 224.2 L1024.2 222.7 L1024.2 221.2 L1024.3 219.6 L1024.3 218.1 L1024.3 216.6 L1024.3 215.1 L1024.3 213.6 L1024.3 212.1 L1024.4 210.6 L1024.4 209.1 L1024.4 207.6 L1024.4 206.1 L1024.4 204.6 L1024.5 203.1 L1024.5 201.6 L1024.5 200.1 L1024.5 198.6 L1024.6 197.1 L1024.6 195.6 L1024.7 194.1 L1024.7 192.6 L1024.8 191.1 L1024.8 189.6 L1024.9 188.1 L1024.9 186.6 L1024.9 185.1 L1025.0 183.6 L1025.0 182.0 L1025.1 180.5 L1025.1 179.0 L1025.2 177.5 L1025.2 176.0 L1025.3 174.5 L1025.3 173.0 L1025.4 171.5 L1025.4 170.0 L1025.4 168.5 L1025.5 167.0 L1025.5 165.5 L1025.6 164.0 L1025.6 162.5 L1025.7 161.0 L1025.7 159.5 L1025.8 158.0 L1025.8 156.5 L1025.9 155.0 L1025.9 153.5 L1026.0 152.0 L1026.2 150.6 L1026.8 149.2 L1027.6 148.0 L1028.5 146.8 L1029.4 145.6 L1030.3 144.4 L1031.2 143.2 L1032.1 142.0 L1033.2 141.0 L1034.4 140.3 L1035.8 139.7 L1037.2 139.2 L1038.6 138.7 L1040.1 138.2 L1041.5 137.7 L1042.8 137.1 L1044.1 136.4 L1045.4 135.6 L1046.7 134.8 L1048.0 134.1 L1049.3 133.3 L1050.6 132.6 L1051.9 131.7 L1053.1 130.9 L1054.3 129.9 L1055.4 129.0 L1056.6 128.0 L1057.7 127.0 L1058.9 126.0 L1060.1 125.2 L1061.4 124.4 L1062.7 123.7 L1064.0 122.9 L1065.3 122.3 L1066.7 121.8 L1068.2 121.4 L1069.6 121.1 L1071.1 120.9 L1072.6 120.9 L1074.1 120.9 L1075.6 120.9 L1077.1 120.8 L1078.6 120.8 L1080.1 120.8 L1081.6 120.8 L1083.2 120.8 L1084.7 120.8 L1086.2 120.8 L1087.7 120.8 L1089.2 120.8 L1090.7 120.8 L1092.2 120.8 L1093.7 120.8 L1095.2 120.8 L1096.7 120.8 L1098.2 120.8 L1099.7 120.8 L1101.2 120.8 L1102.7 120.8 L1104.2 120.8 L1105.7 120.8 L1107.2 120.8 L1108.7 120.8 L1110.2 120.8 L1111.7 120.8 L1113.2 120.8 L1114.7 120.8 L1116.2 120.8 L1117.8 120.8 L1119.3 120.8 L1120.8 120.8 L1122.3 120.8 L1123.8 120.8 L1125.3 120.8 L1126.8 120.8 L1128.3 120.8 L1129.8 120.8 L1131.3 120.8 L1132.8 120.8 L1134.3 120.8 L1135.8 120.8 L1137.3 120.8 L1138.8 120.8 L1140.3 120.8 L1141.8 120.8 L1143.3 120.8 L1144.8 120.8 L1146.3 120.8 L1147.8 120.8 L1149.3 120.8 L1150.8 120.8 L1152.4 120.8 L1153.9 120.8 L1155.4 120.8 L1156.9 120.8 L1158.4 120.8 L1159.9 120.8 L1161.4 120.8 L1162.9 120.8 L1164.4 120.8 L1165.9 120.8 L1167.4 120.8 L1168.9 120.8 L1170.4 120.8 L1171.9 120.8 L1173.4 120.8 L1174.9 120.8 L1176.4 120.8 L1177.9 120.8 L1179.4 120.8 L1180.9 120.8 L1182.4 120.8 L1183.9 120.8 L1185.4 120.8 L1187.0 120.8 L1188.5 120.8 L1190.0 120.8 L1191.5 120.8 L1193.0 120.8 L1194.5 120.8 L1196.0 120.8 L1197.5 120.8 L1199.0 120.8 L1200.5 120.8 L1202.0 120.8 L1203.5 120.8 L1205.0 120.8 L1206.5 120.8 L1208.0 120.8 L1209.5 120.8 L1211.0 120.8 L1212.5 120.8 L1214.0 120.8 L1215.5 120.8 L1217.0 120.8 L1218.5 120.8 L1220.0 120.8 L1221.6 120.8 L1223.1 120.8 L1224.6 120.8 L1226.1 120.8 L1227.6 120.8 L1229.1 120.8 L1230.6 120.8 L1232.1 120.8 L1233.6 120.8 L1235.1 120.8 L1236.6 120.8 L1238.1 120.8 L1239.6 120.8 L1241.1 120.8 L1242.6 120.8 L1244.1 120.8 L1245.6 120.8 L1247.1 120.8 L1248.6 120.8 L1250.1 120.8 L1251.6 120.8 L1253.1 120.8 L1254.6 120.8 L1256.2 120.8 L1257.7 120.8 L1259.2 120.8 L1260.7 120.8 L1262.2 120.8 L1263.7 120.8 L1265.2 120.8 L1266.7 120.8 L1268.2 120.8 L1269.7 120.8 L1271.2 120.8 L1272.7 120.8 L1274.2 120.8 L1275.7 120.8 L1277.2 120.8 L1278.7 120.8 L1280.2 120.8 L1281.7 120.8 L1283.2 120.8 L1284.7 120.8 L1286.2 120.8 L1287.7 120.8 L1289.2 120.8 L1290.7 120.8 L1292.3 120.8 L1293.8 120.8 L1295.3 120.8 L1296.8 120.8 L1298.3 120.8 L1299.8 120.8 L1301.3 120.8 L1302.8 120.8 L1304.3 120.8 L1305.8 120.8 L1307.3 120.8 L1308.8 120.8 L1310.3 120.8 L1311.8 120.8 L1313.3 120.8 L1314.8 120.8 L1316.3 120.8 L1317.8 120.8 L1319.3 120.8 L1320.8 120.8 L1322.3 120.8 L1323.8 120.8 L1325.3 120.8 L1326.9 120.8 L1328.4 120.8 L1329.9 120.8 L1331.4 120.8 L1332.9 120.8 L1334.4 120.8 L1335.9 120.8 L1337.4 120.8 L1338.9 120.8 L1340.4 120.8 L1341.9 120.8 L1343.4 120.8 L1344.9 120.8 L1346.4 120.8 L1347.9 120.8 L1349.4 120.8 L1350.9 120.8 L1352.4 120.8 L1353.9 120.8 L1355.4 120.8 L1356.9 120.8 L1358.4 120.8 L1359.9 120.8 L1361.5 120.8 L1363.0 120.8 L1364.5 120.8 L1366.0 120.8 L1367.5 120.8 L1369.0 120.8 L1370.5 120.8 L1372.0 120.8 L1373.5 120.8 L1375.0 120.8 L1376.5 120.8 L1378.0 120.8" fill="none" stroke="#0d5ce6" stroke-width="3" stroke-linejoin="round" stroke-linecap="round"/>
<line x1="1070.00" y1="120.85" x2="1378.00" y2="120.85" stroke="#0d5ce6" stroke-width="4" stroke-linecap="round"/>
<path d="M1020.0 139.0 L1020.5 140.4 L1021.0 141.9 L1021.4 143.3 L1021.9 144.7 L1022.4 146.2 L1022.8 147.6 L1023.3 149.0 L1023.7 150.5 L1024.2 151.9 L1024.6 153.4 L1025.0 154.8 L1025.5 156.2 L1025.9 157.7 L1026.4 159.1 L1026.9 160.5 L1027.4 161.9 L1027.9 163.4 L1028.5 164.7 L1029.1 166.1 L1029.7 167.5 L1030.3 168.9 L1030.9 170.3 L1031.5 171.6 L1032.1 173.0 L1032.7 174.4 L1033.3 175.8 L1034.0 177.1 L1034.6 178.5 L1035.2 179.9 L1035.8 181.3 L1036.5 182.6 L1037.2 184.0 L1037.9 185.3 L1038.7 186.5 L1039.5 187.8 L1040.4 189.0 L1041.3 190.1 L1042.3 191.3 L1043.2 192.5 L1044.2 193.6 L1045.2 194.8 L1046.1 195.9 L1047.1 197.1 L1048.1 198.3 L1049.1 199.4 L1050.0 200.5 L1051.1 201.6 L1052.1 202.7 L1053.2 203.8 L1054.2 204.9 L1055.3 205.9 L1056.4 206.9 L1057.5 207.9 L1058.7 208.9 L1059.8 210.0 L1060.9 211.0 L1062.0 212.0 L1063.1 213.0 L1064.2 214.0 L1065.4 215.0 L1066.5 215.9 L1067.7 216.9 L1068.9 217.7 L1070.2 218.5 L1071.5 219.3 L1072.8 220.1 L1074.1 220.8 L1075.4 221.5 L1076.7 222.3 L1078.0 223.0 L1079.4 223.7 L1080.7 224.5 L1082.0 225.2 L1083.3 225.9 L1084.6 226.6 L1086.0 227.4 L1087.3 228.1 L1088.6 228.8 L1089.9 229.5 L1091.3 230.2 L1092.6 230.9 L1094.0 231.6 L1095.3 232.2 L1096.7 232.7 L1098.1 233.2 L1099.6 233.7 L1101.0 234.1 L1102.4 234.6 L1103.9 235.0 L1105.3 235.4 L1106.8 235.9 L1108.2 236.3 L1109.7 236.7 L1111.1 237.2 L1112.5 237.6 L1114.0 238.0 L1115.4 238.5 L1116.9 238.9 L1118.3 239.3 L1119.8 239.7 L1121.2 240.1 L1122.7 240.5 L1124.1 240.9 L1125.6 241.3 L1127.1 241.7 L1128.5 242.1 L1130.0 242.4 L1131.4 242.8 L1132.9 243.1 L1134.4 243.5 L1135.8 243.9 L1137.3 244.2 L1138.7 244.6 L1140.2 245.0 L1141.7 245.3 L1143.1 245.7 L1144.6 246.1 L1146.1 246.5 L1147.5 246.8 L1149.0 247.2 L1150.4 247.6 L1151.9 248.0 L1153.3 248.5 L1154.8 248.9 L1156.2 249.3 L1157.6 249.8 L1159.1 250.2 L1160.5 250.6 L1162.0 251.1 L1163.4 251.5 L1164.9 251.9 L1166.3 252.4 L1167.7 252.8 L1169.2 253.3 L1170.6 253.7 L1172.1 254.1 L1173.5 254.6 L1175.0 255.0 L1176.4 255.4 L1177.8 255.9 L1179.3 256.3 L1180.7 256.7 L1182.2 257.1 L1183.6 257.5 L1185.1 258.0 L1186.5 258.4 L1188.0 258.8 L1189.4 259.2 L1190.9 259.6 L1192.3 260.1 L1193.8 260.5 L1195.2 260.9 L1196.7 261.3 L1198.1 261.8 L1199.5 262.2 L1201.0 262.7 L1202.4 263.2 L1203.8 263.7 L1205.2 264.2 L1206.6 264.7 L1208.1 265.2 L1209.5 265.7 L1210.9 266.3 L1212.3 266.8 L1213.7 267.3 L1215.1 267.8 L1216.6 268.3 L1218.0 268.8 L1219.4 269.3 L1220.8 269.9 L1222.2 270.4 L1223.7 270.8 L1225.1 271.3 L1226.5 271.7 L1228.0 272.1 L1229.5 272.4 L1230.9 272.7 L1232.4 272.9 L1233.9 273.2 L1235.4 273.5 L1236.9 273.7 L1238.4 274.0 L1239.8 274.2 L1241.3 274.5 L1242.8 274.7 L1244.3 275.0 L1245.8 275.2 L1247.3 275.5 L1248.8 275.7 L1250.2 276.0 L1251.7 276.3 L1253.2 276.6 L1254.7 276.9 L1256.1 277.3 L1257.6 277.7 L1259.0 278.2 L1260.4 278.6 L1261.9 279.1 L1263.3 279.6 L1264.7 280.0 L1266.2 280.5 L1267.6 281.0 L1269.0 281.5 L1270.4 281.9 L1271.9 282.4 L1273.3 282.9 L1274.7 283.4 L1276.2 283.8 L1277.6 284.3 L1279.0 284.8 L1280.4 285.3 L1281.8 285.9 L1283.2 286.5 L1284.6 287.1 L1285.9 287.8 L1287.3 288.5 L1288.6 289.2 L1289.9 289.9 L1291.2 290.6 L1292.6 291.3 L1293.9 292.0 L1295.2 292.7 L1296.6 293.4 L1297.9 294.1 L1299.2 294.8 L1300.5 295.6 L1301.9 296.3 L1303.2 297.0 L1304.5 297.7 L1305.8 298.4 L1307.2 299.2 L1308.4 299.9 L1309.7 300.7 L1310.9 301.6 L1312.1 302.5 L1313.3 303.4 L1314.4 304.4 L1315.6 305.4 L1316.7 306.4 L1317.8 307.4 L1318.9 308.4 L1320.1 309.4 L1321.2 310.4 L1322.3 311.4 L1323.4 312.4 L1324.5 313.5 L1325.6 314.5 L1326.7 315.5 L1327.7 316.6 L1328.7 317.7 L1329.6 318.9 L1330.5 320.1 L1331.3 321.4 L1332.0 322.7 L1332.7 324.0 L1333.5 325.3 L1334.2 326.6 L1334.9 328.0 L1335.6 329.3 L1336.3 330.6 L1337.1 332.0 L1337.8 333.3 L1338.5 334.6 L1339.2 335.9 L1339.9 337.3 L1340.6 338.6 L1341.3 339.9 L1342.0 341.3 L1342.6 342.7 L1343.2 344.0 L1343.7 345.4 L1344.3 346.8 L1344.8 348.2 L1345.4 349.6 L1345.9 351.1 L1346.4 352.5 L1347.0 353.9 L1347.5 355.3 L1348.0 356.7 L1348.5 358.1 L1349.1 359.5 L1349.6 360.9 L1350.1 362.3 L1350.7 363.8 L1351.2 365.2 L1351.7 366.6 L1352.2 368.0 L1352.8 369.4 L1353.3 370.8 L1353.8 372.2 L1354.3 373.6 L1354.9 375.1 L1355.4 376.5 L1355.9 377.9 L1356.4 379.3 L1356.9 380.7 L1357.4 382.1 L1358.0 383.6 L1358.5 385.0 L1359.0 386.4 L1359.5 387.8 L1360.0 389.2 L1360.6 390.6 L1361.1 392.0 L1361.6 393.5 L1362.1 394.9 L1362.6 396.3 L1363.1 397.7 L1363.7 399.1 L1364.2 400.5 L1364.7 402.0 L1365.2 403.4 L1365.7 404.8 L1366.2 406.2 L1366.7 407.6 L1367.2 409.1 L1367.7 410.5 L1368.2 411.9 L1368.6 413.3 L1369.1 414.8 L1369.6 416.2 L1370.0 417.6 L1370.5 419.1 L1371.0 420.5 L1371.4 421.9 L1371.9 423.4 L1372.4 424.8 L1372.9 426.2 L1373.3 427.7 L1373.8 429.1 L1374.3 430.5 L1374.7 432.0 L1375.2 433.4 L1375.7 434.8 L1376.1 436.3 L1376.6 437.7 L1377.1 439.1 L1377.5 440.6 L1378.0 442.0" fill="none" stroke="#0d5ce6" stroke-width="3" stroke-linejoin="round" stroke-linecap="round"/>
<path d="M1021.0 343.0 L1021.1 341.5 L1021.1 340.0 L1021.2 338.5 L1021.3 337.0 L1021.3 335.5 L1021.4 334.0 L1021.5 332.5 L1021.5 331.0 L1021.6 329.5 L1021.7 328.0 L1021.7 326.5 L1021.8 325.0 L1021.8 323.5 L1021.9 322.0 L1022.0 320.5 L1022.0 319.0 L1022.1 317.4 L1022.2 315.9 L1022.2 314.4 L1022.3 312.9 L1022.3 311.4 L1022.4 309.9 L1022.4 308.4 L1022.5 306.9 L1022.5 305.4 L1022.6 303.9 L1022.7 302.4 L1022.7 300.9 L1022.8 299.4 L1022.8 297.9 L1022.9 296.4 L1022.9 294.9 L1023.0 293.4 L1023.1 291.9 L1023.1 290.4 L1023.2 288.9 L1023.2 287.4 L1023.3 285.9 L1023.3 284.4 L1023.4 282.9 L1023.4 281.4 L1023.5 279.9 L1023.5 278.4 L1023.5 276.9 L1023.6 275.4 L1023.6 273.8 L1023.6 272.3 L1023.6 270.8 L1023.6 269.3 L1023.7 267.8 L1023.7 266.3 L1023.7 264.8 L1023.7 263.3 L1023.7 261.8 L1023.7 260.3 L1023.8 258.8 L1023.8 257.3 L1023.8 255.8 L1023.8 254.3 L1023.8 252.8 L1023.9 251.3 L1023.9 249.8 L1023.9 248.3 L1023.9 246.8 L1023.9 245.3 L1024.0 243.8 L1024.0 242.3 L1024.0 240.8 L1024.0 239.2 L1024.0 237.7 L1024.0 236.2 L1024.1 234.7 L1024.1 233.2 L1024.1 231.7 L1024.1 230.2 L1024.1 228.7 L1024.2 227.2 L1024.2 225.7 L1024.2 224.2 L1024.2 222.7 L1024.2 221.2 L1024.3 219.7 L1024.3 218.2 L1024.3 216.7 L1024.3 215.2 L1024.3 213.7 L1024.3 212.2 L1024.4 210.7 L1024.4 209.2 L1024.4 207.7 L1024.4 206.2 L1024.4 204.7 L1024.5 203.1 L1024.5 201.6 L1024.5 200.1 L1024.5 198.6 L1024.6 197.1 L1024.6 195.6 L1024.7 194.1 L1024.7 192.6 L1024.8 191.1 L1024.8 189.6 L1024.9 188.1 L1024.9 186.6 L1024.9 185.1 L1025.0 183.6 L1025.0 182.1 L1025.1 180.6 L1025.1 179.1 L1025.2 177.6 L1025.2 176.1 L1025.3 174.6 L1025.3 173.1 L1025.4 171.6 L1025.4 170.1 L1025.4 168.6 L1025.5 167.1 L1025.5 165.6 L1025.6 164.0 L1025.6 162.5 L1025.7 161.0 L1025.7 159.5 L1025.8 158.0 L1025.8 156.5 L1025.8 155.0 L1025.9 153.5 L1026.0 152.0 L1026.2 150.6 L1026.6 149.2 L1027.2 147.8 L1027.9 146.5 L1028.6 145.1 L1029.3 143.8 L1030.0 142.5 L1030.7 141.2 L1031.5 139.9 L1032.3 138.7 L1033.4 137.7 L1034.6 136.9 L1035.9 136.2 L1037.3 135.5 L1038.6 134.7 L1039.8 133.9 L1041.0 133.0 L1042.1 132.0 L1043.3 131.0 L1044.4 130.0 L1045.5 129.0 L1046.6 128.0 L1047.8 127.0 L1048.9 126.0 L1050.0 125.1 L1051.2 124.1 L1052.4 123.2 L1053.6 122.3 L1054.9 121.6 L1056.3 121.1 L1057.7 120.9 L1059.2 120.9 L1060.7 120.9 L1062.2 120.8 L1063.7 120.8 L1065.2 120.8 L1066.7 120.8 L1068.2 120.8 L1069.8 120.8 L1071.3 120.8 L1072.8 120.8 L1074.3 120.8 L1075.8 120.8 L1077.3 120.8 L1078.8 120.8 L1080.3 120.8 L1081.8 120.8 L1083.3 120.8 L1084.8 120.8 L1086.3 120.8 L1087.8 120.8 L1089.3 120.8 L1090.8 120.8 L1092.3 120.8 L1093.8 120.8 L1095.3 120.8 L1096.8 120.8 L1098.3 120.8 L1099.8 120.8 L1101.3 120.8 L1102.8 120.8 L1104.4 120.8 L1105.9 120.8 L1107.4 120.8 L1108.9 120.8 L1110.4 120.8 L1111.9 120.8 L1113.4 120.8 L1114.9 120.8 L1116.4 120.8 L1117.9 120.8 L1119.4 120.8 L1120.9 120.8 L1122.4 120.8 L1123.9 120.8 L1125.4 120.8 L1126.9 120.8 L1128.4 120.8 L1129.9 120.8 L1131.4 120.8 L1132.9 120.8 L1134.4 120.8 L1135.9 120.8 L1137.4 120.8 L1139.0 120.8 L1140.5 120.8 L1142.0 120.8 L1143.5 120.8 L1145.0 120.8 L1146.5 120.8 L1148.0 120.8 L1149.5 120.8 L1151.0 120.8 L1152.5 120.8 L1154.0 120.8 L1155.5 120.8 L1157.0 120.8 L1158.5 120.8 L1160.0 120.8 L1161.5 120.8 L1163.0 120.8 L1164.5 120.8 L1166.0 120.8 L1167.5 120.8 L1169.0 120.8 L1170.5 120.8 L1172.1 120.8 L1173.6 120.8 L1175.1 120.8 L1176.6 120.8 L1178.1 120.8 L1179.6 120.8 L1181.1 120.8 L1182.6 120.8 L1184.1 120.8 L1185.6 120.8 L1187.1 120.8 L1188.6 120.8 L1190.1 120.8 L1191.6 120.8 L1193.1 120.8 L1194.6 120.8 L1196.1 120.8 L1197.6 120.8 L1199.1 120.8 L1200.6 120.8 L1202.1 120.8 L1203.6 120.8 L1205.1 120.8 L1206.7 120.8 L1208.2 120.8 L1209.7 120.8 L1211.2 120.8 L1212.7 120.8 L1214.2 120.8 L1215.7 120.8 L1217.2 120.8 L1218.7 120.8 L1220.2 120.8 L1221.7 120.8 L1223.2 120.8 L1224.7 120.8 L1226.2 120.8 L1227.7 120.8 L1229.2 120.8 L1230.7 120.8 L1232.2 120.8 L1233.7 120.8 L1235.2 120.8 L1236.7 120.8 L1238.2 120.8 L1239.7 120.8 L1241.3 120.8 L1242.8 120.8 L1244.3 120.8 L1245.8 120.8 L1247.3 120.8 L1248.8 120.8 L1250.3 120.8 L1251.8 120.8 L1253.3 120.8 L1254.8 120.8 L1256.3 120.8 L1257.8 120.8 L1259.3 120.8 L1260.8 120.8 L1262.3 120.8 L1263.8 120.8 L1265.3 120.8 L1266.8 120.8 L1268.3 120.8 L1269.8 120.8 L1271.3 120.8 L1272.8 120.8 L1274.3 120.8 L1275.9 120.8 L1277.4 120.8 L1278.9 120.8 L1280.4 120.8 L1281.9 120.8 L1283.4 120.8 L1284.9 120.8 L1286.4 120.8 L1287.9 120.8 L1289.4 120.8 L1290.9 120.8 L1292.4 120.8 L1293.9 120.8 L1295.4 120.8 L1296.9 120.8 L1298.4 120.8 L1299.9 120.8 L1301.4 120.8 L1302.9 120.8 L1304.4 120.8 L1305.9 120.8 L1307.4 120.8 L1309.0 120.8 L1310.5 120.8 L1312.0 120.8 L1313.5 120.8 L1315.0 120.8 L1316.5 120.8 L1318.0 120.8 L1319.5 120.8 L1321.0 120.8 L1322.5 120.8 L1324.0 120.8 L1325.5 120.8 L1327.0 120.8 L1328.5 120.8 L1330.0 120.8 L1331.5 120.8 L1333.0 120.8 L1334.5 120.8 L1336.0 120.8 L1337.5 120.8 L1339.0 120.8 L1340.5 120.8 L1342.0 120.8 L1343.6 120.8 L1345.1 120.8 L1346.6 120.8 L1348.1 120.8 L1349.6 120.8 L1351.1 120.8 L1352.6 120.8 L1354.1 120.8 L1355.6 120.8 L1357.1 120.8 L1358.6 120.8 L1360.1 120.8 L1361.6 120.8 L1363.1 120.8 L1364.6 120.8 L1366.1 120.8 L1367.6 120.8 L1369.1 120.8 L1370.6 120.8 L1372.1 120.8 L1373.6 120.8 L1375.1 120.8 L1376.6 120.8 L1378.2 120.8 L1379.7 120.8 L1381.2 120.8 L1382.7 120.8 L1384.2 120.8 L1385.7 120.8 L1387.2 120.8 L1388.7 120.8 L1390.2 120.8 L1391.7 120.8 L1393.2 120.8 L1394.7 120.8 L1396.2 120.8 L1397.7 120.8 L1399.2 120.8 L1400.7 120.8 L1402.2 120.8 L1403.7 120.8 L1405.2 120.8 L1406.7 120.8 L1408.2 120.8 L1409.7 120.8 L1411.2 120.8 L1412.8 120.8 L1414.3 120.8 L1415.8 120.8 L1417.3 120.8 L1418.8 120.8 L1420.3 120.8 L1421.8 120.8 L1423.3 120.8 L1424.8 120.8 L1426.3 120.8 L1427.8 120.8 L1429.3 120.8 L1430.8 120.8 L1432.3 120.8 L1433.8 120.8 L1435.3 120.8 L1436.8 120.8 L1438.3 120.8 L1439.8 120.8 L1441.3 120.8 L1442.8 120.8 L1444.3 120.8 L1445.9 120.8 L1447.4 120.8 L1448.9 120.8 L1450.4 120.8 L1451.9 120.8 L1453.4 120.8 L1454.9 120.8 L1456.4 120.8 L1457.9 120.8 L1459.4 120.8 L1460.9 120.8 L1462.4 120.8 L1463.9 120.8 L1465.4 120.8 L1466.9 120.8 L1468.4 120.8 L1469.9 120.8 L1471.4 120.8 L1472.9 120.8 L1474.4 120.8 L1475.9 120.8 L1477.4 120.8 L1478.9 120.8 L1480.5 120.8 L1482.0 120.8 L1483.5 120.8 L1485.0 120.8 L1486.5 120.8 L1488.0 120.8 L1489.5 120.8 L1491.0 120.8 L1492.5 120.8 L1494.0 120.8 L1495.5 120.8 L1497.0 120.8" fill="none" stroke="#17a052" stroke-width="3" stroke-linejoin="round" stroke-linecap="round"/>
<line x1="1056.00" y1="120.85" x2="1497.00" y2="120.85" stroke="#17a052" stroke-width="4" stroke-linecap="round"/>
<path d="M1020.0 140.0 L1020.4 141.4 L1020.9 142.9 L1021.3 144.3 L1021.7 145.8 L1022.2 147.2 L1022.6 148.6 L1023.1 150.1 L1023.6 151.5 L1024.1 152.9 L1024.6 154.4 L1025.1 155.8 L1025.6 157.2 L1026.1 158.6 L1026.7 160.0 L1027.3 161.3 L1028.0 162.7 L1028.7 164.0 L1029.4 165.3 L1030.2 166.6 L1030.9 167.9 L1031.7 169.2 L1032.5 170.5 L1033.3 171.8 L1034.1 173.1 L1034.9 174.3 L1035.7 175.6 L1036.6 176.8 L1037.5 178.0 L1038.4 179.2 L1039.4 180.4 L1040.3 181.6 L1041.3 182.7 L1042.2 183.9 L1043.1 185.1 L1044.1 186.2 L1045.1 187.4 L1046.0 188.6 L1047.0 189.7 L1048.0 190.8 L1049.0 192.0 L1050.0 193.1 L1051.0 194.2 L1052.0 195.3 L1053.0 196.4 L1054.1 197.6 L1055.1 198.7 L1056.1 199.8 L1057.1 200.9 L1058.2 201.9 L1059.3 203.0 L1060.4 204.0 L1061.5 204.9 L1062.7 205.8 L1063.9 206.7 L1065.2 207.6 L1066.4 208.4 L1067.7 209.3 L1068.9 210.1 L1070.1 211.0 L1071.4 211.9 L1072.6 212.7 L1073.9 213.6 L1075.1 214.4 L1076.4 215.3 L1077.6 216.1 L1078.9 216.9 L1080.2 217.7 L1081.5 218.4 L1082.8 219.1 L1084.1 219.8 L1085.5 220.4 L1086.9 220.9 L1088.3 221.5 L1089.7 222.1 L1091.1 222.6 L1092.5 223.2 L1093.9 223.8 L1095.3 224.3 L1096.7 224.9 L1098.1 225.4 L1099.5 226.0 L1100.9 226.6 L1102.3 227.1 L1103.7 227.7 L1105.1 228.2 L1106.5 228.7 L1107.9 229.2 L1109.3 229.7 L1110.8 230.1 L1112.2 230.5 L1113.7 230.9 L1115.2 231.3 L1116.6 231.7 L1118.1 232.0 L1119.5 232.4 L1121.0 232.8 L1122.5 233.1 L1123.9 233.5 L1125.4 233.9 L1126.8 234.2 L1128.3 234.6 L1129.8 235.0 L1131.2 235.3 L1132.7 235.7 L1134.2 236.0 L1135.6 236.3 L1137.1 236.6 L1138.6 236.9 L1140.1 237.2 L1141.6 237.5 L1143.0 237.7 L1144.5 238.0 L1146.0 238.3 L1147.5 238.5 L1149.0 238.8 L1150.5 239.0 L1151.9 239.3 L1153.4 239.5 L1154.9 239.8 L1156.4 240.1 L1157.9 240.3 L1159.4 240.6 L1160.9 240.8 L1162.3 241.1 L1163.8 241.4 L1165.3 241.6 L1166.8 241.9 L1168.3 242.2 L1169.8 242.4 L1171.2 242.7 L1172.7 243.0 L1174.2 243.3 L1175.7 243.5 L1177.2 243.8 L1178.7 244.1 L1180.1 244.3 L1181.6 244.6 L1183.1 244.9 L1184.6 245.2 L1186.1 245.4 L1187.5 245.7 L1189.0 246.0 L1190.5 246.3 L1192.0 246.5 L1193.5 246.8 L1195.0 247.1 L1196.4 247.4 L1197.9 247.6 L1199.4 247.9 L1200.9 248.3 L1202.3 248.6 L1203.8 248.9 L1205.3 249.2 L1206.7 249.6 L1208.2 249.9 L1209.7 250.3 L1211.1 250.6 L1212.6 251.0 L1214.1 251.3 L1215.5 251.7 L1217.0 252.0 L1218.5 252.4 L1219.9 252.7 L1221.4 253.1 L1222.9 253.4 L1224.3 253.8 L1225.8 254.1 L1227.3 254.5 L1228.7 254.9 L1230.2 255.3 L1231.6 255.7 L1233.1 256.1 L1234.5 256.5 L1236.0 256.9 L1237.4 257.3 L1238.9 257.7 L1240.3 258.1 L1241.8 258.5 L1243.2 258.9 L1244.7 259.3 L1246.1 259.7 L1247.6 260.1 L1249.1 260.5 L1250.5 260.9 L1252.0 261.3 L1253.4 261.7 L1254.9 262.1 L1256.3 262.5 L1257.8 262.9 L1259.2 263.4 L1260.7 263.8 L1262.1 264.2 L1263.6 264.6 L1265.0 265.0 L1266.5 265.4 L1267.9 265.8 L1269.4 266.2 L1270.8 266.6 L1272.3 266.9 L1273.8 267.3 L1275.2 267.7 L1276.7 268.0 L1278.1 268.4 L1279.6 268.7 L1281.1 269.1 L1282.5 269.4 L1284.0 269.7 L1285.5 270.1 L1287.0 270.4 L1288.4 270.7 L1289.9 271.1 L1291.4 271.4 L1292.8 271.8 L1294.3 272.1 L1295.8 272.4 L1297.2 272.8 L1298.7 273.1 L1300.2 273.4 L1301.6 273.8 L1303.1 274.1 L1304.6 274.5 L1306.1 274.8 L1307.5 275.1 L1309.0 275.5 L1310.5 275.8 L1311.9 276.1 L1313.4 276.5 L1314.9 276.8 L1316.3 277.1 L1317.8 277.5 L1319.3 277.8 L1320.8 278.1 L1322.2 278.4 L1323.7 278.7 L1325.2 279.0 L1326.7 279.3 L1328.1 279.6 L1329.6 279.9 L1331.1 280.2 L1332.6 280.5 L1334.1 280.7 L1335.5 281.0 L1337.0 281.3 L1338.5 281.6 L1340.0 281.9 L1341.5 282.2 L1342.9 282.5 L1344.4 282.8 L1345.9 283.0 L1347.4 283.3 L1348.9 283.6 L1350.3 283.9 L1351.8 284.2 L1353.3 284.5 L1354.8 284.8 L1356.2 285.1 L1357.7 285.4 L1359.2 285.8 L1360.6 286.2 L1362.1 286.6 L1363.5 287.0 L1364.9 287.5 L1366.4 287.9 L1367.8 288.4 L1369.2 288.9 L1370.7 289.4 L1372.1 289.8 L1373.5 290.3 L1375.0 290.8 L1376.4 291.3 L1377.8 291.8 L1379.2 292.3 L1380.7 292.7 L1382.1 293.3 L1383.5 293.8 L1384.9 294.3 L1386.3 294.9 L1387.6 295.5 L1389.0 296.2 L1390.4 296.8 L1391.8 297.4 L1393.1 298.1 L1394.5 298.7 L1395.8 299.3 L1397.2 300.0 L1398.6 300.6 L1399.9 301.3 L1401.3 301.9 L1402.7 302.5 L1404.0 303.2 L1405.4 303.8 L1406.7 304.5 L1408.1 305.2 L1409.4 305.9 L1410.7 306.7 L1412.0 307.4 L1413.3 308.2 L1414.6 309.0 L1415.9 309.8 L1417.1 310.6 L1418.4 311.4 L1419.7 312.1 L1421.0 312.9 L1422.3 313.7 L1423.6 314.5 L1424.8 315.3 L1426.1 316.1 L1427.4 317.0 L1428.6 317.8 L1429.8 318.7 L1431.0 319.7 L1432.1 320.6 L1433.3 321.6 L1434.4 322.6 L1435.5 323.6 L1436.6 324.6 L1437.7 325.6 L1438.9 326.6 L1440.0 327.6 L1441.1 328.7 L1442.2 329.7 L1443.3 330.7 L1444.3 331.8 L1445.3 332.9 L1446.3 334.1 L1447.2 335.3 L1448.1 336.5 L1448.9 337.7 L1449.8 339.0 L1450.6 340.2 L1451.4 341.5 L1452.3 342.7 L1453.1 344.0 L1453.8 345.3 L1454.6 346.6 L1455.3 347.9 L1456.0 349.2 L1456.6 350.6 L1457.2 352.0 L1457.8 353.4 L1458.4 354.8 L1458.9 356.2 L1459.5 357.6 L1460.1 358.9 L1460.7 360.3 L1461.2 361.7 L1461.8 363.1 L1462.4 364.5 L1462.9 365.9 L1463.5 367.3 L1464.0 368.7 L1464.6 370.1 L1465.1 371.5 L1465.7 372.9 L1466.2 374.4 L1466.7 375.8 L1467.3 377.2 L1467.8 378.6 L1468.3 380.0 L1468.9 381.4 L1469.4 382.8 L1470.0 384.2 L1470.5 385.6 L1471.0 387.0 L1471.6 388.4 L1472.1 389.8 L1472.6 391.3 L1473.2 392.7 L1473.7 394.1 L1474.3 395.5 L1474.8 396.9 L1475.3 398.3 L1475.9 399.7 L1476.5 401.1 L1477.0 402.5 L1477.6 403.9 L1478.2 405.3 L1478.7 406.7 L1479.3 408.1 L1479.9 409.5 L1480.5 410.9 L1481.0 412.2 L1481.6 413.6 L1482.2 415.0 L1482.8 416.4 L1483.3 417.8 L1483.9 419.2 L1484.5 420.6 L1485.1 422.0 L1485.6 423.4 L1486.2 424.8 L1486.8 426.2 L1487.4 427.6 L1487.9 429.0 L1488.5 430.4 L1489.1 431.7 L1489.7 433.1 L1490.2 434.5 L1490.8 435.9 L1491.4 437.3 L1492.0 438.7 L1492.5 440.1 L1493.1 441.5" fill="none" stroke="#17a052" stroke-width="3" stroke-linejoin="round" stroke-linecap="round"/>
<path d="M1021.7 330.0 L1021.7 328.5 L1021.8 327.0 L1021.8 325.5 L1021.8 324.0 L1021.9 322.5 L1021.9 321.0 L1021.9 319.5 L1021.9 318.0 L1022.0 316.5 L1022.0 315.0 L1022.0 313.5 L1022.1 312.0 L1022.1 310.4 L1022.1 308.9 L1022.2 307.4 L1022.2 305.9 L1022.2 304.4 L1022.2 302.9 L1022.3 301.4 L1022.3 299.9 L1022.3 298.4 L1022.4 296.9 L1022.4 295.4 L1022.4 293.9 L1022.5 292.4 L1022.5 290.9 L1022.5 289.4 L1022.5 287.9 L1022.6 286.4 L1022.6 284.9 L1022.6 283.4 L1022.7 281.9 L1022.7 280.4 L1022.7 278.9 L1022.8 277.4 L1022.8 275.9 L1022.8 274.4 L1022.8 272.9 L1022.9 271.3 L1022.9 269.8 L1022.9 268.3 L1023.0 266.8 L1023.0 265.3 L1023.0 263.8 L1023.1 262.3 L1023.1 260.8 L1023.1 259.3 L1023.1 257.8 L1023.2 256.3 L1023.2 254.8 L1023.2 253.3 L1023.3 251.8 L1023.3 250.3 L1023.3 248.8 L1023.4 247.3 L1023.4 245.8 L1023.4 244.3 L1023.4 242.8 L1023.5 241.3 L1023.5 239.8 L1023.5 238.3 L1023.6 236.8 L1023.6 235.3 L1023.6 233.8 L1023.7 232.2 L1023.7 230.7 L1023.7 229.2 L1023.7 227.7 L1023.8 226.2 L1023.8 224.7 L1023.8 223.2 L1023.9 221.7 L1023.9 220.2 L1023.9 218.7 L1024.0 217.2 L1024.0 215.7 L1024.0 214.2 L1024.0 212.7 L1024.1 211.2 L1024.1 209.7 L1024.1 208.2 L1024.2 206.7 L1024.2 205.2 L1024.2 203.7 L1024.3 202.2 L1024.3 200.7 L1024.3 199.2 L1024.3 197.7 L1024.4 196.2 L1024.4 194.6 L1024.4 193.1 L1024.5 191.6 L1024.5 190.1 L1024.5 188.6 L1024.6 187.1 L1024.6 185.6 L1024.6 184.1 L1024.7 182.6 L1024.7 181.1 L1024.8 179.6 L1024.8 178.1 L1024.8 176.6 L1024.9 175.1 L1024.9 173.6 L1024.9 172.1 L1025.0 170.6 L1025.0 169.1 L1025.1 167.6 L1025.1 166.1 L1025.1 164.6 L1025.2 163.1 L1025.2 161.6 L1025.2 160.1 L1025.3 158.6 L1025.3 157.1 L1025.4 155.6 L1025.4 154.0 L1025.4 152.5 L1025.5 151.0 L1025.5 149.5 L1025.6 148.0 L1025.7 146.5 L1025.8 145.0 L1025.8 143.5 L1025.9 142.0 L1026.0 140.5 L1026.1 139.0 L1026.1 137.5 L1026.2 136.0 L1026.3 134.5 L1026.4 133.0 L1026.5 131.5 L1026.5 130.0 L1026.6 128.5 L1026.7 127.0 L1026.8 125.5 L1026.9 124.0 L1027.0 122.7 L1027.4 121.9 L1028.1 122.2 L1028.8 123.2 L1029.3 124.6 L1029.8 126.0 L1030.2 127.5 L1030.7 128.9 L1031.1 130.3 L1031.6 131.7 L1032.2 133.1 L1032.8 134.3 L1033.5 134.8 L1034.6 134.5 L1035.7 133.7 L1036.9 132.8 L1038.1 131.9 L1039.3 130.9 L1040.3 129.9 L1041.3 128.7 L1042.2 127.6 L1043.1 126.4 L1044.1 125.2 L1045.0 124.0 L1046.0 122.9 L1047.1 121.9 L1048.3 121.2 L1049.7 120.9 L1051.2 120.9 L1052.7 120.9 L1054.2 120.8 L1055.7 120.8 L1057.2 120.8 L1058.7 120.8 L1060.2 120.8 L1061.7 120.8 L1063.2 120.8 L1064.7 120.8 L1066.2 120.8 L1067.7 120.8 L1069.2 120.8 L1070.7 120.8 L1072.2 120.8 L1073.7 120.8 L1075.2 120.8 L1076.7 120.8 L1078.2 120.8 L1079.7 120.8 L1081.2 120.8 L1082.7 120.8 L1084.2 120.8 L1085.7 120.8 L1087.3 120.8 L1088.8 120.8 L1090.3 120.8 L1091.8 120.8 L1093.3 120.8 L1094.8 120.8 L1096.3 120.8 L1097.8 120.8 L1099.3 120.8 L1100.8 120.8 L1102.3 120.8 L1103.8 120.8 L1105.3 120.8 L1106.8 120.8 L1108.3 120.8 L1109.8 120.8 L1111.3 120.8 L1112.8 120.8 L1114.3 120.8 L1115.8 120.8 L1117.3 120.8 L1118.8 120.8 L1120.3 120.8 L1121.8 120.8 L1123.4 120.8 L1124.9 120.8 L1126.4 120.8 L1127.9 120.8 L1129.4 120.8 L1130.9 120.8 L1132.4 120.8 L1133.9 120.8 L1135.4 120.8 L1136.9 120.8 L1138.4 120.8 L1139.9 120.8 L1141.4 120.8 L1142.9 120.8 L1144.4 120.8 L1145.9 120.8 L1147.4 120.8 L1148.9 120.8 L1150.4 120.8 L1151.9 120.8 L1153.4 120.8 L1154.9 120.8 L1156.4 120.8 L1157.9 120.8 L1159.5 120.8 L1161.0 120.8 L1162.5 120.8 L1164.0 120.8 L1165.5 120.8 L1167.0 120.8 L1168.5 120.8 L1170.0 120.8 L1171.5 120.8 L1173.0 120.8 L1174.5 120.8 L1176.0 120.8 L1177.5 120.8 L1179.0 120.8 L1180.5 120.8 L1182.0 120.8 L1183.5 120.8 L1185.0 120.8 L1186.5 120.8 L1188.0 120.8 L1189.5 120.8 L1191.0 120.8 L1192.5 120.8 L1194.0 120.8 L1195.6 120.8 L1197.1 120.8 L1198.6 120.8 L1200.1 120.8 L1201.6 120.8 L1203.1 120.8 L1204.6 120.8 L1206.1 120.8 L1207.6 120.8 L1209.1 120.8 L1210.6 120.8 L1212.1 120.8 L1213.6 120.8 L1215.1 120.8 L1216.6 120.8 L1218.1 120.8 L1219.6 120.8 L1221.1 120.8 L1222.6 120.8 L1224.1 120.8 L1225.6 120.8 L1227.1 120.8 L1228.6 120.8 L1230.1 120.8 L1231.7 120.8 L1233.2 120.8 L1234.7 120.8 L1236.2 120.8 L1237.7 120.8 L1239.2 120.8 L1240.7 120.8 L1242.2 120.8 L1243.7 120.8 L1245.2 120.8 L1246.7 120.8 L1248.2 120.8 L1249.7 120.8 L1251.2 120.8 L1252.7 120.8 L1254.2 120.8 L1255.7 120.8 L1257.2 120.8 L1258.7 120.8 L1260.2 120.8 L1261.7 120.8 L1263.2 120.8 L1264.7 120.8 L1266.3 120.8 L1267.8 120.8 L1269.3 120.8 L1270.8 120.8 L1272.3 120.8 L1273.8 120.8 L1275.3 120.8 L1276.8 120.8 L1278.3 120.8 L1279.8 120.8 L1281.3 120.8 L1282.8 120.8 L1284.3 120.8 L1285.8 120.8 L1287.3 120.8 L1288.8 120.8 L1290.3 120.8 L1291.8 120.8 L1293.3 120.8 L1294.8 120.8 L1296.3 120.8 L1297.8 120.8 L1299.3 120.8 L1300.8 120.8 L1302.4 120.8 L1303.9 120.8 L1305.4 120.8 L1306.9 120.8 L1308.4 120.8 L1309.9 120.8 L1311.4 120.8 L1312.9 120.8 L1314.4 120.8 L1315.9 120.8 L1317.4 120.8 L1318.9 120.8 L1320.4 120.8 L1321.9 120.8 L1323.4 120.8 L1324.9 120.8 L1326.4 120.8 L1327.9 120.8 L1329.4 120.8 L1330.9 120.8 L1332.4 120.8 L1333.9 120.8 L1335.4 120.8 L1336.9 120.8 L1338.5 120.8 L1340.0 120.8 L1341.5 120.8 L1343.0 120.8 L1344.5 120.8 L1346.0 120.8 L1347.5 120.8 L1349.0 120.8 L1350.5 120.8 L1352.0 120.8 L1353.5 120.8 L1355.0 120.8 L1356.5 120.8 L1358.0 120.8 L1359.5 120.8 L1361.0 120.8 L1362.5 120.8 L1364.0 120.8 L1365.5 120.8 L1367.0 120.8 L1368.5 120.8 L1370.0 120.8 L1371.5 120.8 L1373.0 120.8 L1374.6 120.8 L1376.1 120.8 L1377.6 120.8 L1379.1 120.8 L1380.6 120.8 L1382.1 120.8 L1383.6 120.8 L1385.1 120.8 L1386.6 120.8 L1388.1 120.8 L1389.6 120.8 L1391.1 120.8 L1392.6 120.8 L1394.1 120.8 L1395.6 120.8 L1397.1 120.8 L1398.6 120.8 L1400.1 120.8 L1401.6 120.8 L1403.1 120.8 L1404.6 120.8 L1406.1 120.8 L1407.6 120.8 L1409.1 120.8 L1410.7 120.8 L1412.2 120.8 L1413.7 120.8 L1415.2 120.8 L1416.7 120.8 L1418.2 120.8 L1419.7 120.8 L1421.2 120.8 L1422.7 120.8 L1424.2 120.8 L1425.7 120.8 L1427.2 120.8 L1428.7 120.8 L1430.2 120.8 L1431.7 120.8 L1433.2 120.8 L1434.7 120.8 L1436.2 120.8 L1437.7 120.8 L1439.2 120.8 L1440.7 120.8 L1442.2 120.8 L1443.7 120.8 L1445.2 120.8 L1446.8 120.8 L1448.3 120.8 L1449.8 120.8 L1451.3 120.8 L1452.8 120.8 L1454.3 120.8 L1455.8 120.8 L1457.3 120.8 L1458.8 120.8 L1460.3 120.8 L1461.8 120.8 L1463.3 120.8" fill="none" stroke="#a45de2" stroke-width="3" stroke-linejoin="round" stroke-linecap="round"/>
<line x1="1048.00" y1="120.85" x2="1463.30" y2="120.85" stroke="#a45de2" stroke-width="4" stroke-linecap="round"/>
<path d="M1019.5 150.0 L1019.6 151.5 L1019.8 153.0 L1019.9 154.5 L1020.1 156.0 L1020.3 157.5 L1020.4 159.0 L1020.6 160.5 L1020.7 162.0 L1020.9 163.5 L1021.1 165.0 L1021.4 166.4 L1021.6 167.9 L1021.9 169.4 L1022.2 170.9 L1022.5 172.3 L1022.8 173.8 L1023.1 175.3 L1023.4 176.8 L1023.8 178.2 L1024.1 179.7 L1024.6 181.1 L1025.0 182.5 L1025.6 183.9 L1026.1 185.3 L1026.7 186.7 L1027.4 188.0 L1028.1 189.3 L1028.9 190.6 L1029.7 191.8 L1030.6 193.0 L1031.6 194.2 L1032.5 195.4 L1033.5 196.5 L1034.6 197.6 L1035.6 198.6 L1036.7 199.7 L1037.7 200.8 L1038.7 201.9 L1039.8 203.0 L1040.8 204.1 L1041.7 205.3 L1042.7 206.4 L1043.6 207.6 L1044.5 208.8 L1045.5 210.0 L1046.4 211.2 L1047.3 212.4 L1048.2 213.6 L1049.1 214.7 L1050.0 215.9 L1051.0 217.1 L1051.9 218.3 L1052.9 219.4 L1053.9 220.5 L1055.0 221.4 L1056.2 222.4 L1057.4 223.2 L1058.6 224.1 L1059.9 224.9 L1061.2 225.6 L1062.5 226.4 L1063.8 227.2 L1065.1 228.0 L1066.4 228.7 L1067.7 229.5 L1069.0 230.2 L1070.3 230.9 L1071.7 231.6 L1073.0 232.2 L1074.4 232.9 L1075.7 233.6 L1077.0 234.3 L1078.4 234.9 L1079.7 235.6 L1081.1 236.3 L1082.4 237.0 L1083.8 237.6 L1085.1 238.3 L1086.5 239.0 L1087.8 239.7 L1089.2 240.3 L1090.5 241.0 L1091.9 241.6 L1093.2 242.2 L1094.6 242.8 L1096.0 243.3 L1097.5 243.8 L1098.9 244.2 L1100.3 244.6 L1101.8 244.9 L1103.3 245.3 L1104.7 245.7 L1106.2 246.0 L1107.6 246.4 L1109.1 246.7 L1110.6 247.1 L1112.0 247.5 L1113.5 247.8 L1114.9 248.2 L1116.4 248.5 L1117.9 248.9 L1119.3 249.2 L1120.8 249.6 L1122.3 249.9 L1123.7 250.1 L1125.2 250.4 L1126.7 250.6 L1128.2 250.9 L1129.7 251.1 L1131.2 251.3 L1132.7 251.6 L1134.1 251.8 L1135.6 252.0 L1137.1 252.2 L1138.6 252.5 L1140.1 252.7 L1141.6 252.9 L1143.1 253.1 L1144.6 253.4 L1146.0 253.6 L1147.5 253.8 L1149.0 254.1 L1150.5 254.4 L1152.0 254.6 L1153.5 254.9 L1154.9 255.2 L1156.4 255.5 L1157.9 255.8 L1159.4 256.1 L1160.8 256.4 L1162.3 256.7 L1163.8 257.0 L1165.2 257.3 L1166.7 257.6 L1168.2 257.9 L1169.7 258.2 L1171.1 258.5 L1172.6 258.8 L1174.1 259.1 L1175.6 259.5 L1177.0 259.8 L1178.5 260.2 L1179.9 260.5 L1181.4 260.9 L1182.8 261.3 L1184.3 261.7 L1185.7 262.1 L1187.2 262.5 L1188.6 262.9 L1190.1 263.3 L1191.5 263.7 L1193.0 264.1 L1194.4 264.5 L1195.9 264.9 L1197.3 265.3 L1198.8 265.7 L1200.2 266.1 L1201.7 266.5 L1203.1 266.9 L1204.6 267.3 L1206.0 267.7 L1207.5 268.1 L1209.0 268.4 L1210.4 268.8 L1211.9 269.1 L1213.4 269.4 L1214.9 269.7 L1216.3 270.0 L1217.8 270.3 L1219.3 270.6 L1220.8 270.9 L1222.2 271.1 L1223.7 271.4 L1225.2 271.7 L1226.7 272.0 L1228.1 272.3 L1229.6 272.6 L1231.1 272.9 L1232.6 273.2 L1234.0 273.5 L1235.5 273.9 L1237.0 274.2 L1238.4 274.5 L1239.9 274.9 L1241.4 275.2 L1242.8 275.6 L1244.3 276.0 L1245.7 276.3 L1247.2 276.7 L1248.7 277.0 L1250.1 277.4 L1251.6 277.8 L1253.0 278.1 L1254.5 278.5 L1256.0 278.9 L1257.4 279.2 L1258.9 279.6 L1260.3 280.0 L1261.8 280.3 L1263.3 280.7 L1264.7 281.0 L1266.2 281.4 L1267.6 281.8 L1269.1 282.1 L1270.6 282.5 L1272.0 282.9 L1273.5 283.2 L1274.9 283.6 L1276.4 284.0 L1277.9 284.3 L1279.3 284.7 L1280.8 285.1 L1282.2 285.4 L1283.7 285.8 L1285.2 286.2 L1286.6 286.5 L1288.1 286.9 L1289.5 287.3 L1291.0 287.6 L1292.4 288.0 L1293.9 288.4 L1295.4 288.7 L1296.8 289.1 L1298.3 289.5 L1299.7 289.8 L1301.2 290.2 L1302.7 290.6 L1304.1 290.9 L1305.6 291.3 L1307.0 291.7 L1308.5 292.1 L1309.9 292.4 L1311.4 292.8 L1312.9 293.2 L1314.3 293.6 L1315.8 294.0 L1317.2 294.4 L1318.7 294.8 L1320.1 295.2 L1321.6 295.6 L1323.0 296.0 L1324.5 296.4 L1325.9 296.8 L1327.4 297.1 L1328.8 297.5 L1330.3 297.9 L1331.7 298.3 L1333.2 298.7 L1334.6 299.1 L1336.1 299.5 L1337.5 299.9 L1339.0 300.3 L1340.4 300.7 L1341.9 301.1 L1343.3 301.5 L1344.8 301.9 L1346.2 302.4 L1347.6 302.9 L1349.0 303.4 L1350.4 304.0 L1351.8 304.6 L1353.2 305.2 L1354.5 305.8 L1355.9 306.5 L1357.3 307.1 L1358.6 307.7 L1360.0 308.3 L1361.4 308.9 L1362.8 309.5 L1364.2 310.1 L1365.6 310.6 L1367.0 311.2 L1368.4 311.7 L1369.8 312.3 L1371.1 312.9 L1372.5 313.4 L1373.9 314.0 L1375.3 314.5 L1376.7 315.1 L1378.1 315.7 L1379.5 316.3 L1380.9 316.8 L1382.3 317.5 L1383.6 318.1 L1384.9 318.9 L1386.2 319.6 L1387.5 320.4 L1388.7 321.2 L1390.0 322.1 L1391.2 322.9 L1392.4 323.8 L1393.7 324.6 L1394.9 325.5 L1396.2 326.4 L1397.4 327.2 L1398.6 328.1 L1399.9 328.9 L1401.1 329.8 L1402.3 330.7 L1403.5 331.5 L1404.7 332.5 L1405.9 333.4 L1407.1 334.4 L1408.2 335.3 L1409.3 336.3 L1410.4 337.3 L1411.6 338.3 L1412.7 339.3 L1413.8 340.3 L1414.9 341.4 L1416.0 342.4 L1417.1 343.4 L1418.2 344.4 L1419.3 345.5 L1420.4 346.5 L1421.4 347.6 L1422.3 348.8 L1423.3 349.9 L1424.2 351.1 L1425.1 352.4 L1425.9 353.6 L1426.8 354.8 L1427.6 356.1 L1428.4 357.3 L1429.2 358.6 L1429.9 359.9 L1430.5 361.3 L1431.1 362.7 L1431.7 364.0 L1432.3 365.4 L1432.9 366.8 L1433.5 368.2 L1434.0 369.6 L1434.6 371.0 L1435.2 372.4 L1435.8 373.8 L1436.3 375.2 L1436.9 376.6 L1437.4 378.0 L1437.9 379.4 L1438.5 380.8 L1439.0 382.2 L1439.5 383.6 L1440.0 385.0 L1440.5 386.5 L1441.0 387.9 L1441.5 389.3 L1442.0 390.7 L1442.5 392.1 L1443.0 393.5 L1443.5 395.0 L1444.0 396.4 L1444.5 397.8 L1445.0 399.2 L1445.5 400.6 L1446.0 402.1 L1446.5 403.5 L1447.0 404.9 L1447.5 406.3 L1448.1 407.7 L1448.6 409.1 L1449.1 410.5 L1449.6 411.9 L1450.2 413.3 L1450.7 414.8 L1451.2 416.2 L1451.8 417.6 L1452.3 419.0 L1452.8 420.4 L1453.4 421.8 L1453.9 423.2 L1454.4 424.6 L1455.0 426.0 L1455.5 427.4 L1456.0 428.8 L1456.5 430.2 L1457.1 431.6 L1457.6 433.1 L1458.1 434.5 L1458.7 435.9 L1459.2 437.3 L1459.7 438.7 L1460.3 440.1 L1460.8 441.5" fill="none" stroke="#a45de2" stroke-width="3" stroke-linejoin="round" stroke-linecap="round"/>
<line x1="1382.40" y1="158.90" x2="1439.10" y2="158.90" stroke="#3a3a3a" stroke-width="3.4" stroke-linecap="butt"/>
<text x="1443.5" y="167.4" font-size="23.5" fill="#3a3a3a" text-anchor="start" >1st</text>
<line x1="1382.40" y1="188.65" x2="1439.10" y2="188.65" stroke="#ff2a2a" stroke-width="3.4" stroke-linecap="butt"/>
<text x="1443.5" y="197.2" font-size="23.5" fill="#ff2a2a" text-anchor="start" >500th</text>
<line x1="1382.40" y1="218.40" x2="1439.10" y2="218.40" stroke="#0d5ce6" stroke-width="3.4" stroke-linecap="butt"/>
<text x="1443.5" y="226.9" font-size="23.5" fill="#0d5ce6" text-anchor="start" >1000th</text>
<line x1="1382.40" y1="248.15" x2="1439.10" y2="248.15" stroke="#17a052" stroke-width="4.2" stroke-linecap="butt"/>
<text x="1443.5" y="256.6" font-size="23.5" fill="#17a052" text-anchor="start" >1580th</text>
<line x1="1382.40" y1="277.90" x2="1439.10" y2="277.90" stroke="#a45de2" stroke-width="3.4" stroke-linecap="butt"/>
<text x="1443.5" y="286.4" font-size="23.5" fill="#a45de2" text-anchor="start" >1800th</text>
<line x1="978.50" y1="52.20" x2="1551.50" y2="52.20" stroke="#000" stroke-width="3.2" stroke-linecap="butt"/>
<line x1="978.50" y1="511.00" x2="1551.50" y2="511.00" stroke="#000" stroke-width="3.8" stroke-linecap="butt"/>
<line x1="980.10" y1="52.20" x2="980.10" y2="511.00" stroke="#000" stroke-width="3.2" stroke-linecap="butt"/>
<line x1="1549.30" y1="50.60" x2="1549.30" y2="512.90" stroke="#000" stroke-width="4.4" stroke-linecap="butt"/>
<line x1="971.10" y1="511.00" x2="980.10" y2="511.00" stroke="#000" stroke-width="3" stroke-linecap="butt"/>
<text x="963.6" y="518.4" font-size="24.5" fill="#000" text-anchor="end" >0.2</text>
<line x1="975.10" y1="488.06" x2="980.10" y2="488.06" stroke="#000" stroke-width="3" stroke-linecap="butt"/>
<line x1="971.10" y1="465.12" x2="980.10" y2="465.12" stroke="#000" stroke-width="3" stroke-linecap="butt"/>
<text x="963.6" y="472.5" font-size="24.5" fill="#000" text-anchor="end" >0.4</text>
<line x1="975.10" y1="442.18" x2="980.10" y2="442.18" stroke="#000" stroke-width="3" stroke-linecap="butt"/>
<line x1="971.10" y1="419.24" x2="980.10" y2="419.24" stroke="#000" stroke-width="3" stroke-linecap="butt"/>
<text x="963.6" y="426.6" font-size="24.5" fill="#000" text-anchor="end" >0.6</text>
<line x1="975.10" y1="396.30" x2="980.10" y2="396.30" stroke="#000" stroke-width="3" stroke-linecap="butt"/>
<line x1="971.10" y1="373.36" x2="980.10" y2="373.36" stroke="#000" stroke-width="3" stroke-linecap="butt"/>
<text x="963.6" y="380.8" font-size="24.5" fill="#000" text-anchor="end" >0.8</text>
<line x1="975.10" y1="350.42" x2="980.10" y2="350.42" stroke="#000" stroke-width="3" stroke-linecap="butt"/>
<line x1="971.10" y1="327.48" x2="980.10" y2="327.48" stroke="#000" stroke-width="3" stroke-linecap="butt"/>
<text x="963.6" y="334.9" font-size="24.5" fill="#000" text-anchor="end" >1.0</text>
<line x1="975.10" y1="304.54" x2="980.10" y2="304.54" stroke="#000" stroke-width="3" stroke-linecap="butt"/>
<line x1="971.10" y1="281.60" x2="980.10" y2="281.60" stroke="#000" stroke-width="3" stroke-linecap="butt"/>
<text x="963.6" y="289.0" font-size="24.5" fill="#000" text-anchor="end" >1.2</text>
<line x1="975.10" y1="258.66" x2="980.10" y2="258.66" stroke="#000" stroke-width="3" stroke-linecap="butt"/>
<line x1="971.10" y1="235.72" x2="980.10" y2="235.72" stroke="#000" stroke-width="3" stroke-linecap="butt"/>
<text x="963.6" y="243.1" font-size="24.5" fill="#000" text-anchor="end" >1.4</text>
<line x1="975.10" y1="212.78" x2="980.10" y2="212.78" stroke="#000" stroke-width="3" stroke-linecap="butt"/>
<line x1="971.10" y1="189.84" x2="980.10" y2="189.84" stroke="#000" stroke-width="3" stroke-linecap="butt"/>
<text x="963.6" y="197.2" font-size="24.5" fill="#000" text-anchor="end" >1.6</text>
<line x1="975.10" y1="166.90" x2="980.10" y2="166.90" stroke="#000" stroke-width="3" stroke-linecap="butt"/>
<line x1="971.10" y1="143.96" x2="980.10" y2="143.96" stroke="#000" stroke-width="3" stroke-linecap="butt"/>
<text x="963.6" y="151.4" font-size="24.5" fill="#000" text-anchor="end" >1.8</text>
<line x1="975.10" y1="121.02" x2="980.10" y2="121.02" stroke="#000" stroke-width="3" stroke-linecap="butt"/>
<line x1="971.10" y1="98.08" x2="980.10" y2="98.08" stroke="#000" stroke-width="3" stroke-linecap="butt"/>
<text x="963.6" y="105.5" font-size="24.5" fill="#000" text-anchor="end" >2.0</text>
<line x1="975.10" y1="75.14" x2="980.10" y2="75.14" stroke="#000" stroke-width="3" stroke-linecap="butt"/>
<line x1="971.10" y1="52.20" x2="980.10" y2="52.20" stroke="#000" stroke-width="3" stroke-linecap="butt"/>
<text x="963.6" y="59.6" font-size="24.5" fill="#000" text-anchor="end" >2.2</text>
<line x1="980.10" y1="511.00" x2="980.10" y2="516.00" stroke="#000" stroke-width="3.5" stroke-linecap="butt"/>
<line x1="1020.76" y1="511.00" x2="1020.76" y2="520.00" stroke="#000" stroke-width="3.5" stroke-linecap="butt"/>
<text x="1020.8" y="545.3" font-size="24.5" fill="#000" text-anchor="middle" >0</text>
<line x1="1061.41" y1="511.00" x2="1061.41" y2="516.00" stroke="#000" stroke-width="3.5" stroke-linecap="butt"/>
<line x1="1102.07" y1="511.00" x2="1102.07" y2="520.00" stroke="#000" stroke-width="3.5" stroke-linecap="butt"/>
<text x="1102.1" y="545.3" font-size="24.5" fill="#000" text-anchor="middle" >50</text>
<line x1="1142.73" y1="511.00" x2="1142.73" y2="516.00" stroke="#000" stroke-width="3.5" stroke-linecap="butt"/>
<line x1="1183.39" y1="511.00" x2="1183.39" y2="520.00" stroke="#000" stroke-width="3.5" stroke-linecap="butt"/>
<text x="1183.4" y="545.3" font-size="24.5" fill="#000" text-anchor="middle" >100</text>
<line x1="1224.04" y1="511.00" x2="1224.04" y2="516.00" stroke="#000" stroke-width="3.5" stroke-linecap="butt"/>
<line x1="1264.70" y1="511.00" x2="1264.70" y2="520.00" stroke="#000" stroke-width="3.5" stroke-linecap="butt"/>
<text x="1264.7" y="545.3" font-size="24.5" fill="#000" text-anchor="middle" >150</text>
<line x1="1305.36" y1="511.00" x2="1305.36" y2="516.00" stroke="#000" stroke-width="3.5" stroke-linecap="butt"/>
<line x1="1346.01" y1="511.00" x2="1346.01" y2="520.00" stroke="#000" stroke-width="3.5" stroke-linecap="butt"/>
<text x="1346.0" y="545.3" font-size="24.5" fill="#000" text-anchor="middle" >200</text>
<line x1="1386.67" y1="511.00" x2="1386.67" y2="516.00" stroke="#000" stroke-width="3.5" stroke-linecap="butt"/>
<line x1="1427.33" y1="511.00" x2="1427.33" y2="520.00" stroke="#000" stroke-width="3.5" stroke-linecap="butt"/>
<text x="1427.3" y="545.3" font-size="24.5" fill="#000" text-anchor="middle" >250</text>
<line x1="1467.99" y1="511.00" x2="1467.99" y2="516.00" stroke="#000" stroke-width="3.5" stroke-linecap="butt"/>
<line x1="1508.64" y1="511.00" x2="1508.64" y2="520.00" stroke="#000" stroke-width="3.5" stroke-linecap="butt"/>
<text x="1508.6" y="545.3" font-size="24.5" fill="#000" text-anchor="middle" >300</text>
<line x1="1549.30" y1="511.00" x2="1549.30" y2="516.00" stroke="#000" stroke-width="3.5" stroke-linecap="butt"/>
<text x="1260.7" y="585.8" font-size="28.3" fill="#000" text-anchor="middle" >Capacity <tspan font-size="24">(</tspan>mAh g<tspan dy="-8.5">-1</tspan><tspan dy="8.5" font-size="24">)</tspan></text>
<text transform="translate(911.8,261.1) rotate(-90)" x="0" y="0" font-size="28.6" fill="#000" text-anchor="middle" >Voltage (V)</text>
<text x="852.5" y="41.3" font-size="60" fill="#000" text-anchor="start" >(b)</text>
<path d="M1022.5 935.0 L1022.5 933.5 L1022.5 932.0 L1022.5 930.5 L1022.5 929.0 L1022.5 927.5 L1022.5 926.0 L1022.6 924.5 L1022.6 923.0 L1022.6 921.5 L1022.6 920.0 L1022.6 918.5 L1022.6 917.0 L1022.6 915.5 L1022.7 913.9 L1022.7 912.4 L1022.8 910.9 L1022.9 909.4 L1022.9 907.9 L1023.0 906.4 L1023.1 904.9 L1023.2 903.4 L1023.3 901.9 L1023.4 900.4 L1023.4 898.9 L1023.5 897.4 L1023.6 895.9 L1023.7 894.4 L1023.8 892.9 L1023.9 891.4 L1023.9 889.9 L1024.0 888.4 L1024.1 886.9 L1024.2 885.4 L1024.3 883.9 L1024.4 882.4 L1024.5 880.9 L1024.5 879.4 L1024.6 877.9 L1024.7 876.4 L1024.8 874.9 L1024.9 873.4 L1025.0 871.9 L1025.1 870.4 L1025.2 868.9 L1025.3 867.4 L1025.4 865.9 L1025.5 864.4 L1025.6 862.9 L1025.7 861.4 L1025.8 859.9 L1025.8 858.4 L1025.9 856.9 L1026.0 855.4 L1026.1 853.9 L1026.2 852.4 L1026.3 850.9 L1026.4 849.4 L1026.5 847.9 L1026.6 846.4 L1026.7 844.9 L1026.8 843.4 L1026.9 841.9 L1027.0 840.4 L1027.1 838.9 L1027.2 837.4 L1027.3 835.9 L1027.4 834.4 L1027.5 832.9 L1027.6 831.4 L1027.8 829.9 L1027.9 828.4 L1028.0 826.9 L1028.1 825.4 L1028.2 823.9 L1028.3 822.4 L1028.4 820.9 L1028.5 819.4 L1028.7 817.9 L1028.8 816.4 L1028.9 814.9 L1029.0 813.4 L1029.1 811.9 L1029.2 810.4 L1029.3 808.9 L1029.4 807.4 L1029.6 805.9 L1029.7 804.4 L1029.8 802.9 L1029.9 801.4 L1030.1 799.9 L1030.2 798.4 L1030.3 796.9 L1030.5 795.4 L1030.7 793.9 L1030.8 792.4 L1031.0 790.9 L1031.2 789.4 L1031.3 787.9 L1031.5 786.5 L1031.6 785.0 L1031.8 783.5 L1032.0 782.0 L1032.1 780.5 L1032.3 779.0 L1032.5 777.5 L1032.6 776.0 L1032.8 774.5 L1033.0 773.0 L1033.2 771.5 L1033.4 770.0 L1033.6 768.5 L1033.8 767.0 L1034.0 765.6 L1034.2 764.1 L1034.4 762.6 L1034.6 761.1 L1034.9 759.6 L1035.1 758.1 L1035.3 756.6 L1035.6 755.2 L1035.9 753.7 L1036.2 752.2 L1036.6 750.8 L1037.0 749.4 L1037.5 748.2 L1038.2 747.0 L1039.1 746.1 L1040.2 745.5 L1041.4 745.1 L1042.7 744.8 L1044.1 744.8 L1045.6 744.8 L1047.1 744.9 L1048.6 745.0 L1050.1 745.1 L1051.6 745.2 L1053.1 745.2 L1054.6 745.2 L1056.1 745.2 L1057.6 745.1 L1059.1 745.0 L1060.6 744.9 L1062.1 744.7 L1063.6 744.6 L1065.1 744.5 L1066.6 744.3 L1068.0 744.2 L1069.5 744.0 L1071.0 743.9 L1072.5 743.8 L1074.0 743.7 L1075.5 743.5 L1077.0 743.4 L1078.5 743.3 L1080.0 743.2 L1081.5 743.1 L1083.0 743.0 L1084.5 742.9 L1086.0 742.8 L1087.5 742.7 L1089.0 742.6 L1090.5 742.5 L1092.0 742.4 L1093.5 742.3 L1095.0 742.2 L1096.5 742.1 L1098.0 742.0 L1099.5 741.9 L1101.0 741.8 L1102.5 741.7 L1104.0 741.6 L1105.5 741.5 L1107.0 741.4 L1108.5 741.3 L1110.0 741.2 L1111.5 741.1 L1113.0 741.0 L1114.5 740.9 L1116.0 740.8 L1117.5 740.6 L1119.0 740.5 L1120.5 740.3 L1122.0 740.2 L1123.5 740.1 L1125.0 739.9 L1126.5 739.7 L1128.0 739.6 L1129.5 739.4 L1131.0 739.3 L1132.5 739.1 L1134.0 739.0 L1135.5 738.8 L1137.0 738.7 L1138.5 738.5 L1140.0 738.4 L1141.5 738.2 L1143.0 738.1 L1144.5 737.9 L1146.0 737.8 L1147.5 737.6 L1149.0 737.5 L1150.5 737.3 L1152.0 737.2 L1153.5 737.0 L1154.9 736.9 L1156.4 736.7 L1157.9 736.5 L1159.4 736.4 L1160.9 736.2 L1162.4 736.0 L1163.9 735.9 L1165.4 735.7 L1166.9 735.5 L1168.4 735.3 L1169.9 735.2 L1171.4 735.0 L1172.9 734.8 L1174.4 734.7 L1175.9 734.5 L1177.4 734.3 L1178.9 734.1 L1180.3 733.9 L1181.8 733.8 L1183.3 733.6 L1184.8 733.4 L1186.3 733.2 L1187.8 733.0 L1189.3 732.8 L1190.8 732.7 L1192.3 732.5 L1193.8 732.3 L1195.3 732.1 L1196.8 731.9 L1198.3 731.7 L1199.7 731.5 L1201.2 731.4 L1202.7 731.2 L1204.2 731.0 L1205.7 730.8 L1207.2 730.7 L1208.7 730.5 L1210.2 730.3 L1211.7 730.1 L1213.2 730.0 L1214.7 729.8 L1216.2 729.6 L1217.7 729.4 L1219.2 729.3 L1220.7 729.1 L1222.1 728.9 L1223.6 728.8 L1225.1 728.6 L1226.6 728.4 L1228.1 728.2 L1229.6 728.1 L1231.1 727.9 L1232.6 727.7 L1234.1 727.5 L1235.6 727.4 L1237.1 727.2 L1238.6 727.0 L1240.1 726.8 L1241.6 726.7 L1243.1 726.5 L1244.5 726.3 L1246.0 726.0 L1247.5 725.7 L1248.9 725.4 L1250.4 725.0 L1251.8 724.6 L1253.3 724.2 L1254.7 723.7 L1256.2 723.3 L1257.6 722.8 L1259.0 722.4 L1260.5 722.0 L1261.9 721.5 L1263.3 721.1 L1264.8 720.6 L1266.2 720.2 L1267.6 719.7 L1269.1 719.3 L1270.5 718.8 L1271.9 718.3 L1273.3 717.7 L1274.7 717.1 L1276.1 716.5 L1277.4 715.9 L1278.8 715.3 L1280.2 714.7 L1281.5 714.0 L1282.9 713.4 L1284.3 712.8 L1285.6 712.1 L1287.0 711.5 L1288.4 710.9 L1289.7 710.3 L1291.1 709.6 L1292.4 709.0 L1293.8 708.3 L1295.2 707.7 L1296.5 707.1 L1297.9 706.5 L1299.2 706.0 L1300.6 705.6 L1302.1 705.3 L1303.5 705.2 L1305.0 705.1 L1306.5 705.0 L1308.0 705.0 L1309.5 705.0 L1311.0 705.0 L1312.5 705.0 L1314.0 705.0 L1315.5 705.0 L1317.0 705.0 L1318.5 705.0 L1320.0 705.0 L1321.5 705.0 L1323.0 705.0 L1324.5 705.0 L1326.0 705.0 L1327.5 705.0 L1329.0 705.0 L1330.5 705.0 L1332.0 705.0 L1333.5 705.0 L1335.1 705.0 L1336.6 705.0 L1338.1 705.0 L1339.6 705.0 L1341.1 705.0 L1342.6 705.0 L1344.1 705.0 L1345.6 705.0 L1347.1 705.0 L1348.6 705.0 L1350.1 705.0 L1351.6 705.0 L1353.1 705.0 L1354.6 705.0 L1356.1 705.0 L1357.6 705.0 L1359.1 705.0 L1360.6 705.0 L1362.1 705.0 L1363.6 705.0 L1365.1 705.0 L1366.6 705.0 L1368.1 705.0 L1369.6 705.0 L1371.1 705.0 L1372.6 705.0 L1374.2 705.0 L1375.7 705.0 L1377.2 705.0 L1378.7 705.0 L1380.2 705.0 L1381.7 705.0 L1383.2 705.0 L1384.7 705.0 L1386.2 705.0 L1387.7 705.0 L1389.2 705.0 L1390.7 705.0 L1392.2 705.0 L1393.7 705.0 L1395.2 705.0 L1396.7 705.0 L1398.2 705.0 L1399.7 705.0 L1401.2 705.0 L1402.7 705.0 L1404.2 705.0 L1405.7 705.0 L1407.2 705.0 L1408.7 705.0 L1410.2 705.0 L1411.7 705.0 L1413.2 705.0 L1414.8 705.0 L1416.3 705.0 L1417.8 705.0 L1419.3 705.0 L1420.8 705.0 L1422.3 705.0 L1423.8 705.0 L1425.3 705.0 L1426.8 705.0 L1428.3 705.0 L1429.8 705.0 L1431.3 705.0 L1432.8 705.0 L1434.3 705.0 L1435.8 705.0 L1437.3 705.0 L1438.8 705.0 L1440.3 705.0 L1441.8 705.0 L1443.3 705.0 L1444.8 705.0 L1446.3 705.0 L1447.8 705.0 L1449.3 705.0 L1450.8 705.0 L1452.3 705.0 L1453.9 705.0 L1455.4 705.0 L1456.9 705.0 L1458.4 705.0 L1459.9 705.0 L1461.4 705.0 L1462.9 705.0 L1464.4 705.0 L1465.9 705.0 L1467.4 705.0 L1468.9 705.0 L1470.4 705.0 L1471.9 705.0 L1473.4 705.0" fill="none" stroke="#3a3a3a" stroke-width="3" stroke-linejoin="round" stroke-linecap="round"/>
<line x1="1300.00" y1="705.00" x2="1473.40" y2="705.00" stroke="#3a3a3a" stroke-width="3.8" stroke-linecap="round"/>
<path d="M1026.8 741.5 L1027.7 742.7 L1028.5 744.0 L1029.4 745.2 L1030.3 746.4 L1031.1 747.7 L1032.0 748.9 L1032.9 750.1 L1033.8 751.3 L1034.7 752.5 L1035.6 753.7 L1036.5 754.9 L1037.4 756.1 L1038.3 757.3 L1039.2 758.5 L1040.1 759.7 L1041.1 760.9 L1042.0 762.1 L1043.0 763.2 L1043.9 764.4 L1044.8 765.6 L1045.8 766.8 L1046.7 767.9 L1047.6 769.1 L1048.5 770.3 L1049.4 771.5 L1050.3 772.7 L1051.2 773.9 L1052.1 775.2 L1053.0 776.4 L1053.9 777.6 L1054.8 778.8 L1055.6 780.0 L1056.5 781.3 L1057.4 782.5 L1058.3 783.7 L1059.2 784.9 L1060.0 786.1 L1060.9 787.3 L1061.8 788.5 L1062.8 789.7 L1063.7 790.9 L1064.6 792.1 L1065.5 793.3 L1066.5 794.5 L1067.4 795.6 L1068.4 796.7 L1069.4 797.9 L1070.4 799.0 L1071.4 800.1 L1072.5 801.2 L1073.5 802.3 L1074.5 803.3 L1075.6 804.4 L1076.7 805.5 L1077.8 806.5 L1078.9 807.5 L1080.0 808.5 L1081.1 809.5 L1082.2 810.5 L1083.3 811.5 L1084.5 812.5 L1085.7 813.4 L1086.8 814.4 L1088.0 815.3 L1089.2 816.2 L1090.4 817.1 L1091.6 818.0 L1092.8 818.9 L1094.1 819.7 L1095.3 820.5 L1096.6 821.3 L1097.8 822.1 L1099.1 822.9 L1100.4 823.7 L1101.7 824.4 L1103.1 825.1 L1104.4 825.8 L1105.7 826.5 L1107.1 827.1 L1108.4 827.8 L1109.8 828.4 L1111.1 829.1 L1112.5 829.7 L1113.9 830.3 L1115.3 830.9 L1116.7 831.5 L1118.1 832.0 L1119.5 832.6 L1120.9 833.1 L1122.3 833.7 L1123.7 834.2 L1125.1 834.7 L1126.5 835.2 L1127.9 835.7 L1129.3 836.2 L1130.7 836.7 L1132.2 837.2 L1133.6 837.6 L1135.0 838.1 L1136.5 838.5 L1137.9 838.9 L1139.4 839.3 L1140.8 839.7 L1142.3 840.1 L1143.7 840.5 L1145.2 840.9 L1146.6 841.3 L1148.1 841.7 L1149.6 842.0 L1151.0 842.4 L1152.5 842.7 L1153.9 843.1 L1155.4 843.5 L1156.9 843.8 L1158.3 844.2 L1159.8 844.5 L1161.3 844.8 L1162.7 845.2 L1164.2 845.5 L1165.7 845.8 L1167.2 846.1 L1168.6 846.4 L1170.1 846.7 L1171.6 847.0 L1173.1 847.3 L1174.6 847.5 L1176.0 847.8 L1177.5 848.1 L1179.0 848.3 L1180.5 848.6 L1182.0 848.9 L1183.4 849.1 L1184.9 849.4 L1186.4 849.7 L1187.9 849.9 L1189.4 850.2 L1190.9 850.4 L1192.3 850.7 L1193.8 851.0 L1195.3 851.2 L1196.8 851.5 L1198.3 851.7 L1199.8 852.0 L1201.2 852.3 L1202.7 852.5 L1204.2 852.8 L1205.7 853.0 L1207.2 853.3 L1208.7 853.6 L1210.1 853.8 L1211.6 854.1 L1213.1 854.3 L1214.6 854.6 L1216.1 854.9 L1217.6 855.1 L1219.0 855.4 L1220.5 855.7 L1222.0 855.9 L1223.5 856.2 L1225.0 856.5 L1226.4 856.8 L1227.9 857.1 L1229.4 857.4 L1230.9 857.7 L1232.3 858.0 L1233.8 858.3 L1235.3 858.6 L1236.7 859.0 L1238.2 859.3 L1239.7 859.6 L1241.1 860.0 L1242.6 860.4 L1244.1 860.7 L1245.5 861.1 L1247.0 861.5 L1248.4 861.9 L1249.8 862.3 L1251.3 862.8 L1252.7 863.2 L1254.1 863.7 L1255.5 864.2 L1257.0 864.7 L1258.4 865.2 L1259.8 865.8 L1261.2 866.3 L1262.6 866.9 L1263.9 867.5 L1265.3 868.0 L1266.7 868.6 L1268.1 869.2 L1269.5 869.8 L1270.9 870.4 L1272.2 871.0 L1273.6 871.6 L1275.0 872.2 L1276.4 872.8 L1277.7 873.5 L1279.1 874.1 L1280.5 874.7 L1281.9 875.3 L1283.2 876.0 L1284.6 876.6 L1286.0 877.2 L1287.3 877.8 L1288.7 878.5 L1290.1 879.1 L1291.4 879.7 L1292.8 880.4 L1294.2 881.0 L1295.5 881.6 L1296.9 882.2 L1298.3 882.9 L1299.7 883.5 L1301.0 884.1 L1302.4 884.7 L1303.8 885.3 L1305.2 885.9 L1306.6 886.5 L1308.0 887.0 L1309.4 887.6 L1310.7 888.2 L1312.1 888.8 L1313.5 889.3 L1314.9 889.9 L1316.3 890.4 L1317.8 890.9 L1319.2 891.4 L1320.6 892.0 L1322.0 892.5 L1323.4 893.0 L1324.8 893.5 L1326.3 894.0 L1327.7 894.5 L1329.1 895.0 L1330.5 895.5 L1331.9 896.0 L1333.3 896.5 L1334.8 897.0 L1336.2 897.5 L1337.6 898.1 L1339.0 898.6 L1340.3 899.2 L1341.7 899.8 L1343.1 900.4 L1344.5 901.0 L1345.8 901.6 L1347.2 902.3 L1348.5 903.0 L1349.9 903.6 L1351.2 904.3 L1352.5 905.0 L1353.9 905.7 L1355.2 906.4 L1356.5 907.2 L1357.8 907.9 L1359.1 908.7 L1360.4 909.4 L1361.7 910.2 L1363.0 911.0 L1364.2 911.8 L1365.5 912.6 L1366.7 913.5 L1368.0 914.3 L1369.2 915.2 L1370.4 916.1 L1371.6 916.9 L1372.8 917.9 L1374.0 918.8 L1375.2 919.7 L1376.4 920.6 L1377.5 921.6 L1378.7 922.5 L1379.9 923.4 L1381.0 924.4 L1382.2 925.3 L1383.4 926.3 L1384.5 927.3 L1385.7 928.3 L1386.8 929.2 L1387.9 930.2 L1389.1 931.2 L1390.2 932.2 L1391.3 933.2 L1392.4 934.3 L1393.5 935.3 L1394.6 936.3 L1395.7 937.4 L1396.8 938.4 L1397.8 939.5 L1398.9 940.5 L1400.0 941.6 L1401.0 942.6 L1402.1 943.7 L1403.2 944.8 L1404.2 945.8 L1405.3 946.9 L1406.4 948.0 L1407.4 949.0 L1408.5 950.1 L1409.5 951.2 L1410.5 952.3 L1411.6 953.4 L1412.6 954.5 L1413.6 955.6 L1414.6 956.7 L1415.6 957.8 L1416.6 959.0 L1417.6 960.1 L1418.6 961.2 L1419.6 962.4 L1420.5 963.5 L1421.5 964.7 L1422.5 965.8 L1423.5 967.0 L1424.4 968.1 L1425.4 969.3 L1426.4 970.5 L1427.3 971.6 L1428.3 972.8 L1429.2 973.9 L1430.2 975.1 L1431.1 976.3 L1432.1 977.4 L1433.0 978.6 L1434.0 979.8 L1434.9 981.0 L1435.9 982.1 L1436.8 983.3 L1437.7 984.5 L1438.6 985.7 L1439.5 986.9 L1440.4 988.1 L1441.3 989.3 L1442.2 990.5 L1443.1 991.7 L1444.0 993.0 L1444.9 994.2 L1445.8 995.4 L1446.7 996.6 L1447.5 997.8 L1448.4 999.1 L1449.3 1000.3 L1450.2 1001.5 L1451.0 1002.7 L1451.9 1004.0 L1452.8 1005.2 L1453.7 1006.4 L1454.6 1007.6 L1455.4 1008.9 L1456.3 1010.1 L1457.2 1011.3 L1458.1 1012.5 L1458.9 1013.7 L1459.8 1015.0 L1460.7 1016.2 L1461.6 1017.4 L1462.4 1018.6 L1463.3 1019.9 L1464.2 1021.1 L1465.1 1022.3 L1465.9 1023.5 L1466.8 1024.8 L1467.7 1026.0" fill="none" stroke="#3a3a3a" stroke-width="3" stroke-linejoin="round" stroke-linecap="round"/>
<path d="M1023.4 962.8 L1023.5 961.3 L1023.5 959.8 L1023.6 958.3 L1023.7 956.8 L1023.8 955.3 L1023.8 953.8 L1023.9 952.3 L1024.0 950.8 L1024.1 949.3 L1024.1 947.8 L1024.2 946.2 L1024.3 944.7 L1024.4 943.2 L1024.4 941.7 L1024.5 940.2 L1024.6 938.7 L1024.7 937.2 L1024.7 935.7 L1024.8 934.2 L1024.9 932.7 L1025.0 931.2 L1025.0 929.7 L1025.1 928.2 L1025.2 926.7 L1025.2 925.2 L1025.3 923.7 L1025.4 922.2 L1025.5 920.7 L1025.5 919.2 L1025.6 917.7 L1025.7 916.1 L1025.8 914.6 L1025.8 913.1 L1025.9 911.6 L1026.0 910.1 L1026.1 908.6 L1026.1 907.1 L1026.2 905.6 L1026.3 904.1 L1026.4 902.6 L1026.4 901.1 L1026.5 899.6 L1026.6 898.1 L1026.7 896.6 L1026.7 895.1 L1026.8 893.6 L1026.9 892.1 L1027.0 890.6 L1027.0 889.1 L1027.1 887.6 L1027.2 886.1 L1027.3 884.5 L1027.4 883.0 L1027.4 881.5 L1027.5 880.0 L1027.6 878.5 L1027.7 877.0 L1027.8 875.5 L1027.9 874.0 L1028.0 872.5 L1028.1 871.0 L1028.2 869.5 L1028.3 868.0 L1028.4 866.5 L1028.5 865.0 L1028.6 863.5 L1028.7 862.0 L1028.8 860.5 L1028.9 859.0 L1029.0 857.5 L1029.1 856.0 L1029.2 854.5 L1029.3 853.0 L1029.4 851.5 L1029.5 850.0 L1029.6 848.5 L1029.6 847.0 L1029.7 845.5 L1029.8 843.9 L1029.9 842.4 L1030.0 840.9 L1030.0 839.4 L1030.1 837.9 L1030.2 836.4 L1030.3 834.9 L1030.3 833.4 L1030.4 831.9 L1030.5 830.4 L1030.6 828.9 L1030.7 827.4 L1030.8 825.9 L1030.9 824.4 L1031.0 822.9 L1031.1 821.4 L1031.2 819.9 L1031.3 818.4 L1031.4 816.9 L1031.5 815.4 L1031.6 813.9 L1031.7 812.4 L1031.8 810.9 L1031.9 809.4 L1032.0 807.9 L1032.1 806.3 L1032.2 804.8 L1032.3 803.3 L1032.4 801.8 L1032.6 800.3 L1032.7 798.8 L1032.9 797.4 L1033.1 795.9 L1033.3 794.4 L1033.5 792.9 L1033.7 791.4 L1034.0 789.9 L1034.3 788.4 L1034.6 787.0 L1035.0 785.5 L1035.4 784.1 L1035.9 782.7 L1036.5 781.4 L1037.2 780.2 L1038.0 779.2 L1039.0 778.4 L1040.2 777.8 L1041.4 777.3 L1042.8 777.0 L1044.3 776.8 L1045.7 776.6 L1047.2 776.4 L1048.7 776.2 L1050.2 776.0 L1051.7 775.9 L1053.2 775.7 L1054.7 775.5 L1056.2 775.3 L1057.7 775.1 L1059.2 775.0 L1060.7 774.8 L1062.2 774.6 L1063.7 774.3 L1065.2 774.1 L1066.7 773.9 L1068.2 773.7 L1069.6 773.5 L1071.1 773.2 L1072.6 773.0 L1074.1 772.8 L1075.6 772.6 L1077.1 772.3 L1078.6 772.1 L1080.1 771.9 L1081.6 771.7 L1083.0 771.4 L1084.5 771.2 L1086.0 771.0 L1087.5 770.8 L1089.0 770.5 L1090.5 770.3 L1092.0 770.1 L1093.5 769.9 L1095.0 769.7 L1096.5 769.4 L1098.0 769.2 L1099.4 769.0 L1100.9 768.8 L1102.4 768.6 L1103.9 768.3 L1105.4 768.1 L1106.9 767.9 L1108.4 767.7 L1109.9 767.5 L1111.4 767.3 L1112.9 767.1 L1114.4 766.9 L1115.9 766.7 L1117.3 766.5 L1118.8 766.3 L1120.3 766.2 L1121.8 766.0 L1123.3 765.9 L1124.8 765.7 L1126.3 765.6 L1127.8 765.4 L1129.3 765.3 L1130.8 765.1 L1132.3 765.0 L1133.8 764.8 L1135.3 764.7 L1136.8 764.5 L1138.3 764.4 L1139.8 764.3 L1141.3 764.1 L1142.8 764.0 L1144.3 763.9 L1145.8 763.8 L1147.3 763.7 L1148.9 763.6 L1150.4 763.6 L1151.9 763.5 L1153.4 763.4 L1154.9 763.3 L1156.4 763.2 L1157.9 763.2 L1159.4 763.1 L1160.9 763.0 L1162.4 762.9 L1163.9 762.9 L1165.4 762.8 L1166.9 762.7 L1168.4 762.6 L1169.9 762.5 L1171.4 762.5 L1172.9 762.4 L1174.4 762.3 L1175.9 762.2 L1177.4 762.1 L1178.9 762.0 L1180.4 761.9 L1181.9 761.8 L1183.4 761.7 L1185.0 761.5 L1186.5 761.4 L1188.0 761.3 L1189.5 761.1 L1191.0 761.0 L1192.5 760.9 L1194.0 760.7 L1195.5 760.6 L1197.0 760.5 L1198.5 760.3 L1200.0 760.2 L1201.5 760.1 L1203.0 759.9 L1204.5 759.8 L1206.0 759.6 L1207.5 759.5 L1208.9 759.3 L1210.4 759.1 L1211.9 758.8 L1213.4 758.6 L1214.9 758.3 L1216.4 758.0 L1217.8 757.7 L1219.3 757.4 L1220.8 757.1 L1222.3 756.8 L1223.7 756.4 L1225.2 756.1 L1226.7 755.8 L1228.2 755.5 L1229.6 755.2 L1231.1 754.9 L1232.6 754.6 L1234.0 754.2 L1235.5 753.9 L1237.0 753.6 L1238.5 753.2 L1239.9 752.9 L1241.4 752.6 L1242.9 752.3 L1244.3 751.9 L1245.8 751.6 L1247.3 751.3 L1248.8 751.0 L1250.2 750.6 L1251.7 750.3 L1253.2 750.0 L1254.6 749.7 L1256.1 749.3 L1257.6 749.0 L1259.0 748.7 L1260.5 748.3 L1262.0 748.0 L1263.5 747.7 L1264.9 747.3 L1266.4 747.0 L1267.9 746.6 L1269.3 746.3 L1270.8 745.9 L1272.2 745.5 L1273.7 745.1 L1275.1 744.7 L1276.6 744.4 L1278.1 744.0 L1279.5 743.6 L1281.0 743.2 L1282.4 742.8 L1283.9 742.4 L1285.3 742.0 L1286.8 741.7 L1288.2 741.3 L1289.7 740.9 L1291.1 740.5 L1292.6 740.0 L1294.0 739.6 L1295.4 739.0 L1296.8 738.5 L1298.2 737.9 L1299.5 737.2 L1300.9 736.6 L1302.3 735.9 L1303.6 735.2 L1304.9 734.6 L1306.3 733.9 L1307.6 733.2 L1309.0 732.5 L1310.3 731.9 L1311.6 731.1 L1312.9 730.4 L1314.2 729.6 L1315.4 728.7 L1316.6 727.8 L1317.8 726.9 L1319.0 725.9 L1320.1 725.0 L1321.3 724.0 L1322.4 723.0 L1323.5 722.0 L1324.7 721.1 L1325.8 720.1 L1327.0 719.1 L1328.1 718.1 L1329.3 717.1 L1330.4 716.1 L1331.6 715.2 L1332.7 714.2 L1333.8 713.2 L1335.0 712.2 L1336.1 711.2 L1337.3 710.3 L1338.4 709.3 L1339.6 708.4 L1340.7 707.5 L1341.9 706.7 L1343.2 706.1 L1344.5 705.6 L1345.9 705.3 L1347.3 705.1 L1348.8 705.1 L1350.3 705.0 L1351.8 705.0 L1353.3 705.0 L1354.8 705.0 L1356.3 705.0 L1357.8 705.0 L1359.3 705.0 L1360.8 705.0 L1362.3 705.0 L1363.8 705.0 L1365.3 705.0 L1366.9 705.0 L1368.4 705.0 L1369.9 705.0 L1371.4 705.0 L1372.9 705.0 L1374.4 705.0 L1375.9 705.0 L1377.4 705.0 L1378.9 705.0 L1380.4 705.0 L1381.9 705.0 L1383.4 705.0 L1384.9 705.0 L1386.4 705.0 L1387.9 705.0 L1389.5 705.0 L1391.0 705.0 L1392.5 705.0 L1394.0 705.0 L1395.5 705.0 L1397.0 705.0 L1398.5 705.0 L1400.0 705.0 L1401.5 705.0 L1403.0 705.0 L1404.5 705.0 L1406.0 705.0 L1407.5 705.0 L1409.0 705.0 L1410.5 705.0 L1412.1 705.0 L1413.6 705.0 L1415.1 705.0 L1416.6 705.0 L1418.1 705.0 L1419.6 705.0 L1421.1 705.0 L1422.6 705.0" fill="none" stroke="#ff2a2a" stroke-width="3" stroke-linejoin="round" stroke-linecap="round"/>
<line x1="1343.00" y1="705.00" x2="1422.60" y2="705.00" stroke="#ff2a2a" stroke-width="3.8" stroke-linecap="round"/>
<path d="M1025.5 766.5 L1026.2 767.8 L1026.9 769.1 L1027.7 770.5 L1028.4 771.8 L1029.1 773.1 L1029.8 774.5 L1030.4 775.8 L1031.1 777.1 L1031.8 778.5 L1032.4 779.8 L1033.1 781.2 L1033.7 782.6 L1034.3 783.9 L1035.0 785.3 L1035.6 786.6 L1036.2 788.0 L1036.8 789.3 L1037.5 790.7 L1038.2 792.0 L1038.9 793.3 L1039.6 794.6 L1040.4 795.9 L1041.1 797.1 L1042.0 798.3 L1042.8 799.6 L1043.7 800.8 L1044.6 801.9 L1045.5 803.1 L1046.5 804.2 L1047.5 805.4 L1048.5 806.5 L1049.5 807.6 L1050.6 808.6 L1051.6 809.7 L1052.7 810.7 L1053.8 811.8 L1054.9 812.8 L1056.0 813.8 L1057.2 814.8 L1058.3 815.7 L1059.5 816.7 L1060.6 817.6 L1061.8 818.6 L1063.0 819.5 L1064.2 820.4 L1065.4 821.3 L1066.6 822.2 L1067.9 823.0 L1069.1 823.9 L1070.4 824.7 L1071.6 825.5 L1072.9 826.3 L1074.2 827.1 L1075.5 827.9 L1076.8 828.6 L1078.1 829.4 L1079.4 830.1 L1080.7 830.8 L1082.1 831.5 L1083.4 832.2 L1084.7 832.9 L1086.1 833.5 L1087.4 834.2 L1088.8 834.8 L1090.2 835.5 L1091.5 836.1 L1092.9 836.8 L1094.3 837.4 L1095.6 838.0 L1097.0 838.6 L1098.4 839.2 L1099.8 839.7 L1101.2 840.3 L1102.6 840.9 L1104.0 841.4 L1105.4 841.9 L1106.8 842.5 L1108.2 843.0 L1109.6 843.5 L1111.1 844.0 L1112.5 844.5 L1113.9 845.0 L1115.3 845.5 L1116.7 846.0 L1118.2 846.5 L1119.6 847.0 L1121.0 847.5 L1122.5 848.0 L1123.9 848.5 L1125.3 848.9 L1126.7 849.4 L1128.2 849.8 L1129.6 850.3 L1131.1 850.7 L1132.5 851.1 L1134.0 851.5 L1135.4 851.9 L1136.9 852.3 L1138.3 852.7 L1139.8 853.1 L1141.3 853.4 L1142.7 853.8 L1144.2 854.1 L1145.7 854.5 L1147.1 854.8 L1148.6 855.1 L1150.1 855.5 L1151.5 855.8 L1153.0 856.1 L1154.5 856.4 L1156.0 856.8 L1157.4 857.1 L1158.9 857.4 L1160.4 857.7 L1161.8 858.1 L1163.3 858.4 L1164.8 858.7 L1166.3 859.0 L1167.7 859.3 L1169.2 859.6 L1170.7 859.9 L1172.2 860.2 L1173.7 860.5 L1175.1 860.8 L1176.6 861.1 L1178.1 861.4 L1179.6 861.7 L1181.0 862.0 L1182.5 862.3 L1184.0 862.6 L1185.5 862.9 L1186.9 863.2 L1188.4 863.6 L1189.9 863.9 L1191.4 864.2 L1192.8 864.5 L1194.3 864.8 L1195.8 865.1 L1197.3 865.5 L1198.7 865.8 L1200.2 866.1 L1201.7 866.5 L1203.1 866.8 L1204.6 867.2 L1206.1 867.5 L1207.5 867.9 L1209.0 868.3 L1210.5 868.6 L1211.9 869.0 L1213.4 869.4 L1214.8 869.7 L1216.3 870.1 L1217.7 870.5 L1219.2 870.9 L1220.6 871.3 L1222.1 871.8 L1223.5 872.2 L1224.9 872.7 L1226.3 873.2 L1227.8 873.7 L1229.1 874.2 L1230.5 874.8 L1231.9 875.3 L1233.3 875.9 L1234.7 876.6 L1236.0 877.2 L1237.4 877.9 L1238.7 878.5 L1240.1 879.2 L1241.4 879.9 L1242.7 880.6 L1244.1 881.3 L1245.4 882.0 L1246.7 882.7 L1248.0 883.4 L1249.4 884.2 L1250.7 884.9 L1252.0 885.6 L1253.3 886.4 L1254.6 887.1 L1255.9 887.8 L1257.2 888.6 L1258.6 889.3 L1259.9 890.1 L1261.2 890.8 L1262.5 891.6 L1263.8 892.3 L1265.1 893.1 L1266.4 893.8 L1267.7 894.5 L1269.1 895.2 L1270.4 895.9 L1271.7 896.6 L1273.1 897.3 L1274.4 898.0 L1275.8 898.7 L1277.1 899.3 L1278.5 900.0 L1279.8 900.6 L1281.2 901.3 L1282.6 901.9 L1283.9 902.6 L1285.3 903.2 L1286.7 903.8 L1288.0 904.4 L1289.4 905.1 L1290.8 905.7 L1292.2 906.3 L1293.6 906.9 L1294.9 907.5 L1296.3 908.1 L1297.7 908.7 L1299.1 909.2 L1300.5 909.8 L1301.9 910.4 L1303.3 911.0 L1304.7 911.6 L1306.1 912.1 L1307.4 912.7 L1308.8 913.3 L1310.2 913.9 L1311.6 914.5 L1312.9 915.2 L1314.3 915.8 L1315.6 916.5 L1317.0 917.2 L1318.3 917.9 L1319.6 918.6 L1320.9 919.3 L1322.2 920.1 L1323.5 920.8 L1324.8 921.6 L1326.1 922.4 L1327.3 923.2 L1328.6 924.0 L1329.9 924.9 L1331.1 925.7 L1332.4 926.5 L1333.6 927.4 L1334.8 928.3 L1336.0 929.1 L1337.2 930.0 L1338.4 930.9 L1339.6 931.9 L1340.8 932.8 L1342.0 933.8 L1343.1 934.7 L1344.2 935.7 L1345.4 936.7 L1346.5 937.7 L1347.6 938.7 L1348.7 939.8 L1349.7 940.8 L1350.8 941.9 L1351.9 942.9 L1353.0 944.0 L1354.0 945.0 L1355.1 946.1 L1356.2 947.2 L1357.2 948.2 L1358.3 949.3 L1359.3 950.4 L1360.4 951.5 L1361.4 952.6 L1362.5 953.7 L1363.5 954.8 L1364.5 955.9 L1365.5 957.0 L1366.5 958.1 L1367.5 959.2 L1368.5 960.4 L1369.5 961.5 L1370.5 962.6 L1371.5 963.8 L1372.5 964.9 L1373.4 966.1 L1374.4 967.2 L1375.4 968.4 L1376.4 969.5 L1377.3 970.7 L1378.3 971.9 L1379.3 973.0 L1380.2 974.2 L1381.2 975.3 L1382.1 976.5 L1383.1 977.7 L1384.1 978.8 L1385.0 980.0 L1386.0 981.2 L1386.9 982.3 L1387.9 983.5 L1388.8 984.7 L1389.8 985.8 L1390.7 987.0 L1391.6 988.2 L1392.6 989.4 L1393.5 990.6 L1394.4 991.8 L1395.4 992.9 L1396.3 994.1 L1397.2 995.3 L1398.1 996.5 L1399.0 997.7 L1400.0 998.9 L1400.9 1000.1 L1401.8 1001.3 L1402.7 1002.5 L1403.6 1003.7 L1404.5 1005.0 L1405.4 1006.2 L1406.2 1007.4 L1407.1 1008.6 L1408.0 1009.9 L1408.9 1011.1 L1409.7 1012.3 L1410.6 1013.6 L1411.4 1014.8 L1412.3 1016.0 L1413.2 1017.3 L1414.0 1018.5 L1414.9 1019.8 L1415.7 1021.0 L1416.6 1022.3 L1417.4 1023.5 L1418.3 1024.8 L1419.1 1026.0" fill="none" stroke="#ff2a2a" stroke-width="3" stroke-linejoin="round" stroke-linecap="round"/>
<path d="M1023.5 894.0 L1023.6 892.5 L1023.8 891.0 L1023.9 889.5 L1024.0 888.0 L1024.1 886.5 L1024.2 885.0 L1024.2 883.5 L1024.3 882.0 L1024.3 880.5 L1024.4 879.0 L1024.5 877.5 L1024.5 875.9 L1024.6 874.4 L1024.7 872.9 L1024.7 871.4 L1024.8 869.9 L1024.8 868.4 L1024.9 866.9 L1025.0 865.4 L1025.0 863.9 L1025.1 862.4 L1025.1 860.9 L1025.2 859.4 L1025.3 857.9 L1025.3 856.4 L1025.4 854.9 L1025.5 853.4 L1025.5 851.9 L1025.6 850.3 L1025.6 848.8 L1025.7 847.3 L1025.8 845.8 L1025.8 844.3 L1025.9 842.8 L1026.0 841.3 L1026.0 839.8 L1026.1 838.3 L1026.2 836.8 L1026.2 835.3 L1026.3 833.8 L1026.4 832.3 L1026.5 830.8 L1026.5 829.3 L1026.6 827.8 L1026.7 826.3 L1026.8 824.8 L1026.8 823.2 L1026.9 821.7 L1027.0 820.2 L1027.1 818.7 L1027.1 817.2 L1027.2 815.7 L1027.3 814.2 L1027.4 812.7 L1027.4 811.2 L1027.5 809.7 L1027.6 808.2 L1027.7 806.7 L1027.7 805.2 L1027.8 803.7 L1027.9 802.2 L1028.0 800.7 L1028.0 799.2 L1028.1 797.7 L1028.2 796.1 L1028.3 794.6 L1028.3 793.1 L1028.4 791.6 L1028.5 790.1 L1028.6 788.6 L1028.7 787.1 L1028.8 785.6 L1028.9 784.1 L1029.0 782.6 L1029.1 781.1 L1029.1 779.6 L1029.2 778.1 L1029.3 776.6 L1029.4 775.1 L1029.5 773.6 L1029.6 772.1 L1029.7 770.6 L1029.8 769.1 L1030.0 767.6 L1030.2 766.1 L1030.5 764.7 L1030.9 763.3 L1031.4 762.0 L1032.1 760.8 L1033.0 759.6 L1033.9 758.4 L1034.9 757.3 L1035.9 756.3 L1037.0 755.3 L1038.2 754.5 L1039.5 753.9 L1040.8 753.3 L1042.2 752.9 L1043.7 752.6 L1045.1 752.2 L1046.6 752.0 L1048.1 751.7 L1049.6 751.5 L1051.1 751.4 L1052.6 751.2 L1054.1 751.0 L1055.6 750.9 L1057.1 750.7 L1058.6 750.6 L1060.1 750.5 L1061.6 750.3 L1063.1 750.2 L1064.6 750.0 L1066.1 749.9 L1067.6 749.7 L1069.1 749.6 L1070.6 749.4 L1072.1 749.3 L1073.6 749.1 L1075.1 749.0 L1076.6 748.8 L1078.1 748.7 L1079.6 748.5 L1081.1 748.4 L1082.6 748.2 L1084.1 748.1 L1085.6 747.9 L1087.1 747.8 L1088.6 747.6 L1090.1 747.5 L1091.6 747.3 L1093.1 747.2 L1094.6 747.0 L1096.1 746.9 L1097.6 746.7 L1099.1 746.6 L1100.6 746.4 L1102.1 746.2 L1103.6 746.1 L1105.1 745.9 L1106.6 745.8 L1108.1 745.6 L1109.6 745.5 L1111.1 745.3 L1112.6 745.1 L1114.0 745.0 L1115.5 744.8 L1117.0 744.6 L1118.5 744.4 L1120.0 744.2 L1121.5 744.0 L1123.0 743.7 L1124.5 743.5 L1126.0 743.3 L1127.5 743.1 L1129.0 742.9 L1130.5 742.6 L1132.0 742.4 L1133.4 742.2 L1134.9 742.0 L1136.4 741.8 L1137.9 741.5 L1139.4 741.3 L1140.9 741.1 L1142.4 740.9 L1143.9 740.7 L1145.4 740.4 L1146.9 740.2 L1148.4 740.0 L1149.8 739.8 L1151.3 739.6 L1152.8 739.4 L1154.3 739.1 L1155.8 738.9 L1157.3 738.7 L1158.8 738.5 L1160.3 738.3 L1161.8 738.1 L1163.3 737.8 L1164.8 737.6 L1166.3 737.4 L1167.7 737.2 L1169.2 737.0 L1170.7 736.7 L1172.2 736.5 L1173.7 736.3 L1175.2 736.1 L1176.7 735.9 L1178.2 735.7 L1179.7 735.5 L1181.2 735.2 L1182.7 735.0 L1184.2 734.8 L1185.7 734.6 L1187.1 734.4 L1188.6 734.2 L1190.1 734.0 L1191.6 733.7 L1193.1 733.5 L1194.6 733.3 L1196.1 733.0 L1197.6 732.8 L1199.1 732.6 L1200.5 732.3 L1202.0 732.1 L1203.5 731.8 L1205.0 731.6 L1206.5 731.4 L1208.0 731.1 L1209.5 730.9 L1211.0 730.7 L1212.5 730.4 L1213.9 730.2 L1215.4 729.9 L1216.9 729.7 L1218.4 729.5 L1219.9 729.2 L1221.4 729.0 L1222.9 728.8 L1224.4 728.5 L1225.8 728.2 L1227.3 728.0 L1228.8 727.6 L1230.3 727.3 L1231.7 727.0 L1233.2 726.6 L1234.6 726.2 L1236.1 725.8 L1237.6 725.4 L1239.0 725.0 L1240.5 724.6 L1241.9 724.2 L1243.4 723.9 L1244.8 723.5 L1246.3 723.1 L1247.7 722.7 L1249.2 722.3 L1250.7 721.9 L1252.1 721.5 L1253.5 721.1 L1255.0 720.6 L1256.4 720.1 L1257.8 719.6 L1259.2 719.0 L1260.5 718.4 L1261.9 717.7 L1263.3 717.1 L1264.6 716.4 L1266.0 715.7 L1267.3 715.0 L1268.7 714.4 L1270.0 713.7 L1271.3 713.0 L1272.7 712.4 L1274.1 711.7 L1275.4 711.1 L1276.8 710.5 L1278.2 709.9 L1279.6 709.3 L1281.0 708.7 L1282.3 708.1 L1283.7 707.5 L1285.1 707.0 L1286.5 706.4 L1287.9 706.0 L1289.3 705.6 L1290.8 705.3 L1292.2 705.2 L1293.7 705.1 L1295.2 705.0 L1296.7 705.0 L1298.2 705.0 L1299.7 705.0 L1301.2 705.0 L1302.7 705.0 L1304.2 705.0 L1305.8 705.0 L1307.3 705.0 L1308.8 705.0 L1310.3 705.0 L1311.8 705.0 L1313.3 705.0 L1314.8 705.0 L1316.3 705.0 L1317.8 705.0 L1319.3 705.0 L1320.8 705.0 L1322.3 705.0 L1323.8 705.0 L1325.4 705.0 L1326.9 705.0 L1328.4 705.0 L1329.9 705.0 L1331.4 705.0 L1332.9 705.0 L1334.4 705.0 L1335.9 705.0 L1337.4 705.0 L1338.9 705.0 L1340.4 705.0 L1341.9 705.0 L1343.4 705.0 L1344.9 705.0 L1346.5 705.0 L1348.0 705.0 L1349.5 705.0 L1351.0 705.0 L1352.5 705.0 L1354.0 705.0 L1355.5 705.0 L1357.0 705.0 L1358.5 705.0 L1360.0 705.0 L1361.5 705.0 L1363.0 705.0 L1364.5 705.0 L1366.0 705.0 L1367.6 705.0 L1369.1 705.0 L1370.6 705.0 L1372.1 705.0 L1373.6 705.0 L1375.1 705.0 L1376.6 705.0 L1378.1 705.0 L1379.6 705.0 L1381.1 705.0 L1382.6 705.0 L1384.1 705.0 L1385.6 705.0 L1387.1 705.0 L1388.7 705.0 L1390.2 705.0 L1391.7 705.0 L1393.2 705.0 L1394.7 705.0 L1396.2 705.0 L1397.7 705.0" fill="none" stroke="#0d5ce6" stroke-width="3" stroke-linejoin="round" stroke-linecap="round"/>
<line x1="1289.00" y1="705.00" x2="1397.70" y2="705.00" stroke="#0d5ce6" stroke-width="3.8" stroke-linecap="round"/>
<path d="M1029.5 783.0 L1030.0 784.4 L1030.5 785.8 L1031.0 787.2 L1031.5 788.6 L1032.1 790.0 L1032.6 791.4 L1033.2 792.8 L1033.8 794.1 L1034.5 795.4 L1035.2 796.7 L1035.9 798.0 L1036.6 799.3 L1037.4 800.6 L1038.2 801.9 L1039.0 803.1 L1039.8 804.3 L1040.7 805.6 L1041.6 806.8 L1042.5 808.0 L1043.3 809.2 L1044.2 810.4 L1045.1 811.6 L1046.0 812.8 L1046.9 814.0 L1047.8 815.3 L1048.7 816.5 L1049.6 817.7 L1050.5 818.9 L1051.4 820.1 L1052.3 821.3 L1053.1 822.5 L1054.0 823.8 L1054.9 825.0 L1055.8 826.2 L1056.7 827.4 L1057.6 828.6 L1058.5 829.8 L1059.5 831.0 L1060.4 832.1 L1061.3 833.3 L1062.3 834.5 L1063.3 835.6 L1064.2 836.8 L1065.2 837.9 L1066.2 839.1 L1067.2 840.2 L1068.2 841.3 L1069.2 842.4 L1070.3 843.5 L1071.3 844.6 L1072.3 845.7 L1073.4 846.7 L1074.5 847.8 L1075.5 848.9 L1076.6 849.9 L1077.7 850.9 L1078.8 852.0 L1079.9 853.0 L1081.0 854.0 L1082.1 855.0 L1083.3 856.0 L1084.4 856.9 L1085.6 857.9 L1086.8 858.8 L1087.9 859.7 L1089.1 860.7 L1090.3 861.6 L1091.6 862.4 L1092.8 863.3 L1094.0 864.2 L1095.2 865.0 L1096.5 865.9 L1097.7 866.7 L1099.0 867.5 L1100.3 868.3 L1101.5 869.2 L1102.8 870.0 L1104.1 870.7 L1105.4 871.5 L1106.7 872.3 L1107.9 873.1 L1109.2 873.9 L1110.5 874.7 L1111.8 875.4 L1113.1 876.2 L1114.4 876.9 L1115.7 877.7 L1117.0 878.4 L1118.4 879.1 L1119.7 879.8 L1121.0 880.5 L1122.4 881.2 L1123.7 881.8 L1125.1 882.4 L1126.4 883.0 L1127.8 883.6 L1129.2 884.2 L1130.6 884.8 L1132.0 885.3 L1133.4 885.8 L1134.8 886.3 L1136.2 886.8 L1137.7 887.3 L1139.1 887.8 L1140.5 888.3 L1141.9 888.7 L1143.4 889.2 L1144.8 889.6 L1146.3 890.1 L1147.7 890.5 L1149.1 890.9 L1150.6 891.3 L1152.0 891.7 L1153.5 892.1 L1154.9 892.5 L1156.4 892.9 L1157.9 893.3 L1159.3 893.7 L1160.8 894.0 L1162.2 894.4 L1163.7 894.8 L1165.1 895.2 L1166.6 895.5 L1168.1 895.9 L1169.5 896.2 L1171.0 896.6 L1172.5 897.0 L1173.9 897.3 L1175.4 897.7 L1176.8 898.1 L1178.3 898.4 L1179.8 898.8 L1181.2 899.2 L1182.7 899.5 L1184.1 899.9 L1185.6 900.3 L1187.1 900.6 L1188.5 901.0 L1190.0 901.4 L1191.5 901.7 L1192.9 902.1 L1194.4 902.5 L1195.8 902.8 L1197.3 903.2 L1198.8 903.6 L1200.2 903.9 L1201.7 904.3 L1203.1 904.7 L1204.6 905.1 L1206.0 905.5 L1207.5 905.9 L1208.9 906.3 L1210.4 906.7 L1211.8 907.1 L1213.3 907.6 L1214.7 908.0 L1216.1 908.4 L1217.6 908.9 L1219.0 909.4 L1220.4 909.8 L1221.9 910.3 L1223.3 910.8 L1224.7 911.3 L1226.1 911.8 L1227.6 912.3 L1229.0 912.8 L1230.4 913.3 L1231.8 913.8 L1233.2 914.3 L1234.6 914.8 L1236.0 915.3 L1237.4 915.9 L1238.8 916.4 L1240.2 917.0 L1241.6 917.6 L1243.0 918.2 L1244.3 918.8 L1245.7 919.5 L1247.1 920.1 L1248.4 920.8 L1249.7 921.5 L1251.0 922.2 L1252.4 922.9 L1253.7 923.6 L1255.0 924.4 L1256.3 925.1 L1257.6 925.9 L1258.9 926.6 L1260.2 927.4 L1261.5 928.2 L1262.8 928.9 L1264.1 929.7 L1265.4 930.5 L1266.6 931.3 L1267.9 932.0 L1269.2 932.8 L1270.5 933.6 L1271.8 934.4 L1273.1 935.1 L1274.4 935.9 L1275.7 936.7 L1277.0 937.5 L1278.3 938.2 L1279.6 939.0 L1280.9 939.8 L1282.1 940.6 L1283.4 941.3 L1284.7 942.1 L1286.0 942.9 L1287.3 943.7 L1288.6 944.5 L1289.9 945.2 L1291.2 946.0 L1292.5 946.8 L1293.7 947.6 L1295.0 948.4 L1296.3 949.2 L1297.6 949.9 L1298.9 950.7 L1300.2 951.5 L1301.4 952.3 L1302.7 953.1 L1304.0 953.9 L1305.3 954.7 L1306.5 955.5 L1307.8 956.3 L1309.1 957.1 L1310.4 957.9 L1311.6 958.7 L1312.9 959.6 L1314.2 960.4 L1315.4 961.2 L1316.7 962.0 L1317.9 962.9 L1319.2 963.7 L1320.4 964.6 L1321.6 965.4 L1322.9 966.3 L1324.1 967.2 L1325.3 968.1 L1326.5 969.0 L1327.7 969.9 L1328.9 970.8 L1330.1 971.7 L1331.2 972.7 L1332.4 973.6 L1333.5 974.6 L1334.7 975.6 L1335.8 976.5 L1337.0 977.5 L1338.1 978.5 L1339.3 979.5 L1340.4 980.5 L1341.5 981.5 L1342.7 982.4 L1343.8 983.4 L1344.9 984.4 L1346.1 985.4 L1347.2 986.4 L1348.3 987.4 L1349.4 988.4 L1350.6 989.4 L1351.7 990.4 L1352.8 991.4 L1353.9 992.5 L1355.0 993.5 L1356.1 994.5 L1357.3 995.5 L1358.4 996.5 L1359.5 997.6 L1360.6 998.6 L1361.7 999.6 L1362.8 1000.6 L1363.9 1001.7 L1364.9 1002.7 L1366.0 1003.8 L1367.1 1004.8 L1368.2 1005.9 L1369.2 1007.0 L1370.3 1008.0 L1371.3 1009.1 L1372.3 1010.2 L1373.4 1011.3 L1374.4 1012.4 L1375.4 1013.5 L1376.4 1014.7 L1377.4 1015.8 L1378.4 1016.9 L1379.4 1018.0 L1380.4 1019.2 L1381.4 1020.3 L1382.4 1021.4 L1383.3 1022.6 L1384.3 1023.7 L1385.3 1024.9 L1386.3 1026.0" fill="none" stroke="#0d5ce6" stroke-width="3" stroke-linejoin="round" stroke-linecap="round"/>
<path d="M1022.5 872.8 L1022.6 871.3 L1022.8 869.8 L1022.9 868.3 L1023.0 866.8 L1023.2 865.3 L1023.3 863.8 L1023.4 862.3 L1023.6 860.8 L1023.7 859.3 L1023.8 857.8 L1023.9 856.3 L1024.1 854.8 L1024.2 853.3 L1024.3 851.8 L1024.5 850.3 L1024.6 848.8 L1024.7 847.3 L1024.9 845.8 L1025.0 844.3 L1025.2 842.8 L1025.3 841.3 L1025.4 839.8 L1025.6 838.3 L1025.7 836.8 L1025.9 835.3 L1026.0 833.8 L1026.1 832.3 L1026.3 830.8 L1026.4 829.3 L1026.5 827.8 L1026.7 826.3 L1026.8 824.8 L1027.0 823.3 L1027.1 821.8 L1027.2 820.3 L1027.4 818.8 L1027.5 817.3 L1027.7 815.8 L1027.8 814.3 L1027.9 812.8 L1028.1 811.3 L1028.2 809.8 L1028.4 808.3 L1028.5 806.8 L1028.7 805.3 L1028.8 803.8 L1028.9 802.3 L1029.1 800.8 L1029.2 799.3 L1029.4 797.8 L1029.5 796.3 L1029.6 794.8 L1029.8 793.3 L1029.9 791.8 L1030.1 790.4 L1030.2 788.9 L1030.4 787.4 L1030.6 785.9 L1030.9 784.5 L1031.4 783.2 L1032.0 782.0 L1032.8 780.9 L1033.8 779.8 L1034.9 778.9 L1036.0 778.0 L1037.2 777.1 L1038.4 776.2 L1039.6 775.3 L1040.8 774.4 L1042.0 773.5 L1043.2 772.5 L1044.4 771.6 L1045.6 770.7 L1046.8 769.7 L1047.9 768.8 L1049.1 767.9 L1050.3 766.9 L1051.5 766.0 L1052.7 765.1 L1053.8 764.1 L1055.0 763.2 L1056.2 762.2 L1057.4 761.3 L1058.5 760.3 L1059.7 759.4 L1060.9 758.5 L1062.0 757.5 L1063.2 756.6 L1064.4 755.7 L1065.6 754.8 L1066.9 754.1 L1068.2 753.3 L1069.5 752.7 L1070.9 752.2 L1072.3 751.7 L1073.8 751.2 L1075.2 750.8 L1076.6 750.4 L1078.1 750.0 L1079.5 749.6 L1081.0 749.3 L1082.5 749.0 L1084.0 748.7 L1085.4 748.5 L1086.9 748.3 L1088.4 748.1 L1089.9 747.9 L1091.4 747.8 L1092.9 747.6 L1094.4 747.4 L1095.9 747.2 L1097.4 747.0 L1098.9 746.9 L1100.4 746.7 L1101.9 746.5 L1103.4 746.3 L1104.9 746.1 L1106.4 746.0 L1107.9 745.8 L1109.4 745.6 L1110.8 745.4 L1112.3 745.2 L1113.8 745.0 L1115.3 744.8 L1116.8 744.6 L1118.3 744.4 L1119.8 744.1 L1121.3 743.9 L1122.8 743.6 L1124.2 743.4 L1125.7 743.1 L1127.2 742.9 L1128.7 742.6 L1130.2 742.4 L1131.7 742.1 L1133.1 741.9 L1134.6 741.6 L1136.1 741.4 L1137.6 741.1 L1139.1 740.9 L1140.6 740.6 L1142.1 740.4 L1143.5 740.1 L1145.0 739.9 L1146.5 739.7 L1148.0 739.4 L1149.5 739.2 L1151.0 738.9 L1152.5 738.7 L1153.9 738.4 L1155.4 738.2 L1156.9 737.9 L1158.4 737.7 L1159.9 737.4 L1161.4 737.2 L1162.8 736.9 L1164.3 736.7 L1165.8 736.4 L1167.3 736.2 L1168.8 736.0 L1170.3 735.7 L1171.8 735.5 L1173.2 735.2 L1174.7 735.0 L1176.2 734.7 L1177.7 734.4 L1179.2 734.2 L1180.6 733.9 L1182.1 733.5 L1183.6 733.2 L1185.0 732.9 L1186.5 732.5 L1188.0 732.2 L1189.4 731.8 L1190.9 731.4 L1192.4 731.1 L1193.8 730.7 L1195.3 730.3 L1196.7 729.9 L1198.2 729.5 L1199.6 729.1 L1201.1 728.7 L1202.5 728.3 L1204.0 727.9 L1205.4 727.6 L1206.9 727.2 L1208.3 726.8 L1209.8 726.4 L1211.3 726.0 L1212.7 725.6 L1214.2 725.2 L1215.6 724.8 L1217.1 724.4 L1218.5 724.0 L1219.9 723.5 L1221.4 723.1 L1222.8 722.6 L1224.2 722.2 L1225.7 721.7 L1227.1 721.2 L1228.5 720.7 L1230.0 720.3 L1231.4 719.8 L1232.8 719.3 L1234.2 718.9 L1235.7 718.4 L1237.1 717.9 L1238.5 717.4 L1240.0 717.0 L1241.4 716.5 L1242.8 716.0 L1244.2 715.5 L1245.7 715.0 L1247.1 714.5 L1248.5 713.9 L1249.9 713.4 L1251.2 712.8 L1252.6 712.2 L1254.0 711.6 L1255.4 710.9 L1256.7 710.3 L1258.1 709.7 L1259.5 709.1 L1260.9 708.5 L1262.2 707.8 L1263.6 707.2 L1264.9 706.6 L1266.3 706.1 L1267.6 705.7 L1269.0 705.4 L1270.5 705.2 L1272.0 705.1 L1273.5 705.0 L1275.0 705.0 L1276.5 705.0 L1278.0 705.0 L1279.5 705.0 L1281.0 705.0 L1282.5 705.0 L1284.0 705.0 L1285.5 705.0 L1287.0 705.0 L1288.5 705.0 L1290.0 705.0 L1291.5 705.0 L1293.0 705.0 L1294.5 705.0 L1296.0 705.0 L1297.5 705.0 L1299.0 705.0 L1300.5 705.0 L1302.0 705.0 L1303.6 705.0 L1305.1 705.0 L1306.6 705.0 L1308.1 705.0 L1309.6 705.0 L1311.1 705.0 L1312.6 705.0 L1314.1 705.0 L1315.6 705.0 L1317.1 705.0 L1318.6 705.0 L1320.1 705.0 L1321.6 705.0 L1323.1 705.0 L1324.6 705.0 L1326.1 705.0 L1327.6 705.0 L1329.1 705.0 L1330.6 705.0 L1332.2 705.0 L1333.7 705.0 L1335.2 705.0 L1336.7 705.0 L1338.2 705.0 L1339.7 705.0 L1341.2 705.0 L1342.7 705.0 L1344.2 705.0 L1345.7 705.0 L1347.2 705.0 L1348.7 705.0 L1350.2 705.0 L1351.7 705.0 L1353.2 705.0 L1354.7 705.0 L1356.2 705.0 L1357.7 705.0 L1359.3 705.0 L1360.8 705.0 L1362.3 705.0 L1363.8 705.0 L1365.3 705.0 L1366.8 705.0 L1368.3 705.0 L1369.8 705.0 L1371.3 705.0 L1372.8 705.0" fill="none" stroke="#17a052" stroke-width="3" stroke-linejoin="round" stroke-linecap="round"/>
<line x1="1267.00" y1="705.00" x2="1372.80" y2="705.00" stroke="#17a052" stroke-width="3.8" stroke-linecap="round"/>
<path d="M1037.0 821.0 L1038.0 822.2 L1038.9 823.3 L1039.9 824.5 L1040.8 825.7 L1041.8 826.8 L1042.7 828.0 L1043.7 829.2 L1044.6 830.4 L1045.6 831.6 L1046.5 832.7 L1047.4 833.9 L1048.3 835.1 L1049.2 836.3 L1050.1 837.5 L1051.1 838.8 L1052.0 840.0 L1052.8 841.2 L1053.7 842.4 L1054.6 843.6 L1055.5 844.8 L1056.5 846.0 L1057.4 847.2 L1058.3 848.4 L1059.2 849.6 L1060.1 850.8 L1061.1 852.0 L1062.0 853.1 L1063.0 854.3 L1064.0 855.5 L1065.0 856.6 L1066.0 857.7 L1067.0 858.9 L1068.0 860.0 L1069.0 861.1 L1070.0 862.2 L1071.1 863.2 L1072.2 864.3 L1073.2 865.4 L1074.3 866.4 L1075.4 867.4 L1076.5 868.4 L1077.6 869.4 L1078.8 870.4 L1079.9 871.4 L1081.1 872.4 L1082.2 873.4 L1083.4 874.3 L1084.6 875.3 L1085.7 876.2 L1086.9 877.2 L1088.1 878.1 L1089.3 879.1 L1090.4 880.0 L1091.6 880.9 L1092.8 881.9 L1094.0 882.8 L1095.2 883.7 L1096.4 884.6 L1097.6 885.5 L1098.8 886.4 L1100.0 887.3 L1101.3 888.2 L1102.5 889.1 L1103.7 890.0 L1104.9 890.9 L1106.2 891.7 L1107.4 892.6 L1108.7 893.4 L1109.9 894.3 L1111.2 895.1 L1112.4 895.9 L1113.7 896.8 L1115.0 897.6 L1116.2 898.4 L1117.5 899.2 L1118.8 900.0 L1120.1 900.7 L1121.4 901.5 L1122.7 902.2 L1124.0 902.9 L1125.4 903.6 L1126.7 904.3 L1128.1 905.0 L1129.4 905.6 L1130.8 906.2 L1132.2 906.9 L1133.5 907.5 L1134.9 908.0 L1136.3 908.6 L1137.7 909.2 L1139.1 909.7 L1140.5 910.3 L1141.9 910.8 L1143.3 911.3 L1144.8 911.9 L1146.2 912.4 L1147.6 912.9 L1149.0 913.4 L1150.5 913.9 L1151.9 914.4 L1153.3 914.8 L1154.8 915.3 L1156.2 915.8 L1157.6 916.2 L1159.1 916.7 L1160.5 917.1 L1162.0 917.6 L1163.4 918.0 L1164.8 918.5 L1166.3 918.9 L1167.7 919.3 L1169.2 919.8 L1170.6 920.2 L1172.1 920.7 L1173.5 921.1 L1175.0 921.6 L1176.4 922.0 L1177.8 922.5 L1179.3 922.9 L1180.7 923.4 L1182.1 923.9 L1183.6 924.3 L1185.0 924.8 L1186.4 925.3 L1187.9 925.8 L1189.3 926.3 L1190.7 926.8 L1192.2 927.3 L1193.6 927.8 L1195.0 928.3 L1196.4 928.8 L1197.9 929.2 L1199.3 929.8 L1200.7 930.3 L1202.1 930.8 L1203.6 931.3 L1205.0 931.8 L1206.4 932.3 L1207.8 932.8 L1209.2 933.3 L1210.7 933.8 L1212.1 934.4 L1213.5 934.9 L1214.9 935.4 L1216.3 936.0 L1217.7 936.5 L1219.1 937.0 L1220.5 937.6 L1221.9 938.1 L1223.4 938.7 L1224.8 939.3 L1226.2 939.8 L1227.6 940.4 L1229.0 940.9 L1230.4 941.5 L1231.8 942.1 L1233.2 942.6 L1234.6 943.2 L1236.0 943.8 L1237.4 944.3 L1238.8 944.9 L1240.1 945.5 L1241.5 946.1 L1242.9 946.7 L1244.3 947.3 L1245.7 947.9 L1247.0 948.6 L1248.4 949.2 L1249.8 949.8 L1251.1 950.5 L1252.5 951.1 L1253.9 951.8 L1255.2 952.5 L1256.6 953.1 L1257.9 953.8 L1259.3 954.5 L1260.6 955.1 L1262.0 955.8 L1263.3 956.5 L1264.7 957.2 L1266.0 957.9 L1267.4 958.5 L1268.7 959.2 L1270.1 959.9 L1271.4 960.6 L1272.7 961.3 L1274.1 962.0 L1275.4 962.7 L1276.7 963.5 L1278.1 964.2 L1279.4 964.9 L1280.7 965.7 L1282.0 966.4 L1283.3 967.2 L1284.6 967.9 L1285.9 968.7 L1287.2 969.5 L1288.5 970.2 L1289.8 971.0 L1291.1 971.8 L1292.4 972.6 L1293.7 973.4 L1294.9 974.2 L1296.2 975.0 L1297.5 975.8 L1298.8 976.6 L1300.0 977.5 L1301.3 978.3 L1302.5 979.1 L1303.8 980.0 L1305.0 980.9 L1306.2 981.7 L1307.5 982.6 L1308.7 983.5 L1309.9 984.4 L1311.1 985.3 L1312.4 986.1 L1313.6 987.0 L1314.8 987.9 L1316.0 988.8 L1317.2 989.7 L1318.5 990.6 L1319.7 991.5 L1320.9 992.4 L1322.1 993.3 L1323.3 994.2 L1324.5 995.1 L1325.8 996.0 L1327.0 996.9 L1328.2 997.8 L1329.4 998.7 L1330.6 999.6 L1331.8 1000.5 L1333.0 1001.4 L1334.2 1002.3 L1335.5 1003.2 L1336.6 1004.1 L1337.8 1005.0 L1339.0 1006.0 L1340.2 1006.9 L1341.4 1007.9 L1342.5 1008.8 L1343.7 1009.8 L1344.8 1010.8 L1346.0 1011.8 L1347.1 1012.8 L1348.2 1013.8 L1349.4 1014.8 L1350.5 1015.8 L1351.6 1016.8 L1352.7 1017.8 L1353.8 1018.8 L1354.9 1019.9 L1356.1 1020.9 L1357.2 1021.9 L1358.3 1022.9 L1359.4 1023.9 L1360.5 1025.0 L1361.6 1026.0" fill="none" stroke="#17a052" stroke-width="3" stroke-linejoin="round" stroke-linecap="round"/>
<path d="M1022.7 827.8 L1023.0 826.3 L1023.2 824.8 L1023.5 823.3 L1023.8 821.9 L1024.0 820.4 L1024.3 818.9 L1024.5 817.4 L1024.8 815.9 L1025.1 814.4 L1025.3 813.0 L1025.6 811.5 L1025.9 810.0 L1026.1 808.5 L1026.4 807.0 L1026.7 805.5 L1027.0 804.1 L1027.2 802.6 L1027.5 801.1 L1027.8 799.6 L1028.1 798.1 L1028.4 796.7 L1028.7 795.2 L1029.0 793.7 L1029.3 792.2 L1029.6 790.8 L1030.0 789.3 L1030.4 787.9 L1030.8 786.5 L1031.4 785.2 L1032.2 784.0 L1033.1 782.9 L1034.1 781.8 L1035.1 780.8 L1036.2 779.8 L1037.4 778.8 L1038.5 777.8 L1039.6 776.8 L1040.7 775.7 L1041.8 774.7 L1042.9 773.7 L1044.0 772.6 L1045.0 771.5 L1046.1 770.5 L1047.2 769.4 L1048.2 768.4 L1049.3 767.3 L1050.4 766.2 L1051.4 765.2 L1052.5 764.1 L1053.6 763.0 L1054.6 762.0 L1055.7 760.9 L1056.8 759.8 L1057.8 758.7 L1058.9 757.7 L1060.0 756.6 L1061.0 755.5 L1062.1 754.5 L1063.1 753.4 L1064.2 752.4 L1065.3 751.3 L1066.4 750.3 L1067.6 749.4 L1068.8 748.5 L1070.0 747.6 L1071.3 746.8 L1072.6 746.0 L1073.8 745.2 L1075.1 744.5 L1076.4 743.7 L1077.7 742.9 L1079.1 742.2 L1080.4 741.5 L1081.7 740.8 L1083.1 740.2 L1084.5 739.6 L1085.9 739.0 L1087.2 738.4 L1088.6 737.9 L1090.0 737.3 L1091.4 736.8 L1092.9 736.2 L1094.3 735.7 L1095.7 735.3 L1097.1 734.8 L1098.6 734.4 L1100.0 734.0 L1101.5 733.6 L1103.0 733.2 L1104.4 732.8 L1105.9 732.4 L1107.3 732.1 L1108.8 731.7 L1110.2 731.3 L1111.7 730.9 L1113.1 730.5 L1114.6 730.0 L1116.0 729.6 L1117.5 729.1 L1118.9 728.7 L1120.3 728.2 L1121.7 727.7 L1123.2 727.2 L1124.6 726.7 L1126.0 726.2 L1127.4 725.7 L1128.9 725.2 L1130.3 724.7 L1131.7 724.3 L1133.2 723.8 L1134.6 723.4 L1136.1 723.0 L1137.5 722.6 L1139.0 722.2 L1140.4 721.8 L1141.9 721.4 L1143.4 721.0 L1144.8 720.6 L1146.3 720.3 L1147.7 719.9 L1149.2 719.5 L1150.6 719.1 L1152.1 718.7 L1153.5 718.3 L1155.0 717.9 L1156.5 717.5 L1157.9 717.1 L1159.4 716.7 L1160.8 716.4 L1162.3 716.0 L1163.7 715.6 L1165.2 715.2 L1166.7 714.8 L1168.1 714.4 L1169.6 714.0 L1171.0 713.6 L1172.5 713.1 L1173.9 712.7 L1175.3 712.2 L1176.7 711.7 L1178.2 711.2 L1179.6 710.7 L1181.0 710.2 L1182.4 709.6 L1183.8 709.1 L1185.2 708.6 L1186.6 708.1 L1188.1 707.6 L1189.5 707.1 L1190.9 706.6 L1192.4 706.2 L1193.8 705.9 L1195.3 705.6 L1196.8 705.4 L1198.3 705.2 L1199.8 705.1 L1201.3 705.1 L1202.8 705.0 L1204.3 705.0 L1205.8 705.0 L1207.3 705.0 L1208.8 705.0 L1210.3 705.0 L1211.8 705.0 L1213.3 705.0 L1214.8 705.0 L1216.3 705.0 L1217.8 705.0 L1219.3 705.0 L1220.9 705.0 L1222.4 705.0 L1223.9 705.0 L1225.4 705.0 L1226.9 705.0 L1228.4 705.0 L1229.9 705.0 L1231.4 705.0 L1232.9 705.0 L1234.4 705.0 L1235.9 705.0 L1237.4 705.0 L1238.9 705.0 L1240.5 705.0 L1242.0 705.0 L1243.5 705.0 L1245.0 705.0 L1246.5 705.0 L1248.0 705.0 L1249.5 705.0 L1251.0 705.0 L1252.5 705.0 L1254.0 705.0 L1255.5 705.0 L1257.0 705.0 L1258.6 705.0 L1260.1 705.0 L1261.6 705.0 L1263.1 705.0 L1264.6 705.0 L1266.1 705.0 L1267.6 705.0 L1269.1 705.0 L1270.6 705.0 L1272.1 705.0 L1273.6 705.0 L1275.1 705.0 L1276.6 705.0 L1278.2 705.0 L1279.7 705.0 L1281.2 705.0 L1282.7 705.0 L1284.2 705.0 L1285.7 705.0 L1287.2 705.0 L1288.7 705.0 L1290.2 705.0 L1291.7 705.0 L1293.2 705.0 L1294.7 705.0 L1296.2 705.0 L1297.8 705.0 L1299.3 705.0 L1300.8 705.0 L1302.3 705.0 L1303.8 705.0 L1305.3 705.0 L1306.8 705.0" fill="none" stroke="#a45de2" stroke-width="3" stroke-linejoin="round" stroke-linecap="round"/>
<line x1="1199.60" y1="705.00" x2="1306.80" y2="705.00" stroke="#a45de2" stroke-width="3.8" stroke-linecap="round"/>
<path d="M1041.7 870.0 L1042.6 871.2 L1043.6 872.4 L1044.5 873.6 L1045.4 874.8 L1046.4 875.9 L1047.3 877.1 L1048.2 878.3 L1049.2 879.5 L1050.1 880.7 L1051.0 881.9 L1052.0 883.1 L1052.9 884.3 L1053.8 885.5 L1054.7 886.7 L1055.6 887.9 L1056.5 889.1 L1057.5 890.3 L1058.4 891.5 L1059.3 892.7 L1060.2 893.9 L1061.1 895.1 L1062.1 896.3 L1063.0 897.5 L1063.9 898.7 L1064.9 899.8 L1065.9 901.0 L1066.9 902.1 L1067.8 903.3 L1068.8 904.4 L1069.9 905.5 L1070.9 906.6 L1071.9 907.7 L1072.9 908.8 L1074.0 909.9 L1075.0 911.0 L1076.1 912.1 L1077.1 913.2 L1078.2 914.3 L1079.2 915.3 L1080.3 916.4 L1081.4 917.5 L1082.5 918.5 L1083.6 919.5 L1084.7 920.5 L1085.8 921.5 L1087.0 922.5 L1088.1 923.5 L1089.3 924.5 L1090.5 925.4 L1091.6 926.4 L1092.8 927.3 L1094.0 928.2 L1095.2 929.2 L1096.4 930.1 L1097.6 931.0 L1098.8 931.9 L1100.1 932.8 L1101.3 933.7 L1102.5 934.5 L1103.7 935.4 L1105.0 936.3 L1106.2 937.1 L1107.5 938.0 L1108.7 938.8 L1110.0 939.7 L1111.2 940.5 L1112.5 941.3 L1113.8 942.1 L1115.1 942.9 L1116.4 943.6 L1117.7 944.4 L1119.0 945.1 L1120.3 945.8 L1121.7 946.5 L1123.0 947.2 L1124.4 947.9 L1125.7 948.6 L1127.1 949.2 L1128.4 949.9 L1129.8 950.5 L1131.2 951.2 L1132.6 951.8 L1133.9 952.4 L1135.3 953.0 L1136.7 953.6 L1138.1 954.2 L1139.5 954.8 L1140.9 955.3 L1142.3 955.9 L1143.7 956.5 L1145.1 957.0 L1146.5 957.5 L1147.9 958.1 L1149.4 958.6 L1150.8 959.1 L1152.2 959.6 L1153.6 960.1 L1155.0 960.6 L1156.5 961.2 L1157.9 961.7 L1159.3 962.2 L1160.7 962.7 L1162.2 963.2 L1163.6 963.7 L1165.0 964.2 L1166.4 964.7 L1167.9 965.2 L1169.3 965.7 L1170.7 966.3 L1172.1 966.8 L1173.5 967.3 L1175.0 967.9 L1176.4 968.4 L1177.8 968.9 L1179.2 969.5 L1180.6 970.0 L1182.0 970.6 L1183.4 971.2 L1184.8 971.7 L1186.2 972.3 L1187.6 972.8 L1189.0 973.4 L1190.4 973.9 L1191.9 974.5 L1193.3 975.1 L1194.7 975.6 L1196.1 976.2 L1197.5 976.7 L1198.9 977.3 L1200.3 977.8 L1201.7 978.4 L1203.1 978.9 L1204.5 979.4 L1206.0 980.0 L1207.4 980.5 L1208.8 981.0 L1210.2 981.5 L1211.6 982.0 L1213.1 982.6 L1214.5 983.1 L1215.9 983.6 L1217.3 984.1 L1218.8 984.6 L1220.2 985.1 L1221.6 985.6 L1223.0 986.1 L1224.4 986.6 L1225.9 987.2 L1227.3 987.7 L1228.7 988.2 L1230.1 988.8 L1231.5 989.4 L1232.9 989.9 L1234.3 990.5 L1235.6 991.2 L1237.0 991.8 L1238.3 992.5 L1239.7 993.1 L1241.0 993.8 L1242.3 994.5 L1243.7 995.3 L1245.0 996.0 L1246.3 996.8 L1247.6 997.5 L1248.9 998.3 L1250.2 999.0 L1251.5 999.8 L1252.8 1000.6 L1254.1 1001.4 L1255.4 1002.2 L1256.7 1002.9 L1258.0 1003.7 L1259.3 1004.5 L1260.6 1005.3 L1261.9 1006.0 L1263.2 1006.8 L1264.5 1007.6 L1265.8 1008.4 L1267.1 1009.2 L1268.4 1009.9 L1269.7 1010.7 L1271.0 1011.5 L1272.2 1012.3 L1273.5 1013.1 L1274.8 1013.9 L1276.1 1014.7 L1277.4 1015.4 L1278.7 1016.2 L1280.0 1017.0 L1281.3 1017.9 L1282.5 1018.7 L1283.8 1019.5 L1285.1 1020.3 L1286.4 1021.1 L1287.6 1021.9 L1288.9 1022.7 L1290.2 1023.5 L1291.5 1024.4 L1292.7 1025.2 L1294.0 1026.0" fill="none" stroke="#a45de2" stroke-width="3" stroke-linejoin="round" stroke-linecap="round"/>
<line x1="1343.30" y1="767.50" x2="1398.80" y2="767.50" stroke="#3a3a3a" stroke-width="4.2" stroke-linecap="butt"/>
<text x="1404.3" y="775.5" font-size="22.5" fill="#3a3a3a" text-anchor="start" >1</text>
<line x1="1438.80" y1="767.50" x2="1494.30" y2="767.50" stroke="#ff2a2a" stroke-width="4.0" stroke-linecap="butt"/>
<text x="1499.8" y="775.5" font-size="22.5" fill="#ff2a2a" text-anchor="start" >2</text>
<line x1="1343.30" y1="797.00" x2="1398.80" y2="797.00" stroke="#0d5ce6" stroke-width="3.5" stroke-linecap="butt"/>
<text x="1404.3" y="805.0" font-size="22.5" fill="#0d5ce6" text-anchor="start" >3</text>
<line x1="1438.80" y1="797.00" x2="1494.30" y2="797.00" stroke="#17a052" stroke-width="3.5" stroke-linecap="butt"/>
<text x="1499.8" y="805.0" font-size="22.5" fill="#17a052" text-anchor="start" >4</text>
<line x1="1343.30" y1="830.30" x2="1398.80" y2="830.30" stroke="#a45de2" stroke-width="3.0" stroke-linecap="butt"/>
<text x="1404.3" y="838.3" font-size="22.5" fill="#a45de2" text-anchor="start" >5</text>
<text x="1441.0" y="838.5" font-size="23.5" fill="#000" text-anchor="start" >Unit Ag<tspan font-size="16.5" dy="-10">-1</tspan></text>
<line x1="978.70" y1="635.80" x2="1551.20" y2="635.80" stroke="#000" stroke-width="3.2" stroke-linecap="butt"/>
<line x1="978.70" y1="1094.00" x2="1551.20" y2="1094.00" stroke="#000" stroke-width="3.8" stroke-linecap="butt"/>
<line x1="980.30" y1="635.80" x2="980.30" y2="1094.00" stroke="#000" stroke-width="3.2" stroke-linecap="butt"/>
<line x1="1549.00" y1="634.20" x2="1549.00" y2="1095.90" stroke="#000" stroke-width="4.4" stroke-linecap="butt"/>
<line x1="971.30" y1="1094.00" x2="980.30" y2="1094.00" stroke="#000" stroke-width="3" stroke-linecap="butt"/>
<text x="963.8" y="1101.4" font-size="24.5" fill="#000" text-anchor="end" >0.2</text>
<line x1="975.30" y1="1071.09" x2="980.30" y2="1071.09" stroke="#000" stroke-width="3" stroke-linecap="butt"/>
<line x1="971.30" y1="1048.18" x2="980.30" y2="1048.18" stroke="#000" stroke-width="3" stroke-linecap="butt"/>
<text x="963.8" y="1055.6" font-size="24.5" fill="#000" text-anchor="end" >0.4</text>
<line x1="975.30" y1="1025.27" x2="980.30" y2="1025.27" stroke="#000" stroke-width="3" stroke-linecap="butt"/>
<line x1="971.30" y1="1002.36" x2="980.30" y2="1002.36" stroke="#000" stroke-width="3" stroke-linecap="butt"/>
<text x="963.8" y="1009.8" font-size="24.5" fill="#000" text-anchor="end" >0.6</text>
<line x1="975.30" y1="979.45" x2="980.30" y2="979.45" stroke="#000" stroke-width="3" stroke-linecap="butt"/>
<line x1="971.30" y1="956.54" x2="980.30" y2="956.54" stroke="#000" stroke-width="3" stroke-linecap="butt"/>
<text x="963.8" y="963.9" font-size="24.5" fill="#000" text-anchor="end" >0.8</text>
<line x1="975.30" y1="933.63" x2="980.30" y2="933.63" stroke="#000" stroke-width="3" stroke-linecap="butt"/>
<line x1="971.30" y1="910.72" x2="980.30" y2="910.72" stroke="#000" stroke-width="3" stroke-linecap="butt"/>
<text x="963.8" y="918.1" font-size="24.5" fill="#000" text-anchor="end" >1.0</text>
<line x1="975.30" y1="887.81" x2="980.30" y2="887.81" stroke="#000" stroke-width="3" stroke-linecap="butt"/>
<line x1="971.30" y1="864.90" x2="980.30" y2="864.90" stroke="#000" stroke-width="3" stroke-linecap="butt"/>
<text x="963.8" y="872.3" font-size="24.5" fill="#000" text-anchor="end" >1.2</text>
<line x1="975.30" y1="841.99" x2="980.30" y2="841.99" stroke="#000" stroke-width="3" stroke-linecap="butt"/>
<line x1="971.30" y1="819.08" x2="980.30" y2="819.08" stroke="#000" stroke-width="3" stroke-linecap="butt"/>
<text x="963.8" y="826.5" font-size="24.5" fill="#000" text-anchor="end" >1.4</text>
<line x1="975.30" y1="796.17" x2="980.30" y2="796.17" stroke="#000" stroke-width="3" stroke-linecap="butt"/>
<line x1="971.30" y1="773.26" x2="980.30" y2="773.26" stroke="#000" stroke-width="3" stroke-linecap="butt"/>
<text x="963.8" y="780.7" font-size="24.5" fill="#000" text-anchor="end" >1.6</text>
<line x1="975.30" y1="750.35" x2="980.30" y2="750.35" stroke="#000" stroke-width="3" stroke-linecap="butt"/>
<line x1="971.30" y1="727.44" x2="980.30" y2="727.44" stroke="#000" stroke-width="3" stroke-linecap="butt"/>
<text x="963.8" y="734.8" font-size="24.5" fill="#000" text-anchor="end" >1.8</text>
<line x1="975.30" y1="704.53" x2="980.30" y2="704.53" stroke="#000" stroke-width="3" stroke-linecap="butt"/>
<line x1="971.30" y1="681.62" x2="980.30" y2="681.62" stroke="#000" stroke-width="3" stroke-linecap="butt"/>
<text x="963.8" y="689.0" font-size="24.5" fill="#000" text-anchor="end" >2.0</text>
<line x1="975.30" y1="658.71" x2="980.30" y2="658.71" stroke="#000" stroke-width="3" stroke-linecap="butt"/>
<line x1="971.30" y1="635.80" x2="980.30" y2="635.80" stroke="#000" stroke-width="3" stroke-linecap="butt"/>
<text x="963.8" y="643.2" font-size="24.5" fill="#000" text-anchor="end" >2.2</text>
<line x1="980.30" y1="1094.00" x2="980.30" y2="1099.00" stroke="#000" stroke-width="3.5" stroke-linecap="butt"/>
<line x1="1024.05" y1="1094.00" x2="1024.05" y2="1103.00" stroke="#000" stroke-width="3.5" stroke-linecap="butt"/>
<text x="1024.0" y="1128.5" font-size="24.5" fill="#000" text-anchor="middle" >0</text>
<line x1="1067.79" y1="1094.00" x2="1067.79" y2="1099.00" stroke="#000" stroke-width="3.5" stroke-linecap="butt"/>
<line x1="1111.54" y1="1094.00" x2="1111.54" y2="1103.00" stroke="#000" stroke-width="3.5" stroke-linecap="butt"/>
<text x="1111.5" y="1128.5" font-size="24.5" fill="#000" text-anchor="middle" >50</text>
<line x1="1155.28" y1="1094.00" x2="1155.28" y2="1099.00" stroke="#000" stroke-width="3.5" stroke-linecap="butt"/>
<line x1="1199.03" y1="1094.00" x2="1199.03" y2="1103.00" stroke="#000" stroke-width="3.5" stroke-linecap="butt"/>
<text x="1199.0" y="1128.5" font-size="24.5" fill="#000" text-anchor="middle" >100</text>
<line x1="1242.78" y1="1094.00" x2="1242.78" y2="1099.00" stroke="#000" stroke-width="3.5" stroke-linecap="butt"/>
<line x1="1286.52" y1="1094.00" x2="1286.52" y2="1103.00" stroke="#000" stroke-width="3.5" stroke-linecap="butt"/>
<text x="1286.5" y="1128.5" font-size="24.5" fill="#000" text-anchor="middle" >150</text>
<line x1="1330.27" y1="1094.00" x2="1330.27" y2="1099.00" stroke="#000" stroke-width="3.5" stroke-linecap="butt"/>
<line x1="1374.02" y1="1094.00" x2="1374.02" y2="1103.00" stroke="#000" stroke-width="3.5" stroke-linecap="butt"/>
<text x="1374.0" y="1128.5" font-size="24.5" fill="#000" text-anchor="middle" >200</text>
<line x1="1417.76" y1="1094.00" x2="1417.76" y2="1099.00" stroke="#000" stroke-width="3.5" stroke-linecap="butt"/>
<line x1="1461.51" y1="1094.00" x2="1461.51" y2="1103.00" stroke="#000" stroke-width="3.5" stroke-linecap="butt"/>
<text x="1461.5" y="1128.5" font-size="24.5" fill="#000" text-anchor="middle" >250</text>
<line x1="1505.25" y1="1094.00" x2="1505.25" y2="1099.00" stroke="#000" stroke-width="3.5" stroke-linecap="butt"/>
<line x1="1549.00" y1="1094.00" x2="1549.00" y2="1103.00" stroke="#000" stroke-width="3.5" stroke-linecap="butt"/>
<text x="1549.0" y="1128.5" font-size="24.5" fill="#000" text-anchor="middle" >300</text>
<text x="1262.5" y="1170.7" font-size="28.3" fill="#000" text-anchor="middle" >Capacity <tspan font-size="24">(</tspan>mAh g<tspan dy="-8.5">-1</tspan><tspan dy="8.5" font-size="24">)</tspan></text>
<text transform="translate(911.8,851.6) rotate(-90)" x="0" y="0" font-size="28.6" fill="#000" text-anchor="middle" >Voltage (V)</text>
<text x="852.0" y="616.4" font-size="60" fill="#000" text-anchor="start" >(d)</text>
<line x1="149.00" y1="622.00" x2="721.90" y2="622.00" stroke="#000" stroke-width="3" stroke-linecap="butt"/>
<line x1="149.00" y1="1079.50" x2="721.90" y2="1079.50" stroke="#000" stroke-width="3" stroke-linecap="butt"/>
<line x1="150.50" y1="622.00" x2="150.50" y2="1079.50" stroke="#000" stroke-width="3" stroke-linecap="butt"/>
<line x1="720.40" y1="622.00" x2="720.40" y2="1079.50" stroke="#000" stroke-width="3" stroke-linecap="butt"/>
<line x1="142.00" y1="1079.50" x2="150.50" y2="1079.50" stroke="#000" stroke-width="3" stroke-linecap="butt"/>
<text x="136.0" y="1087.5" font-size="24.5" fill="#000" text-anchor="end" >0</text>
<line x1="146.00" y1="1042.60" x2="150.50" y2="1042.60" stroke="#000" stroke-width="3" stroke-linecap="butt"/>
<line x1="142.00" y1="1005.71" x2="150.50" y2="1005.71" stroke="#000" stroke-width="3" stroke-linecap="butt"/>
<text x="136.0" y="1013.7" font-size="24.5" fill="#000" text-anchor="end" >50</text>
<line x1="146.00" y1="968.81" x2="150.50" y2="968.81" stroke="#000" stroke-width="3" stroke-linecap="butt"/>
<line x1="142.00" y1="931.92" x2="150.50" y2="931.92" stroke="#000" stroke-width="3" stroke-linecap="butt"/>
<text x="136.0" y="939.9" font-size="24.5" fill="#000" text-anchor="end" >100</text>
<line x1="146.00" y1="895.02" x2="150.50" y2="895.02" stroke="#000" stroke-width="3" stroke-linecap="butt"/>
<line x1="142.00" y1="858.13" x2="150.50" y2="858.13" stroke="#000" stroke-width="3" stroke-linecap="butt"/>
<text x="136.0" y="866.1" font-size="24.5" fill="#000" text-anchor="end" >150</text>
<line x1="146.00" y1="821.23" x2="150.50" y2="821.23" stroke="#000" stroke-width="3" stroke-linecap="butt"/>
<line x1="142.00" y1="784.34" x2="150.50" y2="784.34" stroke="#000" stroke-width="3" stroke-linecap="butt"/>
<text x="136.0" y="792.3" font-size="24.5" fill="#000" text-anchor="end" >200</text>
<line x1="146.00" y1="747.44" x2="150.50" y2="747.44" stroke="#000" stroke-width="3" stroke-linecap="butt"/>
<line x1="142.00" y1="710.55" x2="150.50" y2="710.55" stroke="#000" stroke-width="3" stroke-linecap="butt"/>
<text x="136.0" y="718.5" font-size="24.5" fill="#000" text-anchor="end" >250</text>
<line x1="146.00" y1="673.65" x2="150.50" y2="673.65" stroke="#000" stroke-width="3" stroke-linecap="butt"/>
<line x1="142.00" y1="636.76" x2="150.50" y2="636.76" stroke="#000" stroke-width="3" stroke-linecap="butt"/>
<text x="136.0" y="644.8" font-size="24.5" fill="#000" text-anchor="end" >300</text>
<line x1="150.50" y1="1079.50" x2="150.50" y2="1084.00" stroke="#000" stroke-width="3" stroke-linecap="butt"/>
<line x1="191.21" y1="1079.50" x2="191.21" y2="1088.00" stroke="#000" stroke-width="3" stroke-linecap="butt"/>
<text x="191.2" y="1114.0" font-size="24.5" fill="#000" text-anchor="middle" >0</text>
<line x1="231.91" y1="1079.50" x2="231.91" y2="1084.00" stroke="#000" stroke-width="3" stroke-linecap="butt"/>
<line x1="272.62" y1="1079.50" x2="272.62" y2="1088.00" stroke="#000" stroke-width="3" stroke-linecap="butt"/>
<text x="272.6" y="1114.0" font-size="24.5" fill="#000" text-anchor="middle" >10</text>
<line x1="313.33" y1="1079.50" x2="313.33" y2="1084.00" stroke="#000" stroke-width="3" stroke-linecap="butt"/>
<line x1="354.04" y1="1079.50" x2="354.04" y2="1088.00" stroke="#000" stroke-width="3" stroke-linecap="butt"/>
<text x="354.0" y="1114.0" font-size="24.5" fill="#000" text-anchor="middle" >20</text>
<line x1="394.74" y1="1079.50" x2="394.74" y2="1084.00" stroke="#000" stroke-width="3" stroke-linecap="butt"/>
<line x1="435.45" y1="1079.50" x2="435.45" y2="1088.00" stroke="#000" stroke-width="3" stroke-linecap="butt"/>
<text x="435.4" y="1114.0" font-size="24.5" fill="#000" text-anchor="middle" >30</text>
<line x1="476.16" y1="1079.50" x2="476.16" y2="1084.00" stroke="#000" stroke-width="3" stroke-linecap="butt"/>
<line x1="516.86" y1="1079.50" x2="516.86" y2="1088.00" stroke="#000" stroke-width="3" stroke-linecap="butt"/>
<text x="516.9" y="1114.0" font-size="24.5" fill="#000" text-anchor="middle" >40</text>
<line x1="557.57" y1="1079.50" x2="557.57" y2="1084.00" stroke="#000" stroke-width="3" stroke-linecap="butt"/>
<line x1="598.28" y1="1079.50" x2="598.28" y2="1088.00" stroke="#000" stroke-width="3" stroke-linecap="butt"/>
<text x="598.3" y="1114.0" font-size="24.5" fill="#000" text-anchor="middle" >50</text>
<line x1="638.99" y1="1079.50" x2="638.99" y2="1084.00" stroke="#000" stroke-width="3" stroke-linecap="butt"/>
<line x1="679.69" y1="1079.50" x2="679.69" y2="1088.00" stroke="#000" stroke-width="3" stroke-linecap="butt"/>
<text x="679.7" y="1114.0" font-size="24.5" fill="#000" text-anchor="middle" >60</text>
<line x1="720.40" y1="1079.50" x2="720.40" y2="1084.00" stroke="#000" stroke-width="3" stroke-linecap="butt"/>
<circle cx="199.3" cy="705.0" r="3.6" fill="#fff" stroke="#ff0000" stroke-width="4.4"/>
<circle cx="207.5" cy="705.0" r="3.6" fill="#fff" stroke="#ff0000" stroke-width="4.4"/>
<circle cx="215.6" cy="705.0" r="3.6" fill="#fff" stroke="#ff0000" stroke-width="4.4"/>
<circle cx="223.8" cy="705.0" r="3.6" fill="#fff" stroke="#ff0000" stroke-width="4.4"/>
<circle cx="231.9" cy="705.0" r="3.6" fill="#fff" stroke="#ff0000" stroke-width="4.4"/>
<circle cx="240.1" cy="705.0" r="3.6" fill="#fff" stroke="#ff0000" stroke-width="4.4"/>
<circle cx="248.2" cy="705.0" r="3.6" fill="#fff" stroke="#ff0000" stroke-width="4.4"/>
<circle cx="256.3" cy="705.0" r="3.6" fill="#fff" stroke="#ff0000" stroke-width="4.4"/>
<circle cx="264.5" cy="705.0" r="3.6" fill="#fff" stroke="#ff0000" stroke-width="4.4"/>
<circle cx="272.6" cy="705.0" r="3.6" fill="#fff" stroke="#ff0000" stroke-width="4.4"/>
<circle cx="280.8" cy="753.5" r="3.6" fill="#fff" stroke="#ff0000" stroke-width="4.4"/>
<circle cx="288.9" cy="753.5" r="3.6" fill="#fff" stroke="#ff0000" stroke-width="4.4"/>
<circle cx="297.0" cy="746.6" r="3.6" fill="#fff" stroke="#ff0000" stroke-width="4.4"/>
<circle cx="305.2" cy="742.0" r="3.6" fill="#fff" stroke="#ff0000" stroke-width="4.4"/>
<circle cx="313.3" cy="739.7" r="3.6" fill="#fff" stroke="#ff0000" stroke-width="4.4"/>
<circle cx="321.5" cy="739.2" r="3.6" fill="#fff" stroke="#ff0000" stroke-width="4.4"/>
<circle cx="329.6" cy="739.7" r="3.6" fill="#fff" stroke="#ff0000" stroke-width="4.4"/>
<circle cx="337.8" cy="741.5" r="3.6" fill="#fff" stroke="#ff0000" stroke-width="4.4"/>
<circle cx="345.9" cy="742.6" r="3.6" fill="#fff" stroke="#ff0000" stroke-width="4.4"/>
<circle cx="354.0" cy="743.2" r="3.6" fill="#fff" stroke="#ff0000" stroke-width="4.4"/>
<circle cx="362.2" cy="775.7" r="3.6" fill="#fff" stroke="#ff0000" stroke-width="4.4"/>
<circle cx="370.3" cy="772.3" r="3.6" fill="#fff" stroke="#ff0000" stroke-width="4.4"/>
<circle cx="378.5" cy="768.8" r="3.6" fill="#fff" stroke="#ff0000" stroke-width="4.4"/>
<circle cx="386.6" cy="766.5" r="3.6" fill="#fff" stroke="#ff0000" stroke-width="4.4"/>
<circle cx="394.7" cy="765.4" r="3.6" fill="#fff" stroke="#ff0000" stroke-width="4.4"/>
<circle cx="402.9" cy="764.8" r="3.6" fill="#fff" stroke="#ff0000" stroke-width="4.4"/>
<circle cx="411.0" cy="764.8" r="3.6" fill="#fff" stroke="#ff0000" stroke-width="4.4"/>
<circle cx="419.2" cy="765.4" r="3.6" fill="#fff" stroke="#ff0000" stroke-width="4.4"/>
<circle cx="427.3" cy="766.5" r="3.6" fill="#fff" stroke="#ff0000" stroke-width="4.4"/>
<circle cx="435.4" cy="767.7" r="3.6" fill="#fff" stroke="#ff0000" stroke-width="4.4"/>
<circle cx="443.6" cy="798.1" r="3.6" fill="#fff" stroke="#ff0000" stroke-width="4.4"/>
<circle cx="451.7" cy="795.8" r="3.6" fill="#fff" stroke="#ff0000" stroke-width="4.4"/>
<circle cx="459.9" cy="795.0" r="3.6" fill="#fff" stroke="#ff0000" stroke-width="4.4"/>
<circle cx="468.0" cy="794.5" r="3.6" fill="#fff" stroke="#ff0000" stroke-width="4.4"/>
<circle cx="476.2" cy="794.0" r="3.6" fill="#fff" stroke="#ff0000" stroke-width="4.4"/>
<circle cx="484.3" cy="794.0" r="3.6" fill="#fff" stroke="#ff0000" stroke-width="4.4"/>
<circle cx="492.4" cy="794.0" r="3.6" fill="#fff" stroke="#ff0000" stroke-width="4.4"/>
<circle cx="500.6" cy="794.5" r="3.6" fill="#fff" stroke="#ff0000" stroke-width="4.4"/>
<circle cx="508.7" cy="795.0" r="3.6" fill="#fff" stroke="#ff0000" stroke-width="4.4"/>
<circle cx="516.9" cy="795.0" r="3.6" fill="#fff" stroke="#ff0000" stroke-width="4.4"/>
<circle cx="525.0" cy="854.3" r="3.6" fill="#fff" stroke="#ff0000" stroke-width="4.4"/>
<circle cx="533.1" cy="850.5" r="3.6" fill="#fff" stroke="#ff0000" stroke-width="4.4"/>
<circle cx="541.3" cy="843.6" r="3.6" fill="#fff" stroke="#ff0000" stroke-width="4.4"/>
<circle cx="549.4" cy="848.2" r="3.6" fill="#fff" stroke="#ff0000" stroke-width="4.4"/>
<circle cx="557.6" cy="849.7" r="3.6" fill="#fff" stroke="#ff0000" stroke-width="4.4"/>
<circle cx="565.7" cy="848.9" r="3.6" fill="#fff" stroke="#ff0000" stroke-width="4.4"/>
<circle cx="573.9" cy="853.5" r="3.6" fill="#fff" stroke="#ff0000" stroke-width="4.4"/>
<circle cx="582.0" cy="852.7" r="3.6" fill="#fff" stroke="#ff0000" stroke-width="4.4"/>
<circle cx="590.1" cy="852.0" r="3.6" fill="#fff" stroke="#ff0000" stroke-width="4.4"/>
<circle cx="598.3" cy="851.2" r="3.6" fill="#fff" stroke="#ff0000" stroke-width="4.4"/>
<circle cx="606.4" cy="735.1" r="3.6" fill="#fff" stroke="#ff0000" stroke-width="4.4"/>
<circle cx="614.6" cy="734.3" r="3.6" fill="#fff" stroke="#ff0000" stroke-width="4.4"/>
<circle cx="622.7" cy="730.5" r="3.6" fill="#fff" stroke="#ff0000" stroke-width="4.4"/>
<circle cx="630.8" cy="738.9" r="3.6" fill="#fff" stroke="#ff0000" stroke-width="4.4"/>
<circle cx="639.0" cy="735.1" r="3.6" fill="#fff" stroke="#ff0000" stroke-width="4.4"/>
<circle cx="647.1" cy="733.6" r="3.6" fill="#fff" stroke="#ff0000" stroke-width="4.4"/>
<circle cx="655.3" cy="735.8" r="3.6" fill="#fff" stroke="#ff0000" stroke-width="4.4"/>
<circle cx="663.4" cy="738.1" r="3.6" fill="#fff" stroke="#ff0000" stroke-width="4.4"/>
<circle cx="671.6" cy="740.4" r="3.6" fill="#fff" stroke="#ff0000" stroke-width="4.4"/>
<circle cx="679.7" cy="742.7" r="3.6" fill="#fff" stroke="#ff0000" stroke-width="4.4"/>
<text x="238.0" y="686.4" font-size="23.5" fill="#000" text-anchor="middle" >1A g-1</text>
<text x="325.7" y="723.6" font-size="23.5" fill="#000" text-anchor="middle" >2A g-1</text>
<text x="411.5" y="744.7" font-size="23.5" fill="#000" text-anchor="middle" >3A g-1</text>
<text x="491.0" y="779.2" font-size="23.5" fill="#000" text-anchor="middle" >4A g-1</text>
<text x="572.3" y="834.4" font-size="23.5" fill="#000" text-anchor="middle" >5A g-1</text>
<text x="640.3" y="716.7" font-size="23.5" fill="#000" text-anchor="middle" >1A g-1</text>
<text x="425.5" y="1145.0" font-size="32" fill="#000" text-anchor="middle" >Times</text>
<text transform="translate(86.5,851.4) rotate(-90)" x="0" y="0" font-size="32.2" fill="#000" text-anchor="middle" >Capacity (mAh g<tspan font-size="31" dy="-8">-1</tspan><tspan dy="8">)</tspan></text>
<text x="-1.5" y="602.0" font-size="59" fill="#000" text-anchor="start" >(c)</text>
</svg>
</body></html>
